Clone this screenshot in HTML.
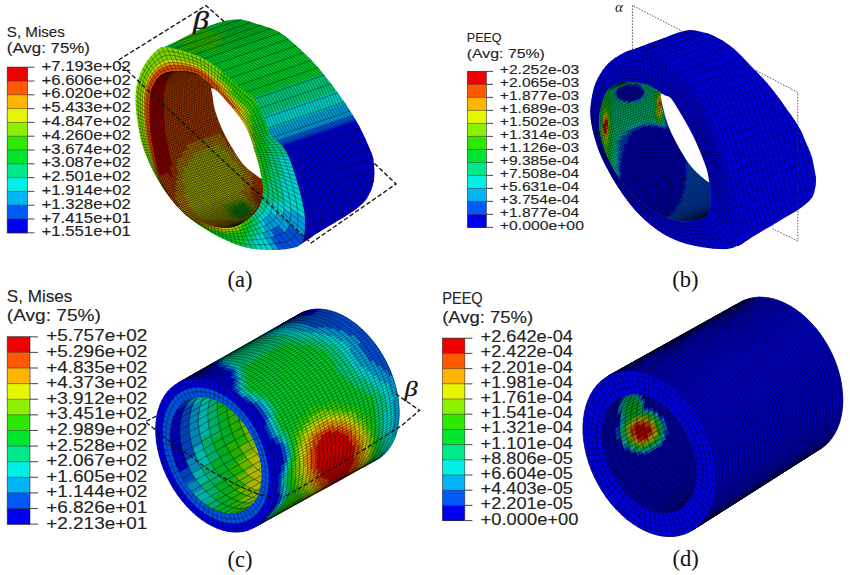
<!DOCTYPE html>
<html><head><meta charset="utf-8"><style>
html,body{margin:0;padding:0;background:#fff;}
svg{display:block;}
.ls{font-family:"Liberation Sans",sans-serif;}
.lsr{font-family:"Liberation Serif",serif;}
</style></head><body>
<svg width="850" height="575" viewBox="0 0 850 575">
<rect width="850" height="575" fill="#fff"/>
<g id="pa">
<defs><clipPath id="a_S"><path d="M135.5,100.0 C135.5,94.0 135.6,89.8 137.0,84.0 C138.4,78.2 141.0,70.8 144.0,65.5 C147.0,60.2 151.2,55.2 155.0,52.0 C158.8,48.8 162.7,47.9 166.5,46.0 C170.3,44.1 172.4,43.5 178.0,40.7 C183.6,38.0 192.5,32.7 200.0,29.5 C207.5,26.3 216.9,23.2 223.0,21.5 C229.1,19.8 232.7,19.7 236.5,19.5 C240.3,19.3 243.1,19.9 246.0,20.5 C248.9,21.1 250.5,21.9 254.0,23.0 C257.5,24.1 262.8,25.5 267.0,27.0 C271.2,28.5 275.0,29.7 279.0,32.0 C283.0,34.3 287.0,37.7 291.0,41.0 C295.0,44.3 299.0,48.2 303.0,52.0 C307.0,55.8 311.0,59.6 315.0,64.0 C319.0,68.4 322.3,72.5 327.0,78.5 C331.7,84.5 337.8,92.4 343.0,100.0 C348.2,107.6 353.4,115.7 358.0,124.0 C362.6,132.3 367.7,143.8 370.3,150.0 C372.9,156.2 373.1,156.7 373.7,161.5 C374.3,166.3 374.7,173.6 374.1,178.7 C373.5,183.8 372.2,187.9 370.3,192.0 C368.4,196.1 366.5,199.7 362.7,203.5 C358.9,207.3 353.1,211.2 347.4,215.0 C341.6,218.8 333.9,223.0 328.2,226.5 C322.5,230.0 317.4,233.1 313.0,236.0 C308.6,238.9 305.3,241.6 301.5,243.7 C297.7,245.8 294.6,247.4 290.0,248.5 C285.4,249.6 280.2,249.9 274.0,250.0 C267.8,250.1 259.6,249.9 253.0,248.9 C246.4,247.9 241.7,246.8 234.5,244.0 C227.3,241.2 218.1,236.8 210.0,232.0 C201.9,227.2 193.2,221.5 185.9,215.0 C178.6,208.5 172.1,200.7 166.4,193.0 C160.7,185.3 155.9,176.8 151.8,168.7 C147.7,160.6 144.4,152.4 142.0,144.3 C139.6,136.2 138.3,127.4 137.2,120.0 C136.1,112.6 135.5,106.0 135.5,100.0 Z"/></clipPath><clipPath id="a_F"><path d="M166.5,47.0 C174.0,47.8 190.4,52.7 200.0,57.0 C209.6,61.3 217.0,67.7 224.0,73.0 C231.0,78.3 236.7,84.5 242.0,89.0 C247.3,93.5 251.6,94.4 255.6,100.0 C259.6,105.6 263.4,116.8 266.0,122.6 C268.6,128.4 268.2,130.9 271.0,135.0 C273.8,139.1 279.8,142.8 283.0,147.0 C286.2,151.2 287.5,153.7 290.0,160.0 C292.5,166.3 295.7,176.7 298.0,185.0 C300.3,193.3 302.8,202.8 304.0,210.0 C305.2,217.2 305.4,222.4 305.0,228.0 C304.6,233.6 304.0,240.3 301.5,243.7 C299.0,247.1 294.6,247.4 290.0,248.5 C285.4,249.6 280.2,249.9 274.0,250.0 C267.8,250.1 259.6,249.9 253.0,248.9 C246.4,247.9 241.7,246.8 234.5,244.0 C227.3,241.2 218.1,236.8 210.0,232.0 C201.9,227.2 193.2,221.5 185.9,215.0 C178.6,208.5 172.1,200.7 166.4,193.0 C160.7,185.3 155.9,176.8 151.8,168.7 C147.7,160.6 144.4,152.4 142.0,144.3 C139.6,136.2 138.3,127.4 137.2,120.0 C136.1,112.6 135.5,106.0 135.5,100.0 C135.5,94.0 135.6,89.8 137.0,84.0 C138.4,78.2 141.0,70.8 144.0,65.5 C147.0,60.2 151.2,55.1 155.0,52.0 C158.8,48.9 159.0,46.2 166.5,47.0 Z"/></clipPath><clipPath id="a_E"><path d="M150.0,95.0 C151.1,88.3 153.5,83.7 156.0,80.0 C158.5,76.3 160.7,74.5 165.0,73.0 C169.3,71.5 176.7,70.8 182.0,71.0 C187.3,71.2 192.8,72.3 197.0,74.0 C201.2,75.7 204.2,78.7 207.0,81.0 C209.8,83.3 211.7,85.7 214.0,88.0 C216.3,90.3 218.2,92.0 221.0,95.0 C223.8,98.0 227.8,102.5 231.0,106.3 C234.2,110.1 237.3,113.8 240.0,117.6 C242.7,121.4 245.0,125.2 246.9,129.0 C248.8,132.8 250.1,136.4 251.4,140.2 C252.7,144.0 253.6,147.6 254.8,151.6 C256.0,155.6 257.4,159.6 258.5,164.0 C259.6,168.4 260.8,173.5 261.5,178.0 C262.2,182.5 263.4,186.2 263.0,191.0 C262.6,195.8 262.0,202.0 259.0,207.0 C256.0,212.0 250.3,217.5 245.0,221.0 C239.7,224.5 233.7,227.5 227.0,228.0 C220.3,228.5 212.7,227.0 205.0,224.0 C197.3,221.0 188.2,217.2 181.0,210.0 C173.8,202.8 166.3,192.0 161.5,181.0 C156.7,170.0 154.0,154.2 152.0,144.0 C150.0,133.8 149.8,128.2 149.5,120.0 C149.2,111.8 148.9,101.7 150.0,95.0 Z"/></clipPath></defs>
<g clip-path="url(#a_S)">
<path d="M134.8,42.9L141.6,44.8L255.6,5.8L248.8,3.9ZM141.6,44.8L148.5,46.7L262.5,7.7L255.6,5.8ZM148.5,46.7L155.3,48.6L186.4,38.0L179.6,36.1ZM200.3,29.0L207.1,30.9L269.3,9.6L262.5,7.7ZM155.3,48.6L162.1,50.5L182.9,43.4L176.0,41.5ZM207.1,30.9L214.0,32.8L276.1,11.5L269.3,9.6ZM162.1,50.5L169.0,52.2L189.7,45.2L182.9,43.4ZM214.0,32.8L220.8,34.5L283.0,13.2L276.1,11.5ZM169.0,52.2L175.9,54.1L186.2,50.5L179.4,48.7ZM220.8,34.5L227.7,36.3L289.9,15.1L283.0,13.2ZM175.9,54.1L182.7,56.1L193.0,52.5L186.2,50.5ZM217.3,39.9L224.1,41.9L296.7,17.1L289.9,15.1ZM182.7,56.1L189.4,58.3L210.1,51.3L203.4,49.0ZM213.8,45.4L220.5,47.7L303.4,19.3L296.7,17.1ZM189.4,58.3L195.8,61.3L309.8,22.3L303.4,19.3ZM195.8,61.3L201.9,64.9L315.9,25.9L309.8,22.3ZM201.9,64.9L207.7,68.9L321.7,29.9L315.9,25.9ZM207.7,68.9L213.4,73.3L327.4,34.3L321.7,29.9ZM213.4,73.3L218.9,77.6L332.9,38.6L327.4,34.3ZM218.9,77.6L224.3,82.3L338.3,43.3L332.9,38.6ZM224.3,82.3L229.5,87.1L343.5,48.1L338.3,43.3ZM229.5,87.1L234.7,91.9L348.7,52.9L343.5,48.1ZM234.7,91.9L240.5,95.9L354.5,56.9L348.7,52.9ZM240.5,95.9L246.1,100.3L360.1,61.3L354.5,56.9Z" fill="#00c327" stroke="#00c327" stroke-width="0.70"/>
<path d="M179.6,36.1L186.4,38.0L207.1,30.9L200.3,29.0ZM176.0,41.5L182.9,43.4L214.0,32.8L207.1,30.9ZM182.9,43.4L189.7,45.2L220.8,34.5L214.0,32.8ZM179.4,48.7L186.2,50.5L227.7,36.3L220.8,34.5ZM186.2,50.5L193.0,52.5L224.1,41.9L217.3,39.9ZM203.4,49.0L210.1,51.3L220.5,47.7L213.8,45.4Z" fill="#27c500" stroke="#27c500" stroke-width="0.70"/>
<path d="M246.1,100.3L250.1,106.1L364.1,67.1L360.1,61.3ZM250.1,106.1L253.2,112.5L367.2,73.5L364.1,67.1ZM253.2,112.5L255.9,119.1L369.9,80.1L367.2,73.5Z" fill="#00c577" stroke="#00c577" stroke-width="0.70"/>
<path d="M255.9,119.1L258.6,125.6L372.6,86.6L369.9,80.1ZM258.6,125.6L260.9,132.3L374.9,93.3L372.6,86.6Z" fill="#00ccc3" stroke="#00ccc3" stroke-width="0.70"/>
<path d="M260.9,132.3L264.1,138.6L378.1,99.6L374.9,93.3ZM264.1,138.6L269.2,143.5L383.2,104.5L378.1,99.6Z" fill="#0099d0" stroke="#0099d0" stroke-width="0.70"/>
<path d="M269.2,143.5L274.4,148.4L388.4,109.4L383.2,104.5Z" fill="#004cd0" stroke="#004cd0" stroke-width="0.70"/>
<path d="M274.4,148.4L278.5,154.1L392.5,115.1L388.4,109.4ZM278.5,154.1L281.6,160.5L395.6,121.5L392.5,115.1ZM281.6,160.5L284.1,167.1L398.1,128.1L395.6,121.5ZM284.1,167.1L286.3,173.8L400.3,134.8L398.1,128.1ZM286.3,173.8L288.4,180.6L402.4,141.6L400.3,134.8ZM288.4,180.6L290.4,187.4L404.4,148.4L402.4,141.6ZM290.4,187.4L292.2,194.3L406.2,155.3L404.4,148.4ZM292.2,194.3L294.0,201.1L408.0,162.1L406.2,155.3ZM294.0,201.1L295.6,208.1L409.6,169.1L408.0,162.1ZM295.6,208.1L296.8,215.0L410.8,176.0L409.6,169.1ZM296.8,215.0L297.5,222.1L411.5,183.1L410.8,176.0ZM297.5,222.1L297.5,229.2L411.5,190.2L411.5,183.1ZM297.5,229.2L296.5,236.2L410.5,197.2L411.5,190.2ZM296.5,236.2L294.8,243.1L408.8,204.1L410.5,197.2ZM294.8,243.1L293.0,249.9L407.0,210.9L408.8,204.1ZM293.0,249.9L291.3,256.8L405.3,217.8L407.0,210.9ZM291.3,256.8L289.6,263.7L403.6,224.7L405.3,217.8ZM289.6,263.7L287.9,270.6L401.9,231.6L403.6,224.7Z" fill="#0000cc" stroke="#0000cc" stroke-width="0.70"/>
<g fill="none" stroke="#000" stroke-opacity="0.75" stroke-width="0.50">
<path id="a_cr" d="M142.4,40.3l10.4,2.9l10.3,2.9l10.4,2.8l10.4,2.7l10.3,3.2l9.9,4.2l9.1,5.8l8.5,6.5l8.4,6.7l7.9,7.4l8.3,6.7l8.4,6.7l5.3,9.3l4.1,9.9l3.9,10.1l5,9.3l8,7.3l6.1,8.7l4.2,10l3.3,10.2l3.1,10.3l2.8,10.4l2.5,10.4l1.7,10.6l0.4,10.8l-1.7,10.6l-2.7,10.4l-2.6,10.4l-2.6,10.5"/>
<use href="#a_cr" transform="translate(-7.6 2.6)"/>
<use href="#a_cr" transform="translate(-5.1 1.7)"/>
<use href="#a_cr" transform="translate(-2.5 0.9)"/>
<use href="#a_cr" transform="translate(2.5 -0.9)"/>
<use href="#a_cr" transform="translate(5.1 -1.7)"/>
<use href="#a_cr" transform="translate(7.6 -2.6)"/>
<use href="#a_cr" transform="translate(10.1 -3.5)"/>
<use href="#a_cr" transform="translate(12.7 -4.3)"/>
<use href="#a_cr" transform="translate(15.2 -5.2)"/>
<use href="#a_cr" transform="translate(17.7 -6.1)"/>
<use href="#a_cr" transform="translate(20.3 -6.9)"/>
<use href="#a_cr" transform="translate(22.8 -7.8)"/>
<use href="#a_cr" transform="translate(25.3 -8.7)"/>
<use href="#a_cr" transform="translate(27.9 -9.5)"/>
<use href="#a_cr" transform="translate(30.4 -10.4)"/>
<use href="#a_cr" transform="translate(32.9 -11.3)"/>
<use href="#a_cr" transform="translate(35.5 -12.1)"/>
<use href="#a_cr" transform="translate(38.0 -13.0)"/>
<use href="#a_cr" transform="translate(40.5 -13.9)"/>
<use href="#a_cr" transform="translate(43.1 -14.7)"/>
<use href="#a_cr" transform="translate(45.6 -15.6)"/>
<use href="#a_cr" transform="translate(48.1 -16.5)"/>
<use href="#a_cr" transform="translate(50.7 -17.3)"/>
<use href="#a_cr" transform="translate(53.2 -18.2)"/>
<use href="#a_cr" transform="translate(55.7 -19.1)"/>
<use href="#a_cr" transform="translate(58.3 -19.9)"/>
<use href="#a_cr" transform="translate(60.8 -20.8)"/>
<use href="#a_cr" transform="translate(63.3 -21.7)"/>
<use href="#a_cr" transform="translate(65.9 -22.5)"/>
<use href="#a_cr" transform="translate(68.4 -23.4)"/>
<use href="#a_cr" transform="translate(70.9 -24.3)"/>
<use href="#a_cr" transform="translate(73.5 -25.1)"/>
<use href="#a_cr" transform="translate(76.0 -26.0)"/>
<use href="#a_cr" transform="translate(78.5 -26.9)"/>
<use href="#a_cr" transform="translate(81.1 -27.7)"/>
<use href="#a_cr" transform="translate(83.6 -28.6)"/>
<use href="#a_cr" transform="translate(86.1 -29.5)"/>
<use href="#a_cr" transform="translate(88.7 -30.3)"/>
<use href="#a_cr" transform="translate(91.2 -31.2)"/>
<use href="#a_cr" transform="translate(93.7 -32.1)"/>
<use href="#a_cr" transform="translate(96.3 -32.9)"/>
<use href="#a_cr" transform="translate(98.8 -33.8)"/>
<use href="#a_cr" transform="translate(101.3 -34.7)"/>
<use href="#a_cr" transform="translate(103.9 -35.5)"/>
<use href="#a_cr" transform="translate(106.4 -36.4)"/>
<path d="M134.8,42.9l114.0,-39.0M145.2,45.8l114.0,-39.0M155.5,48.7l114.0,-39.0M165.9,51.5l114.0,-39.0M176.3,54.2l114.0,-39.0M186.6,57.4l114.0,-39.0M196.5,61.6l114.0,-39.0M205.6,67.4l114.0,-39.0M214.1,73.9l114.0,-39.0M222.5,80.6l114.0,-39.0M230.4,88.0l114.0,-39.0M238.7,94.7l114.0,-39.0M247.1,101.4l114.0,-39.0M252.4,110.7l114.0,-39.0M256.5,120.6l114.0,-39.0M260.4,130.7l114.0,-39.0M265.4,140.0l114.0,-39.0M273.4,147.3l114.0,-39.0M279.5,156.0l114.0,-39.0M283.7,166.0l114.0,-39.0M287.0,176.2l114.0,-39.0M290.1,186.5l114.0,-39.0M292.9,196.9l114.0,-39.0M295.4,207.3l114.0,-39.0M297.1,217.9l114.0,-39.0M297.5,228.7l114.0,-39.0M295.8,239.3l114.0,-39.0M293.1,249.7l114.0,-39.0M290.5,260.1l114.0,-39.0M287.9,270.6l114.0,-39.0"/>
</g>
</g>
<g clip-path="url(#a_F)">
<path d="M254.3,150.0L254.9,151.9L258.7,152.0L258.0,150.0ZM254.9,151.9L255.5,153.8L259.5,154.2L258.7,152.0ZM255.5,153.8L256.1,155.8L260.2,156.3L259.5,154.2ZM256.1,155.8L256.8,157.9L260.9,158.6L260.2,156.3ZM256.8,157.9L257.4,160.1L261.7,161.0L260.9,158.6ZM257.4,160.1L258.1,162.3L262.4,163.4L261.7,161.0ZM258.1,162.3L258.7,164.7L263.1,166.0L262.4,163.4ZM258.7,164.7L259.3,167.2L263.8,168.7L263.1,166.0ZM259.3,167.2L259.9,169.7L264.4,171.6L263.8,168.7ZM249.2,217.9L246.6,219.9L248.4,223.5L251.4,221.7ZM246.6,219.9L243.8,221.8L245.3,225.1L248.4,223.5ZM243.8,221.8L240.9,223.5L243.4,229.5L246.9,228.4ZM242.2,226.5L238.9,227.7L240.9,233.2L244.7,232.6ZM239.9,230.5L236.4,231.1L238.1,236.3L242.1,236.4ZM236.4,231.1L232.7,231.5L234.0,236.0L238.1,236.3ZM232.7,231.5L229.1,231.5L230.0,235.4L234.0,236.0ZM229.5,233.3L225.8,232.7L226.1,234.5L230.0,235.4ZM225.8,232.7L222.1,232.0L222.3,233.5L226.1,234.5ZM222.1,232.0L218.5,231.0L218.7,232.3L222.3,233.5ZM218.5,231.0L215.0,229.9L215.2,232.3L218.8,233.8ZM215.1,231.0L211.7,229.6L211.7,230.7L215.2,232.3ZM211.7,229.6L208.4,228.1L208.3,230.0L211.7,231.9ZM208.4,228.1L205.2,226.5L205.0,229.0L208.3,231.0ZM205.2,226.5L202.1,225.0L201.9,227.0L205.0,229.0ZM202.1,225.0L199.2,223.4L198.9,225.0L201.9,227.0ZM199.2,223.4L196.3,221.7L196.1,223.0L198.9,225.0ZM196.3,221.7L193.6,220.0L193.3,221.0L196.1,223.0ZM193.6,220.0L190.9,218.3L190.7,219.0L193.3,221.0ZM190.9,218.3L188.4,216.5L188.2,217.0L190.7,219.0ZM188.4,216.5L186.0,214.6L185.8,214.9L188.2,217.0ZM186.0,214.6L183.7,212.7L183.6,212.9L185.8,214.9ZM183.7,212.7L181.5,210.6L181.4,210.7L183.6,212.9ZM181.5,210.6L179.4,208.5L179.4,208.6L181.4,210.7ZM179.4,208.5L177.4,206.4L177.4,206.5L179.4,208.6ZM177.4,206.4L175.5,204.3L175.5,204.4L177.4,206.5ZM175.5,204.3L173.8,202.1L173.7,202.3L175.5,204.4ZM173.8,202.1L172.1,200.0L171.9,200.2L173.7,202.3ZM172.1,200.0L170.4,197.9L170.2,198.0L171.9,200.2ZM170.4,197.9L168.8,195.7L168.6,196.0L170.2,198.0ZM220.6,78.4L223.2,80.6L224.6,73.5L221.6,71.2ZM223.2,80.6L225.8,82.8L227.4,75.7L224.6,73.5ZM225.8,82.8L228.1,85.1L230.1,78.1L227.4,75.7ZM228.1,85.1L230.4,87.2L232.6,80.4L230.1,78.1ZM230.4,87.2L232.5,89.4L235.1,82.6L232.6,80.4ZM231.4,92.5L233.3,94.5L237.4,84.8L235.1,82.6ZM233.3,94.5L235.2,96.5L239.7,86.9L237.4,84.8ZM235.2,96.5L237.0,98.3L241.9,88.9L239.7,86.9ZM237.0,98.3L238.9,100.0L244.2,90.7L241.9,88.9ZM238.9,100.0L240.7,101.6L246.6,92.4L244.2,90.7ZM240.7,101.6L242.5,103.2L249.0,93.9L246.6,92.4ZM242.5,103.2L244.3,104.8L251.3,95.6L249.0,93.9ZM244.3,104.8L246.0,106.5L253.5,97.5L251.3,95.6ZM246.0,106.5L247.5,108.4L255.3,99.7L253.5,97.5ZM247.5,108.4L248.8,110.4L256.9,102.1L255.3,99.7ZM248.8,110.4L250.0,112.4L258.3,104.6L256.9,102.1ZM250.0,112.4L251.2,114.5L253.9,112.1L252.7,109.9ZM248.8,116.5L249.8,118.4L254.9,114.4L253.9,112.1ZM249.8,118.4L250.8,120.3L256.0,116.6L254.9,114.4ZM250.8,120.3L251.8,122.3L257.0,118.8L256.0,116.6ZM251.8,122.3L252.7,124.2L257.9,121.0L257.0,118.8ZM250.6,125.4L251.4,127.2L258.8,123.2L257.9,121.0ZM251.4,127.2L252.2,129.0L256.9,126.7L256.0,124.7ZM252.2,129.0L253.0,130.9L257.7,128.7L256.9,126.7ZM253.0,130.9L253.7,132.7L258.5,130.8L257.7,128.7ZM251.5,133.6L252.2,135.3L259.2,132.9L258.5,130.8ZM252.2,135.3L252.8,137.1L259.9,134.9L259.2,132.9ZM252.8,137.1L253.5,138.8L260.9,136.9L259.9,134.9ZM253.5,138.8L254.2,140.6L259.2,139.5L258.2,137.6ZM254.2,140.6L255.0,142.4L260.4,141.5L259.2,139.5ZM255.0,142.4L255.8,144.2L261.7,143.5L260.4,141.5ZM255.8,144.2L256.5,146.1L259.8,145.8L258.7,143.8ZM253.3,146.4L253.8,148.2L260.8,147.9L259.8,145.8ZM253.8,148.2L254.3,150.0L258.0,150.0L257.3,148.0Z" fill="#28cc00" stroke="#28cc00" stroke-width="0.70"/>
<path d="M258.0,150.0L258.7,152.0L271.0,152.6L269.7,150.0ZM258.7,152.0L259.5,154.2L272.0,155.2L271.0,152.6ZM259.5,154.2L260.2,156.3L268.3,157.4L267.4,154.8ZM260.2,156.3L260.9,158.6L269.2,160.0L268.3,157.4ZM260.9,158.6L261.7,161.0L270.1,162.8L269.2,160.0ZM261.7,161.0L262.4,163.4L271.0,165.7L270.1,162.8ZM262.4,163.4L263.1,166.0L271.9,168.7L271.0,165.7ZM263.1,166.0L263.8,168.7L268.2,170.3L267.5,167.3ZM263.8,168.7L264.4,171.6L269.0,173.4L268.2,170.3ZM259.9,169.7L260.5,172.5L269.8,176.6L269.0,173.4ZM260.5,172.5L261.0,175.3L270.5,180.1L269.8,176.6ZM261.0,175.3L261.6,178.3L271.3,183.7L270.5,180.1ZM261.6,178.3L262.2,181.6L267.1,184.6L266.4,181.0ZM262.2,181.6L262.8,185.1L267.8,188.4L267.1,184.6ZM262.8,185.1L263.1,188.6L268.1,192.2L267.8,188.4ZM263.1,188.6L262.9,191.9L268.0,196.0L268.1,192.2ZM251.7,215.7L249.2,217.9L251.4,221.7L254.3,219.8ZM251.4,221.7L248.4,223.5L250.3,227.1L253.6,225.6ZM248.4,223.5L245.3,225.1L248.5,231.7L252.2,230.7ZM246.9,228.4L243.4,229.5L246.2,236.1L250.3,235.6ZM244.7,232.6L240.9,233.2L243.5,240.0L247.9,240.1ZM242.1,236.4L238.1,236.3L241.3,246.4L246.3,247.7ZM238.1,236.3L234.0,236.0L236.5,244.7L241.3,246.4ZM234.0,236.0L230.0,235.4L231.8,242.9L236.5,244.7ZM230.0,235.4L226.1,234.5L227.4,241.0L231.8,242.9ZM226.1,234.5L222.3,233.5L223.1,239.0L227.4,241.0ZM222.3,233.5L218.7,232.3L219.1,237.0L223.1,239.0ZM218.8,233.8L215.2,232.3L215.3,235.0L219.1,237.0ZM215.2,232.3L211.7,230.7L211.7,233.0L215.3,235.0ZM211.7,231.9L208.3,230.0L208.3,231.0L211.7,233.0ZM252.7,109.9L253.9,112.1L259.6,107.2L258.3,104.6ZM253.9,112.1L254.9,114.4L260.7,109.8L259.6,107.2ZM254.9,114.4L256.0,116.6L261.8,112.4L260.7,109.8ZM256.0,116.6L257.0,118.8L262.8,114.9L261.8,112.4ZM257.0,118.8L257.9,121.0L263.9,117.4L262.8,114.9ZM257.9,121.0L258.8,123.2L264.8,119.8L263.9,117.4ZM256.0,124.7L256.9,126.7L265.9,122.3L264.8,119.8ZM256.9,126.7L257.7,128.7L266.8,124.7L265.9,122.3ZM257.7,128.7L258.5,130.8L267.7,127.2L266.8,124.7ZM258.5,130.8L259.2,132.9L268.5,129.6L267.7,127.2ZM259.2,132.9L259.9,134.9L269.3,132.1L268.5,129.6ZM259.9,134.9L260.9,136.9L270.6,134.4L269.3,132.1ZM258.2,137.6L259.2,139.5L265.4,138.2L264.0,136.1ZM259.2,139.5L260.4,141.5L267.1,140.3L265.4,138.2ZM260.4,141.5L261.7,143.5L269.1,142.5L267.1,140.3ZM258.7,143.8L259.8,145.8L271.1,144.9L269.1,142.5ZM259.8,145.8L260.8,147.9L268.4,147.6L266.8,145.2ZM257.3,148.0L258.0,150.0L269.7,150.0L268.4,147.6Z" fill="#00ca28" stroke="#00ca28" stroke-width="0.70"/>
<path d="M269.7,150.0L271.0,152.6L287.0,153.2L285.1,150.0ZM271.0,152.6L272.0,155.2L288.6,156.6L287.0,153.2ZM267.4,154.8L268.3,157.4L278.5,158.7L277.3,155.7ZM268.3,157.4L269.2,160.0L279.6,161.8L278.5,158.7ZM269.2,160.0L270.1,162.8L280.7,165.0L279.6,161.8ZM270.1,162.8L271.0,165.7L281.8,168.4L280.7,165.0ZM271.0,165.7L271.9,168.7L282.8,172.0L281.8,168.4ZM267.5,167.3L268.2,170.3L283.9,175.7L282.8,172.0ZM268.2,170.3L269.0,173.4L285.0,179.7L283.9,175.7ZM269.0,173.4L269.8,176.6L279.9,181.1L278.9,177.3ZM269.8,176.6L270.5,180.1L280.9,185.2L279.9,181.1ZM270.5,180.1L271.3,183.7L281.8,189.5L280.9,185.2ZM266.4,181.0L267.1,184.6L282.8,194.1L281.8,189.5ZM267.1,184.6L267.8,188.4L283.6,198.9L282.8,194.1ZM267.8,188.4L268.1,192.2L284.1,203.8L283.6,198.9ZM268.1,192.2L268.0,196.0L278.1,204.0L278.2,199.5ZM262.9,191.9L262.6,195.4L272.7,204.1L273.1,200.0ZM262.6,195.4L262.0,198.8L267.0,203.5L267.6,199.7ZM262.0,198.8L261.1,202.2L266.0,207.2L267.0,203.5ZM261.1,202.2L259.9,205.4L264.3,210.3L266.0,207.2ZM259.9,205.4L258.2,208.3L262.2,213.1L264.3,210.3ZM256.2,210.9L254.0,213.4L257.1,217.7L259.7,215.5ZM254.0,213.4L251.7,215.7L256.9,223.9L260.1,222.1ZM254.3,219.8L251.4,221.7L258.5,233.9L262.6,232.9ZM253.6,225.6L250.3,227.1L254.4,234.9L258.5,233.9ZM252.2,230.7L248.5,231.7L252.3,240.0L256.9,239.6ZM250.3,235.6L246.2,236.1L251.5,248.7L256.8,249.4ZM247.9,240.1L243.5,240.0L246.3,247.7L251.5,248.7ZM264.0,136.1L265.4,138.2L272.4,136.7L270.6,134.4ZM265.4,138.2L267.1,140.3L274.7,139.1L272.4,136.7ZM267.1,140.3L269.1,142.5L277.5,141.5L274.7,139.1ZM269.1,142.5L271.1,144.9L280.3,144.1L277.5,141.5ZM266.8,145.2L268.4,147.6L283.0,146.9L280.3,144.1ZM268.4,147.6L269.7,150.0L285.1,150.0L283.0,146.9Z" fill="#00cc7b" stroke="#00cc7b" stroke-width="0.70"/>
<path d="M277.3,155.7L278.5,158.7L290.0,160.1L288.6,156.6ZM278.5,158.7L279.6,161.8L291.4,163.8L290.0,160.1ZM279.6,161.8L280.7,165.0L292.7,167.6L291.4,163.8ZM280.7,165.0L281.8,168.4L294.0,171.6L292.7,167.6ZM281.8,168.4L282.8,172.0L295.3,175.8L294.0,171.6ZM282.8,172.0L283.9,175.7L296.6,180.2L295.3,175.8ZM283.9,175.7L285.0,179.7L297.9,184.8L296.6,180.2ZM278.9,177.3L279.9,181.1L299.3,189.8L297.9,184.8ZM279.9,181.1L280.9,185.2L300.7,195.0L299.3,189.8ZM280.9,185.2L281.8,189.5L302.1,200.6L300.7,195.0ZM281.8,189.5L282.8,194.1L303.4,206.5L302.1,200.6ZM282.8,194.1L283.6,198.9L304.4,212.7L303.4,206.5ZM283.6,198.9L284.1,203.8L305.1,219.1L304.4,212.7ZM278.2,199.5L278.1,204.0L290.8,214.0L290.8,208.7ZM273.1,200.0L272.7,204.1L283.6,213.5L284.0,208.7ZM267.6,199.7L267.0,203.5L282.9,218.4L283.6,213.5ZM267.0,203.5L266.0,207.2L275.7,217.1L277.0,212.9ZM266.0,207.2L264.3,210.3L268.8,215.3L270.8,212.1ZM264.3,210.3L262.2,213.1L266.1,217.9L268.8,215.3ZM258.2,208.3L256.2,210.9L263.2,220.1L266.1,217.9ZM259.7,215.5L257.1,217.7L263.2,226.5L266.7,224.7ZM260.1,222.1L256.9,223.9L262.6,232.9L266.7,231.6ZM262.6,232.9L258.5,233.9L267.7,250.0L273.5,250.0ZM258.5,233.9L254.4,234.9L262.2,249.8L267.7,250.0ZM256.9,239.6L252.3,240.0L256.8,249.4L262.2,249.8Z" fill="#00d3ca" stroke="#00d3ca" stroke-width="0.70"/>
<path d="M290.8,208.7L290.8,214.0L305.1,225.4L305.1,219.1ZM284.0,208.7L283.6,213.5L304.7,231.7L305.1,225.4ZM283.6,213.5L282.9,218.4L303.8,238.0L304.7,231.7ZM277.0,212.9L275.7,217.1L287.8,229.5L289.6,224.7ZM270.8,212.1L268.8,215.3L284.5,232.7L287.8,229.5ZM268.8,215.3L266.1,217.9L274.7,228.2L278.5,226.1ZM266.1,217.9L263.2,220.1L270.8,230.1L274.7,228.2ZM266.7,224.7L263.2,226.5L270.8,237.4L275.5,236.3ZM266.7,231.6L262.6,232.9L273.5,250.0L279.4,249.8Z" fill="#009ed7" stroke="#009ed7" stroke-width="0.70"/>
<path d="M289.6,224.7L287.8,229.5L301.6,243.5L303.8,238.0ZM287.8,229.5L284.5,232.7L297.1,246.8L301.6,243.5ZM278.5,226.1L274.7,228.2L291.3,248.2L297.1,246.8ZM274.7,228.2L270.8,230.1L285.4,249.3L291.3,248.2ZM275.5,236.3L270.8,237.4L279.4,249.8L285.4,249.3Z" fill="#004fd7" stroke="#004fd7" stroke-width="0.70"/>
<path d="M240.9,223.5L237.9,225.0L238.9,227.7L242.2,226.5ZM237.9,225.0L234.8,226.3L236.4,231.1L239.9,230.5ZM234.8,226.3L231.6,227.3L232.7,231.5L236.4,231.1ZM232.2,229.4L228.7,229.7L229.1,231.5L232.7,231.5ZM228.7,229.7L225.2,229.6L225.8,232.7L229.5,233.3ZM225.5,231.2L221.9,230.6L222.1,232.0L225.8,232.7ZM221.9,230.6L218.4,229.9L218.5,231.0L222.1,232.0ZM218.4,229.9L215.0,228.9L215.0,229.9L218.5,231.0ZM215.0,228.9L211.6,227.8L211.7,229.6L215.1,231.0ZM211.6,228.7L208.4,227.3L208.4,228.1L211.7,229.6ZM208.4,227.3L205.2,225.9L205.2,226.5L208.4,228.1ZM205.2,225.9L202.2,224.4L202.1,225.0L205.2,226.5ZM202.2,224.4L199.2,222.9L199.2,223.4L202.1,225.0ZM199.2,222.9L196.4,221.4L196.3,221.7L199.2,223.4ZM196.4,221.4L193.6,219.8L193.6,220.0L196.3,221.7ZM193.6,219.8L191.0,218.1L190.9,218.3L193.6,220.0ZM191.0,218.1L188.4,216.4L188.4,216.5L190.9,218.3ZM188.4,216.4L186.0,214.5L186.0,214.6L188.4,216.5ZM186.0,214.5L183.7,212.6L183.7,212.7L186.0,214.6ZM183.7,212.6L181.5,210.6L181.5,210.6L183.7,212.7ZM181.5,210.6L179.4,208.5L179.4,208.5L181.5,210.6ZM179.4,208.5L177.5,206.4L177.4,206.4L179.4,208.5ZM177.5,206.4L175.6,204.2L175.5,204.3L177.4,206.4ZM175.6,204.2L173.8,202.0L173.8,202.1L175.5,204.3ZM173.8,202.1L172.1,199.9L172.1,200.0L173.8,202.1ZM172.1,199.9L170.5,197.8L170.4,197.9L172.1,200.0ZM170.5,197.8L168.9,195.6L168.8,195.7L170.4,197.9ZM168.9,195.6L167.4,193.5L167.0,193.9L168.6,196.0ZM167.4,193.5L166.0,191.3L165.5,191.8L167.0,193.9ZM166.0,191.3L164.7,189.1L164.0,189.7L165.5,191.8ZM164.7,189.1L163.3,187.0L162.6,187.6L164.0,189.7ZM163.3,187.0L162.1,184.8L161.2,185.4L162.6,187.6ZM162.1,184.8L160.9,182.6L159.9,183.3L161.2,185.4ZM160.9,182.6L159.8,180.4L158.6,181.1L159.9,183.3ZM159.8,180.4L158.7,178.2L157.3,179.0L158.6,181.1ZM158.7,178.2L157.7,176.0L156.1,176.8L157.3,179.0ZM157.7,176.0L156.7,173.7L154.8,174.6L156.1,176.8ZM156.7,173.7L155.8,171.5L153.7,172.3L154.8,174.6ZM155.8,171.5L154.9,169.2L152.5,170.0L153.7,172.3ZM154.9,169.2L154.0,166.9L151.3,167.7L152.5,170.0ZM154.0,166.9L153.1,164.6L150.2,165.4L151.3,167.7ZM153.1,164.6L152.3,162.3L149.1,163.0L150.2,165.4ZM152.3,162.3L151.5,159.9L148.0,160.5L149.1,163.0ZM151.5,159.9L150.7,157.5L146.9,158.0L148.0,160.5ZM150.7,157.5L150.0,155.0L145.8,155.4L146.9,158.0ZM150.0,155.0L149.2,152.5L144.8,152.7L145.8,155.4ZM149.2,152.5L148.5,150.0L143.9,150.0L144.8,152.7ZM148.5,150.0L147.8,147.4L142.9,147.2L143.9,150.0ZM147.8,147.4L147.1,144.7L142.0,144.3L142.9,147.2ZM147.1,144.7L146.5,142.0L141.2,141.3L142.0,144.3ZM146.5,142.0L145.8,139.1L140.4,138.2L141.2,141.3ZM145.8,139.1L145.3,136.2L139.7,135.1L140.4,138.2ZM145.3,136.2L144.8,133.3L139.1,131.8L139.7,135.1ZM144.8,133.3L144.3,130.2L138.5,128.4L139.1,131.8ZM144.3,130.2L143.9,127.0L137.9,124.9L138.5,128.4ZM143.9,127.0L143.6,123.7L137.4,121.2L137.9,124.9ZM143.6,123.7L143.2,120.3L136.8,117.4L137.4,121.2ZM143.2,120.3L142.9,116.7L136.4,113.4L136.8,117.4ZM142.9,116.7L142.7,113.0L135.9,109.3L136.4,113.4ZM142.7,113.0L142.5,109.1L135.6,105.0L135.9,109.3ZM142.5,109.1L142.4,105.1L135.5,100.5L135.6,105.0ZM142.4,105.1L142.4,100.9L135.5,95.9L135.5,100.5ZM142.4,100.9L142.6,96.5L135.8,91.2L135.5,95.9ZM142.6,96.5L143.0,92.2L136.4,86.5L135.8,91.2ZM143.0,92.2L143.9,87.9L137.5,82.0L136.4,86.5ZM143.9,87.9L145.0,83.7L138.9,77.4L137.5,82.0ZM145.0,83.7L146.6,79.5L140.6,72.9L138.9,77.4ZM146.6,79.5L148.4,75.5L142.5,68.4L140.6,72.9ZM148.4,75.5L150.6,71.8L144.8,64.1L142.5,68.4ZM150.6,71.8L153.2,68.3L147.5,60.1L144.8,64.1ZM153.2,68.3L156.3,65.3L150.6,56.3L147.5,60.1ZM156.3,65.3L159.7,62.9L153.9,52.9L150.6,56.3ZM159.7,62.9L163.4,60.8L157.5,49.6L153.9,52.9ZM163.4,60.8L167.3,59.2L161.6,47.1L157.5,49.6ZM167.3,59.2L171.8,59.1L166.7,47.0L161.6,47.1ZM171.8,59.1L176.3,59.5L172.1,48.0L166.7,47.0ZM176.3,59.5L180.8,60.2L177.3,49.2L172.1,48.0ZM180.8,60.2L185.2,61.1L182.3,50.6L177.3,49.2ZM185.2,61.1L189.4,62.2L187.0,52.1L182.3,50.6ZM189.4,62.2L193.5,63.5L191.6,53.7L187.0,52.1ZM193.5,63.5L197.5,65.1L196.0,55.3L191.6,53.7ZM197.5,65.1L201.3,67.1L200.2,57.1L196.0,55.3ZM201.3,67.1L204.9,69.5L204.3,59.1L200.2,57.1ZM204.9,69.5L208.4,71.9L208.1,61.4L204.3,59.1ZM208.4,71.9L211.6,74.5L211.8,63.8L208.1,61.4ZM211.6,74.5L214.6,77.1L215.3,66.3L211.8,63.8ZM214.6,77.1L217.4,79.5L218.5,68.8L215.3,66.3ZM217.4,79.5L220.1,81.8L221.6,71.2L218.5,68.8ZM220.1,81.8L222.6,84.0L223.2,80.6L220.6,78.4ZM222.6,84.0L225.0,86.2L225.8,82.8L223.2,80.6ZM225.0,86.2L227.2,88.4L228.1,85.1L225.8,82.8ZM226.4,91.2L228.4,93.3L230.4,87.2L228.1,85.1ZM228.4,93.3L230.3,95.3L232.5,89.4L230.4,87.2ZM230.3,95.3L232.2,97.2L233.3,94.5L231.4,92.5ZM232.2,97.2L233.9,99.1L235.2,96.5L233.3,94.5ZM233.9,99.1L235.7,100.9L237.0,98.3L235.2,96.5ZM235.7,100.9L237.4,102.6L238.9,100.0L237.0,98.3ZM237.4,102.6L239.1,104.2L240.7,101.6L238.9,100.0ZM239.1,104.2L240.7,105.8L242.5,103.2L240.7,101.6ZM240.7,105.8L242.4,107.4L244.3,104.8L242.5,103.2ZM242.4,107.4L243.9,109.0L246.0,106.5L244.3,104.8ZM243.9,109.0L245.3,110.8L247.5,108.4L246.0,106.5ZM243.4,112.9L244.6,114.7L248.8,110.4L247.5,108.4ZM244.6,114.7L245.7,116.4L250.0,112.4L248.8,110.4ZM245.7,116.4L246.8,118.2L251.2,114.5L250.0,112.4ZM244.8,120.0L245.8,121.7L249.8,118.4L248.8,116.5ZM245.8,121.7L246.7,123.3L250.8,120.3L249.8,118.4ZM246.7,123.3L247.6,125.0L251.8,122.3L250.8,120.3ZM247.6,125.0L248.5,126.7L252.7,124.2L251.8,122.3ZM248.5,126.7L249.3,128.4L251.4,127.2L250.6,125.4ZM249.3,128.4L250.1,130.1L252.2,129.0L251.4,127.2ZM247.9,131.2L248.6,132.8L253.0,130.9L252.2,129.0ZM248.6,132.8L249.3,134.4L253.7,132.7L253.0,130.9ZM249.3,134.4L249.9,136.1L252.2,135.3L251.5,133.6ZM249.9,136.1L250.5,137.8L252.8,137.1L252.2,135.3ZM250.5,137.8L251.1,139.4L253.5,138.8L252.8,137.1ZM251.1,139.4L251.7,141.1L254.2,140.6L253.5,138.8ZM251.7,141.1L252.3,142.9L255.0,142.4L254.2,140.6ZM252.3,142.9L252.8,144.6L255.8,144.2L255.0,142.4ZM252.8,144.6L253.3,146.4L256.5,146.1L255.8,144.2Z" fill="#7bd300" stroke="#7bd300" stroke-width="0.70"/>
<path d="M231.6,227.3L228.3,227.9L228.7,229.7L232.2,229.4ZM228.3,227.9L224.9,228.1L225.2,229.6L228.7,229.7ZM224.9,228.1L221.5,228.0L221.9,230.6L225.5,231.2ZM221.5,228.0L218.2,227.6L218.4,229.9L221.9,230.6ZM218.3,228.7L214.9,228.0L215.0,228.9L218.4,229.9ZM214.9,228.0L211.6,227.0L211.6,227.8L215.0,228.9ZM211.6,227.0L208.4,225.9L208.4,227.3L211.6,228.7ZM208.4,226.6L205.3,225.3L205.2,225.9L208.4,227.3ZM205.3,225.3L202.2,223.9L202.2,224.4L205.2,225.9ZM202.2,223.9L199.3,222.5L199.2,222.9L202.2,224.4ZM199.3,222.5L196.4,221.1L196.4,221.4L199.2,222.9ZM196.4,221.1L193.7,219.5L193.6,219.8L196.4,221.4ZM193.7,219.5L191.0,217.9L191.0,218.1L193.6,219.8ZM191.0,217.9L188.5,216.3L188.4,216.4L191.0,218.1ZM188.5,216.3L186.0,214.5L186.0,214.5L188.4,216.4ZM186.0,214.5L183.7,212.6L183.7,212.6L186.0,214.5ZM183.7,212.6L181.5,210.6L181.5,210.6L183.7,212.6ZM181.5,210.6L179.4,208.5L179.4,208.5L181.5,210.6ZM179.4,208.5L177.5,206.3L177.5,206.4L179.4,208.5ZM177.5,206.3L175.6,204.2L175.6,204.2L177.5,206.4ZM175.6,204.2L173.9,202.0L173.8,202.0L175.6,204.2ZM173.8,202.0L172.2,199.9L172.1,199.9L173.8,202.1ZM172.2,199.9L170.6,197.7L170.5,197.8L172.1,199.9ZM170.6,197.7L169.0,195.5L168.9,195.6L170.5,197.8ZM169.0,195.5L167.6,193.3L167.4,193.5L168.9,195.6ZM167.6,193.3L166.2,191.2L166.0,191.3L167.4,193.5ZM166.2,191.2L164.8,189.0L164.7,189.1L166.0,191.3ZM164.8,189.0L163.6,186.8L163.3,187.0L164.7,189.1ZM163.6,186.8L162.3,184.6L162.1,184.8L163.3,187.0ZM162.3,184.6L161.2,182.4L160.9,182.6L162.1,184.8ZM161.2,182.4L160.1,180.2L159.8,180.4L160.9,182.6ZM160.1,180.2L159.1,178.0L158.7,178.2L159.8,180.4ZM159.1,178.0L158.1,175.8L157.7,176.0L158.7,178.2ZM158.1,175.8L157.2,173.5L156.7,173.7L157.7,176.0ZM157.2,173.5L156.3,171.2L155.8,171.5L156.7,173.7ZM156.3,171.2L155.5,169.0L154.9,169.2L155.8,171.5ZM155.5,169.0L154.7,166.7L154.0,166.9L154.9,169.2ZM154.7,166.7L154.0,164.4L153.1,164.6L154.0,166.9ZM154.0,164.4L153.2,162.1L152.3,162.3L153.1,164.6ZM153.2,162.1L152.5,159.7L151.5,159.9L152.3,162.3ZM152.5,159.7L151.8,157.4L150.7,157.5L151.5,159.9ZM151.8,157.4L151.1,154.9L150.0,155.0L150.7,157.5ZM151.1,154.9L150.5,152.5L149.2,152.5L150.0,155.0ZM150.5,152.5L149.8,150.0L148.5,150.0L149.2,152.5ZM149.8,150.0L149.2,147.5L147.8,147.4L148.5,150.0ZM149.2,147.5L148.5,144.8L147.1,144.7L147.8,147.4ZM148.5,144.8L147.9,142.2L146.5,142.0L147.1,144.7ZM147.9,142.2L147.4,139.4L145.8,139.1L146.5,142.0ZM147.4,139.4L146.8,136.6L145.3,136.2L145.8,139.1ZM146.8,136.6L146.4,133.7L144.8,133.3L145.3,136.2ZM146.4,133.7L146.0,130.7L144.3,130.2L144.8,133.3ZM146.0,130.7L145.6,127.6L143.9,127.0L144.3,130.2ZM145.6,127.6L145.3,124.4L143.6,123.7L143.9,127.0ZM145.3,124.4L145.0,121.1L143.2,120.3L143.6,123.7ZM145.0,121.1L144.8,117.6L142.9,116.7L143.2,120.3ZM144.8,117.6L144.5,114.0L142.7,113.0L142.9,116.7ZM144.5,114.0L144.4,110.3L142.5,109.1L142.7,113.0ZM144.4,110.3L144.3,106.3L142.4,105.1L142.5,109.1ZM144.3,106.3L144.3,102.3L142.4,100.9L142.4,105.1ZM144.3,102.3L144.5,98.1L142.6,96.5L142.4,100.9ZM144.5,98.1L144.9,93.8L143.0,92.2L142.6,96.5ZM144.9,93.8L145.6,89.6L143.9,87.9L143.0,92.2ZM145.6,89.6L146.8,85.4L145.0,83.7L143.9,87.9ZM146.8,85.4L148.2,81.4L146.6,79.5L145.0,83.7ZM148.2,81.4L150.1,77.5L148.4,75.5L146.6,79.5ZM150.1,77.5L152.2,73.9L150.6,71.8L148.4,75.5ZM152.2,73.9L154.8,70.6L153.2,68.3L150.6,71.8ZM154.8,70.6L157.9,67.8L156.3,65.3L153.2,68.3ZM157.9,67.8L161.3,65.7L159.7,62.9L156.3,65.3ZM161.3,65.7L165.0,63.9L163.4,60.8L159.7,62.9ZM165.0,63.9L168.9,62.6L167.3,59.2L163.4,60.8ZM168.9,62.6L173.2,62.4L171.8,59.1L167.3,59.2ZM173.2,62.4L177.5,62.7L176.3,59.5L171.8,59.1ZM177.5,62.7L181.8,63.3L180.8,60.2L176.3,59.5ZM181.8,63.3L186.0,64.1L185.2,61.1L180.8,60.2ZM186.0,64.1L190.1,65.1L189.4,62.2L185.2,61.1ZM190.1,65.1L194.0,66.3L193.5,63.5L189.4,62.2ZM194.0,66.3L197.9,67.9L197.5,65.1L193.5,63.5ZM197.9,67.9L201.6,69.9L201.3,67.1L197.5,65.1ZM201.6,69.9L205.1,72.4L204.9,69.5L201.3,67.1ZM205.1,72.4L208.4,74.8L208.4,71.9L204.9,69.5ZM208.4,74.8L211.5,77.5L211.6,74.5L208.4,71.9ZM211.5,77.5L214.4,80.1L214.6,77.1L211.6,74.5ZM214.4,80.1L217.1,82.5L217.4,79.5L214.6,77.1ZM217.1,82.5L219.6,84.8L220.1,81.8L217.4,79.5ZM219.6,84.8L222.0,87.0L222.6,84.0L220.1,81.8ZM222.0,87.0L224.3,89.1L225.0,86.2L222.6,84.0ZM224.3,89.1L226.4,91.2L227.2,88.4L225.0,86.2ZM225.7,93.7L227.6,95.7L228.4,93.3L226.4,91.2ZM227.6,95.7L229.5,97.7L230.3,95.3L228.4,93.3ZM229.5,97.7L231.2,99.6L232.2,97.2L230.3,95.3ZM231.2,99.6L232.9,101.4L233.9,99.1L232.2,97.2ZM232.9,101.4L234.5,103.2L235.7,100.9L233.9,99.1ZM234.5,103.2L236.1,104.8L237.4,102.6L235.7,100.9ZM236.1,104.8L237.6,106.4L239.1,104.2L237.4,102.6ZM237.6,106.4L239.2,108.0L240.7,105.8L239.1,104.2ZM239.2,108.0L240.7,109.6L242.4,107.4L240.7,105.8ZM239.0,111.8L240.3,113.4L243.9,109.0L242.4,107.4ZM240.3,113.4L241.5,115.0L245.3,110.8L243.9,109.0ZM241.5,115.0L242.7,116.6L244.6,114.7L243.4,112.9ZM242.7,116.6L243.7,118.3L245.7,116.4L244.6,114.7ZM241.8,120.2L242.8,121.7L246.8,118.2L245.7,116.4ZM242.8,121.7L243.7,123.3L245.8,121.7L244.8,120.0ZM243.7,123.3L244.6,124.8L246.7,123.3L245.8,121.7ZM244.6,124.8L245.5,126.4L247.6,125.0L246.7,123.3ZM245.5,126.4L246.4,128.0L248.5,126.7L247.6,125.0ZM246.4,128.0L247.2,129.6L249.3,128.4L248.5,126.7ZM247.2,129.6L247.9,131.2L250.1,130.1L249.3,128.4Z" fill="#cad700" stroke="#cad700" stroke-width="0.70"/>
<path d="M218.2,227.6L214.8,227.0L214.9,228.0L218.3,228.7ZM214.8,227.0L211.6,226.2L211.6,227.0L214.9,228.0ZM211.6,226.2L208.4,225.2L208.4,225.9L211.6,227.0ZM208.4,225.2L205.3,224.1L205.3,225.3L208.4,226.6ZM205.3,224.1L202.3,222.9L202.2,223.9L205.3,225.3ZM202.3,222.9L199.4,221.7L199.3,222.5L202.2,223.9ZM199.4,221.7L196.6,220.4L196.4,221.1L199.3,222.5ZM196.6,220.4L193.8,219.1L193.7,219.5L196.4,221.1ZM193.8,219.1L191.1,217.6L191.0,217.9L193.7,219.5ZM191.1,217.6L188.5,216.0L188.5,216.3L191.0,217.9ZM188.5,216.0L186.1,214.3L186.0,214.5L188.5,216.3ZM186.1,214.4L183.7,212.5L183.7,212.6L186.0,214.5ZM183.7,212.5L181.5,210.5L181.5,210.6L183.7,212.6ZM181.5,210.5L179.4,208.4L179.4,208.5L181.5,210.6ZM179.4,208.4L177.5,206.3L177.5,206.3L179.4,208.5ZM177.5,206.3L175.6,204.1L175.6,204.2L177.5,206.3ZM175.6,204.1L173.9,201.9L173.9,202.0L175.6,204.2ZM173.9,201.9L172.2,199.7L172.2,199.9L173.8,202.0ZM172.2,199.7L170.7,197.5L170.6,197.7L172.2,199.9ZM170.7,197.5L169.2,195.3L169.0,195.5L170.6,197.7ZM169.1,195.4L167.7,193.2L167.6,193.3L169.0,195.5ZM167.7,193.2L166.3,191.1L166.2,191.2L167.6,193.3ZM166.3,191.1L165.0,188.9L164.8,189.0L166.2,191.2ZM165.0,188.9L163.7,186.7L163.6,186.8L164.8,189.0ZM163.7,186.7L162.6,184.5L162.3,184.6L163.6,186.8ZM162.6,184.5L161.4,182.3L161.2,182.4L162.3,184.6ZM161.4,182.3L160.4,180.0L160.1,180.2L161.2,182.4ZM160.4,180.0L159.4,177.8L159.1,178.0L160.1,180.2ZM159.4,177.8L158.5,175.6L158.1,175.8L159.1,178.0ZM158.5,175.6L157.7,173.3L157.2,173.5L158.1,175.8ZM157.7,173.3L156.9,171.0L156.3,171.2L157.2,173.5ZM156.9,171.0L156.1,168.8L155.5,169.0L156.3,171.2ZM156.1,168.8L155.4,166.5L154.7,166.7L155.5,169.0ZM155.4,166.5L154.7,164.2L154.0,164.4L154.7,166.7ZM154.7,164.2L154.0,161.9L153.2,162.1L154.0,164.4ZM154.0,161.9L153.3,159.6L152.5,159.7L153.2,162.1ZM153.3,159.6L152.7,157.2L151.8,157.4L152.5,159.7ZM152.7,157.2L152.1,154.9L151.1,154.9L151.8,157.4ZM152.1,154.9L151.5,152.5L150.5,152.5L151.1,154.9ZM151.5,152.5L150.9,150.0L149.8,150.0L150.5,152.5ZM150.9,150.0L150.3,147.5L149.2,147.5L149.8,150.0ZM150.3,147.5L149.8,144.9L148.5,144.8L149.2,147.5ZM149.8,144.9L149.2,142.3L147.9,142.2L148.5,144.8ZM149.2,142.3L148.7,139.6L147.4,139.4L147.9,142.2ZM148.7,139.6L148.2,136.9L146.8,136.6L147.4,139.4ZM148.2,136.9L147.8,134.0L146.4,133.7L146.8,136.6ZM147.8,134.0L147.4,131.1L146.0,130.7L146.4,133.7ZM147.4,131.1L147.1,128.1L145.6,127.6L146.0,130.7ZM147.1,128.1L146.8,125.0L145.3,124.4L145.6,127.6ZM146.8,125.0L146.6,121.8L145.0,121.1L145.3,124.4ZM146.6,121.8L146.3,118.4L144.8,117.6L145.0,121.1ZM146.3,118.4L146.2,114.9L144.5,114.0L144.8,117.6ZM146.2,114.9L146.0,111.2L144.4,110.3L144.5,114.0ZM146.0,111.2L145.9,107.4L144.3,106.3L144.4,110.3ZM145.9,107.4L145.9,103.5L144.3,102.3L144.3,106.3ZM145.9,103.5L146.1,99.3L144.5,98.1L144.3,102.3ZM146.1,99.3L146.5,95.2L144.9,93.8L144.5,98.1ZM146.5,95.2L147.2,91.0L145.6,89.6L144.9,93.8ZM147.2,91.0L148.2,86.9L146.8,85.4L145.6,89.6ZM148.2,86.9L149.7,83.0L148.2,81.4L146.8,85.4ZM149.7,83.0L151.5,79.3L150.1,77.5L148.2,81.4ZM151.5,79.3L153.6,75.7L152.2,73.9L150.1,77.5ZM153.6,75.7L156.2,72.6L154.8,70.6L152.2,73.9ZM156.2,72.6L159.2,70.0L157.9,67.8L154.8,70.6ZM159.2,70.0L162.7,68.1L161.3,65.7L157.9,67.8ZM162.7,68.1L166.4,66.6L165.0,63.9L161.3,65.7ZM166.4,66.6L170.3,65.6L168.9,62.6L165.0,63.9ZM170.3,65.6L174.4,65.3L173.2,62.4L168.9,62.6ZM174.4,65.3L178.6,65.5L177.5,62.7L173.2,62.4ZM178.6,65.5L182.7,65.9L181.8,63.3L177.5,62.7ZM182.7,65.9L186.7,66.6L186.0,64.1L181.8,63.3ZM186.7,66.6L190.6,67.5L190.1,65.1L186.0,64.1ZM190.6,67.5L194.5,68.7L194.0,66.3L190.1,65.1ZM194.5,68.7L198.2,70.2L197.9,67.9L194.0,66.3ZM198.2,70.2L201.8,72.3L201.6,69.9L197.9,67.9ZM201.8,72.3L205.3,74.8L205.1,72.4L201.6,69.9ZM205.3,74.8L208.5,77.4L208.4,74.8L205.1,72.4ZM208.5,77.4L211.5,80.1L211.5,77.5L208.4,74.8ZM211.5,80.1L214.2,82.7L214.4,80.1L211.5,77.5ZM214.2,82.7L216.8,85.1L217.1,82.5L214.4,80.1ZM216.8,85.1L219.3,87.3L219.6,84.8L217.1,82.5ZM218.9,89.9L221.1,92.0L222.0,87.0L219.6,84.8ZM221.1,92.0L223.1,94.1L224.3,89.1L222.0,87.0ZM223.1,94.1L225.0,96.2L226.4,91.2L224.3,89.1ZM225.0,96.2L226.8,98.2L227.6,95.7L225.7,93.7ZM226.8,98.2L228.6,100.1L229.5,97.7L227.6,95.7ZM228.6,100.1L230.2,101.9L231.2,99.6L229.5,97.7ZM230.2,101.9L231.8,103.7L232.9,101.4L231.2,99.6ZM231.8,103.7L233.3,105.4L234.5,103.2L232.9,101.4ZM233.3,105.4L234.8,107.1L236.1,104.8L234.5,103.2ZM233.5,109.3L234.8,110.9L237.6,106.4L236.1,104.8ZM234.8,110.9L236.1,112.4L239.2,108.0L237.6,106.4ZM236.1,112.4L237.3,114.0L240.7,109.6L239.2,108.0ZM237.3,114.0L238.5,115.5L240.3,113.4L239.0,111.8ZM238.5,115.5L239.6,117.1L241.5,115.0L240.3,113.4ZM239.6,117.1L240.7,118.6L242.7,116.6L241.5,115.0ZM240.7,118.6L241.8,120.2L243.7,118.3L242.7,116.6Z" fill="#e09e00" stroke="#e09e00" stroke-width="0.70"/>
<path d="M186.1,214.3L183.7,212.5L183.7,212.5L186.1,214.4ZM183.7,212.5L181.5,210.5L181.5,210.5L183.7,212.5ZM181.5,210.5L179.5,208.4L179.4,208.4L181.5,210.5ZM179.5,208.4L177.5,206.3L177.5,206.3L179.4,208.4ZM177.5,206.3L175.7,204.1L175.6,204.1L177.5,206.3ZM175.7,204.1L173.9,201.9L173.9,201.9L175.6,204.1ZM173.9,201.9L172.3,199.7L172.2,199.7L173.9,201.9ZM172.3,199.7L170.7,197.5L170.7,197.5L172.2,199.7ZM170.7,197.5L169.2,195.3L169.2,195.3L170.7,197.5ZM169.2,195.3L167.8,193.0L167.7,193.2L169.1,195.4ZM167.8,193.0L166.5,190.8L166.3,191.1L167.7,193.2ZM166.5,190.8L165.3,188.6L165.0,188.9L166.3,191.1ZM165.3,188.6L164.1,186.4L163.7,186.7L165.0,188.9ZM164.1,186.4L163.0,184.2L162.6,184.5L163.7,186.7ZM163.0,184.2L161.9,181.9L161.4,182.3L162.6,184.5ZM161.9,181.9L161.0,179.7L160.4,180.0L161.4,182.3ZM161.0,179.7L160.1,177.4L159.4,177.8L160.4,180.0ZM160.1,177.4L159.3,175.2L158.5,175.6L159.4,177.8ZM159.3,175.2L158.5,172.9L157.7,173.3L158.5,175.6ZM158.5,172.9L157.9,170.6L156.9,171.0L157.7,173.3ZM157.9,170.6L157.2,168.4L156.1,168.8L156.9,171.0ZM157.2,168.4L156.6,166.1L155.4,166.5L156.1,168.8ZM156.6,166.1L156.1,163.8L154.7,164.2L155.4,166.5ZM156.1,163.8L155.6,161.6L154.0,161.9L154.7,164.2ZM155.6,161.6L155.0,159.3L153.3,159.6L154.0,161.9ZM155.0,159.3L154.6,157.0L152.7,157.2L153.3,159.6ZM154.6,157.0L154.1,154.7L152.1,154.9L152.7,157.2ZM154.1,154.7L153.6,152.4L151.5,152.5L152.1,154.9ZM153.6,152.4L153.2,150.0L150.9,150.0L151.5,152.5ZM153.2,150.0L152.7,147.6L150.3,147.5L150.9,150.0ZM152.7,147.6L152.2,145.1L149.8,144.9L150.3,147.5ZM152.2,145.1L151.7,142.6L149.2,142.3L149.8,144.9ZM151.7,142.6L151.3,140.1L148.7,139.6L149.2,142.3ZM151.3,140.1L150.9,137.4L148.2,136.9L148.7,139.6ZM150.9,137.4L150.5,134.7L147.8,134.0L148.2,136.9ZM150.5,134.7L150.2,131.9L147.4,131.1L147.8,134.0ZM150.2,131.9L150.0,129.1L147.1,128.1L147.4,131.1ZM150.0,129.1L149.8,126.2L146.8,125.0L147.1,128.1ZM149.8,126.2L149.6,123.1L146.6,121.8L146.8,125.0ZM149.6,123.1L149.5,120.0L146.3,118.4L146.6,121.8ZM149.5,120.0L149.4,116.7L146.2,114.9L146.3,118.4ZM149.4,116.7L149.3,113.2L146.0,111.2L146.2,114.9ZM149.3,113.2L149.2,109.6L145.9,107.4L146.0,111.2ZM149.2,109.6L149.2,105.9L145.9,103.5L145.9,107.4ZM149.2,105.9L149.3,101.9L146.1,99.3L145.9,103.5ZM149.3,101.9L149.6,97.9L146.5,95.2L146.1,99.3ZM149.6,97.9L150.2,93.9L147.2,91.0L146.5,95.2ZM150.2,93.9L151.2,89.9L148.2,86.9L147.2,91.0ZM151.2,89.9L152.5,86.2L149.7,83.0L148.2,86.9ZM152.5,86.2L154.3,82.7L151.5,79.3L149.7,83.0ZM154.3,82.7L156.4,79.4L153.6,75.7L151.5,79.3ZM156.4,79.4L158.9,76.5L156.2,72.6L153.6,75.7ZM158.9,76.5L162.0,74.3L159.2,70.0L156.2,72.6ZM162.0,74.3L165.5,72.9L162.7,68.1L159.2,70.0ZM165.5,72.9L169.2,71.9L166.4,66.6L162.7,68.1ZM169.2,71.9L173.0,71.4L170.3,65.6L166.4,66.6ZM173.0,71.4L176.8,71.1L174.4,65.3L170.3,65.6ZM176.8,71.1L180.6,71.0L178.6,65.5L174.4,65.3ZM180.6,71.0L184.4,71.1L182.7,65.9L178.6,65.5ZM184.4,71.1L188.1,71.6L186.7,66.6L182.7,65.9ZM188.1,71.6L191.8,72.4L190.6,67.5L186.7,66.6ZM191.8,72.4L195.4,73.4L194.5,68.7L190.6,67.5ZM195.4,73.4L198.9,74.9L198.2,70.2L194.5,68.7ZM198.9,74.9L202.3,77.1L201.8,72.3L198.2,70.2ZM202.3,77.1L205.6,79.8L205.3,74.8L201.8,72.3ZM205.6,79.8L208.6,82.4L208.5,77.4L205.3,74.8ZM208.6,82.4L211.4,85.2L211.5,80.1L208.5,77.4ZM211.4,85.2L213.9,87.9L214.2,82.7L211.5,80.1ZM213.9,87.9L216.3,90.2L216.8,85.1L214.2,82.7ZM216.3,90.2L218.5,92.4L219.3,87.3L216.8,85.1ZM218.5,92.4L220.6,94.5L221.1,92.0L218.9,89.9ZM220.6,94.5L222.5,96.6L223.1,94.1L221.1,92.0ZM222.5,96.6L224.3,98.7L225.0,96.2L223.1,94.1ZM224.3,98.7L226.1,100.6L226.8,98.2L225.0,96.2ZM226.1,100.6L227.7,102.4L228.6,100.1L226.8,98.2ZM227.7,102.4L229.2,104.2L230.2,101.9L228.6,100.1ZM229.2,104.2L230.7,106.0L231.8,103.7L230.2,101.9ZM230.7,106.0L232.1,107.7L233.3,105.4L231.8,103.7ZM232.1,107.7L233.5,109.3L234.8,107.1L233.3,105.4Z" fill="#e04f00" stroke="#e04f00" stroke-width="0.70"/>
<g fill="none" stroke="#000" stroke-opacity="0.70" stroke-width="0.50">
<path d="M258.0,150.0l0.7,2l0.8,2.2l0.7,2.1l0.7,2.3l0.8,2.4l0.7,2.4l0.7,2.6l0.7,2.7l0.6,2.9l0.7,2.9l0.7,3.2l0.6,3.3l0.7,3.6l0.7,3.8l0.3,3.8l-0.1,3.8l-0.4,3.7l-0.6,3.8l-1,3.7l-1.7,3.1l-2.1,2.8l-2.5,2.4l-2.6,2.2l-2.8,2.1l-2.9,1.9l-3,1.8l-3.1,1.6l-3.1,1.4l-3.3,1.2l-3.3,1l-3.4,0.7l-3.5,0.3l-3.5,-0.1l-3.5,-0.3l-3.4,-0.6l-3.4,-0.7l-3.3,-1l-3.2,-1.1l-3.1,-1.2l-3,-1.3l-2.9,-1.3l-2.9,-1.4l-2.8,-1.4l-2.6,-1.5l-2.6,-1.7l-2.4,-1.7l-2.4,-1.9l-2.2,-2l-2.1,-2.1l-1.9,-2.1l-1.9,-2.2l-1.7,-2.2l-1.7,-2.2l-1.5,-2.2l-1.5,-2.2l-1.4,-2.2l-1.4,-2.2l-1.3,-2.2l-1.2,-2.2l-1.1,-2.2l-1.1,-2.2l-1,-2.2l-1,-2.3l-0.8,-2.2l-0.8,-2.3l-0.7,-2.3l-0.7,-2.2l-0.7,-2.3l-0.6,-2.3l-0.6,-2.3l-0.6,-2.3l-0.6,-2.3l-0.5,-2.3l-0.5,-2.4l-0.6,-2.4l-0.5,-2.5l-0.5,-2.5l-0.5,-2.5l-0.5,-2.7l-0.5,-2.7l-0.4,-2.7l-0.3,-2.9l-0.3,-2.9l-0.2,-3l-0.2,-3.2l-0.2,-3.2l-0.1,-3.4l-0.2,-3.6l0,-3.7l0,-3.8l0.1,-4.1l0.4,-4.1l0.6,-4.1l1,-4l1.4,-3.8l1.8,-3.6l2.1,-3.4l2.5,-3.1l3.1,-2.4l3.5,-1.6l3.7,-1.2l3.8,-0.8l4,-0.3l4,0l3.9,0.3l3.9,0.6l3.8,0.8l3.7,1.1l3.7,1.5l3.5,2.2l3.3,2.6l3.1,2.6l2.9,2.7l2.7,2.7l2.5,2.4l2.3,2.2l2.2,2.1l2,2.1l1.9,2.1l1.8,2l1.8,1.9l1.6,1.8l1.6,1.8l1.5,1.7l1.5,1.7l1.4,1.6l1.4,1.5l1.4,1.6l1.3,1.6l1.2,1.6l1.2,1.6l1,1.7l1.1,1.7l1,1.7l0.9,1.6l0.9,1.7l0.9,1.7l0.8,1.7l0.8,1.7l0.7,1.7l0.7,1.8l0.7,1.7l0.6,1.8l0.7,1.7l0.7,1.8l0.8,1.8l0.8,1.8l0.7,1.9l0.8,1.9l0.7,2M261.7,150.0l0.9,2.2l0.8,2.3l0.9,2.4l0.8,2.4l0.8,2.6l0.8,2.7l0.8,2.7l0.7,3l0.8,3.1l0.8,3.2l0.7,3.5l0.8,3.6l0.8,3.9l0.7,4.1l0.4,4.2l-0.1,4.1l-0.4,4.1l-0.7,4.1l-1.2,3.9l-2,3.2l-2.7,2.6l-2.9,2.2l-3.1,2l-3.2,1.8l-3.3,1.7l-3.3,1.5l-3.4,1.3l-3.5,1.1l-3.5,1l-3.5,0.6l-3.7,0.4l-3.6,0l-3.6,-0.3l-3.6,-0.6l-3.5,-0.7l-3.4,-1l-3.4,-1.1l-3.2,-1.2l-3.1,-1.3l-3.1,-1.4l-2.9,-1.4l-2.9,-1.4l-2.7,-1.6l-2.7,-1.6l-2.5,-1.6l-2.5,-1.8l-2.3,-1.9l-2.2,-2l-2.1,-2.1l-1.9,-2.2l-1.9,-2.1l-1.7,-2.2l-1.7,-2.2l-1.6,-2.2l-1.5,-2.2l-1.4,-2.2l-1.4,-2.1l-1.3,-2.2l-1.3,-2.2l-1.1,-2.2l-1.2,-2.2l-1,-2.3l-1,-2.2l-0.9,-2.2l-0.8,-2.3l-0.8,-2.3l-0.8,-2.2l-0.7,-2.3l-0.7,-2.3l-0.7,-2.3l-0.7,-2.3l-0.6,-2.4l-0.6,-2.3l-0.6,-2.4l-0.6,-2.5l-0.6,-2.5l-0.5,-2.6l-0.6,-2.6l-0.5,-2.7l-0.5,-2.7l-0.4,-2.9l-0.4,-2.9l-0.3,-3l-0.3,-3.1l-0.2,-3.2l-0.3,-3.4l-0.1,-3.5l-0.2,-3.7l-0.1,-3.8l0,-3.9l0.2,-4.2l0.4,-4.1l0.7,-4.2l1,-4.1l1.5,-3.9l1.8,-3.7l2.1,-3.6l2.6,-3.1l3,-2.6l3.5,-1.9l3.7,-1.5l3.9,-1l4.1,-0.3l4.2,0.2l4.1,0.4l4,0.7l3.9,0.9l3.9,1.2l3.7,1.5l3.6,2.1l3.5,2.5l3.2,2.6l3,2.7l2.7,2.6l2.6,2.4l2.5,2.2l2.2,2.2l2.2,2.1l2,2.1l1.9,2l1.9,2l1.7,1.9l1.7,1.8l1.6,1.8l1.6,1.6l1.5,1.6l1.6,1.6l1.5,1.6l1.4,1.6l1.3,1.7l1.2,1.8l1.1,1.7l1.1,1.8l1,1.8l1,1.8l0.9,1.8l0.9,1.8l0.8,1.8l0.8,1.8l0.8,1.9l0.7,1.8l0.7,1.8l0.7,1.9l0.7,1.8l0.9,1.9l1,1.8l1,1.9l1.1,2l1,2.1l0.9,2.1M265.4,150.0l1.1,2.4l0.9,2.4l0.9,2.6l0.9,2.6l0.9,2.8l0.9,2.9l0.9,3l0.8,3.1l0.9,3.4l0.8,3.5l0.9,3.7l0.8,4l0.9,4.2l0.8,4.4l0.4,4.5l-0.1,4.5l-0.4,4.5l-0.7,4.4l-1.3,4.2l-2.4,3.2l-3.2,2.3l-3.4,2.1l-3.5,1.8l-3.7,1.5l-3.6,1.4l-3.7,1.3l-3.7,1l-3.8,0.9l-3.8,0.6l-3.8,0.3l-3.8,0.1l-3.8,-0.3l-3.7,-0.6l-3.7,-0.7l-3.6,-1l-3.5,-1.1l-3.4,-1.2l-3.2,-1.4l-3.2,-1.4l-3,-1.5l-3,-1.5l-2.8,-1.5l-2.8,-1.6l-2.6,-1.7l-2.6,-1.7l-2.4,-1.9l-2.3,-1.9l-2.2,-2l-2.1,-2.1l-1.9,-2.1l-1.9,-2.2l-1.8,-2.2l-1.6,-2.1l-1.6,-2.2l-1.6,-2.2l-1.4,-2.2l-1.4,-2.1l-1.4,-2.2l-1.2,-2.2l-1.3,-2.2l-1.1,-2.2l-1.1,-2.2l-1,-2.2l-1,-2.2l-0.9,-2.3l-0.9,-2.3l-0.8,-2.2l-0.8,-2.3l-0.7,-2.3l-0.8,-2.3l-0.7,-2.4l-0.7,-2.3l-0.7,-2.5l-0.6,-2.4l-0.7,-2.5l-0.6,-2.5l-0.7,-2.7l-0.6,-2.6l-0.5,-2.8l-0.6,-2.8l-0.4,-2.9l-0.4,-3l-0.4,-3.1l-0.3,-3.2l-0.3,-3.3l-0.2,-3.5l-0.3,-3.6l-0.1,-3.7l-0.1,-4l0,-4l0.2,-4.2l0.4,-4.3l0.7,-4.2l1.2,-4.2l1.4,-4l1.9,-3.9l2.1,-3.6l2.6,-3.3l3.1,-2.8l3.4,-2.1l3.7,-1.8l3.9,-1.3l4.3,-0.2l4.3,0.3l4.3,0.6l4.2,0.8l4.1,1l3.9,1.2l3.9,1.6l3.7,2l3.5,2.5l3.3,2.4l3.1,2.7l2.9,2.6l2.7,2.4l2.5,2.3l2.4,2.2l2.3,2.1l2.1,2.1l2,2.1l1.9,2l1.9,1.9l1.7,1.9l1.8,1.8l1.7,1.7l1.7,1.6l1.6,1.6l1.7,1.6l1.5,1.6l1.4,1.8l1.3,1.9l1.1,1.9l1.1,1.9l1,1.9l1,1.9l1,2l0.9,1.9l0.8,1.9l0.9,1.9l0.8,1.9l0.7,1.9l0.7,2l0.7,1.9l0.9,1.9l1,1.9l1.2,2l1.3,2l1.3,2l1.3,2.2l1.1,2.3M269.7,150.0l1.3,2.6l1,2.6l1.1,2.8l1,2.8l1,3l0.9,3.2l1,3.2l0.9,3.5l1,3.6l1,3.8l1,4.1l0.9,4.3l1,4.6l0.8,4.8l0.5,4.9l-0.1,4.9l-0.4,4.8l-0.7,4.9l-1.5,4.5l-2.9,3.2l-3.8,2.1l-3.9,1.9l-4.1,1.5l-4.1,1.3l-4.1,1l-4.1,1l-4.1,0.7l-4.1,0.5l-4.1,0.3l-4,-0.1l-4.1,-0.3l-4,-0.6l-3.9,-0.9l-3.8,-1l-3.6,-1.2l-3.6,-1.3l-3.4,-1.4l-3.3,-1.5l-3.2,-1.6l-3.1,-1.5l-2.9,-1.6l-2.9,-1.7l-2.7,-1.7l-2.7,-1.7l-2.5,-1.8l-2.4,-1.9l-2.3,-1.9l-2.2,-2.1l-2.1,-2.1l-2,-2.1l-1.8,-2.2l-1.8,-2.1l-1.7,-2.2l-1.6,-2.1l-1.6,-2.2l-1.5,-2.1l-1.4,-2.2l-1.3,-2.2l-1.4,-2.1l-1.2,-2.2l-1.2,-2.2l-1.1,-2.2l-1.1,-2.2l-1,-2.2l-1,-2.3l-0.9,-2.2l-0.9,-2.3l-0.9,-2.3l-0.9,-2.3l-0.8,-2.3l-0.8,-2.4l-0.8,-2.4l-0.7,-2.5l-0.8,-2.5l-0.7,-2.5l-0.7,-2.6l-0.7,-2.7l-0.6,-2.7l-0.7,-2.9l-0.5,-2.9l-0.5,-2.9l-0.5,-3.1l-0.4,-3.2l-0.3,-3.3l-0.4,-3.4l-0.3,-3.6l-0.2,-3.7l-0.2,-3.9l-0.1,-4l0,-4.2l0.2,-4.4l0.4,-4.3l0.9,-4.3l1.1,-4.2l1.6,-4.2l1.8,-4l2.2,-3.7l2.6,-3.5l3.1,-3l3.4,-2.4l3.7,-2.1l3.9,-1.6l4.5,-0.1l4.5,0.4l4.5,0.7l4.4,0.9l4.2,1.1l4.1,1.3l4,1.6l3.8,2l3.6,2.4l3.5,2.4l3.2,2.6l3,2.6l2.8,2.4l2.7,2.3l2.5,2.2l2.4,2.2l2.2,2.2l2.1,2.1l2.1,2l1.9,2l1.9,2l1.8,1.8l1.9,1.7l1.8,1.6l1.8,1.6l1.8,1.6l1.7,1.7l1.5,1.9l1.3,2l1.2,2l1.2,2.1l1,2l1,2.1l1,2l0.9,2.1l0.9,2l0.9,2l0.8,2l0.8,2.1l0.7,2.1l0.7,2l1,2l1.2,2l1.4,2.1l1.6,2l1.7,2.2l1.6,2.4l1.3,2.4M274.7,150.0l1.4,2.8l1.2,2.9l1.2,3l1.1,3.1l1.1,3.2l1.1,3.4l1,3.6l1.1,3.7l1.1,4l1.1,4.2l1.1,4.4l1.1,4.7l1.1,5.1l0.9,5.2l0.5,5.4l0,5.3l-0.4,5.4l-0.8,5.3l-1.8,4.8l-3.3,3.2l-4.5,1.9l-4.5,1.7l-4.7,1.1l-4.7,0.9l-4.7,0.8l-4.5,0.5l-4.6,0.4l-4.4,0.1l-4.4,-0.1l-4.4,-0.4l-4.3,-0.8l-4.2,-1l-4.1,-1.2l-3.9,-1.3l-3.8,-1.5l-3.6,-1.5l-3.5,-1.6l-3.4,-1.7l-3.2,-1.7l-3,-1.7l-3,-1.7l-2.9,-1.8l-2.7,-1.7l-2.6,-1.9l-2.6,-1.8l-2.4,-2l-2.3,-2l-2.1,-2l-2.1,-2.1l-2,-2.2l-1.9,-2.1l-1.7,-2.2l-1.7,-2.1l-1.7,-2.1l-1.6,-2.2l-1.5,-2.1l-1.4,-2.1l-1.4,-2.2l-1.4,-2.1l-1.3,-2.2l-1.2,-2.2l-1.2,-2.1l-1.2,-2.3l-1,-2.2l-1.1,-2.2l-1,-2.3l-1,-2.2l-1,-2.3l-0.9,-2.4l-0.9,-2.3l-0.9,-2.4l-0.9,-2.5l-0.9,-2.4l-0.8,-2.6l-0.8,-2.6l-0.8,-2.7l-0.7,-2.7l-0.7,-2.8l-0.7,-2.9l-0.6,-3l-0.5,-3.1l-0.5,-3.2l-0.5,-3.3l-0.4,-3.4l-0.4,-3.5l-0.4,-3.7l-0.3,-3.9l-0.2,-4l-0.1,-4.2l0,-4.3l0.2,-4.5l0.5,-4.4l0.9,-4.4l1.3,-4.3l1.5,-4.3l1.9,-4.1l2.3,-4l2.6,-3.6l3,-3.3l3.5,-2.7l3.6,-2.5l4,-1.8l4.7,-0.2l4.8,0.6l4.7,0.9l4.5,1.1l4.5,1.2l4.2,1.4l4.1,1.6l4,1.9l3.7,2.3l3.6,2.3l3.4,2.6l3.1,2.5l3,2.5l2.8,2.3l2.6,2.2l2.6,2.2l2.3,2.3l2.3,2.1l2.1,2.2l2.1,2l2,2l2,1.9l2,1.7l2,1.7l2,1.5l2,1.6l1.8,1.8l1.6,2l1.4,2.1l1.3,2.2l1.2,2.2l1,2.3l1.1,2.2l1,2.2l0.9,2.2l0.9,2.2l1,2.1l0.9,2.1l0.7,2.2l0.8,2.2l0.8,2.2l1,2.1l1.4,2.1l1.7,2.1l2,2.2l2,2.4l1.9,2.5l1.7,2.6M279.9,150.0l1.7,3l1.4,3.1l1.3,3.3l1.2,3.4l1.2,3.5l1.2,3.7l1.2,3.9l1.2,4.1l1.2,4.3l1.2,4.5l1.3,4.9l1.2,5.1l1.2,5.5l0.9,5.7l0.6,5.9l0.1,5.8l-0.5,5.8l-0.8,5.9l-2,5.1l-3.9,3.2l-5.2,1.7l-5.2,1.4l-5.3,0.8l-5.3,0.6l-5.2,0.3l-5.1,0.2l-4.9,0l-4.9,-0.3l-4.8,-0.6l-4.7,-0.8l-4.6,-1.2l-4.4,-1.5l-4.3,-1.5l-4,-1.7l-3.9,-1.7l-3.7,-1.7l-3.6,-1.8l-3.4,-1.9l-3.2,-1.9l-3.1,-1.8l-3,-1.9l-2.8,-1.8l-2.8,-1.9l-2.6,-1.9l-2.5,-2l-2.4,-2l-2.3,-2l-2.2,-2.1l-2,-2.1l-2,-2.1l-1.9,-2.2l-1.8,-2.1l-1.7,-2.1l-1.7,-2.1l-1.6,-2.2l-1.5,-2.1l-1.5,-2.1l-1.5,-2.1l-1.3,-2.1l-1.4,-2.2l-1.3,-2.1l-1.2,-2.2l-1.2,-2.2l-1.2,-2.2l-1.1,-2.2l-1.1,-2.3l-1.1,-2.2l-1.1,-2.4l-1,-2.3l-1,-2.4l-1,-2.4l-1,-2.5l-1,-2.5l-0.9,-2.6l-0.9,-2.7l-0.8,-2.7l-0.9,-2.9l-0.7,-2.9l-0.7,-3l-0.7,-3l-0.6,-3.2l-0.5,-3.3l-0.5,-3.4l-0.5,-3.5l-0.5,-3.7l-0.4,-3.9l-0.4,-4l-0.2,-4.1l-0.2,-4.3l0.1,-4.5l0.2,-4.6l0.6,-4.6l1,-4.4l1.3,-4.5l1.6,-4.4l1.9,-4.3l2.3,-4.1l2.7,-3.8l3,-3.5l3.4,-3.1l3.6,-2.9l4,-2.2l4.9,-0.1l5.1,0.8l5,1.1l4.8,1.2l4.5,1.4l4.5,1.4l4.2,1.7l4.1,1.8l3.9,2.2l3.7,2.3l3.5,2.5l3.3,2.5l3.2,2.4l2.9,2.4l2.8,2.3l2.7,2.2l2.5,2.3l2.4,2.2l2.3,2.2l2.2,2.1l2.2,2.1l2.1,1.9l2.1,1.8l2.2,1.6l2.2,1.6l2.1,1.6l2,1.8l1.8,2.1l1.5,2.3l1.3,2.4l1.2,2.4l1.1,2.4l1.1,2.4l1,2.3l1,2.4l0.9,2.3l1,2.3l1,2.3l0.8,2.3l0.7,2.3l0.9,2.3l1.1,2.3l1.6,2.2l2,2.2l2.4,2.3l2.4,2.5l2.3,2.7l1.9,2.8"/>
</g>
<path d="M254.3,150.0l30.8,0.0M254.9,151.9l32.1,1.3M255.5,153.8l33.1,2.8M256.1,155.8l33.9,4.3M256.8,157.9l34.6,5.9M257.4,160.1l35.3,7.5M258.1,162.3l35.9,9.2M258.7,164.7l36.6,11.1M259.3,167.2l37.3,13.0M259.9,169.7l38.1,15.1M260.5,172.5l38.9,17.3M261.0,175.3l39.7,19.7M261.6,178.3l40.5,22.3M262.2,181.6l41.2,24.9M262.8,185.1l41.6,27.7M263.1,188.6l42.0,30.5M262.9,191.9l42.2,33.5M262.6,195.4l42.1,36.4M262.0,198.8l41.8,39.2M261.1,202.2l40.5,41.3M259.9,205.4l37.3,41.4M258.2,208.3l33.1,40.0M256.2,210.9l29.2,38.4M254.0,213.4l25.3,36.5M251.7,215.7l21.8,34.3M249.2,217.9l18.5,32.1M246.6,219.9l15.6,29.9M243.8,221.8l13.0,27.6M240.9,223.5l10.6,25.2M237.9,225.0l8.4,22.7M234.8,226.3l6.5,20.1M231.6,227.3l4.9,17.5M228.3,227.9l3.5,15.0M224.9,228.1l2.5,12.9M221.5,228.0l1.6,11.0M218.2,227.6l1.0,9.4M214.8,227.0l0.5,8.0M211.6,226.2l0.1,6.8M208.4,225.2l-0.1,5.7M205.3,224.1l-0.3,4.8M202.3,222.9l-0.4,4.0M199.4,221.7l-0.5,3.3M196.6,220.4l-0.5,2.6M193.8,219.1l-0.5,2.0M191.1,217.6l-0.4,1.4M188.5,216.0l-0.3,1.0M186.1,214.3l-0.2,0.6M183.7,212.5l-0.2,0.4M181.5,210.5l-0.1,0.2M179.5,208.4l-0.1,0.2M177.5,206.3l-0.1,0.2M175.7,204.1l-0.2,0.3M173.9,201.9l-0.2,0.4M172.3,199.7l-0.3,0.5M170.7,197.5l-0.5,0.6M169.2,195.3l-0.6,0.7M167.8,193.0l-0.8,0.8M166.5,190.8l-1.0,0.9M165.3,188.6l-1.2,1.1M164.1,186.4l-1.5,1.2M163.0,184.2l-1.7,1.3M161.9,181.9l-2.0,1.4M161.0,179.7l-2.4,1.4M160.1,177.4l-2.8,1.5M159.3,175.2l-3.2,1.6M158.5,172.9l-3.7,1.6M157.9,170.6l-4.2,1.7M157.2,168.4l-4.8,1.7M156.6,166.1l-5.3,1.6M156.1,163.8l-5.9,1.5M155.6,161.6l-6.5,1.4M155.0,159.3l-7.1,1.2M154.6,157.0l-7.7,1.0M154.1,154.7l-8.2,0.7M153.6,152.4l-8.8,0.4M153.2,150.0l-9.3,0.0M152.7,147.6l-9.8,-0.4M152.2,145.1l-10.2,-0.9M151.7,142.6l-10.6,-1.3M151.3,140.1l-10.9,-1.8M150.9,137.4l-11.1,-2.4M150.5,134.7l-11.4,-2.9M150.2,131.9l-11.7,-3.5M150.0,129.1l-12.0,-4.2M149.8,126.2l-12.4,-4.9M149.6,123.1l-12.8,-5.7M149.5,120.0l-13.1,-6.5M149.4,116.7l-13.4,-7.4M149.3,113.2l-13.6,-8.3M149.2,109.6l-13.7,-9.1M149.2,105.9l-13.7,-10.0M149.3,101.9l-13.6,-10.8M149.6,97.9l-13.2,-11.4M150.2,93.9l-12.7,-11.9M151.2,89.9l-12.3,-12.5M152.5,86.2l-12.0,-13.3M154.3,82.7l-11.8,-14.3M156.4,79.4l-11.6,-15.3M158.9,76.5l-11.4,-16.4M162.0,74.3l-11.4,-18.0M165.5,72.9l-11.5,-19.9M169.2,71.9l-11.7,-22.3M173.0,71.4l-11.4,-24.3M176.8,71.1l-10.1,-24.0M180.6,71.0l-8.6,-23.0M184.4,71.1l-7.1,-21.9M188.1,71.6l-5.9,-21.0M191.8,72.4l-4.7,-20.2M195.4,73.4l-3.8,-19.7M198.9,74.9l-2.9,-19.6M202.3,77.1l-2.1,-20.0M205.6,79.8l-1.3,-20.7M208.6,82.4l-0.4,-21.0M211.4,85.2l0.4,-21.4M213.9,87.9l1.4,-21.6M216.3,90.2l2.3,-21.5M218.5,92.4l3.1,-21.2M220.6,94.5l4.0,-21.1M222.5,96.6l4.9,-20.9M224.3,98.7l5.8,-20.6M226.1,100.6l6.6,-20.2M227.7,102.4l7.4,-19.8M229.2,104.2l8.2,-19.4M230.7,106.0l9.0,-19.0M232.1,107.7l9.8,-18.7M233.5,109.3l10.7,-18.6M234.8,110.9l11.8,-18.5M236.1,112.4l12.9,-18.5M237.3,114.0l14.0,-18.4M238.5,115.5l15.0,-18.1M239.6,117.1l15.7,-17.4M240.7,118.6l16.2,-16.6M241.8,120.2l16.6,-15.6M242.8,121.7l16.8,-14.5M243.7,123.3l17.0,-13.5M244.6,124.8l17.2,-12.5M245.5,126.4l17.3,-11.5M246.4,128.0l17.5,-10.6M247.2,129.6l17.7,-9.7M247.9,131.2l17.9,-8.9M248.6,132.8l18.2,-8.1M249.3,134.4l18.4,-7.3M249.9,136.1l18.5,-6.5M250.5,137.8l18.8,-5.7M251.1,139.4l19.5,-5.0M251.7,141.1l20.7,-4.4M252.3,142.9l22.5,-3.8M252.8,144.6l24.7,-3.1M253.3,146.4l27.0,-2.3M253.8,148.2l29.1,-1.2" fill="none" stroke="#000" stroke-opacity="0.70" stroke-width="0.50"/>
</g>
<g clip-path="url(#a_E)">
<path d="M214.6,78.6L209.5,77.3L224.5,72.2L229.5,73.5ZM283.4,55.0L278.4,53.8L308.3,43.5L313.4,44.8ZM209.5,77.3L204.5,76.1L219.5,71.0L224.5,72.2ZM278.4,53.8L273.3,52.5L303.3,42.3L308.3,43.5ZM204.5,76.1L199.5,74.9L214.4,69.7L219.5,71.0ZM273.3,52.5L268.3,51.3L298.3,41.1L303.3,42.3ZM199.5,74.9L194.4,73.5L209.4,68.4L214.4,69.7ZM268.3,51.3L263.3,50.0L293.2,39.7L298.3,41.1ZM194.4,73.5L189.4,72.2L204.4,67.1L209.4,68.4ZM263.3,50.0L258.3,48.7L288.2,38.4L293.2,39.7ZM189.4,72.2L184.3,71.2L199.3,66.1L204.4,67.1ZM258.3,48.7L253.2,47.7L283.1,37.4L288.2,38.4ZM184.3,71.2L179.1,70.9L194.1,65.8L199.3,66.1ZM253.2,47.7L248.0,47.4L277.9,37.1L283.1,37.4ZM179.1,70.9L174.0,71.2L188.9,66.1L194.1,65.8ZM248.0,47.4L242.8,47.6L272.8,37.4L277.9,37.1ZM174.0,71.2L168.8,72.0L183.8,66.9L188.9,66.1ZM242.8,47.6L237.7,48.4L267.6,38.2L272.8,37.4ZM168.8,72.0L163.9,73.4L178.8,68.3L183.8,66.9ZM237.7,48.4L232.7,49.9L262.7,39.6L267.6,38.2ZM163.9,73.4L159.4,76.0L174.4,70.9L178.8,68.3ZM232.7,49.9L228.3,52.5L258.2,42.2L262.7,39.6ZM159.4,76.0L156.0,80.0L171.0,74.8L174.4,70.9ZM228.3,52.5L224.9,56.4L254.8,46.2L258.2,42.2ZM156.0,80.0L153.4,84.4L168.4,79.3L171.0,74.8ZM224.9,56.4L222.3,60.9L252.2,50.6L254.8,46.2ZM153.4,84.4L151.4,89.2L166.4,84.1L168.4,79.3ZM222.3,60.9L220.3,65.6L250.2,55.4L252.2,50.6ZM151.4,89.2L150.1,94.2L165.1,89.1L166.4,84.1ZM220.3,65.6L219.0,70.7L248.9,60.4L250.2,55.4ZM150.1,94.2L149.5,99.4L164.5,94.3L165.1,89.1ZM219.0,70.7L218.4,75.8L248.3,65.6L248.9,60.4ZM149.5,99.4L149.3,104.6L164.2,99.4L164.5,94.3ZM218.4,75.8L218.1,81.0L248.1,70.8L248.3,65.6ZM149.3,104.6L149.2,109.7L164.2,104.6L164.2,99.4ZM218.1,81.0L218.1,86.2L248.0,75.9L248.1,70.8ZM149.2,109.7L149.3,114.9L164.3,109.8L164.2,104.6ZM218.1,86.2L218.2,91.4L248.1,81.1L248.0,75.9ZM149.3,114.9L149.5,120.1L164.5,115.0L164.3,109.8ZM218.2,91.4L218.4,96.6L248.3,86.3L248.1,81.1ZM149.5,120.1L149.7,125.3L164.7,120.2L164.5,115.0ZM218.4,96.6L218.6,101.7L248.5,91.5L248.3,86.3ZM149.7,125.3L150.1,130.5L165.0,125.4L164.7,120.2ZM218.6,101.7L218.9,106.9L248.9,96.7L248.5,91.5ZM150.1,130.5L150.6,135.6L165.6,130.5L165.0,125.4ZM218.9,106.9L219.5,112.1L249.4,101.8L248.9,96.7ZM150.6,135.6L151.4,140.8L166.4,135.6L165.6,130.5ZM219.5,112.1L220.3,117.2L250.2,107.0L249.4,101.8ZM151.4,140.8L152.4,145.9L167.3,140.7L166.4,135.6ZM220.3,117.2L221.2,122.3L251.2,112.1L250.2,107.0ZM152.4,145.9L153.3,151.0L168.3,145.8L167.3,140.7ZM221.2,122.3L222.2,127.4L252.1,117.2L251.2,112.1ZM153.3,151.0L154.4,156.0L169.3,150.9L168.3,145.8ZM222.2,127.4L223.2,132.5L253.2,122.2L252.1,117.2ZM154.4,156.0L155.5,161.1L170.4,156.0L169.3,150.9ZM226.2,131.5L227.3,136.5L254.3,127.3L253.2,122.2ZM155.5,161.1L156.6,166.2L171.6,161.0L170.4,156.0ZM230.3,135.5L231.5,140.6L255.4,132.4L254.3,127.3ZM156.6,166.2L158.0,171.2L173.0,166.0L171.6,161.0ZM234.5,139.5L235.9,144.5L256.8,137.4L255.4,132.4ZM158.0,171.2L159.6,176.1L171.6,172.0L170.0,167.1ZM238.9,143.5L240.4,148.5L258.4,142.3L256.8,137.4ZM168.6,173.0L170.5,177.9L173.5,176.8L171.6,172.0ZM240.4,148.5L242.3,153.3L260.3,147.1L258.4,142.3ZM245.3,152.3L247.5,157.0L262.5,151.8L260.3,147.1ZM256.5,153.9L259.0,158.4L265.0,156.4L262.5,151.8Z" fill="#9e0000" stroke="#9e0000" stroke-width="0.70"/>
<path d="M229.5,73.5L224.5,72.2L278.4,53.8L283.4,55.0ZM224.5,72.2L219.5,71.0L273.3,52.5L278.4,53.8ZM219.5,71.0L214.4,69.7L268.3,51.3L273.3,52.5ZM214.4,69.7L209.4,68.4L263.3,50.0L268.3,51.3ZM209.4,68.4L204.4,67.1L258.3,48.7L263.3,50.0ZM204.4,67.1L199.3,66.1L253.2,47.7L258.3,48.7ZM199.3,66.1L194.1,65.8L248.0,47.4L253.2,47.7ZM194.1,65.8L188.9,66.1L242.8,47.6L248.0,47.4ZM188.9,66.1L183.8,66.9L237.7,48.4L242.8,47.6ZM183.8,66.9L178.8,68.3L232.7,49.9L237.7,48.4ZM178.8,68.3L174.4,70.9L228.3,52.5L232.7,49.9ZM174.4,70.9L171.0,74.8L224.9,56.4L228.3,52.5ZM171.0,74.8L168.4,79.3L222.3,60.9L224.9,56.4ZM168.4,79.3L166.4,84.1L220.3,65.6L222.3,60.9ZM166.4,84.1L165.1,89.1L219.0,70.7L220.3,65.6ZM165.1,89.1L164.5,94.3L218.4,75.8L219.0,70.7ZM164.5,94.3L164.2,99.4L218.1,81.0L218.4,75.8ZM164.2,99.4L164.2,104.6L218.1,86.2L218.1,81.0ZM164.2,104.6L164.3,109.8L218.2,91.4L218.1,86.2ZM164.3,109.8L164.5,115.0L218.4,96.6L218.2,91.4ZM164.5,115.0L164.7,120.2L218.6,101.7L218.4,96.6ZM164.7,120.2L165.0,125.4L218.9,106.9L218.6,101.7ZM165.0,125.4L165.6,130.5L219.5,112.1L218.9,106.9ZM165.6,130.5L166.4,135.6L220.3,117.2L219.5,112.1ZM166.4,135.6L167.3,140.7L221.2,122.3L220.3,117.2ZM167.3,140.7L168.3,145.8L222.2,127.4L221.2,122.3ZM168.3,145.8L169.3,150.9L223.2,132.5L222.2,127.4ZM169.3,150.9L170.4,156.0L188.4,149.9L187.3,144.8ZM220.2,133.5L221.3,138.6L227.3,136.5L226.2,131.5ZM170.4,156.0L171.6,161.0L183.6,156.9L182.4,151.9ZM224.3,137.6L225.5,142.6L231.5,140.6L230.3,135.5ZM171.6,161.0L173.0,166.0L179.0,164.0L177.6,159.0ZM225.5,142.6L226.9,147.6L235.9,144.5L234.5,139.5ZM170.0,167.1L171.6,172.0L177.6,170.0L176.0,165.0ZM229.9,146.6L231.5,151.5L240.4,148.5L238.9,143.5ZM159.6,176.1L161.5,180.9L170.5,177.9L168.6,173.0ZM171.6,172.0L173.5,176.8L179.4,174.8L177.6,170.0ZM234.5,150.5L236.3,155.3L242.3,153.3L240.4,148.5ZM161.5,180.9L163.7,185.6L178.7,180.5L176.4,175.8ZM239.3,154.3L241.6,159.0L247.5,157.0L245.3,152.3ZM163.7,185.6L166.2,190.2L178.1,186.1L175.7,181.5ZM244.5,158.0L247.0,162.5L259.0,158.4L256.5,153.9ZM166.2,190.2L168.8,194.6L177.8,191.6L175.1,187.1ZM247.0,162.5L249.7,167.0L267.6,160.8L265.0,156.4ZM168.8,194.6L171.7,198.9L177.7,196.9L174.8,192.6ZM246.7,168.0L249.6,172.3L270.5,165.1L267.6,160.8ZM171.7,198.9L174.9,203.1L177.9,202.1L174.7,197.9ZM249.6,172.3L252.7,176.5L273.7,169.3L270.5,165.1ZM174.9,203.1L178.2,207.1L181.2,206.0L177.9,202.1ZM249.7,177.5L253.1,181.4L277.0,173.3L273.7,169.3ZM250.1,182.5L253.7,186.2L280.6,177.0L277.0,173.3ZM247.7,188.2L251.7,191.6L284.6,180.3L280.6,177.0ZM248.7,192.6L253.0,195.5L288.9,183.2L284.6,180.3ZM250.0,196.5L254.5,199.0L293.5,185.7L288.9,183.2ZM251.5,200.0L256.2,202.2L298.2,187.9L293.5,185.7ZM253.2,203.2L258.0,205.2L302.9,189.9L298.2,187.9ZM255.0,206.2L259.9,208.0L307.8,191.6L302.9,189.9ZM256.9,209.0L261.9,210.4L312.8,193.0L307.8,191.6ZM255.9,212.5L261.0,213.4L317.9,193.9L312.8,193.0ZM255.1,215.4L260.2,215.8L323.1,194.3L317.9,193.9ZM224.3,228.1L229.5,227.7L235.5,225.6L230.3,226.0ZM254.2,217.8L259.4,217.4L328.3,193.9L323.1,194.3ZM229.5,227.7L234.5,226.4L243.5,223.3L238.4,224.6ZM253.4,219.5L258.4,218.2L333.3,192.6L328.3,193.9ZM234.5,226.4L239.2,224.3L242.2,223.3L237.5,225.4ZM252.4,220.2L257.2,218.2L338.0,190.5L333.3,192.6ZM254.2,219.2L258.7,216.7L342.6,188.0L338.0,190.5ZM255.7,217.7L259.9,214.6L346.7,184.9L342.6,188.0ZM256.9,215.6L260.6,212.0L350.5,181.3L346.7,184.9ZM257.7,213.1L261.2,209.2L354.0,177.5L350.5,181.3ZM255.2,211.3L258.6,207.4L357.4,173.6L354.0,177.5ZM258.6,207.4L262.2,203.6L361.0,169.8L357.4,173.6ZM262.2,203.6L265.7,199.9L364.5,166.1L361.0,169.8ZM265.7,199.9L269.3,196.1L368.1,162.3L364.5,166.1Z" fill="#a83b00" stroke="#a83b00" stroke-width="0.70"/>
<path d="M187.3,144.8L188.4,149.9L221.3,138.6L220.2,133.5ZM182.4,151.9L183.6,156.9L225.5,142.6L224.3,137.6ZM177.6,159.0L179.0,164.0L194.0,158.9L192.6,153.9ZM219.5,144.7L220.9,149.7L226.9,147.6L225.5,142.6ZM176.0,165.0L177.6,170.0L189.5,165.9L188.0,160.9ZM223.9,148.6L225.5,153.6L231.5,151.5L229.9,146.6ZM177.6,170.0L179.4,174.8L185.4,172.8L183.6,167.9ZM228.5,152.5L230.3,157.4L236.3,155.3L234.5,150.5ZM176.4,175.8L178.7,180.5L184.7,178.5L182.4,173.8ZM230.3,157.4L232.6,162.1L241.6,159.0L239.3,154.3ZM175.7,181.5L178.1,186.1L184.1,184.1L181.7,179.5ZM235.6,161.0L238.0,165.6L247.0,162.5L244.5,158.0ZM175.1,187.1L177.8,191.6L186.8,188.5L184.1,184.1ZM238.0,165.6L240.7,170.1L249.7,167.0L247.0,162.5ZM174.8,192.6L177.7,196.9L186.7,193.8L183.8,189.5ZM240.7,170.1L243.6,174.4L249.6,172.3L246.7,168.0ZM174.7,197.9L177.9,202.1L186.8,199.0L183.7,194.8ZM240.6,175.4L243.7,179.5L252.7,176.5L249.6,172.3ZM177.9,202.1L181.2,206.0L190.2,203.0L186.8,199.0ZM240.7,180.6L244.1,184.5L253.1,181.4L249.7,177.5ZM178.2,207.1L181.8,210.8L190.8,207.7L187.2,204.0ZM241.1,185.5L244.7,189.3L253.7,186.2L250.1,182.5ZM181.8,210.8L185.8,214.1L194.8,211.0L190.8,207.7ZM238.7,191.3L242.7,194.6L251.7,191.6L247.7,188.2ZM185.8,214.1L190.1,217.0L199.1,213.9L194.8,211.0ZM242.7,194.6L247.0,197.5L253.0,195.5L248.7,192.6ZM190.1,217.0L194.7,219.5L200.6,217.4L196.1,214.9ZM244.0,198.6L248.5,201.1L254.5,199.0L250.0,196.5ZM194.7,219.5L199.4,221.7L205.3,219.6L200.6,217.4ZM248.5,201.1L253.2,203.2L256.2,202.2L251.5,200.0ZM199.4,221.7L204.1,223.7L213.1,220.6L208.3,218.6ZM250.2,204.3L255.0,206.2L258.0,205.2L253.2,203.2ZM204.1,223.7L209.0,225.4L224.0,220.3L219.1,218.5ZM252.1,207.3L256.9,209.0L259.9,208.0L255.0,206.2ZM209.0,225.4L214.0,226.8L232.0,220.7L227.0,219.3ZM250.9,211.1L255.9,212.5L261.9,210.4L256.9,209.0ZM214.0,226.8L219.1,227.7L237.1,221.6L232.0,220.7ZM249.9,214.5L255.1,215.4L261.0,213.4L255.9,212.5ZM219.1,227.7L224.3,228.1L245.3,220.9L240.1,220.6ZM246.1,218.5L251.2,218.9L260.2,215.8L255.1,215.4ZM230.3,226.0L235.5,225.6L259.4,217.4L254.2,217.8ZM238.4,224.6L243.5,223.3L258.4,218.2L253.4,219.5ZM237.5,225.4L242.2,223.3L257.2,218.2L252.4,220.2ZM239.2,224.3L243.8,221.8L258.7,216.7L254.2,219.2ZM243.8,221.8L247.9,218.7L259.9,214.6L255.7,217.7ZM250.9,217.7L254.7,214.1L260.6,212.0L256.9,215.6ZM251.7,215.1L255.2,211.3L261.2,209.2L257.7,213.1Z" fill="#a87600" stroke="#a87600" stroke-width="0.70"/>
<path d="M192.6,153.9L194.0,158.9L220.9,149.7L219.5,144.7ZM188.0,160.9L189.5,165.9L225.5,153.6L223.9,148.6ZM183.6,167.9L185.4,172.8L230.3,157.4L228.5,152.5ZM182.4,173.8L184.7,178.5L232.6,162.1L230.3,157.4ZM181.7,179.5L184.1,184.1L238.0,165.6L235.6,161.0ZM184.1,184.1L186.8,188.5L240.7,170.1L238.0,165.6ZM183.8,189.5L186.7,193.8L243.6,174.4L240.7,170.1ZM183.7,194.8L186.8,199.0L243.7,179.5L240.6,175.4ZM186.8,199.0L190.2,203.0L244.1,184.5L240.7,180.6ZM187.2,204.0L190.8,207.7L244.7,189.3L241.1,185.5ZM190.8,207.7L194.8,211.0L242.7,194.6L238.7,191.3ZM194.8,211.0L199.1,213.9L247.0,197.5L242.7,194.6ZM196.1,214.9L200.6,217.4L227.6,208.2L223.0,205.7ZM241.0,199.6L245.5,202.1L248.5,201.1L244.0,198.6ZM200.6,217.4L205.3,219.6L229.3,211.4L224.6,209.2ZM245.5,202.1L250.2,204.3L253.2,203.2L248.5,201.1ZM208.3,218.6L213.1,220.6L231.1,214.4L226.3,212.5ZM247.3,205.3L252.1,207.3L255.0,206.2L250.2,204.3ZM219.1,218.5L224.0,220.3L233.0,217.2L228.1,215.5ZM249.1,208.3L253.9,210.1L256.9,209.0L252.1,207.3ZM227.0,219.3L232.0,220.7L238.0,218.6L233.0,217.2ZM247.9,212.1L252.9,213.5L255.9,212.5L250.9,211.1ZM232.0,220.7L237.1,221.6L255.1,215.4L249.9,214.5ZM240.1,220.6L245.3,220.9L251.2,218.9L246.1,218.5ZM247.9,218.7L251.7,215.1L254.7,214.1L250.9,217.7Z" fill="#97a100" stroke="#97a100" stroke-width="0.70"/>
<path d="M223.0,205.7L227.6,208.2L245.5,202.1L241.0,199.6ZM224.6,209.2L229.3,211.4L235.3,209.4L230.6,207.2ZM242.6,203.1L247.3,205.3L250.2,204.3L245.5,202.1ZM226.3,212.5L231.1,214.4L234.1,213.4L229.3,211.4ZM244.3,206.3L249.1,208.3L252.1,207.3L247.3,205.3ZM228.1,215.5L233.0,217.2L236.0,216.2L231.1,214.4ZM246.1,209.3L250.9,211.1L253.9,210.1L249.1,208.3ZM233.0,217.2L238.0,218.6L241.0,217.6L236.0,216.2ZM245.0,213.1L249.9,214.5L252.9,213.5L247.9,212.1Z" fill="#5c9e00" stroke="#5c9e00" stroke-width="0.70"/>
<path d="M230.6,207.2L235.3,209.4L247.3,205.3L242.6,203.1ZM229.3,211.4L234.1,213.4L237.1,212.4L232.3,210.4ZM241.3,207.3L246.1,209.3L249.1,208.3L244.3,206.3ZM231.1,214.4L236.0,216.2L242.0,214.2L237.1,212.4ZM243.1,210.3L247.9,212.1L250.9,211.1L246.1,209.3ZM236.0,216.2L241.0,217.6L249.9,214.5L245.0,213.1Z" fill="#1e9900" stroke="#1e9900" stroke-width="0.70"/>
<path d="M232.3,210.4L237.1,212.4L246.1,209.3L241.3,207.3ZM237.1,212.4L242.0,214.2L247.9,212.1L243.1,210.3Z" fill="#00971e" stroke="#00971e" stroke-width="0.70"/>
<g fill="none" stroke="#000" stroke-opacity="0.80" stroke-width="0.50">
<path id="a_ir" d="M214.6,78.6l-2.3,-0.6l-2.3,-0.5l-2.3,-0.6l-2.4,-0.6l-2.3,-0.6l-2.3,-0.5l-2.3,-0.6l-2.3,-0.6l-2.2,-0.6l-2.3,-0.6l-2.3,-0.6l-2.4,-0.5l-2.3,-0.4l-2.4,-0.3l-2.3,-0.1l-2.4,0.1l-2.4,0.1l-2.3,0.2l-2.4,0.4l-2.3,0.4l-2.3,0.6l-2.2,0.8l-2.2,1.1l-1.9,1.4l-1.7,1.6l-1.4,1.9l-1.4,2l-1.1,2l-1.1,2.1l-0.9,2.2l-0.8,2.3l-0.6,2.3l-0.4,2.3l-0.4,2.4l-0.2,2.3l-0.1,2.4l-0.1,2.4l-0.1,2.3l0,2.4l0,2.4l0.1,2.3l0.1,2.4l0,2.4l0.1,2.4l0.1,2.3l0.1,2.4l0.2,2.4l0.1,2.3l0.3,2.4l0.2,2.4l0.3,2.3l0.4,2.4l0.4,2.3l0.5,2.3l0.4,2.4l0.5,2.3l0.4,2.3l0.5,2.3l0.4,2.4l0.5,2.3l0.5,2.3l0.6,2.3l0.5,2.3l0.6,2.3l0.6,2.3l0.7,2.3l0.7,2.3l0.8,2.2l0.8,2.2l0.9,2.2l1,2.2l1,2.1l1.1,2.1l1.2,2.1l1.2,2.1l1.2,2l1.3,2l1.3,2l1.3,1.9l1.5,1.9l1.4,1.9l1.5,1.8l1.6,1.8l1.6,1.7l1.7,1.7l1.7,1.6l1.8,1.5l1.9,1.4l2,1.4l2,1.2l2.1,1.2l2.1,1.1l2.1,1l2.2,1l2.2,0.9l2.2,0.9l2.2,0.8l2.2,0.8l2.3,0.8l2.3,0.6l2.3,0.5l2.3,0.5l2.4,0.3l2.3,0.2l2.4,0.1l2.4,-0.1l2.3,-0.3l2.4,-0.4l2.3,-0.7l2.2,-0.8l2.2,-0.9l2.1,-1.1l2.1,-1.2l2,-1.2l1.9,-1.4l1.8,-1.5l1.8,-1.6l1.7,-1.7l1.6,-1.7l1.6,-1.8l1.5,-1.7l1.6,-1.8l1.6,-1.8l1.7,-1.7l1.6,-1.7l1.6,-1.7l1.6,-1.8l1.7,-1.7l1.6,-1.7"/>
<use href="#a_ir" transform="translate(1.7 -0.6)"/>
<use href="#a_ir" transform="translate(3.3 -1.1)"/>
<use href="#a_ir" transform="translate(5.0 -1.7)"/>
<use href="#a_ir" transform="translate(6.7 -2.3)"/>
<use href="#a_ir" transform="translate(8.4 -2.9)"/>
<use href="#a_ir" transform="translate(10.0 -3.4)"/>
<use href="#a_ir" transform="translate(11.7 -4.0)"/>
<use href="#a_ir" transform="translate(13.4 -4.6)"/>
<use href="#a_ir" transform="translate(15.1 -5.2)"/>
<use href="#a_ir" transform="translate(16.7 -5.7)"/>
<use href="#a_ir" transform="translate(18.4 -6.3)"/>
<use href="#a_ir" transform="translate(20.1 -6.9)"/>
<use href="#a_ir" transform="translate(21.8 -7.4)"/>
<use href="#a_ir" transform="translate(23.4 -8.0)"/>
<use href="#a_ir" transform="translate(25.1 -8.6)"/>
<use href="#a_ir" transform="translate(26.8 -9.2)"/>
<use href="#a_ir" transform="translate(28.5 -9.7)"/>
<use href="#a_ir" transform="translate(30.1 -10.3)"/>
<use href="#a_ir" transform="translate(31.8 -10.9)"/>
<use href="#a_ir" transform="translate(33.5 -11.5)"/>
<use href="#a_ir" transform="translate(35.2 -12.0)"/>
<use href="#a_ir" transform="translate(36.8 -12.6)"/>
<use href="#a_ir" transform="translate(38.5 -13.2)"/>
<use href="#a_ir" transform="translate(40.2 -13.7)"/>
<use href="#a_ir" transform="translate(41.9 -14.3)"/>
<use href="#a_ir" transform="translate(43.5 -14.9)"/>
<use href="#a_ir" transform="translate(45.2 -15.5)"/>
<use href="#a_ir" transform="translate(46.9 -16.0)"/>
<use href="#a_ir" transform="translate(48.6 -16.6)"/>
<use href="#a_ir" transform="translate(50.2 -17.2)"/>
<use href="#a_ir" transform="translate(51.9 -17.8)"/>
<use href="#a_ir" transform="translate(53.6 -18.3)"/>
<use href="#a_ir" transform="translate(55.3 -18.9)"/>
<use href="#a_ir" transform="translate(56.9 -19.5)"/>
<use href="#a_ir" transform="translate(58.6 -20.1)"/>
<use href="#a_ir" transform="translate(60.3 -20.6)"/>
<use href="#a_ir" transform="translate(62.0 -21.2)"/>
<use href="#a_ir" transform="translate(63.6 -21.8)"/>
<use href="#a_ir" transform="translate(65.3 -22.3)"/>
<use href="#a_ir" transform="translate(67.0 -22.9)"/>
<use href="#a_ir" transform="translate(68.7 -23.5)"/>
<use href="#a_ir" transform="translate(70.3 -24.1)"/>
<use href="#a_ir" transform="translate(72.0 -24.6)"/>
<use href="#a_ir" transform="translate(73.7 -25.2)"/>
<use href="#a_ir" transform="translate(75.4 -25.8)"/>
<use href="#a_ir" transform="translate(77.0 -26.4)"/>
<use href="#a_ir" transform="translate(78.7 -26.9)"/>
<use href="#a_ir" transform="translate(80.4 -27.5)"/>
<use href="#a_ir" transform="translate(82.1 -28.1)"/>
<use href="#a_ir" transform="translate(83.7 -28.6)"/>
<use href="#a_ir" transform="translate(85.4 -29.2)"/>
<use href="#a_ir" transform="translate(87.1 -29.8)"/>
<use href="#a_ir" transform="translate(88.8 -30.4)"/>
<use href="#a_ir" transform="translate(90.4 -30.9)"/>
<use href="#a_ir" transform="translate(92.1 -31.5)"/>
<use href="#a_ir" transform="translate(93.8 -32.1)"/>
<use href="#a_ir" transform="translate(95.5 -32.7)"/>
<use href="#a_ir" transform="translate(97.1 -33.2)"/>
<use href="#a_ir" transform="translate(98.8 -33.8)"/>
<path d="M214.6,78.6l98.8,-33.8M212.3,78.0l98.8,-33.8M210.0,77.5l98.8,-33.8M207.7,76.9l98.8,-33.8M205.3,76.3l98.8,-33.8M203.0,75.7l98.8,-33.8M200.7,75.2l98.8,-33.8M198.4,74.6l98.8,-33.8M196.1,74.0l98.8,-33.8M193.9,73.4l98.8,-33.8M191.6,72.8l98.8,-33.8M189.3,72.2l98.8,-33.8M186.9,71.7l98.8,-33.8M184.6,71.3l98.8,-33.8M182.2,71.0l98.8,-33.8M179.9,70.9l98.8,-33.8M177.5,71.0l98.8,-33.8M175.1,71.1l98.8,-33.8M172.8,71.3l98.8,-33.8M170.4,71.7l98.8,-33.8M168.1,72.1l98.8,-33.8M165.8,72.7l98.8,-33.8M163.6,73.5l98.8,-33.8M161.4,74.6l98.8,-33.8M159.5,76.0l98.8,-33.8M157.8,77.6l98.8,-33.8M156.4,79.5l98.8,-33.8M155.0,81.5l98.8,-33.8M153.9,83.5l98.8,-33.8M152.8,85.6l98.8,-33.8M151.9,87.8l98.8,-33.8M151.1,90.1l98.8,-33.8M150.5,92.4l98.8,-33.8M150.1,94.7l98.8,-33.8M149.7,97.1l98.8,-33.8M149.5,99.4l98.8,-33.8M149.4,101.8l98.8,-33.8M149.3,104.2l98.8,-33.8M149.2,106.5l98.8,-33.8M149.2,108.9l98.8,-33.8M149.2,111.3l98.8,-33.8M149.3,113.6l98.8,-33.8M149.4,116.0l98.8,-33.8M149.4,118.4l98.8,-33.8M149.5,120.8l98.8,-33.8M149.6,123.1l98.8,-33.8M149.7,125.5l98.8,-33.8M149.9,127.9l98.8,-33.8M150.0,130.2l98.8,-33.8M150.3,132.6l98.8,-33.8M150.5,135.0l98.8,-33.8M150.8,137.3l98.8,-33.8M151.2,139.7l98.8,-33.8M151.6,142.0l98.8,-33.8M152.1,144.3l98.8,-33.8M152.5,146.7l98.8,-33.8M153.0,149.0l98.8,-33.8M153.4,151.3l98.8,-33.8M153.9,153.6l98.8,-33.8M154.3,156.0l98.8,-33.8M154.8,158.3l98.8,-33.8M155.3,160.6l98.8,-33.8M155.9,162.9l98.8,-33.8M156.4,165.2l98.8,-33.8M157.0,167.5l98.8,-33.8M157.6,169.8l98.8,-33.8M158.3,172.1l98.8,-33.8M159.0,174.4l98.8,-33.8M159.8,176.6l98.8,-33.8M160.6,178.8l98.8,-33.8M161.5,181.0l98.8,-33.8M162.5,183.2l98.8,-33.8M163.5,185.3l98.8,-33.8M164.6,187.4l98.8,-33.8M165.8,189.5l98.8,-33.8M167.0,191.6l98.8,-33.8M168.2,193.6l98.8,-33.8M169.5,195.6l98.8,-33.8M170.8,197.6l98.8,-33.8M172.1,199.5l98.8,-33.8M173.6,201.4l98.8,-33.8M175.0,203.3l98.8,-33.8M176.5,205.1l98.8,-33.8M178.1,206.9l98.8,-33.8M179.7,208.6l98.8,-33.8M181.4,210.3l98.8,-33.8M183.1,211.9l98.8,-33.8M184.9,213.4l98.8,-33.8M186.8,214.8l98.8,-33.8M188.8,216.2l98.8,-33.8M190.8,217.4l98.8,-33.8M192.9,218.6l98.8,-33.8M195.0,219.7l98.8,-33.8M197.1,220.7l98.8,-33.8M199.3,221.7l98.8,-33.8M201.5,222.6l98.8,-33.8M203.7,223.5l98.8,-33.8M205.9,224.3l98.8,-33.8M208.1,225.1l98.8,-33.8M210.4,225.9l98.8,-33.8M212.7,226.5l98.8,-33.8M215.0,227.0l98.8,-33.8M217.3,227.5l98.8,-33.8M219.7,227.8l98.8,-33.8M222.0,228.0l98.8,-33.8M224.4,228.1l98.8,-33.8M226.8,228.0l98.8,-33.8M229.1,227.7l98.8,-33.8M231.5,227.3l98.8,-33.8M233.8,226.6l98.8,-33.8M236.0,225.8l98.8,-33.8M238.2,224.9l98.8,-33.8M240.3,223.8l98.8,-33.8M242.4,222.6l98.8,-33.8M244.4,221.4l98.8,-33.8M246.3,220.0l98.8,-33.8M248.1,218.5l98.8,-33.8M249.9,216.9l98.8,-33.8M251.6,215.2l98.8,-33.8M253.2,213.5l98.8,-33.8M254.8,211.7l98.8,-33.8M256.3,210.0l98.8,-33.8M257.9,208.2l98.8,-33.8M259.5,206.4l98.8,-33.8M261.2,204.7l98.8,-33.8M262.8,203.0l98.8,-33.8M264.4,201.3l98.8,-33.8M266.0,199.5l98.8,-33.8M267.7,197.8l98.8,-33.8M269.3,196.1l98.8,-33.8"/>
</g>
</g>
<path d="M211.6,88.3 C212.4,87.6 215.4,89.9 217.0,91.0 C218.6,92.1 218.7,92.5 221.0,95.0 C223.3,97.5 227.8,102.5 231.0,106.3 C234.2,110.1 237.3,113.8 240.0,117.6 C242.7,121.4 245.0,125.2 246.9,129.0 C248.8,132.8 250.1,136.4 251.4,140.2 C252.7,144.0 253.6,147.6 254.8,151.6 C256.0,155.6 257.5,160.3 258.5,164.0 C259.5,167.7 260.3,171.6 260.8,174.0 C261.3,176.4 262.1,178.3 261.3,178.5 C260.5,178.7 258.1,176.6 255.9,175.0 C253.7,173.4 250.5,171.2 248.0,169.0 C245.5,166.8 243.3,164.4 241.0,161.5 C238.7,158.6 236.6,155.2 234.4,151.6 C232.2,148.0 229.7,144.0 227.6,140.2 C225.5,136.4 223.7,132.8 222.0,129.0 C220.3,125.2 218.7,121.4 217.4,117.6 C216.1,113.8 214.8,110.1 214.0,106.3 C213.2,102.5 212.8,98.0 212.4,95.0 C212.0,92.0 210.8,89.0 211.6,88.3 Z" fill="#fff"/>
<path d="M224,21.5 L206,5.6 L117,61 L311,243 L396,184 L374,163" fill="none" stroke="#111" stroke-width="1.35" stroke-dasharray="4.5 2.3"/>
<text x="0" y="0" transform="translate(193 28.5) scale(1.3 1)" class="lsr" font-style="italic" font-size="24.5" fill="#111" stroke="#111" stroke-width="0.35">β</text>
</g>
<g id="pb">
<defs><clipPath id="b_S"><path d="M590.2,114.0 C590.0,107.7 591.0,101.5 592.0,96.0 C593.0,90.5 594.1,86.1 596.3,81.3 C598.5,76.5 601.4,71.1 605.0,67.0 C608.6,62.9 613.3,59.4 618.0,56.5 C622.7,53.6 626.0,52.3 633.0,49.5 C640.0,46.7 651.2,42.7 660.0,39.5 C668.8,36.3 679.3,31.8 686.0,30.5 C692.7,29.2 695.0,30.4 700.0,31.5 C705.0,32.6 710.5,34.2 716.0,37.0 C721.5,39.8 727.3,43.3 733.0,48.0 C738.7,52.7 743.8,58.6 750.0,65.0 C756.2,71.4 763.4,78.4 770.0,86.4 C776.6,94.4 784.6,105.8 789.6,112.9 C794.6,120.0 797.3,124.0 800.0,129.0 C802.7,133.9 804.1,138.1 806.0,142.6 C807.9,147.1 810.1,151.6 811.5,156.0 C812.9,160.4 813.6,165.2 814.4,169.0 C815.1,172.8 815.9,175.7 816.0,179.0 C816.1,182.3 815.8,185.7 815.0,189.0 C814.2,192.3 813.8,195.5 811.2,198.8 C808.6,202.1 804.3,205.4 799.6,208.7 C794.9,212.0 788.5,215.4 783.0,218.7 C777.5,222.0 772.0,225.3 766.5,228.6 C761.0,231.9 754.4,235.8 750.0,238.5 C745.6,241.2 743.7,243.2 740.0,245.0 C736.3,246.8 732.2,248.4 728.0,249.0 C723.8,249.6 719.8,249.2 714.8,248.8 C709.8,248.4 703.5,247.5 698.0,246.5 C692.5,245.5 687.5,244.5 682.0,242.6 C676.5,240.7 670.4,238.1 665.0,235.0 C659.6,231.9 654.6,228.3 649.4,224.0 C644.2,219.7 638.8,214.4 634.0,209.0 C629.2,203.6 624.8,197.4 620.8,191.6 C616.8,185.8 613.4,180.1 610.0,174.0 C606.6,167.9 603.1,161.5 600.4,154.8 C597.6,148.1 595.2,140.8 593.5,134.0 C591.8,127.2 590.5,120.3 590.2,114.0 Z"/></clipPath><clipPath id="b_F"><path d="M633.0,49.5 C638.2,48.9 643.2,51.2 648.0,53.0 C652.8,54.8 657.2,57.0 662.0,60.0 C666.8,63.0 672.3,66.7 677.0,71.0 C681.7,75.3 685.7,80.2 690.0,86.0 C694.3,91.8 699.2,98.5 703.0,106.0 C706.8,113.5 710.2,123.7 713.0,131.0 C715.8,138.3 718.0,143.8 720.0,150.0 C722.0,156.2 723.3,161.3 725.0,168.0 C726.7,174.7 728.3,183.0 730.0,190.0 C731.7,197.0 733.3,203.7 735.0,210.0 C736.7,216.3 738.5,222.7 740.0,228.0 C741.5,233.3 744.7,238.9 744.0,242.0 C743.3,245.1 738.7,245.3 736.0,246.5 C733.3,247.7 731.5,248.6 728.0,249.0 C724.5,249.4 719.8,249.2 714.8,248.8 C709.8,248.4 703.5,247.5 698.0,246.5 C692.5,245.5 687.5,244.5 682.0,242.6 C676.5,240.7 670.4,238.1 665.0,235.0 C659.6,231.9 654.6,228.3 649.4,224.0 C644.2,219.7 638.8,214.4 634.0,209.0 C629.2,203.6 624.8,197.4 620.8,191.6 C616.8,185.8 613.4,180.1 610.0,174.0 C606.6,167.9 603.1,161.5 600.4,154.8 C597.6,148.1 595.2,140.8 593.5,134.0 C591.8,127.2 590.5,120.3 590.2,114.0 C590.0,107.7 591.0,101.5 592.0,96.0 C593.0,90.5 594.1,86.1 596.3,81.3 C598.5,76.5 601.6,71.1 605.0,67.0 C608.4,62.9 612.1,59.7 616.8,56.8 C621.5,53.9 627.8,50.1 633.0,49.5 Z"/></clipPath><clipPath id="b_E"><path d="M605.0,95.0 C606.7,90.2 606.0,91.2 609.0,89.0 C612.0,86.8 617.0,82.9 622.8,82.0 C628.6,81.1 638.0,82.4 643.7,83.7 C649.4,85.0 653.5,88.0 657.0,90.0 C660.5,92.0 662.6,94.0 665.0,95.5 C667.4,97.0 668.5,95.5 671.3,98.8 C674.1,102.1 678.3,109.6 681.8,115.5 C685.3,121.4 689.1,128.1 692.2,134.3 C695.3,140.6 698.2,147.1 700.6,153.0 C703.0,158.9 705.3,164.8 706.8,169.8 C708.3,174.8 708.9,178.6 709.5,183.0 C710.1,187.4 710.7,191.1 710.5,196.0 C710.3,200.9 710.8,208.5 708.4,212.5 C706.0,216.5 701.7,218.8 696.0,220.0 C690.3,221.2 681.8,222.0 674.0,220.0 C666.2,218.0 656.8,213.2 649.0,208.0 C641.2,202.8 633.3,196.3 627.0,189.0 C620.7,181.7 615.2,171.8 611.0,164.0 C606.8,156.2 604.0,149.7 602.0,142.0 C600.0,134.3 598.5,125.8 599.0,118.0 C599.5,110.2 603.3,99.8 605.0,95.0 Z"/></clipPath></defs>
<g clip-path="url(#b_S)">
<path d="M602.4,46.7L617.1,49.8L710.1,13.8L695.4,10.7ZM617.1,49.8L631.8,52.9L724.8,16.9L710.1,13.8ZM631.8,52.9L646.2,57.2L739.2,21.2L724.8,16.9ZM646.2,57.2L659.2,64.6L752.2,28.6L739.2,21.2ZM659.2,64.6L671.1,73.7L764.1,37.7L752.2,28.6ZM671.1,73.7L681.2,84.9L774.2,48.9L764.1,37.7ZM681.2,84.9L690.0,97.1L783.0,61.1L774.2,48.9ZM690.0,97.1L697.6,110.1L790.6,74.1L783.0,61.1ZM697.6,110.1L703.3,124.0L796.3,88.0L790.6,74.1ZM703.3,124.0L708.6,138.0L801.6,102.0L796.3,88.0ZM708.6,138.0L713.7,152.2L806.7,116.2L801.6,102.0ZM713.7,152.2L717.9,166.6L810.9,130.6L806.7,116.2ZM717.9,166.6L721.3,181.3L814.3,145.3L810.9,130.6ZM721.3,181.3L724.7,196.0L817.7,160.0L814.3,145.3ZM724.7,196.0L728.3,210.5L821.3,174.5L817.7,160.0ZM728.3,210.5L732.3,225.0L825.3,189.0L821.3,174.5ZM732.3,225.0L736.4,239.5L829.4,203.5L825.3,189.0ZM736.4,239.5L740.5,254.0L833.5,218.0L829.4,203.5ZM740.5,254.0L744.7,268.4L837.7,232.4L833.5,218.0Z" fill="#0000d3" stroke="#0000d3" stroke-width="0.70"/>
<g fill="none" stroke="#000" stroke-opacity="0.75" stroke-width="0.50">
<path id="b_cr" d="M608.6,44.3l8.4,1.8l8.5,1.8l8.5,1.8l8.4,1.7l8.3,2.6l7.7,3.9l7.4,4.5l7.1,5.1l6.4,5.7l5.8,6.5l5.3,6.8l5,7.1l4.7,7.2l4.1,7.7l3.4,8l3,8.1l3,8.1l3.1,8.1l2.9,8.1l2.6,8.3l2.2,8.4l2,8.4l1.9,8.4l1.9,8.5l2.1,8.4l2.1,8.4l2.2,8.4l2.4,8.3l2.3,8.3l2.4,8.4l2.4,8.3l2.4,8.3l2.4,8.3"/>
<use href="#b_cr" transform="translate(-6.2 2.4)"/>
<use href="#b_cr" transform="translate(-1.8 0.7)"/>
<use href="#b_cr" transform="translate(2.7 -1.0)"/>
<use href="#b_cr" transform="translate(7.1 -2.7)"/>
<use href="#b_cr" transform="translate(11.5 -4.5)"/>
<use href="#b_cr" transform="translate(15.9 -6.2)"/>
<use href="#b_cr" transform="translate(20.4 -7.9)"/>
<use href="#b_cr" transform="translate(24.8 -9.6)"/>
<use href="#b_cr" transform="translate(29.2 -11.3)"/>
<use href="#b_cr" transform="translate(33.7 -13.0)"/>
<use href="#b_cr" transform="translate(38.1 -14.7)"/>
<use href="#b_cr" transform="translate(42.5 -16.5)"/>
<use href="#b_cr" transform="translate(46.9 -18.2)"/>
<use href="#b_cr" transform="translate(51.4 -19.9)"/>
<use href="#b_cr" transform="translate(55.8 -21.6)"/>
<use href="#b_cr" transform="translate(60.2 -23.3)"/>
<use href="#b_cr" transform="translate(64.7 -25.0)"/>
<use href="#b_cr" transform="translate(69.1 -26.7)"/>
<use href="#b_cr" transform="translate(73.5 -28.5)"/>
<use href="#b_cr" transform="translate(77.9 -30.2)"/>
<use href="#b_cr" transform="translate(82.4 -31.9)"/>
<use href="#b_cr" transform="translate(86.8 -33.6)"/>
<path d="M602.4,46.7l93.0,-36.0M610.8,48.5l93.0,-36.0M619.3,50.3l93.0,-36.0M627.8,52.1l93.0,-36.0M636.2,53.8l93.0,-36.0M644.5,56.4l93.0,-36.0M652.2,60.3l93.0,-36.0M659.6,64.8l93.0,-36.0M666.7,69.9l93.0,-36.0M673.1,75.6l93.0,-36.0M678.9,82.1l93.0,-36.0M684.2,88.9l93.0,-36.0M689.2,96.0l93.0,-36.0M693.9,103.2l93.0,-36.0M698.0,110.9l93.0,-36.0M701.4,118.9l93.0,-36.0M704.4,127.0l93.0,-36.0M707.4,135.1l93.0,-36.0M710.5,143.2l93.0,-36.0M713.4,151.3l93.0,-36.0M716.0,159.6l93.0,-36.0M718.2,168.0l93.0,-36.0M720.2,176.4l93.0,-36.0M722.1,184.8l93.0,-36.0M724.0,193.3l93.0,-36.0M726.1,201.7l93.0,-36.0M728.2,210.1l93.0,-36.0M730.4,218.5l93.0,-36.0M732.8,226.8l93.0,-36.0M735.1,235.1l93.0,-36.0M737.5,243.5l93.0,-36.0M739.9,251.8l93.0,-36.0M742.3,260.1l93.0,-36.0M744.7,268.4l93.0,-36.0"/>
</g>
</g>
<g clip-path="url(#b_F)">
<path d="M699.4,150.0L700.2,152.0L720.9,153.0L720.0,150.0ZM700.2,152.0L701.1,154.1L721.8,156.0L720.9,153.0ZM701.1,154.1L702.0,156.4L722.7,159.2L721.8,156.0ZM702.0,156.4L702.9,158.7L723.6,162.4L722.7,159.2ZM702.9,158.7L703.8,161.1L724.5,165.9L723.6,162.4ZM703.8,161.1L704.8,163.7L725.3,169.4L724.5,165.9ZM704.8,163.7L705.7,166.5L726.2,173.1L725.3,169.4ZM705.7,166.5L706.7,169.4L727.1,177.1L726.2,173.1ZM706.7,169.4L707.5,172.5L728.0,181.2L727.1,177.1ZM707.5,172.5L708.3,175.7L729.0,185.6L728.0,181.2ZM708.3,175.7L708.9,179.0L730.1,190.4L729.0,185.6ZM708.9,179.0L709.4,182.5L731.4,195.6L730.1,190.4ZM709.4,182.5L710.0,186.3L732.8,201.3L731.4,195.6ZM710.0,186.3L710.4,190.2L734.4,207.7L732.8,201.3ZM710.4,190.2L710.5,194.3L736.3,214.8L734.4,207.7ZM710.5,194.3L710.5,198.4L738.6,223.0L736.3,214.8ZM710.5,198.4L710.4,202.9L741.7,232.9L738.6,223.0ZM710.4,202.9L710.0,207.5L743.7,242.8L741.7,232.9ZM710.0,207.5L708.8,211.6L738.6,245.7L743.7,242.8ZM708.8,211.6L706.6,214.8L733.0,247.8L738.6,245.7ZM706.6,214.8L703.7,217.1L727.0,249.1L733.0,247.8ZM703.7,217.1L700.4,218.7L720.5,249.2L727.0,249.1ZM700.4,218.7L696.7,219.8L714.0,248.7L720.5,249.2ZM696.7,219.8L693.0,220.6L707.8,248.0L714.0,248.7ZM693.0,220.6L689.2,221.0L701.8,247.2L707.8,248.0ZM689.2,221.0L685.4,221.2L696.1,246.1L701.8,247.2ZM685.4,221.2L681.7,221.2L690.7,245.0L696.1,246.1ZM681.7,221.2L678.0,220.8L685.4,243.7L690.7,245.0ZM678.0,220.8L674.3,220.1L680.4,242.0L685.4,243.7ZM674.3,220.1L670.8,219.0L675.6,240.1L680.4,242.0ZM670.8,219.0L667.3,217.8L671.0,238.1L675.6,240.1ZM667.3,217.8L664.0,216.4L666.6,235.9L671.0,238.1ZM664.0,216.4L660.8,214.9L662.5,233.5L666.6,235.9ZM660.8,214.9L657.8,213.3L658.6,231.0L662.5,233.5ZM657.8,213.3L655.0,211.7L655.0,228.4L658.6,231.0ZM655.0,211.7L652.3,210.1L651.6,225.8L655.0,228.4ZM652.3,210.1L649.7,208.5L648.4,223.2L651.6,225.8ZM649.7,208.5L647.3,206.9L645.4,220.5L648.4,223.2ZM647.3,206.9L645.0,205.2L642.7,218.0L645.4,220.5ZM645.0,205.2L642.8,203.6L640.1,215.4L642.7,218.0ZM642.8,203.6L640.7,202.0L637.6,212.9L640.1,215.4ZM640.7,202.0L638.6,200.3L635.3,210.5L637.6,212.9ZM638.6,200.3L636.7,198.7L633.2,208.1L635.3,210.5ZM636.7,198.7L634.9,197.1L631.2,205.7L633.2,208.1ZM634.9,197.1L633.1,195.4L629.3,203.3L631.2,205.7ZM633.1,195.4L631.4,193.8L627.5,201.0L629.3,203.3ZM631.4,193.8L629.8,192.1L625.9,198.8L627.5,201.0ZM629.8,192.1L628.3,190.5L624.3,196.6L625.9,198.8ZM628.3,190.5L626.8,188.8L622.7,194.4L624.3,196.6ZM626.8,188.8L625.4,187.1L621.3,192.3L622.7,194.4ZM625.4,187.1L624.1,185.4L619.9,190.2L621.3,192.3ZM624.1,185.4L622.8,183.7L618.5,188.2L619.9,190.2ZM622.8,183.7L621.6,181.9L617.2,186.1L618.5,188.2ZM621.6,181.9L620.4,180.2L615.9,184.1L617.2,186.1ZM620.4,180.2L619.3,178.5L614.7,182.1L615.9,184.1ZM619.3,178.5L618.2,176.7L613.5,180.1L614.7,182.1ZM618.2,176.7L617.2,175.0L612.3,178.2L613.5,180.1ZM617.2,175.0L616.1,173.2L611.2,176.2L612.3,178.2ZM616.1,173.2L615.1,171.5L610.1,174.2L611.2,176.2ZM615.1,171.5L614.1,169.7L609.0,172.2L610.1,174.2ZM614.1,169.7L613.1,167.9L607.9,170.1L609.0,172.2ZM613.1,167.9L612.1,166.1L606.8,168.1L607.9,170.1ZM612.1,166.1L611.1,164.3L605.7,166.0L606.8,168.1ZM611.1,164.3L610.1,162.4L604.6,163.9L605.7,166.0ZM610.1,162.4L609.2,160.5L603.5,161.7L604.6,163.9ZM609.2,160.5L608.2,158.5L602.5,159.5L603.5,161.7ZM608.2,158.5L607.2,156.5L601.5,157.3L602.5,159.5ZM607.2,156.5L606.3,154.4L600.4,154.9L601.5,157.3ZM606.3,154.4L605.4,152.2L599.5,152.5L600.4,154.9ZM605.4,152.2L604.5,150.0L598.5,150.0L599.5,152.5ZM604.5,150.0L603.7,147.7L597.6,147.4L598.5,150.0ZM603.7,147.7L602.9,145.3L596.7,144.7L597.6,147.4ZM602.9,145.3L602.2,142.9L595.8,142.0L596.7,144.7ZM602.2,142.9L601.6,140.3L594.9,139.1L595.8,142.0ZM601.6,140.3L601.0,137.7L594.0,136.1L594.9,139.1ZM601.0,137.7L600.4,134.9L593.2,133.0L594.0,136.1ZM600.4,134.9L599.9,132.1L592.5,129.7L593.2,133.0ZM599.9,132.1L599.4,129.2L591.8,126.3L592.5,129.7ZM599.4,129.2L599.1,126.1L591.1,122.7L591.8,126.3ZM599.1,126.1L598.9,123.0L590.6,119.0L591.1,122.7ZM598.9,123.0L598.9,119.8L590.3,115.2L590.6,119.0ZM598.9,119.8L599.1,116.6L590.2,111.3L590.3,115.2ZM599.1,116.6L599.6,113.4L590.4,107.3L590.2,111.3ZM599.6,113.4L600.3,110.2L590.8,103.3L590.4,107.3ZM600.3,110.2L601.1,107.0L591.4,99.3L590.8,103.3ZM601.1,107.0L602.1,103.7L592.2,95.1L591.4,99.3ZM602.1,103.7L603.1,100.4L593.1,90.8L592.2,95.1ZM603.1,100.4L604.3,97.0L594.3,86.5L593.1,90.8ZM604.3,97.0L605.5,93.4L595.9,82.3L594.3,86.5ZM605.5,93.4L607.3,90.2L597.8,78.2L595.9,82.3ZM607.3,90.2L610.1,88.2L600.0,74.2L597.8,78.2ZM610.1,88.2L612.9,86.2L602.4,70.4L600.0,74.2ZM612.9,86.2L615.8,84.5L605.2,66.7L602.4,70.4ZM615.8,84.5L619.0,83.0L608.4,63.4L605.2,66.7ZM619.0,83.0L622.3,82.1L611.8,60.3L608.4,63.4ZM622.3,82.1L625.8,81.7L615.5,57.6L611.8,60.3ZM625.8,81.7L629.4,81.7L619.4,55.2L615.5,57.6ZM629.4,81.7L632.9,82.0L623.5,52.9L619.4,55.2ZM632.9,82.0L636.3,82.4L627.7,51.0L623.5,52.9ZM636.3,82.4L639.7,82.9L632.1,49.7L627.7,51.0ZM639.7,82.9L642.9,83.5L636.8,49.5L632.1,49.7ZM642.9,83.5L646.1,84.4L641.5,50.6L636.8,49.5ZM646.1,84.4L649.2,85.6L646.2,52.3L641.5,50.6ZM649.2,85.6L652.2,87.2L650.7,54.0L646.2,52.3ZM652.2,87.2L655.0,88.8L655.0,56.0L650.7,54.0ZM655.0,88.8L657.7,90.4L659.1,58.3L655.0,56.0ZM657.7,90.4L660.2,92.0L663.0,60.7L659.1,58.3ZM660.2,92.0L662.6,93.8L666.8,63.1L663.0,60.7ZM662.6,93.8L664.9,95.4L670.3,65.6L666.8,63.1ZM664.9,95.4L667.3,96.3L673.7,68.1L670.3,65.6ZM667.3,96.3L669.6,97.2L676.8,70.9L673.7,68.1ZM669.6,97.2L671.5,99.1L679.8,73.7L676.8,70.9ZM671.5,99.1L673.2,101.4L682.5,76.7L679.8,73.7ZM673.2,101.4L674.8,103.7L685.1,79.7L682.5,76.7ZM674.8,103.7L676.2,106.0L687.4,82.6L685.1,79.7ZM676.2,106.0L677.5,108.2L689.7,85.6L687.4,82.6ZM677.5,108.2L678.7,110.3L691.8,88.4L689.7,85.6ZM678.7,110.3L679.9,112.3L693.8,91.2L691.8,88.4ZM679.9,112.3L681.0,114.2L695.7,94.0L693.8,91.2ZM681.0,114.2L682.1,116.0L697.5,96.7L695.7,94.0ZM682.1,116.0L683.1,117.8L699.2,99.4L697.5,96.7ZM683.1,117.8L684.1,119.5L700.8,102.0L699.2,99.4ZM684.1,119.5L685.1,121.2L702.3,104.7L700.8,102.0ZM685.1,121.2L686.1,122.9L703.7,107.4L702.3,104.7ZM686.1,122.9L687.0,124.5L705.0,110.2L703.7,107.4ZM687.0,124.5L687.9,126.1L706.1,112.9L705.0,110.2ZM687.9,126.1L688.8,127.7L707.2,115.5L706.1,112.9ZM688.8,127.7L689.6,129.3L708.2,118.2L707.2,115.5ZM689.6,129.3L690.5,130.9L709.2,120.8L708.2,118.2ZM690.5,130.9L691.3,132.5L710.2,123.4L709.2,120.8ZM691.3,132.5L692.1,134.1L711.1,126.0L710.2,123.4ZM692.1,134.1L692.9,135.8L712.1,128.6L711.1,126.0ZM692.9,135.8L693.7,137.4L713.1,131.1L712.1,128.6ZM693.7,137.4L694.5,139.1L714.0,133.7L713.1,131.1ZM694.5,139.1L695.3,140.8L715.0,136.3L714.0,133.7ZM695.3,140.8L696.1,142.5L716.1,138.9L715.0,136.3ZM696.1,142.5L696.9,144.3L717.1,141.6L716.1,138.9ZM696.9,144.3L697.7,146.2L718.1,144.3L717.1,141.6ZM697.7,146.2L698.5,148.0L719.0,147.1L718.1,144.3ZM698.5,148.0L699.4,150.0L720.0,150.0L719.0,147.1Z" fill="#0000cc" stroke="#0000cc" stroke-width="0.70"/>
<g fill="none" stroke="#000" stroke-opacity="0.75" stroke-width="0.50">
<path d="M701.8,150.0l0.9,2.1l0.9,2.3l0.9,2.3l0.9,2.4l0.9,2.6l1,2.7l0.9,2.9l0.9,3l0.9,3.2l0.8,3.4l0.6,3.5l0.7,3.7l0.6,4l0.6,4.2l0.3,4.5l0.2,4.6l0.3,5.1l-0.1,5.2l-1.6,4l-2.6,3l-3.3,2.2l-3.7,1.5l-4,0.9l-4.1,0.6l-4,0.3l-4,0l-3.9,-0.2l-3.9,-0.5l-3.8,-0.8l-3.8,-1.1l-3.6,-1.4l-3.4,-1.5l-3.3,-1.6l-3.1,-1.7l-2.9,-1.7l-2.8,-1.7l-2.6,-1.8l-2.5,-1.7l-2.4,-1.7l-2.3,-1.8l-2.1,-1.7l-2,-1.8l-2,-1.7l-1.9,-1.7l-1.7,-1.7l-1.7,-1.8l-1.6,-1.7l-1.6,-1.7l-1.5,-1.7l-1.4,-1.8l-1.3,-1.7l-1.3,-1.8l-1.2,-1.8l-1.2,-1.7l-1.1,-1.8l-1.2,-1.8l-1,-1.7l-1.1,-1.8l-1,-1.8l-1,-1.8l-1,-1.8l-1,-1.9l-1,-1.8l-1,-1.9l-1,-2l-1,-2l-1,-2l-0.9,-2.2l-0.9,-2.1l-0.9,-2.3l-0.8,-2.3l-0.8,-2.5l-0.7,-2.5l-0.7,-2.5l-0.7,-2.7l-0.6,-2.8l-0.5,-2.9l-0.5,-3l-0.3,-3.1l-0.3,-3.2l0,-3.2l0.2,-3.3l0.4,-3.3l0.6,-3.3l0.8,-3.3l1,-3.4l1,-3.4l1.2,-3.6l1.3,-3.6l1.8,-3.3l2.7,-2.3l2.7,-2.2l3,-2l3.1,-1.6l3.3,-1.2l3.6,-0.7l3.6,-0.2l3.6,-0.1l3.5,0.1l3.5,0.3l3.4,0.6l3.4,0.8l3.2,1.3l3.2,1.6l3,1.7l2.9,1.6l2.7,1.8l2.5,1.8l2.5,1.8l2.4,1l2.5,1.1l2,2.1l1.9,2.3l1.6,2.4l1.5,2.4l1.5,2.3l1.3,2.2l1.3,2l1.2,2.1l1.2,1.9l1.1,1.9l1,1.8l1.1,1.8l1,1.8l0.9,1.8l1,1.7l0.9,1.8l0.8,1.7l0.9,1.7l0.9,1.7l0.8,1.8l0.8,1.7l0.8,1.8l0.9,1.7l0.8,1.9l0.8,1.8l0.8,1.9l0.9,1.9l0.8,2l0.8,2.1M704.3,150.0l0.9,2.3l0.9,2.3l0.8,2.4l1,2.6l0.9,2.7l0.9,2.8l1,3l0.9,3.1l0.8,3.4l0.8,3.5l0.8,3.6l0.7,4l0.7,4.2l0.7,4.5l0.6,4.8l0.5,5.1l0.7,5.8l0.2,5.9l-2.1,3.8l-3,2.9l-3.7,2.1l-4.1,1.2l-4.3,0.8l-4.4,0.4l-4.3,0.1l-4.2,-0.1l-4.1,-0.3l-4.1,-0.6l-4,-1l-3.9,-1.2l-3.7,-1.5l-3.6,-1.6l-3.4,-1.7l-3.2,-1.7l-3,-1.9l-2.9,-1.8l-2.7,-1.9l-2.5,-1.9l-2.5,-1.8l-2.3,-1.9l-2.2,-1.8l-2,-1.8l-2,-1.9l-1.9,-1.8l-1.8,-1.8l-1.7,-1.8l-1.6,-1.8l-1.6,-1.8l-1.5,-1.8l-1.4,-1.8l-1.3,-1.8l-1.3,-1.8l-1.3,-1.8l-1.1,-1.8l-1.2,-1.8l-1.1,-1.8l-1.1,-1.8l-1.1,-1.8l-1,-1.8l-1,-1.8l-1,-1.9l-1.1,-1.8l-1,-1.9l-1,-2l-1,-1.9l-1,-2.1l-1,-2l-0.9,-2.2l-0.9,-2.2l-0.9,-2.3l-0.9,-2.4l-0.8,-2.4l-0.7,-2.6l-0.7,-2.6l-0.7,-2.7l-0.6,-2.8l-0.6,-3l-0.5,-3l-0.4,-3.2l-0.3,-3.3l-0.1,-3.3l0.2,-3.4l0.4,-3.3l0.6,-3.4l0.8,-3.4l0.9,-3.5l1,-3.6l1.2,-3.6l1.3,-3.8l1.8,-3.4l2.7,-2.5l2.7,-2.4l2.9,-2.2l3.1,-1.9l3.4,-1.4l3.5,-1l3.7,-0.5l3.6,-0.4l3.7,-0.2l3.6,0.1l3.6,0.5l3.5,0.9l3.5,1.3l3.3,1.6l3.2,1.8l3,1.7l2.9,1.8l2.7,1.9l2.6,1.9l2.6,1.2l2.5,1.4l2.2,2.1l2,2.5l1.7,2.5l1.7,2.4l1.5,2.4l1.5,2.2l1.3,2.2l1.4,2.1l1.2,2.1l1.2,2l1.2,1.9l1,2l1.1,1.9l1,1.9l1,1.8l0.9,1.9l0.9,1.8l0.9,1.9l0.8,1.8l0.9,1.9l0.8,1.8l0.9,1.9l0.8,1.9l0.9,1.9l0.8,2l0.8,2l0.9,2l0.8,2.1l0.9,2.2M706.8,150.0l0.9,2.4l0.8,2.4l0.9,2.6l0.9,2.6l1,2.8l0.9,3l0.9,3.1l0.9,3.3l0.9,3.4l0.8,3.6l0.8,3.9l0.8,4.1l0.9,4.5l0.8,4.8l0.8,5.2l0.8,5.6l1,6.4l0.5,6.5l-2.6,3.7l-3.4,2.8l-4,1.9l-4.5,1.1l-4.7,0.5l-4.6,0.3l-4.6,-0.1l-4.4,-0.2l-4.4,-0.5l-4.2,-0.7l-4.2,-1l-4,-1.4l-3.9,-1.5l-3.7,-1.7l-3.5,-1.8l-3.3,-1.9l-3.1,-2l-3,-2l-2.7,-1.9l-2.7,-2l-2.5,-2l-2.3,-1.9l-2.2,-2l-2.1,-1.9l-2,-1.9l-1.9,-1.9l-1.8,-1.9l-1.8,-1.9l-1.6,-1.9l-1.6,-1.8l-1.4,-1.9l-1.5,-1.8l-1.3,-1.9l-1.3,-1.8l-1.3,-1.9l-1.2,-1.8l-1.2,-1.8l-1.1,-1.8l-1.1,-1.9l-1,-1.8l-1.1,-1.9l-1,-1.8l-1.1,-1.9l-1,-1.9l-1,-1.9l-1,-2l-1.1,-2l-1,-2l-0.9,-2.1l-1,-2.2l-0.9,-2.3l-0.9,-2.3l-0.9,-2.4l-0.8,-2.5l-0.8,-2.6l-0.7,-2.6l-0.7,-2.8l-0.7,-2.9l-0.6,-3l-0.5,-3.1l-0.5,-3.2l-0.3,-3.3l-0.1,-3.5l0.1,-3.4l0.4,-3.5l0.6,-3.4l0.7,-3.6l0.9,-3.6l1,-3.6l1.2,-3.8l1.4,-3.8l1.8,-3.5l2.5,-2.7l2.7,-2.7l2.9,-2.4l3.2,-2.1l3.3,-1.7l3.6,-1.2l3.7,-0.9l3.7,-0.7l3.7,-0.4l3.8,-0.2l3.7,0.4l3.8,0.9l3.6,1.4l3.5,1.7l3.4,1.7l3.2,1.8l3,1.9l2.9,2.1l2.8,1.9l2.7,1.5l2.6,1.5l2.3,2.3l2.1,2.5l1.9,2.6l1.7,2.5l1.7,2.4l1.5,2.4l1.5,2.3l1.4,2.2l1.4,2.1l1.2,2.2l1.3,2l1.1,2.1l1.1,2l1.1,2l0.9,2l1,2l0.9,2l0.9,2l0.9,1.9l0.9,2l0.8,2l0.9,2l0.9,2l0.8,2l0.9,2l0.9,2.1l0.8,2.2l0.9,2.2l0.9,2.3M709.7,150.0l0.9,2.5l0.9,2.6l0.8,2.7l0.9,2.8l0.9,2.9l1,3.1l0.9,3.2l0.9,3.4l0.9,3.6l0.8,3.8l0.9,4.1l0.9,4.4l1,4.7l1,5.2l1,5.6l1.1,6.1l1.5,7.2l0.8,7.2l-3.1,3.5l-3.9,2.7l-4.4,1.8l-5,0.8l-5,0.4l-5,0l-4.9,-0.2l-4.7,-0.4l-4.6,-0.6l-4.5,-0.9l-4.3,-1.1l-4.2,-1.5l-4.1,-1.7l-3.8,-1.8l-3.6,-1.9l-3.5,-2l-3.2,-2.1l-3.1,-2.2l-2.8,-2.1l-2.7,-2.1l-2.6,-2.1l-2.4,-2.1l-2.3,-2l-2.1,-2.1l-2,-2l-2,-2l-1.8,-2l-1.7,-2l-1.7,-2l-1.5,-1.9l-1.5,-1.9l-1.5,-1.9l-1.3,-1.9l-1.3,-1.9l-1.3,-1.9l-1.2,-1.8l-1.2,-1.9l-1.1,-1.9l-1.1,-1.8l-1.1,-1.9l-1.1,-1.9l-1.1,-1.9l-1,-1.9l-1,-1.9l-1.1,-2l-1,-2l-1,-2l-1.1,-2.1l-1,-2.1l-0.9,-2.3l-1,-2.2l-0.9,-2.4l-0.9,-2.4l-0.8,-2.6l-0.8,-2.6l-0.8,-2.7l-0.7,-2.8l-0.7,-3l-0.6,-3l-0.6,-3.2l-0.5,-3.3l-0.3,-3.4l-0.2,-3.5l0.1,-3.6l0.3,-3.5l0.5,-3.6l0.8,-3.6l0.8,-3.8l1,-3.8l1.2,-3.9l1.4,-3.8l1.8,-3.7l2.5,-3l2.7,-2.9l2.8,-2.7l3.2,-2.4l3.4,-2l3.6,-1.5l3.7,-1.2l3.8,-1l3.8,-0.8l3.9,-0.4l4,0.2l3.9,1l3.9,1.5l3.7,1.6l3.6,1.8l3.4,1.9l3.2,2l3.1,2.1l2.9,2.1l2.9,1.7l2.7,1.8l2.5,2.4l2.2,2.6l2,2.7l1.9,2.6l1.8,2.6l1.7,2.4l1.6,2.4l1.5,2.4l1.4,2.2l1.4,2.3l1.3,2.2l1.2,2.2l1.2,2.2l1.1,2.1l1,2.2l1,2.1l0.9,2.2l0.9,2.1l0.9,2.1l0.9,2.1l0.9,2.1l0.9,2.1l0.9,2.1l0.9,2.1l0.9,2.2l0.9,2.3l0.9,2.2l0.9,2.4l0.9,2.4M713.0,150.0l0.9,2.6l0.9,2.8l0.9,2.8l0.9,3l0.8,3.1l1,3.2l0.9,3.4l0.9,3.6l0.8,3.7l1,4l0.9,4.3l1,4.7l1.1,5l1.2,5.6l1.3,6l1.5,6.9l2,8l1.2,8.1l-3.7,3.3l-4.5,2.5l-4.9,1.6l-5.5,0.6l-5.5,0.1l-5.4,-0.2l-5.2,-0.4l-5,-0.6l-4.9,-0.8l-4.7,-1l-4.6,-1.3l-4.4,-1.6l-4.2,-1.8l-4,-1.9l-3.8,-2.1l-3.5,-2.2l-3.4,-2.3l-3.2,-2.2l-2.9,-2.3l-2.8,-2.3l-2.6,-2.3l-2.5,-2.2l-2.3,-2.2l-2.2,-2.2l-2.1,-2.1l-1.9,-2.1l-1.9,-2.2l-1.7,-2l-1.7,-2.1l-1.6,-2l-1.5,-2l-1.4,-2l-1.4,-1.9l-1.3,-2l-1.3,-1.9l-1.2,-1.9l-1.2,-1.9l-1.2,-1.9l-1.1,-1.9l-1.1,-1.9l-1.1,-2l-1.1,-1.9l-1,-1.9l-1.1,-2l-1.1,-2l-1,-2l-1,-2.1l-1.1,-2.1l-1,-2.2l-1,-2.3l-0.9,-2.3l-0.9,-2.4l-0.9,-2.5l-0.9,-2.6l-0.8,-2.6l-0.8,-2.8l-0.8,-2.9l-0.7,-3l-0.7,-3.1l-0.6,-3.3l-0.6,-3.3l-0.4,-3.5l-0.2,-3.7l0,-3.6l0.3,-3.7l0.5,-3.7l0.7,-3.8l0.8,-3.9l1,-3.9l1.2,-4l1.5,-4l1.8,-3.8l2.4,-3.3l2.6,-3.2l2.8,-3l3.2,-2.8l3.4,-2.3l3.6,-1.9l3.8,-1.6l3.9,-1.4l3.9,-1.1l4.1,-0.7l4.2,0.1l4.2,1l4.1,1.6l4,1.6l3.8,1.9l3.6,2l3.5,2.1l3.3,2.2l3.1,2.2l3,2l2.9,2.1l2.6,2.6l2.4,2.7l2.2,2.7l2,2.8l1.9,2.7l1.9,2.6l1.7,2.5l1.6,2.4l1.6,2.4l1.5,2.4l1.4,2.4l1.3,2.3l1.2,2.4l1.1,2.3l1.1,2.4l1,2.3l1,2.3l0.9,2.3l1,2.2l0.9,2.3l0.9,2.2l0.9,2.3l0.9,2.2l0.9,2.3l1,2.4l0.9,2.3l0.9,2.4l1,2.5l0.9,2.6M716.5,150.0l0.9,2.8l0.9,2.9l0.9,3l0.9,3.1l0.9,3.3l0.9,3.3l0.8,3.6l0.9,3.8l0.9,3.9l1,4.2l1,4.6l1.1,4.9l1.3,5.4l1.4,5.9l1.6,6.6l1.9,7.6l2.6,8.9l1.6,9l-4.5,3.1l-5,2.3l-5.5,1.5l-6,0.3l-5.9,-0.2l-5.9,-0.4l-5.5,-0.7l-5.4,-0.8l-5.2,-0.9l-4.9,-1.2l-4.8,-1.5l-4.6,-1.7l-4.4,-2l-4.2,-2l-4,-2.2l-3.7,-2.4l-3.5,-2.4l-3.3,-2.5l-3.1,-2.4l-2.8,-2.5l-2.7,-2.4l-2.6,-2.4l-2.4,-2.3l-2.2,-2.3l-2.1,-2.3l-2,-2.3l-1.8,-2.2l-1.8,-2.2l-1.7,-2.2l-1.5,-2.1l-1.6,-2.1l-1.4,-2l-1.4,-2l-1.4,-2l-1.3,-2l-1.2,-1.9l-1.2,-2l-1.2,-1.9l-1.1,-2l-1.2,-1.9l-1.1,-2l-1,-2l-1.1,-1.9l-1.1,-2l-1.1,-2.1l-1.1,-2.1l-1,-2.1l-1,-2.1l-1.1,-2.3l-1,-2.3l-0.9,-2.4l-1,-2.4l-0.9,-2.5l-0.9,-2.7l-0.8,-2.7l-0.9,-2.8l-0.8,-2.9l-0.7,-3.1l-0.8,-3.2l-0.6,-3.3l-0.6,-3.5l-0.5,-3.6l-0.3,-3.7l0,-3.8l0.2,-3.8l0.5,-3.9l0.7,-3.9l0.8,-4l0.9,-4.2l1.2,-4.1l1.5,-4.1l1.9,-3.9l2.3,-3.7l2.5,-3.5l2.8,-3.4l3.2,-3l3.4,-2.7l3.7,-2.3l3.8,-2l4,-1.8l4,-1.6l4.3,-1l4.4,0l4.5,1.1l4.4,1.6l4.2,1.7l4.1,1.9l3.9,2.1l3.7,2.3l3.5,2.3l3.3,2.3l3.2,2.3l3,2.4l2.8,2.7l2.5,2.9l2.4,2.9l2.2,2.8l2.1,2.8l2,2.7l1.8,2.7l1.8,2.6l1.7,2.6l1.6,2.5l1.5,2.5l1.4,2.5l1.3,2.6l1.2,2.5l1.1,2.5l1.1,2.5l1,2.5l0.9,2.4l1,2.5l0.9,2.4l0.9,2.4l1,2.4l0.9,2.4l1,2.5l1,2.4l0.9,2.6l1,2.5l1,2.7l0.9,2.7"/>
</g>
<path d="M699.4,150.0l20.6,0.0M700.2,152.0l20.7,0.9M701.1,154.1l20.8,1.9M702.0,156.4l20.8,2.8M702.9,158.7l20.7,3.8M703.8,161.1l20.6,4.7M704.8,163.7l20.6,5.7M705.7,166.5l20.5,6.7M706.7,169.4l20.4,7.7M707.5,172.5l20.5,8.8M708.3,175.7l20.7,10.0M708.9,179.0l21.2,11.4M709.4,182.5l21.9,13.1M710.0,186.3l22.8,15.1M710.4,190.2l24.0,17.4M710.5,194.3l25.8,20.6M710.5,198.4l28.1,24.6M710.4,202.9l31.3,29.9M710.0,207.5l33.7,35.3M708.8,211.6l29.7,34.0M706.6,214.8l26.3,33.0M703.7,217.1l23.2,32.0M700.4,218.7l20.1,30.4M696.7,219.8l17.3,28.9M693.0,220.6l14.8,27.5M689.2,221.0l12.6,26.1M685.4,221.2l10.6,24.9M681.7,221.2l9.0,23.9M678.0,220.8l7.4,22.9M674.3,220.1l6.1,22.0M670.8,219.0l4.8,21.1M667.3,217.8l3.7,20.3M664.0,216.4l2.6,19.5M660.8,214.9l1.7,18.7M657.8,213.3l0.8,17.7M655.0,211.7l0.0,16.7M652.3,210.1l-0.7,15.7M649.7,208.5l-1.3,14.7M647.3,206.9l-1.9,13.7M645.0,205.2l-2.3,12.7M642.8,203.6l-2.7,11.8M640.7,202.0l-3.0,11.0M638.6,200.3l-3.3,10.2M636.7,198.7l-3.5,9.4M634.9,197.1l-3.7,8.6M633.1,195.4l-3.8,7.9M631.4,193.8l-3.9,7.3M629.8,192.1l-4.0,6.7M628.3,190.5l-4.0,6.1M626.8,188.8l-4.1,5.6M625.4,187.1l-4.1,5.2M624.1,185.4l-4.2,4.8M622.8,183.7l-4.3,4.5M621.6,181.9l-4.4,4.2M620.4,180.2l-4.5,3.9M619.3,178.5l-4.6,3.7M618.2,176.7l-4.7,3.4M617.2,175.0l-4.8,3.2M616.1,173.2l-4.9,2.9M615.1,171.5l-5.0,2.7M614.1,169.7l-5.1,2.5M613.1,167.9l-5.2,2.2M612.1,166.1l-5.3,2.0M611.1,164.3l-5.4,1.8M610.1,162.4l-5.5,1.5M609.2,160.5l-5.6,1.3M608.2,158.5l-5.7,1.0M607.2,156.5l-5.8,0.8M606.3,154.4l-5.9,0.5M605.4,152.2l-5.9,0.3M604.5,150.0l-6.0,0.0M603.7,147.7l-6.1,-0.3M602.9,145.3l-6.3,-0.6M602.2,142.9l-6.5,-0.9M601.6,140.3l-6.7,-1.2M601.0,137.7l-6.9,-1.6M600.4,134.9l-7.1,-2.0M599.9,132.1l-7.4,-2.4M599.4,129.2l-7.7,-2.9M599.1,126.1l-8.0,-3.4M598.9,123.0l-8.3,-4.0M598.9,119.8l-8.7,-4.7M599.1,116.6l-9.0,-5.4M599.6,113.4l-9.2,-6.1M600.3,110.2l-9.5,-6.9M601.1,107.0l-9.7,-7.7M602.1,103.7l-9.9,-8.6M603.1,100.4l-10.0,-9.6M604.3,97.0l-10.0,-10.5M605.5,93.4l-9.7,-11.1M607.3,90.2l-9.5,-12.0M610.1,88.2l-10.1,-14.0M612.9,86.2l-10.5,-15.9M615.8,84.5l-10.6,-17.7M619.0,83.0l-10.6,-19.7M622.3,82.1l-10.5,-21.8M625.8,81.7l-10.3,-24.1M629.4,81.7l-10.0,-26.6M632.9,82.0l-9.4,-29.1M636.3,82.4l-8.7,-31.4M639.7,82.9l-7.6,-33.2M642.9,83.5l-6.2,-34.0M646.1,84.4l-4.6,-33.8M649.2,85.6l-3.0,-33.3M652.2,87.2l-1.5,-33.1M655.0,88.8l0.0,-32.8M657.7,90.4l1.4,-32.1M660.2,92.0l2.8,-31.4M662.6,93.8l4.2,-30.8M664.9,95.4l5.4,-29.9M667.3,96.3l6.4,-28.2M669.6,97.2l7.3,-26.3M671.5,99.1l8.2,-25.4M673.2,101.4l9.3,-24.7M674.8,103.7l10.3,-24.1M676.2,106.0l11.3,-23.4M677.5,108.2l12.2,-22.6M678.7,110.3l13.1,-21.8M679.9,112.3l13.9,-21.1M681.0,114.2l14.7,-20.2M682.1,116.0l15.4,-19.4M683.1,117.8l16.1,-18.4M684.1,119.5l16.7,-17.5M685.1,121.2l17.2,-16.5M686.1,122.9l17.7,-15.4M687.0,124.5l18.0,-14.3M687.9,126.1l18.2,-13.3M688.8,127.7l18.5,-12.2M689.6,129.3l18.6,-11.1M690.5,130.9l18.8,-10.1M691.3,132.5l18.9,-9.1M692.1,134.1l19.0,-8.1M692.9,135.8l19.2,-7.2M693.7,137.4l19.3,-6.3M694.5,139.1l19.5,-5.4M695.3,140.8l19.7,-4.5M696.1,142.5l19.9,-3.6M696.9,144.3l20.2,-2.7M697.7,146.2l20.3,-1.8M698.5,148.0l20.5,-0.9" fill="none" stroke="#000" stroke-opacity="0.75" stroke-width="0.50"/>
</g>
<g clip-path="url(#b_E)">
<path d="M658.6,85.3L655.6,85.0L661.8,82.6L664.8,82.9ZM655.6,85.0L652.6,84.7L660.9,81.5L663.9,81.8ZM652.6,84.7L649.6,84.3L662.0,79.5L665.0,79.9ZM649.6,84.3L646.6,84.0L661.0,78.4L664.0,78.7ZM646.6,84.0L643.6,83.7L662.2,76.5L665.2,76.8ZM643.6,83.7L640.5,83.3L661.2,75.3L664.2,75.7ZM640.5,83.3L637.5,82.9L662.3,73.3L665.3,73.7ZM637.5,82.9L634.5,82.5L661.4,72.1L664.4,72.5ZM634.5,82.5L631.5,82.1L660.5,70.9L663.5,71.3ZM631.5,82.1L628.5,81.9L661.6,69.1L664.6,69.3ZM628.5,81.9L625.5,81.8L660.6,68.2L663.6,68.3ZM625.5,81.8L622.5,82.1L661.7,66.9L664.8,66.6ZM622.5,82.1L619.5,82.8L660.9,66.8L663.8,66.1ZM619.5,82.8L616.8,84.0L662.2,66.4L665.0,65.2ZM616.8,84.0L614.1,85.5L661.6,67.1L664.3,65.6ZM614.1,85.5L611.6,87.1L661.2,67.9L663.7,66.3ZM611.6,87.1L609.1,88.9L660.8,68.9L663.2,67.1ZM611.2,88.1L608.8,89.9L662.5,69.1L664.9,67.3ZM610.9,89.1L609.6,91.9L615.8,89.5L617.1,86.7ZM629.5,81.9L628.2,84.7L661.3,71.9L662.5,69.1ZM609.6,91.9L608.7,94.8L614.9,92.4L615.8,89.5ZM634.4,82.3L633.5,85.2L662.4,74.0L663.4,71.1ZM610.7,94.0L609.7,96.8L613.9,95.2L614.9,92.4ZM637.6,83.6L636.6,86.4L661.4,76.8L662.4,74.0ZM609.7,96.8L608.8,99.7L615.0,97.3L615.9,94.4ZM640.7,84.8L639.8,87.7L662.5,78.9L663.5,76.0ZM610.8,98.9L609.9,101.8L616.1,99.4L617.0,96.5ZM643.9,86.1L643.0,89.0L661.6,81.8L662.5,78.9ZM612.0,101.0L611.2,103.9L617.4,101.5L618.2,98.6ZM645.1,88.2L644.2,91.1L662.8,83.9L663.7,81.0ZM611.2,103.9L610.5,106.9L620.8,102.9L621.5,99.9ZM646.3,90.3L645.6,93.3L655.9,89.3L656.6,86.3ZM660.8,84.7L660.1,87.7L662.1,86.9L662.8,83.9ZM610.5,106.9L609.9,109.8L626.4,103.4L627.0,100.5ZM645.6,93.3L645.0,96.2L655.3,92.2L655.9,89.3ZM662.1,86.9L661.5,89.8L663.6,89.0L664.2,86.1ZM599.5,113.8L599.1,116.8L601.2,116.0L601.6,113.0ZM611.9,109.0L611.5,112.0L632.2,104.0L632.6,101.0ZM642.9,97.0L642.5,100.0L654.9,95.2L655.3,92.2ZM661.5,89.8L661.1,92.8L663.2,92.0L663.6,89.0ZM599.1,116.8L598.9,119.9L601.0,119.1L601.2,116.0ZM611.5,112.0L611.3,115.1L654.7,98.3L654.9,95.2ZM598.9,119.9L598.9,122.9L601.0,122.1L601.0,119.1ZM611.3,115.1L611.3,118.1L654.7,101.3L654.7,98.3ZM598.9,122.9L599.1,125.9L601.2,125.1L601.0,122.1ZM611.3,118.1L611.5,121.1L654.9,104.3L654.7,101.3ZM599.1,125.9L599.4,128.9L601.5,128.1L601.2,125.1ZM611.5,121.1L611.8,124.1L655.2,107.3L654.9,104.3ZM611.8,124.1L612.2,127.1L655.6,110.3L655.2,107.3ZM612.2,127.1L612.8,130.1L654.1,114.1L653.6,111.1ZM610.7,130.9L611.3,133.9L654.7,117.1L654.1,114.1ZM662.4,110.9L663.0,113.9L665.1,113.1L664.4,110.1ZM611.3,133.9L612.0,136.8L626.5,131.2L625.8,128.3ZM642.3,121.9L643.0,124.8L655.4,120.0L654.7,117.1ZM612.0,136.8L612.8,139.7L621.1,136.5L620.3,133.6ZM661.6,117.6L662.4,120.5L664.5,119.7L663.7,116.8ZM610.7,140.5L611.6,143.4L617.8,141.0L616.9,138.1ZM658.3,122.1L659.2,125.0L663.3,123.4L662.4,120.5ZM611.6,143.4L612.6,146.3L616.8,144.7L615.8,141.8ZM610.6,147.1L611.6,149.9L615.8,148.3L614.7,145.5ZM609.6,150.7L610.8,153.5L617.0,151.1L615.8,148.3ZM610.8,153.5L612.0,156.3L616.2,154.7L614.9,151.9ZM610.0,157.1L611.3,159.8L615.4,158.2L614.1,155.5ZM609.2,160.6L610.6,163.3L616.8,160.9L615.4,158.2ZM610.6,163.3L612.0,166.0L616.2,164.4L614.8,161.7ZM612.0,166.0L613.5,168.6L615.6,167.8L614.1,165.2ZM613.5,168.6L615.0,171.3L617.0,170.5L615.6,167.8Z" fill="#00b06a" stroke="#00b06a" stroke-width="0.70"/>
<path d="M664.8,82.9L661.8,82.6L663.9,81.8L666.9,82.1ZM663.9,81.8L660.9,81.5L662.9,80.7L665.9,81.0ZM664.0,78.7L661.0,78.4L663.1,77.6L666.1,77.9ZM664.2,75.7L661.2,75.3L663.3,74.5L666.3,74.9ZM664.4,72.5L661.4,72.1L663.5,71.3L666.5,71.7ZM663.5,71.3L660.5,70.9L662.5,70.1L665.5,70.5ZM664.6,69.3L661.6,69.1L663.6,68.3L666.7,68.5ZM663.6,68.3L660.6,68.2L662.7,67.4L665.7,67.5ZM664.8,66.6L661.7,66.9L663.8,66.1L666.8,65.8ZM663.8,66.1L660.9,66.8L662.9,66.0L665.9,65.3ZM664.3,65.6L661.6,67.1L663.7,66.3L666.4,64.8ZM663.7,66.3L661.2,67.9L663.2,67.1L665.8,65.5ZM663.2,67.1L660.8,68.9L662.9,68.1L665.3,66.3ZM617.1,86.7L615.8,89.5L617.9,88.7L619.1,85.9ZM627.4,82.7L626.2,85.5L628.2,84.7L629.5,81.9ZM662.5,69.1L661.3,71.9L663.4,71.1L664.6,68.3ZM663.4,71.1L662.4,74.0L664.5,73.2L665.4,70.3ZM662.4,74.0L661.4,76.8L663.5,76.0L664.5,73.2ZM663.5,76.0L662.5,78.9L664.6,78.1L665.5,75.2ZM641.8,86.9L640.9,89.8L643.0,89.0L643.9,86.1ZM662.5,78.9L661.6,81.8L663.7,81.0L664.6,78.1ZM618.2,98.6L617.4,101.5L619.4,100.7L620.3,97.8ZM663.7,81.0L662.8,83.9L664.9,83.1L665.7,80.2ZM621.5,99.9L620.8,102.9L622.9,102.1L623.6,99.1ZM644.2,91.1L643.5,94.1L645.6,93.3L646.3,90.3ZM662.8,83.9L662.1,86.9L664.2,86.1L664.9,83.1ZM632.6,101.0L632.2,104.0L634.3,103.2L634.7,100.2ZM640.9,97.8L640.5,100.8L642.5,100.0L642.9,97.0ZM663.6,89.0L663.2,92.0L665.3,91.2L665.7,88.2ZM663.2,92.0L663.0,95.1L665.1,94.3L665.3,91.2ZM663.0,95.1L663.0,98.1L665.1,97.3L665.1,94.3ZM663.0,98.1L663.2,101.1L665.2,100.3L665.1,97.3ZM663.2,101.1L663.5,104.1L665.6,103.3L665.2,100.3ZM625.8,128.3L626.5,131.2L643.0,124.8L642.3,121.9ZM663.0,113.9L663.7,116.8L665.8,116.0L665.1,113.1ZM620.3,133.6L621.1,136.5L623.1,135.7L622.4,132.8ZM651.3,121.6L652.1,124.5L656.2,122.9L655.4,120.0ZM616.9,138.1L617.8,141.0L619.9,140.2L619.0,137.3ZM656.2,122.9L657.1,125.8L659.2,125.0L658.3,122.1ZM662.4,120.5L663.3,123.4L665.4,122.6L664.5,119.7ZM661.2,124.2L662.2,127.1L664.3,126.3L663.3,123.4ZM614.7,145.5L615.8,148.3L617.8,147.5L616.8,144.7ZM614.9,151.9L616.2,154.7L618.2,153.9L617.0,151.1ZM614.1,155.5L615.4,158.2L617.5,157.4L616.2,154.7ZM615.4,158.2L616.8,160.9L618.9,160.1L617.5,157.4ZM614.8,161.7L616.2,164.4L618.2,163.6L616.8,160.9ZM614.1,165.2L615.6,167.8L617.6,167.0L616.2,164.4ZM615.0,171.3L616.5,173.9L618.6,173.1L617.0,170.5Z" fill="#00b6ae" stroke="#00b6ae" stroke-width="0.70"/>
<path d="M666.9,82.1L663.9,81.8L736.2,53.8L739.2,54.1ZM668.0,80.2L665.0,79.9L733.2,53.5L736.2,53.8ZM667.1,79.1L664.0,78.7L730.2,53.1L733.2,53.5ZM668.2,77.1L665.2,76.8L727.2,52.8L730.2,53.1ZM667.2,76.0L664.2,75.7L724.2,52.5L727.2,52.8ZM666.3,74.9L663.3,74.5L721.1,52.1L724.2,52.5ZM667.4,72.9L664.4,72.5L718.1,51.7L721.1,52.1ZM666.5,71.7L663.5,71.3L715.1,51.3L718.1,51.7ZM667.6,69.7L664.6,69.3L712.1,50.9L715.1,51.3ZM666.7,68.5L663.6,68.3L709.1,50.7L712.1,50.9ZM667.8,66.7L664.8,66.6L706.1,50.6L709.1,50.7ZM666.8,65.8L663.8,66.1L703.1,50.9L706.1,50.6ZM667.9,64.5L665.0,65.2L700.1,51.6L703.1,50.9ZM667.1,64.4L664.3,65.6L697.4,52.8L700.1,51.6ZM666.4,64.8L663.7,66.3L694.7,54.3L697.4,52.8ZM667.8,64.7L665.3,66.3L692.2,55.9L694.7,54.3ZM667.4,65.5L664.9,67.3L689.7,57.7L692.2,55.9ZM667.0,66.5L664.6,68.3L687.3,59.5L689.7,57.7ZM666.7,67.5L665.4,70.3L686.1,62.3L687.3,59.5ZM630.3,83.9L629.3,86.8L631.4,86.0L632.4,83.1ZM665.4,70.3L664.5,73.2L685.1,65.2L686.1,62.3ZM635.5,84.4L634.5,87.2L636.6,86.4L637.6,83.6ZM666.5,72.4L665.5,75.2L684.1,68.0L685.1,65.2ZM638.7,85.6L637.7,88.5L639.8,87.7L640.7,84.8ZM665.5,75.2L664.6,78.1L683.2,70.9L684.1,68.0ZM666.6,77.3L665.7,80.2L682.3,73.8L683.2,70.9ZM620.3,97.8L619.4,100.7L621.5,99.9L622.3,97.0ZM665.7,80.2L664.9,83.1L681.4,76.7L682.3,73.8ZM623.6,99.1L622.9,102.1L624.9,101.3L625.6,98.3ZM667.0,82.3L666.3,85.3L680.7,79.7L681.4,76.7ZM641.5,94.9L640.9,97.8L642.9,97.0L643.5,94.1ZM666.3,85.3L665.7,88.2L680.1,82.6L680.7,79.7ZM665.7,88.2L665.3,91.2L679.7,85.6L680.1,82.6ZM665.3,91.2L665.1,94.3L679.5,88.7L679.7,85.6ZM665.1,94.3L665.1,97.3L679.5,91.7L679.5,88.7ZM665.1,97.3L665.2,100.3L679.7,94.7L679.5,91.7ZM665.2,100.3L665.6,103.3L680.0,97.7L679.7,94.7ZM665.6,103.3L666.0,106.3L680.4,100.7L680.0,97.7ZM666.0,106.3L666.5,109.3L681.0,103.7L680.4,100.7ZM666.5,109.3L667.1,112.3L681.6,106.7L681.0,103.7ZM665.1,113.1L665.8,116.0L682.3,109.6L681.6,106.7ZM626.5,131.2L627.3,134.1L645.9,126.9L645.1,124.0ZM665.8,116.0L666.5,118.9L683.1,112.5L682.3,109.6ZM621.1,136.5L622.0,139.4L632.3,135.4L631.4,132.5ZM650.0,125.3L650.9,128.2L655.0,126.6L654.1,123.7ZM664.5,119.7L665.4,122.6L684.0,115.4L683.1,112.5ZM617.8,141.0L618.8,143.9L629.2,139.9L628.2,137.0ZM657.1,125.8L658.1,128.7L660.2,127.9L659.2,125.0ZM665.4,122.6L666.4,125.5L685.0,118.3L684.0,115.4ZM618.8,143.9L619.9,146.7L628.2,143.5L627.1,140.7ZM662.2,127.1L663.3,129.9L686.0,121.1L685.0,118.3ZM617.8,147.5L619.0,150.3L625.2,147.9L624.0,145.1ZM669.5,127.5L670.7,130.3L687.2,123.9L686.0,121.1ZM619.0,150.3L620.3,153.1L624.4,151.5L623.2,148.7ZM670.7,130.3L672.0,133.1L688.5,126.7L687.2,123.9ZM618.2,153.9L619.6,156.6L623.7,155.0L622.4,152.3ZM674.0,132.3L675.4,135.0L689.8,129.4L688.5,126.7ZM617.5,157.4L618.9,160.1L623.0,158.5L621.6,155.8ZM675.4,135.0L676.8,137.7L691.2,132.1L689.8,129.4ZM618.9,160.1L620.3,162.8L622.4,162.0L621.0,159.3ZM676.8,137.7L678.2,140.4L692.6,134.8L691.2,132.1ZM618.2,163.6L619.7,166.2L621.8,165.4L620.3,162.8ZM678.2,140.4L679.6,143.0L694.1,137.4L692.6,134.8ZM617.6,167.0L619.1,169.7L621.2,168.9L619.7,166.2ZM679.6,143.0L681.1,145.7L695.6,140.1L694.1,137.4ZM681.1,145.7L682.6,148.3L697.1,142.7L695.6,140.1ZM618.6,173.1L620.1,175.7L622.2,174.9L620.6,172.3ZM680.6,149.1L682.1,151.7L698.7,145.3L697.1,142.7ZM618.1,176.5L619.7,179.0L621.7,178.2L620.1,175.7ZM682.1,151.7L683.7,154.2L700.3,147.8L698.7,145.3ZM683.7,154.2L685.4,156.8L701.9,150.4L700.3,147.8ZM683.3,157.6L685.1,160.0L703.7,152.8L701.9,150.4ZM685.1,160.0L686.9,162.5L705.5,155.3L703.7,152.8ZM684.9,163.3L686.8,165.6L707.4,157.6L705.5,155.3ZM684.7,166.4L686.7,168.7L709.4,159.9L707.4,157.6ZM684.6,169.5L686.7,171.7L711.5,162.1L709.4,159.9ZM684.7,172.5L686.8,174.6L713.7,164.2L711.5,162.1ZM684.8,175.4L687.0,177.4L715.9,166.2L713.7,164.2ZM684.9,178.2L687.2,180.2L718.2,168.2L715.9,166.2ZM683.1,181.8L685.4,183.8L720.5,170.2L718.2,168.2ZM683.3,184.6L685.7,186.4L722.9,172.0L720.5,170.2ZM683.6,187.2L686.1,189.1L725.3,173.9L722.9,172.0ZM681.9,190.7L684.4,192.4L727.8,175.6L725.3,173.9ZM680.3,194.0L682.8,195.7L730.3,177.3L727.8,175.6ZM680.7,196.5L683.3,198.1L732.9,178.9L730.3,177.3ZM679.2,199.7L681.8,201.2L735.5,180.4L732.9,178.9ZM677.6,202.8L680.3,204.3L738.1,181.9L735.5,180.4ZM674.1,206.7L676.8,208.1L740.8,183.3L738.1,181.9ZM672.6,209.7L675.3,211.1L743.5,184.7L740.8,183.3ZM669.1,213.5L671.9,214.7L746.3,185.9L743.5,184.7ZM665.7,217.1L668.5,218.2L749.1,187.0L746.3,185.9ZM668.5,218.2L671.4,219.2L752.0,188.0L749.1,187.0ZM671.4,219.2L674.3,220.1L754.9,188.9L752.0,188.0ZM674.3,220.1L677.3,220.7L757.9,189.5L754.9,188.9ZM677.3,220.7L680.3,221.0L760.9,189.8L757.9,189.5ZM680.3,221.0L683.3,221.2L763.9,190.0L760.9,189.8ZM683.3,221.2L686.3,221.2L766.9,190.0L763.9,190.0ZM686.3,221.2L689.3,221.0L769.9,189.8L766.9,190.0ZM689.3,221.0L692.4,220.7L773.0,189.5L769.9,189.8ZM692.4,220.7L695.3,220.1L775.9,188.9L773.0,189.5ZM695.3,220.1L698.2,219.3L778.8,188.1L775.9,188.9ZM698.2,219.3L701.0,218.0L781.6,186.8L778.8,188.1ZM701.0,218.0L703.5,216.3L784.1,185.1L781.6,186.8ZM703.5,216.3L705.9,214.4L786.5,183.2L784.1,185.1ZM705.9,214.4L708.3,212.6L788.9,181.4L786.5,183.2ZM708.3,212.6L710.8,210.9L791.4,179.7L788.9,181.4ZM710.8,210.9L713.3,209.1L793.9,177.9L791.4,179.7ZM713.3,209.1L715.8,207.4L796.4,176.2L793.9,177.9ZM715.8,207.4L718.2,205.7L798.8,174.5L796.4,176.2ZM718.2,205.7L720.7,204.0L801.3,172.8L798.8,174.5Z" fill="#0044ba" stroke="#0044ba" stroke-width="0.70"/>
<path d="M665.9,81.0L662.9,80.7L665.0,79.9L668.0,80.2ZM665.0,79.9L662.0,79.5L664.0,78.7L667.1,79.1ZM666.1,77.9L663.1,77.6L665.2,76.8L668.2,77.1ZM665.2,76.8L662.2,76.5L664.2,75.7L667.2,76.0ZM665.3,73.7L662.3,73.3L664.4,72.5L667.4,72.9ZM665.5,70.5L662.5,70.1L664.6,69.3L667.6,69.7ZM665.7,67.5L662.7,67.4L664.8,66.6L667.8,66.7ZM665.9,65.3L662.9,66.0L665.0,65.2L667.9,64.5ZM665.0,65.2L662.2,66.4L664.3,65.6L667.1,64.4ZM665.8,65.5L663.2,67.1L665.3,66.3L667.8,64.7ZM665.3,66.3L662.9,68.1L664.9,67.3L667.4,65.5ZM664.9,67.3L662.5,69.1L664.6,68.3L667.0,66.5ZM619.1,85.9L617.9,88.7L626.2,85.5L627.4,82.7ZM664.6,68.3L663.4,71.1L665.4,70.3L666.7,67.5ZM615.8,89.5L614.9,92.4L616.9,91.6L617.9,88.7ZM632.4,83.1L631.4,86.0L633.5,85.2L634.4,82.3ZM614.9,92.4L613.9,95.2L615.9,94.4L616.9,91.6ZM664.5,73.2L663.5,76.0L665.5,75.2L666.5,72.4ZM615.9,94.4L615.0,97.3L617.0,96.5L618.0,93.6ZM617.0,96.5L616.1,99.4L618.2,98.6L619.1,95.7ZM664.6,78.1L663.7,81.0L665.7,80.2L666.6,77.3ZM643.0,89.0L642.2,91.9L644.2,91.1L645.1,88.2ZM664.9,83.1L664.2,86.1L666.3,85.3L667.0,82.3ZM627.0,100.5L626.4,103.4L628.5,102.6L629.1,99.7ZM643.5,94.1L642.9,97.0L645.0,96.2L645.6,93.3ZM664.2,86.1L663.6,89.0L665.7,88.2L666.3,85.3ZM634.7,100.2L634.3,103.2L640.5,100.8L640.9,97.8ZM663.5,104.1L663.9,107.1L666.0,106.3L665.6,103.3ZM663.9,107.1L664.4,110.1L666.5,109.3L666.0,106.3ZM664.4,110.1L665.1,113.1L667.1,112.3L666.5,109.3ZM622.4,132.8L623.1,135.7L627.3,134.1L626.5,131.2ZM645.1,124.0L645.9,126.9L652.1,124.5L651.3,121.6ZM663.7,116.8L664.5,119.7L666.5,118.9L665.8,116.0ZM619.0,137.3L619.9,140.2L622.0,139.4L621.1,136.5ZM654.1,123.7L655.0,126.6L657.1,125.8L656.2,122.9ZM615.8,141.8L616.8,144.7L618.8,143.9L617.8,141.0ZM659.2,125.0L660.2,127.9L662.2,127.1L661.2,124.2ZM663.3,123.4L664.3,126.3L666.4,125.5L665.4,122.6ZM616.8,144.7L617.8,147.5L619.9,146.7L618.8,143.9ZM615.8,148.3L617.0,151.1L619.0,150.3L617.8,147.5ZM617.0,151.1L618.2,153.9L620.3,153.1L619.0,150.3ZM616.2,154.7L617.5,157.4L619.6,156.6L618.2,153.9ZM616.8,160.9L618.2,163.6L620.3,162.8L618.9,160.1ZM616.2,164.4L617.6,167.0L619.7,166.2L618.2,163.6ZM615.6,167.8L617.0,170.5L619.1,169.7L617.6,167.0ZM617.0,170.5L618.6,173.1L620.6,172.3L619.1,169.7ZM616.5,173.9L618.1,176.5L620.1,175.7L618.6,173.1Z" fill="#0088ba" stroke="#0088ba" stroke-width="0.70"/>
<path d="M609.1,88.9L606.7,90.7L608.8,89.9L611.2,88.1ZM606.7,90.7L605.5,93.5L609.6,91.9L610.9,89.1ZM605.5,93.5L604.5,96.4L608.7,94.8L609.6,91.9ZM604.5,96.4L603.5,99.2L609.7,96.8L610.7,94.0ZM603.5,99.2L602.6,102.1L608.8,99.7L609.7,96.8ZM602.6,102.1L601.7,105.0L603.7,104.2L604.6,101.3ZM606.7,100.5L605.8,103.4L609.9,101.8L610.8,98.9ZM601.7,105.0L600.8,107.9L602.9,107.1L603.7,104.2ZM607.9,102.6L607.0,105.5L611.2,103.9L612.0,101.0ZM600.8,107.9L600.1,110.9L602.2,110.1L602.9,107.1ZM609.1,104.7L608.4,107.7L610.5,106.9L611.2,103.9ZM656.6,86.3L655.9,89.3L660.1,87.7L660.8,84.7ZM600.1,110.9L599.5,113.8L603.7,112.2L604.3,109.3ZM608.4,107.7L607.8,110.6L609.9,109.8L610.5,106.9ZM655.9,89.3L655.3,92.2L661.5,89.8L662.1,86.9ZM601.6,113.0L601.2,116.0L603.3,115.2L603.7,112.2ZM609.9,109.8L609.5,112.8L611.5,112.0L611.9,109.0ZM655.3,92.2L654.9,95.2L657.0,94.4L657.4,91.4ZM601.2,116.0L601.0,119.1L603.1,118.3L603.3,115.2ZM609.5,112.8L609.3,115.9L611.3,115.1L611.5,112.0ZM654.9,95.2L654.7,98.3L656.8,97.5L657.0,94.4ZM661.1,92.8L660.9,95.9L663.0,95.1L663.2,92.0ZM601.0,119.1L601.0,122.1L603.1,121.3L603.1,118.3ZM609.3,115.9L609.3,118.9L611.3,118.1L611.3,115.1ZM654.7,98.3L654.7,101.3L656.8,100.5L656.8,97.5ZM609.3,118.9L609.4,121.9L611.5,121.1L611.3,118.1ZM654.7,101.3L654.9,104.3L657.0,103.5L656.8,100.5ZM609.4,121.9L609.8,124.9L611.8,124.1L611.5,121.1ZM599.4,128.9L599.8,131.9L601.9,131.1L601.5,128.1ZM609.8,124.9L610.2,127.9L612.2,127.1L611.8,124.1ZM599.8,131.9L600.4,134.9L602.4,134.1L601.9,131.1ZM610.2,127.9L610.7,130.9L612.8,130.1L612.2,127.1ZM653.6,111.1L654.1,114.1L656.2,113.3L655.6,110.3ZM661.8,107.9L662.4,110.9L664.4,110.1L663.9,107.1ZM600.4,134.9L601.0,137.9L603.1,137.1L602.4,134.1ZM608.6,131.7L609.3,134.7L611.3,133.9L610.7,130.9ZM654.1,114.1L654.7,117.1L656.8,116.3L656.2,113.3ZM601.0,137.9L601.7,140.8L603.8,140.0L603.1,137.1ZM609.3,134.7L610.0,137.6L612.0,136.8L611.3,133.9ZM654.7,117.1L655.4,120.0L657.5,119.2L656.8,116.3ZM660.9,114.7L661.6,117.6L663.7,116.8L663.0,113.9ZM607.9,138.4L608.7,141.3L612.8,139.7L612.0,136.8ZM655.4,120.0L656.2,122.9L658.3,122.1L657.5,119.2ZM608.7,141.3L609.6,144.2L611.6,143.4L610.7,140.5ZM607.5,145.0L608.5,147.9L612.6,146.3L611.6,143.4ZM608.5,147.9L609.6,150.7L611.6,149.9L610.6,147.1ZM607.5,151.5L608.7,154.3L610.8,153.5L609.6,150.7ZM606.6,155.1L607.9,157.9L612.0,156.3L610.8,153.5ZM607.9,157.9L609.2,160.6L611.3,159.8L610.0,157.1Z" fill="#00ae22" stroke="#00ae22" stroke-width="0.70"/>
<path d="M617.9,88.7L616.9,91.6L629.3,86.8L630.3,83.9ZM616.9,91.6L615.9,94.4L634.5,87.2L635.5,84.4ZM618.0,93.6L617.0,96.5L637.7,88.5L638.7,85.6ZM619.1,95.7L618.2,98.6L640.9,89.8L641.8,86.9ZM622.3,97.0L621.5,99.9L642.2,91.9L643.0,89.0ZM625.6,98.3L624.9,101.3L643.5,94.1L644.2,91.1ZM629.1,99.7L628.5,102.6L640.9,97.8L641.5,94.9ZM631.4,132.5L632.3,135.4L650.9,128.2L650.0,125.3ZM628.2,137.0L629.2,139.9L658.1,128.7L657.1,125.8ZM627.1,140.7L628.2,143.5L663.3,129.9L662.2,127.1ZM624.0,145.1L625.2,147.9L670.7,130.3L669.5,127.5ZM623.2,148.7L624.4,151.5L672.0,133.1L670.7,130.3ZM622.4,152.3L623.7,155.0L675.4,135.0L674.0,132.3ZM621.6,155.8L623.0,158.5L676.8,137.7L675.4,135.0ZM621.0,159.3L622.4,162.0L678.2,140.4L676.8,137.7ZM620.3,162.8L621.8,165.4L679.6,143.0L678.2,140.4ZM619.7,166.2L621.2,168.9L681.1,145.7L679.6,143.0ZM619.1,169.7L620.6,172.3L682.6,148.3L681.1,145.7ZM620.6,172.3L622.2,174.9L682.1,151.7L680.6,149.1ZM620.1,175.7L621.7,178.2L683.7,154.2L682.1,151.7ZM619.7,179.0L621.3,181.6L685.4,156.8L683.7,154.2ZM621.3,181.6L623.1,184.0L685.1,160.0L683.3,157.6ZM623.1,184.0L624.9,186.5L686.9,162.5L685.1,160.0ZM624.9,186.5L626.8,188.8L686.8,165.6L684.9,163.3ZM626.8,188.8L628.8,191.1L686.7,168.7L684.7,166.4ZM628.8,191.1L630.9,193.3L686.7,171.7L684.6,169.5ZM630.9,193.3L633.1,195.4L686.8,174.6L684.7,172.5ZM633.1,195.4L635.3,197.4L687.0,177.4L684.8,175.4ZM635.3,197.4L637.6,199.4L687.2,180.2L684.9,178.2ZM637.6,199.4L639.9,201.4L685.4,183.8L683.1,181.8ZM639.9,201.4L642.3,203.2L685.7,186.4L683.3,184.6ZM642.3,203.2L644.7,205.1L686.1,189.1L683.6,187.2ZM644.7,205.1L647.2,206.8L684.4,192.4L681.9,190.7ZM647.2,206.8L649.7,208.5L682.8,195.7L680.3,194.0ZM649.7,208.5L652.3,210.1L683.3,198.1L680.7,196.5ZM652.3,210.1L654.9,211.6L681.8,201.2L679.2,199.7ZM654.9,211.6L657.5,213.1L680.3,204.3L677.6,202.8ZM657.5,213.1L660.2,214.5L676.8,208.1L674.1,206.7ZM660.2,214.5L662.9,215.9L675.3,211.1L672.6,209.7ZM662.9,215.9L665.7,217.1L671.9,214.7L669.1,213.5Z" fill="#0000b6" stroke="#0000b6" stroke-width="0.70"/>
<path d="M604.6,101.3L603.7,104.2L605.8,103.4L606.7,100.5ZM603.7,104.2L602.9,107.1L607.0,105.5L607.9,102.6ZM602.9,107.1L602.2,110.1L608.4,107.7L609.1,104.7ZM606.3,108.5L605.7,111.4L607.8,110.6L608.4,107.7ZM607.8,110.6L607.4,113.6L609.5,112.8L609.9,109.8ZM657.4,91.4L657.0,94.4L661.1,92.8L661.5,89.8ZM607.4,113.6L607.2,116.7L609.3,115.9L609.5,112.8ZM657.0,94.4L656.8,97.5L658.9,96.7L659.1,93.6ZM660.9,95.9L660.9,98.9L663.0,98.1L663.0,95.1ZM601.0,122.1L601.2,125.1L603.2,124.3L603.1,121.3ZM660.9,98.9L661.1,101.9L663.2,101.1L663.0,98.1ZM601.2,125.1L601.5,128.1L603.6,127.3L603.2,124.3ZM654.9,104.3L655.2,107.3L657.3,106.5L657.0,103.5ZM661.1,101.9L661.4,104.9L663.5,104.1L663.2,101.1ZM607.7,125.7L608.1,128.7L610.2,127.9L609.8,124.9ZM655.2,107.3L655.6,110.3L657.7,109.5L657.3,106.5ZM661.4,104.9L661.8,107.9L663.9,107.1L663.5,104.1ZM608.1,128.7L608.6,131.7L610.7,130.9L610.2,127.9ZM607.2,135.5L607.9,138.4L610.0,137.6L609.3,134.7ZM656.8,116.3L657.5,119.2L659.6,118.4L658.9,115.5ZM601.7,140.8L602.5,143.7L604.5,142.9L603.8,140.0ZM657.5,119.2L658.3,122.1L662.4,120.5L661.6,117.6ZM602.5,143.7L603.4,146.6L605.4,145.8L604.5,142.9ZM606.6,142.1L607.5,145.0L609.6,144.2L608.7,141.3ZM603.4,146.6L604.4,149.5L608.5,147.9L607.5,145.0ZM604.4,149.5L605.4,152.3L609.6,150.7L608.5,147.9ZM605.4,152.3L606.6,155.1L608.7,154.3L607.5,151.5Z" fill="#22b000" stroke="#22b000" stroke-width="0.70"/>
<path d="M604.3,109.3L603.7,112.2L605.7,111.4L606.3,108.5ZM603.7,112.2L603.3,115.2L607.4,113.6L607.8,110.6ZM659.1,93.6L658.9,96.7L660.9,95.9L661.1,92.8ZM607.2,116.7L607.2,119.7L609.3,118.9L609.3,115.9ZM656.8,97.5L656.8,100.5L658.9,99.7L658.9,96.7ZM607.2,119.7L607.4,122.7L609.4,121.9L609.3,118.9ZM607.4,122.7L607.7,125.7L609.8,124.9L609.4,121.9ZM601.5,128.1L601.9,131.1L604.0,130.3L603.6,127.3ZM601.9,131.1L602.4,134.1L604.5,133.3L604.0,130.3ZM655.6,110.3L656.2,113.3L658.2,112.5L657.7,109.5ZM602.4,134.1L603.1,137.1L605.1,136.3L604.5,133.3ZM606.6,132.5L607.2,135.5L609.3,134.7L608.6,131.7ZM656.2,113.3L656.8,116.3L658.9,115.5L658.2,112.5ZM660.3,111.7L660.9,114.7L663.0,113.9L662.4,110.9ZM603.1,137.1L603.8,140.0L605.8,139.2L605.1,136.3ZM658.9,115.5L659.6,118.4L661.6,117.6L660.9,114.7ZM603.8,140.0L604.5,142.9L608.7,141.3L607.9,138.4ZM604.5,142.9L605.4,145.8L607.5,145.0L606.6,142.1Z" fill="#6ab600" stroke="#6ab600" stroke-width="0.70"/>
<path d="M603.3,115.2L603.1,118.3L607.2,116.7L607.4,113.6ZM603.1,118.3L603.1,121.3L605.1,120.5L605.1,117.5ZM658.9,96.7L658.9,99.7L660.9,98.9L660.9,95.9ZM656.8,100.5L657.0,103.5L659.0,102.7L658.9,99.7ZM659.8,108.7L660.3,111.7L662.4,110.9L661.8,107.9ZM658.2,112.5L658.9,115.5L660.9,114.7L660.3,111.7ZM605.1,136.3L605.8,139.2L607.9,138.4L607.2,135.5Z" fill="#aeba00" stroke="#aeba00" stroke-width="0.70"/>
<path d="M605.1,117.5L605.1,120.5L607.2,119.7L607.2,116.7ZM603.1,121.3L603.2,124.3L605.3,123.5L605.1,120.5ZM658.9,99.7L659.0,102.7L661.1,101.9L660.9,98.9ZM657.0,103.5L657.3,106.5L659.4,105.7L659.0,102.7ZM657.3,106.5L657.7,109.5L661.8,107.9L661.4,104.9ZM606.0,129.5L606.6,132.5L608.6,131.7L608.1,128.7ZM657.7,109.5L658.2,112.5L660.3,111.7L659.8,108.7ZM604.5,133.3L605.1,136.3L607.2,135.5L606.6,132.5Z" fill="#c18800" stroke="#c18800" stroke-width="0.70"/>
<path d="M605.1,120.5L605.3,123.5L607.4,122.7L607.2,119.7ZM603.2,124.3L603.6,127.3L607.7,125.7L607.4,122.7ZM603.6,127.3L604.0,130.3L606.0,129.5L605.6,126.5ZM604.0,130.3L604.5,133.3L606.6,132.5L606.0,129.5Z" fill="#b60000" stroke="#b60000" stroke-width="0.70"/>
<path d="M659.0,102.7L659.4,105.7L661.4,104.9L661.1,101.9ZM605.6,126.5L606.0,129.5L608.1,128.7L607.7,125.7Z" fill="#c14400" stroke="#c14400" stroke-width="0.70"/>
<g fill="none" stroke="#000" stroke-opacity="0.80" stroke-width="0.45">
<path id="b_ir" d="M658.6,85.3l-2.4,-0.2l-2.5,-0.3l-2.5,-0.3l-2.4,-0.2l-2.5,-0.3l-2.4,-0.3l-2.5,-0.3l-2.4,-0.3l-2.5,-0.4l-2.5,-0.3l-2.4,-0.3l-2.5,-0.2l-2.4,-0.1l-2.5,0.1l-2.5,0.3l-2.3,0.7l-2.3,0.9l-2.2,1.2l-2.1,1.3l-2,1.4l-2,1.5l-2,1.5l-1.1,2.2l-0.8,2.3l-0.8,2.4l-0.8,2.3l-0.8,2.3l-0.7,2.4l-0.7,2.4l-0.6,2.4l-0.6,2.4l-0.4,2.4l-0.4,2.5l-0.1,2.4l-0.1,2.5l0.1,2.5l0.2,2.4l0.2,2.5l0.4,2.4l0.4,2.5l0.5,2.4l0.5,2.4l0.6,2.4l0.6,2.4l0.7,2.4l0.8,2.3l0.8,2.4l1,2.3l0.9,2.2l1.1,2.3l1,2.2l1.2,2.2l1.1,2.2l1.2,2.2l1.2,2.2l1.2,2.1l1.2,2.2l1.3,2.1l1.2,2.1l1.4,2.1l1.3,2.1l1.4,2l1.5,2l1.5,2l1.6,1.9l1.6,1.8l1.7,1.8l1.8,1.8l1.7,1.7l1.9,1.7l1.8,1.6l1.9,1.6l2,1.5l1.9,1.5l2,1.5l2.1,1.4l2,1.4l2.1,1.3l2.1,1.3l2.1,1.2l2.2,1.2l2.2,1.2l2.2,1.1l2.3,1l2.2,1l2.3,0.9l2.4,0.8l2.4,0.7l2.4,0.5l2.4,0.4l2.5,0.2l2.5,0.1l2.4,0l2.5,-0.1l2.5,-0.3l2.4,-0.3l2.4,-0.5l2.4,-0.7l2.2,-1.1l2.1,-1.3l2,-1.5l2,-1.5l1.9,-1.5l2.1,-1.4l2,-1.4l2,-1.4l2.1,-1.4l2,-1.4l2,-1.4"/>
<use href="#b_ir" transform="translate(1.6 -0.6)"/>
<use href="#b_ir" transform="translate(3.3 -1.3)"/>
<use href="#b_ir" transform="translate(4.9 -1.9)"/>
<use href="#b_ir" transform="translate(6.6 -2.5)"/>
<use href="#b_ir" transform="translate(8.2 -3.2)"/>
<use href="#b_ir" transform="translate(9.9 -3.8)"/>
<use href="#b_ir" transform="translate(11.5 -4.5)"/>
<use href="#b_ir" transform="translate(13.2 -5.1)"/>
<use href="#b_ir" transform="translate(14.8 -5.7)"/>
<use href="#b_ir" transform="translate(16.4 -6.4)"/>
<use href="#b_ir" transform="translate(18.1 -7.0)"/>
<use href="#b_ir" transform="translate(19.7 -7.6)"/>
<use href="#b_ir" transform="translate(21.4 -8.3)"/>
<use href="#b_ir" transform="translate(23.0 -8.9)"/>
<use href="#b_ir" transform="translate(24.7 -9.6)"/>
<use href="#b_ir" transform="translate(26.3 -10.2)"/>
<use href="#b_ir" transform="translate(28.0 -10.8)"/>
<use href="#b_ir" transform="translate(29.6 -11.5)"/>
<use href="#b_ir" transform="translate(31.3 -12.1)"/>
<use href="#b_ir" transform="translate(32.9 -12.7)"/>
<use href="#b_ir" transform="translate(34.5 -13.4)"/>
<use href="#b_ir" transform="translate(36.2 -14.0)"/>
<use href="#b_ir" transform="translate(37.8 -14.6)"/>
<use href="#b_ir" transform="translate(39.5 -15.3)"/>
<use href="#b_ir" transform="translate(41.1 -15.9)"/>
<use href="#b_ir" transform="translate(42.8 -16.6)"/>
<use href="#b_ir" transform="translate(44.4 -17.2)"/>
<use href="#b_ir" transform="translate(46.1 -17.8)"/>
<use href="#b_ir" transform="translate(47.7 -18.5)"/>
<use href="#b_ir" transform="translate(49.3 -19.1)"/>
<use href="#b_ir" transform="translate(51.0 -19.7)"/>
<use href="#b_ir" transform="translate(52.6 -20.4)"/>
<use href="#b_ir" transform="translate(54.3 -21.0)"/>
<use href="#b_ir" transform="translate(55.9 -21.6)"/>
<use href="#b_ir" transform="translate(57.6 -22.3)"/>
<use href="#b_ir" transform="translate(59.2 -22.9)"/>
<use href="#b_ir" transform="translate(60.9 -23.6)"/>
<use href="#b_ir" transform="translate(62.5 -24.2)"/>
<use href="#b_ir" transform="translate(64.2 -24.8)"/>
<use href="#b_ir" transform="translate(65.8 -25.5)"/>
<use href="#b_ir" transform="translate(67.4 -26.1)"/>
<use href="#b_ir" transform="translate(69.1 -26.7)"/>
<use href="#b_ir" transform="translate(70.7 -27.4)"/>
<use href="#b_ir" transform="translate(72.4 -28.0)"/>
<use href="#b_ir" transform="translate(74.0 -28.7)"/>
<use href="#b_ir" transform="translate(75.7 -29.3)"/>
<use href="#b_ir" transform="translate(77.3 -29.9)"/>
<use href="#b_ir" transform="translate(79.0 -30.6)"/>
<use href="#b_ir" transform="translate(80.6 -31.2)"/>
<path d="M658.6,85.3l80.6,-31.2M656.2,85.1l80.6,-31.2M653.7,84.8l80.6,-31.2M651.2,84.5l80.6,-31.2M648.8,84.3l80.6,-31.2M646.3,84.0l80.6,-31.2M643.9,83.7l80.6,-31.2M641.4,83.4l80.6,-31.2M639.0,83.1l80.6,-31.2M636.5,82.7l80.6,-31.2M634.0,82.4l80.6,-31.2M631.6,82.1l80.6,-31.2M629.1,81.9l80.6,-31.2M626.7,81.8l80.6,-31.2M624.2,81.9l80.6,-31.2M621.7,82.2l80.6,-31.2M619.4,82.9l80.6,-31.2M617.1,83.8l80.6,-31.2M614.9,85.0l80.6,-31.2M612.8,86.3l80.6,-31.2M610.8,87.7l80.6,-31.2M608.8,89.2l80.6,-31.2M606.8,90.7l80.6,-31.2M605.7,92.9l80.6,-31.2M604.9,95.2l80.6,-31.2M604.1,97.6l80.6,-31.2M603.3,99.9l80.6,-31.2M602.5,102.2l80.6,-31.2M601.8,104.6l80.6,-31.2M601.1,107.0l80.6,-31.2M600.5,109.4l80.6,-31.2M599.9,111.8l80.6,-31.2M599.5,114.2l80.6,-31.2M599.1,116.7l80.6,-31.2M599.0,119.1l80.6,-31.2M598.9,121.6l80.6,-31.2M599.0,124.1l80.6,-31.2M599.2,126.5l80.6,-31.2M599.4,129.0l80.6,-31.2M599.8,131.4l80.6,-31.2M600.2,133.9l80.6,-31.2M600.7,136.3l80.6,-31.2M601.2,138.7l80.6,-31.2M601.8,141.1l80.6,-31.2M602.4,143.5l80.6,-31.2M603.1,145.9l80.6,-31.2M603.9,148.2l80.6,-31.2M604.7,150.6l80.6,-31.2M605.7,152.9l80.6,-31.2M606.6,155.1l80.6,-31.2M607.7,157.4l80.6,-31.2M608.7,159.6l80.6,-31.2M609.9,161.8l80.6,-31.2M611.0,164.0l80.6,-31.2M612.2,166.2l80.6,-31.2M613.4,168.4l80.6,-31.2M614.6,170.5l80.6,-31.2M615.8,172.7l80.6,-31.2M617.1,174.8l80.6,-31.2M618.3,176.9l80.6,-31.2M619.7,179.0l80.6,-31.2M621.0,181.1l80.6,-31.2M622.4,183.1l80.6,-31.2M623.9,185.1l80.6,-31.2M625.4,187.1l80.6,-31.2M627.0,189.0l80.6,-31.2M628.6,190.8l80.6,-31.2M630.3,192.6l80.6,-31.2M632.1,194.4l80.6,-31.2M633.8,196.1l80.6,-31.2M635.7,197.8l80.6,-31.2M637.5,199.4l80.6,-31.2M639.4,201.0l80.6,-31.2M641.4,202.5l80.6,-31.2M643.3,204.0l80.6,-31.2M645.3,205.5l80.6,-31.2M647.4,206.9l80.6,-31.2M649.4,208.3l80.6,-31.2M651.5,209.6l80.6,-31.2M653.6,210.9l80.6,-31.2M655.7,212.1l80.6,-31.2M657.9,213.3l80.6,-31.2M660.1,214.5l80.6,-31.2M662.3,215.6l80.6,-31.2M664.6,216.6l80.6,-31.2M666.8,217.6l80.6,-31.2M669.1,218.5l80.6,-31.2M671.5,219.3l80.6,-31.2M673.9,220.0l80.6,-31.2M676.3,220.5l80.6,-31.2M678.7,220.9l80.6,-31.2M681.2,221.1l80.6,-31.2M683.7,221.2l80.6,-31.2M686.1,221.2l80.6,-31.2M688.6,221.1l80.6,-31.2M691.1,220.8l80.6,-31.2M693.5,220.5l80.6,-31.2M695.9,220.0l80.6,-31.2M698.3,219.3l80.6,-31.2M700.5,218.2l80.6,-31.2M702.6,216.9l80.6,-31.2M704.6,215.4l80.6,-31.2M706.6,213.9l80.6,-31.2M708.5,212.4l80.6,-31.2M710.6,211.0l80.6,-31.2M712.6,209.6l80.6,-31.2M714.6,208.2l80.6,-31.2M716.7,206.8l80.6,-31.2M718.7,205.4l80.6,-31.2M720.7,204.0l80.6,-31.2"/>
</g>
</g>
<path d="M660.9,94.6 C661.2,92.7 663.3,94.8 665.0,95.5 C666.7,96.2 668.5,95.5 671.3,98.8 C674.1,102.1 678.3,109.6 681.8,115.5 C685.3,121.4 689.1,128.1 692.2,134.3 C695.3,140.6 698.2,147.1 700.6,153.0 C703.0,158.9 705.4,165.3 706.8,169.8 C708.2,174.3 708.5,178.1 708.9,180.2 C709.2,182.3 709.6,182.5 708.9,182.3 C708.2,182.1 707.5,181.6 704.7,179.2 C701.9,176.8 696.4,172.8 692.2,167.7 C688.0,162.6 683.5,155.5 679.7,148.9 C675.9,142.3 672.0,135.0 669.2,128.0 C666.4,121.0 664.4,112.6 663.0,107.0 C661.6,101.4 660.6,96.5 660.9,94.6 Z" fill="#fff"/>
<path d="M632.4,49 L632.4,5.4 L682,31 M756.5,70.6 L797.8,92.5 L797.8,241 L772.6,228.8" fill="none" stroke="#333" stroke-width="0.8" stroke-dasharray="1.6 1.4"/>
<text x="615" y="12" class="lsr" font-style="italic" font-size="15" fill="#222">α</text>
</g>
<g id="pc">
<defs><clipPath id="c_in"><ellipse cx="215.80" cy="455.40" rx="62.06" ry="40.46" transform="rotate(63.197 215.80 455.40)"/></clipPath></defs>
<path d="M177.7,383.3L179.8,382.2L214.3,362.5L212.2,363.7ZM281.2,324.4L283.3,323.3L302.2,312.6L300.0,313.7ZM179.8,382.2L182.1,381.2L216.6,361.6L214.3,362.5ZM283.3,323.3L285.6,322.4L304.4,311.7L302.2,312.6ZM182.1,381.2L184.4,380.4L215.7,362.6L213.4,363.4ZM288.7,320.6L291.1,319.8L306.7,310.8L304.4,311.7ZM184.4,380.4L186.7,379.7L218.1,361.9L215.7,362.6ZM291.1,319.8L293.4,319.1L309.1,310.2L306.7,310.8ZM186.7,379.7L189.1,379.3L220.5,361.4L218.1,361.9ZM293.4,319.1L295.9,318.6L311.6,309.7L309.1,310.2ZM189.1,379.3L191.6,378.9L219.9,362.9L217.4,363.2ZM299.0,316.8L301.5,316.5L314.1,309.4L311.6,309.7ZM191.6,378.9L194.1,378.7L219.3,364.5L216.7,364.6ZM301.5,316.5L304.1,316.3L316.6,309.2L314.1,309.4ZM194.1,378.7L196.7,378.7L221.9,364.5L219.3,364.5ZM304.1,316.3L306.7,316.3L319.2,309.2L316.6,309.2ZM196.7,378.7L199.3,378.9L221.3,366.4L218.7,366.2ZM306.7,316.3L309.3,316.4L321.9,309.3L319.2,309.2ZM199.3,378.9L202.0,379.2L224.0,366.7L221.3,366.4ZM202.0,379.2L204.7,379.6L226.7,367.1L224.0,366.7ZM204.7,379.6L207.4,380.2L226.2,369.5L223.5,368.9ZM207.4,380.2L210.1,381.0L228.9,370.3L226.2,369.5ZM210.1,381.0L212.8,381.9L231.7,371.2L228.9,370.3ZM212.8,381.9L215.5,383.0L234.4,372.3L231.7,371.2ZM215.5,383.0L218.3,384.2L234.0,375.3L231.3,374.1ZM218.3,384.2L221.0,385.6L233.6,378.5L230.9,377.1ZM221.0,385.6L223.7,387.1L236.3,380.0L233.6,378.5ZM223.7,387.1L226.4,388.8L235.9,383.5L233.2,381.8ZM226.4,388.8L229.1,390.6L235.4,387.0L232.7,385.2ZM229.1,390.6L231.7,392.5L234.9,390.8L232.2,388.8ZM231.7,392.5L234.4,394.6L237.5,392.8L234.9,390.8ZM234.4,394.6L237.0,396.8L240.1,395.0L237.5,392.8ZM237.0,396.8L239.5,399.1L242.6,397.3L240.1,395.0ZM239.5,399.1L242.0,401.5L245.1,399.7L242.6,397.3ZM242.0,401.5L244.4,404.1L247.6,402.3L245.1,399.7ZM244.4,404.1L246.8,406.7L253.1,403.2L250.7,400.5ZM246.8,406.7L249.1,409.5L255.4,405.9L253.1,403.2ZM249.1,409.5L251.3,412.3L257.6,408.8L255.4,405.9ZM251.3,412.3L253.5,415.2L259.8,411.7L257.6,408.8ZM253.5,415.2L255.6,418.2L261.9,414.7L259.8,411.7ZM255.6,418.2L257.6,421.3L263.9,417.8L261.9,414.7ZM257.6,421.3L259.5,424.5L265.8,421.0L263.9,417.8ZM259.5,424.5L261.4,427.7L267.7,424.2L265.8,421.0ZM261.4,427.7L263.1,431.0L266.2,429.2L264.5,426.0ZM263.1,431.0L264.7,434.3L267.9,432.6L266.2,429.2ZM264.7,434.3L266.3,437.7L269.4,436.0L267.9,432.6ZM266.3,437.7L267.7,441.1L270.9,439.4L269.4,436.0ZM267.7,441.1L269.0,444.6L275.3,441.1L274.0,437.6ZM269.0,444.6L270.2,448.1L276.6,444.5L275.3,441.1ZM270.2,448.1L271.3,451.5L280.8,446.2L279.7,442.8ZM271.3,451.5L272.3,455.0L281.8,449.7L280.8,446.2ZM272.3,455.0L273.2,458.5L282.7,453.2L281.8,449.7ZM273.2,458.5L273.9,462.0L283.4,456.7L282.7,453.2ZM273.9,462.0L274.6,465.5L284.0,460.2L283.4,456.7ZM274.6,465.5L275.1,468.9L284.6,463.6L284.0,460.2ZM275.1,468.9L275.5,472.3L281.8,468.8L281.4,465.4ZM275.5,472.3L275.7,475.7L282.0,472.2L281.8,468.8ZM275.7,475.7L275.9,479.1L279.0,477.3L278.9,474.0ZM275.9,479.1L275.9,482.4L279.0,480.6L279.0,477.3ZM275.9,482.4L275.8,485.6L278.9,483.9L279.0,480.6ZM275.8,485.6L275.5,488.8L278.7,487.0L278.9,483.9ZM275.5,488.8L275.2,491.9L278.3,490.1L278.7,487.0ZM275.2,491.9L274.7,494.9L277.8,493.2L278.3,490.1ZM274.7,494.9L274.1,497.9L280.4,494.4L281.0,491.4ZM274.1,497.9L273.3,500.7L279.7,497.2L280.4,494.4ZM273.3,500.7L272.5,503.5L278.8,500.0L279.7,497.2ZM272.5,503.5L271.5,506.2L277.9,502.7L278.8,500.0ZM271.5,506.2L270.5,508.7L276.8,505.2L277.9,502.7ZM270.5,508.7L269.3,511.2L275.6,507.7L276.8,505.2ZM269.3,511.2L268.0,513.5L271.1,511.8L272.4,509.4ZM268.0,513.5L266.6,515.7L269.7,514.0L271.1,511.8ZM266.6,515.7L265.0,517.8L268.2,516.1L269.7,514.0ZM265.0,517.8L263.4,519.8L266.6,518.0L268.2,516.1ZM263.4,519.8L261.7,521.6L264.9,519.9L266.6,518.0ZM261.7,521.6L259.9,523.3L263.0,521.6L264.9,519.9ZM259.9,523.3L258.0,524.9L261.1,523.1L263.0,521.6ZM258.0,524.9L256.0,526.3L262.3,522.8L264.3,521.4ZM256.0,526.3L253.9,527.5L260.2,524.0L262.3,522.8Z" fill="#0000d3" stroke="#0000d3" stroke-width="0.70"/>
<path d="M212.2,363.7L214.3,362.5L217.5,360.8L215.3,361.9ZM271.8,329.8L273.9,328.7L283.3,323.3L281.2,324.4ZM214.3,362.5L216.6,361.6L219.7,359.8L217.5,360.8ZM273.9,328.7L276.2,327.7L285.6,322.4L283.3,323.3ZM213.4,363.4L215.7,362.6L222.0,359.0L219.7,359.8ZM276.2,327.7L278.5,326.9L291.1,319.8L288.7,320.6ZM215.7,362.6L218.1,361.9L221.2,360.1L218.9,360.8ZM278.5,326.9L280.9,326.2L293.4,319.1L291.1,319.8ZM218.1,361.9L220.5,361.4L223.7,359.6L221.2,360.1ZM284.0,324.5L286.5,324.0L295.9,318.6L293.4,319.1ZM217.4,363.2L219.9,362.9L223.0,361.1L220.5,361.4ZM286.5,324.0L289.0,323.6L301.5,316.5L299.0,316.8ZM216.7,364.6L219.3,364.5L222.4,362.7L219.9,362.9ZM289.0,323.6L291.5,323.4L304.1,316.3L301.5,316.5ZM219.3,364.5L221.9,364.5L225.0,362.7L222.4,362.7ZM291.5,323.4L294.1,323.4L306.7,316.3L304.1,316.3ZM218.7,366.2L221.3,366.4L224.5,364.6L221.9,364.5ZM294.1,323.4L296.7,323.6L309.3,316.4L306.7,316.3ZM221.3,366.4L224.0,366.7L227.1,364.9L224.5,364.6ZM296.7,323.6L299.4,323.9L324.5,309.6L321.9,309.3ZM224.0,366.7L226.7,367.1L229.8,365.4L227.1,364.9ZM299.4,323.9L302.1,324.3L327.2,310.1L324.5,309.6ZM223.5,368.9L226.2,369.5L229.4,367.8L226.7,367.1ZM302.1,324.3L304.8,325.0L330.0,310.7L327.2,310.1ZM226.2,369.5L228.9,370.3L232.1,368.5L229.4,367.8ZM304.8,325.0L307.6,325.7L332.7,311.5L330.0,310.7ZM228.9,370.3L231.7,371.2L234.8,369.5L232.1,368.5ZM307.6,325.7L310.3,326.7L335.5,312.4L332.7,311.5ZM231.7,371.2L234.4,372.3L237.6,370.5L234.8,369.5ZM310.3,326.7L313.1,327.8L338.2,313.5L335.5,312.4ZM231.3,374.1L234.0,375.3L237.1,373.5L234.4,372.3ZM313.1,327.8L315.8,329.0L341.0,314.7L338.2,313.5ZM230.9,377.1L233.6,378.5L236.7,376.7L234.0,375.3ZM319.0,327.2L321.7,328.6L343.7,316.1L341.0,314.7ZM233.6,378.5L236.3,380.0L239.5,378.2L236.7,376.7ZM324.9,326.8L327.6,328.3L346.5,317.7L343.7,316.1ZM233.2,381.8L235.9,383.5L239.0,381.7L236.3,380.0ZM327.6,328.3L330.3,330.0L349.2,319.3L346.5,317.7ZM232.7,385.2L235.4,387.0L238.5,385.3L235.9,383.5ZM333.5,328.2L336.2,330.1L351.9,321.2L349.2,319.3ZM232.2,388.8L234.9,390.8L238.1,389.0L235.4,387.0ZM336.2,330.1L338.9,332.0L354.6,323.1L351.9,321.2ZM234.9,390.8L237.5,392.8L240.7,391.0L238.1,389.0ZM342.0,330.2L344.7,332.3L357.3,325.2L354.6,323.1ZM344.7,332.3L347.3,334.5L359.9,327.4L357.3,325.2ZM347.3,334.5L349.8,336.8L362.4,329.7L359.9,327.4ZM242.6,397.3L245.1,399.7L248.3,398.0L245.8,395.5ZM353.0,335.1L355.5,337.5L364.9,332.2L362.4,329.7ZM245.1,399.7L247.6,402.3L250.7,400.5L248.3,398.0ZM355.5,337.5L357.9,340.1L367.4,334.8L364.9,332.2ZM357.9,340.1L360.3,342.8L369.8,337.4L367.4,334.8ZM253.1,403.2L255.4,405.9L258.6,404.1L256.2,401.4ZM357.2,344.5L359.5,347.3L372.1,340.2L369.8,337.4ZM255.4,405.9L257.6,408.8L260.8,407.0L258.6,404.1ZM359.5,347.3L361.8,350.2L374.4,343.1L372.1,340.2ZM257.6,408.8L259.8,411.7L263.0,409.9L260.8,407.0ZM361.8,350.2L364.0,353.1L376.6,346.0L374.4,343.1ZM259.8,411.7L261.9,414.7L265.1,412.9L263.0,409.9ZM364.0,353.1L366.1,356.2L378.7,349.1L376.6,346.0ZM261.9,414.7L263.9,417.8L267.1,416.0L265.1,412.9ZM366.1,356.2L368.1,359.3L380.7,352.2L378.7,349.1ZM263.9,417.8L265.8,421.0L269.0,419.2L267.1,416.0ZM368.1,359.3L370.0,362.5L382.7,355.4L380.7,352.2ZM373.2,360.7L375.0,364.0L384.5,358.7L382.7,355.4ZM264.5,426.0L266.2,429.2L269.4,427.5L267.7,424.2ZM375.0,364.0L376.8,367.3L386.3,362.0L384.5,358.7ZM266.2,429.2L267.9,432.6L271.0,430.8L269.4,427.5ZM379.9,365.5L381.6,368.9L387.9,365.3L386.3,362.0ZM267.9,432.6L269.4,436.0L272.6,434.2L271.0,430.8ZM381.6,368.9L383.1,372.3L389.5,368.7L387.9,365.3ZM269.4,436.0L270.9,439.4L274.0,437.6L272.6,434.2ZM386.3,370.5L387.8,374.0L390.9,372.2L389.5,368.7ZM274.0,437.6L275.3,441.1L278.5,439.3L277.2,435.8ZM387.8,374.0L389.1,377.4L392.2,375.7L390.9,372.2ZM275.3,441.1L276.6,444.5L279.7,442.8L278.5,439.3ZM279.7,442.8L280.8,446.2L284.0,444.5L282.9,441.0ZM280.8,446.2L281.8,449.7L285.0,448.0L284.0,444.5ZM281.8,449.7L282.7,453.2L285.8,451.5L285.0,448.0ZM282.7,453.2L283.4,456.7L286.6,454.9L285.8,451.5ZM283.4,456.7L284.0,460.2L287.2,458.4L286.6,454.9ZM284.0,460.2L284.6,463.6L287.7,461.9L287.2,458.4ZM281.4,465.4L281.8,468.8L284.9,467.1L284.6,463.6ZM281.8,468.8L282.0,472.2L285.2,470.5L284.9,467.1ZM278.9,474.0L279.0,477.3L282.2,475.6L282.0,472.2ZM279.0,477.3L279.0,480.6L282.2,478.9L282.2,475.6ZM279.0,480.6L278.9,483.9L282.1,482.1L282.2,478.9ZM278.9,483.9L278.7,487.0L281.8,485.3L282.1,482.1ZM278.7,487.0L278.3,490.1L281.5,488.4L281.8,485.3ZM278.3,490.1L277.8,493.2L281.0,491.4L281.5,488.4ZM280.4,494.4L279.7,497.2L282.8,495.5L283.6,492.6ZM279.7,497.2L278.8,500.0L282.0,498.2L282.8,495.5ZM278.8,500.0L277.9,502.7L281.0,500.9L282.0,498.2ZM277.9,502.7L276.8,505.2L279.9,503.5L281.0,500.9ZM272.4,509.4L271.1,511.8L274.3,510.0L275.6,507.7ZM271.1,511.8L269.7,514.0L272.9,512.2L274.3,510.0ZM269.7,514.0L268.2,516.1L271.4,514.3L272.9,512.2ZM266.6,518.0L264.9,519.9L268.0,518.1L269.7,516.3ZM264.9,519.9L263.0,521.6L266.2,519.8L268.0,518.1ZM263.0,521.6L261.1,523.1L264.3,521.4L266.2,519.8ZM264.3,521.4L262.3,522.8L265.5,521.0L267.5,519.6ZM262.3,522.8L260.2,524.0L263.4,522.3L265.5,521.0Z" fill="#004fd7" stroke="#004fd7" stroke-width="0.70"/>
<path d="M215.3,361.9L217.5,360.8L220.6,359.0L218.5,360.1ZM262.4,335.1L264.5,334.0L273.9,328.7L271.8,329.8ZM217.5,360.8L219.7,359.8L222.8,358.0L220.6,359.0ZM264.5,334.0L266.8,333.1L276.2,327.7L273.9,328.7ZM219.7,359.8L222.0,359.0L225.2,357.2L222.8,358.0ZM266.8,333.1L269.1,332.2L278.5,326.9L276.2,327.7ZM218.9,360.8L221.2,360.1L224.4,358.3L222.0,359.0ZM269.1,332.2L271.5,331.6L280.9,326.2L278.5,326.9ZM221.2,360.1L223.7,359.6L226.8,357.8L224.4,358.3ZM274.6,329.8L277.0,329.3L286.5,324.0L284.0,324.5ZM220.5,361.4L223.0,361.1L226.2,359.3L223.7,359.6ZM277.0,329.3L279.5,329.0L289.0,323.6L286.5,324.0ZM219.9,362.9L222.4,362.7L225.6,360.9L223.0,361.1ZM279.5,329.0L282.1,328.8L291.5,323.4L289.0,323.6ZM222.4,362.7L225.0,362.7L228.1,360.9L225.6,360.9ZM282.1,328.8L284.7,328.8L294.1,323.4L291.5,323.4ZM221.9,364.5L224.5,364.6L227.6,362.8L225.0,362.7ZM284.7,328.8L287.3,328.9L296.7,323.6L294.1,323.4ZM224.5,364.6L227.1,364.9L230.3,363.1L227.6,362.8ZM287.3,328.9L290.0,329.2L299.4,323.9L296.7,323.6ZM227.1,364.9L229.8,365.4L232.9,363.6L230.3,363.1ZM290.0,329.2L292.7,329.7L302.1,324.3L299.4,323.9ZM226.7,367.1L229.4,367.8L232.5,366.0L229.8,365.4ZM292.7,329.7L295.4,330.3L304.8,325.0L302.1,324.3ZM229.4,367.8L232.1,368.5L235.2,366.7L232.5,366.0ZM295.4,330.3L298.1,331.1L307.6,325.7L304.8,325.0ZM232.1,368.5L234.8,369.5L238.0,367.7L235.2,366.7ZM298.1,331.1L300.9,332.0L310.3,326.7L307.6,325.7ZM300.9,332.0L303.6,333.1L313.1,327.8L310.3,326.7ZM234.4,372.3L237.1,373.5L240.3,371.8L237.6,370.5ZM306.8,331.3L309.5,332.6L315.8,329.0L313.1,327.8ZM234.0,375.3L236.7,376.7L239.9,374.9L237.1,373.5ZM309.5,332.6L312.3,333.9L321.7,328.6L319.0,327.2ZM315.4,332.2L318.2,333.7L327.6,328.3L324.9,326.8ZM236.3,380.0L239.0,381.7L242.2,379.9L239.5,378.2ZM318.2,333.7L320.9,335.4L330.3,330.0L327.6,328.3ZM235.9,383.5L238.5,385.3L241.7,383.5L239.0,381.7ZM324.0,333.6L326.7,335.4L336.2,330.1L333.5,328.2ZM235.4,387.0L238.1,389.0L241.2,387.2L238.5,385.3ZM326.7,335.4L329.4,337.3L338.9,332.0L336.2,330.1ZM238.1,389.0L240.7,391.0L243.8,389.3L241.2,387.2ZM332.6,335.6L335.2,337.6L344.7,332.3L342.0,330.2ZM237.5,392.8L240.1,395.0L243.3,393.2L240.7,391.0ZM335.2,337.6L337.8,339.9L347.3,334.5L344.7,332.3ZM240.1,395.0L242.6,397.3L245.8,395.5L243.3,393.2ZM337.8,339.9L340.4,342.2L349.8,336.8L347.3,334.5ZM245.8,395.5L248.3,398.0L251.4,396.2L248.9,393.8ZM343.5,340.4L346.0,342.9L355.5,337.5L353.0,335.1ZM248.3,398.0L250.7,400.5L253.9,398.7L251.4,396.2ZM346.0,342.9L348.5,345.4L357.9,340.1L355.5,337.5ZM250.7,400.5L253.1,403.2L256.2,401.4L253.9,398.7ZM348.5,345.4L350.9,348.1L360.3,342.8L357.9,340.1ZM256.2,401.4L258.6,404.1L261.7,402.4L259.4,399.6ZM347.7,349.9L350.0,352.6L359.5,347.3L357.2,344.5ZM258.6,404.1L260.8,407.0L264.0,405.2L261.7,402.4ZM350.0,352.6L352.3,355.5L361.8,350.2L359.5,347.3ZM260.8,407.0L263.0,409.9L266.1,408.1L264.0,405.2ZM352.3,355.5L354.5,358.5L364.0,353.1L361.8,350.2ZM263.0,409.9L265.1,412.9L268.2,411.2L266.1,408.1ZM354.5,358.5L356.6,361.5L366.1,356.2L364.0,353.1ZM265.1,412.9L267.1,416.0L270.2,414.2L268.2,411.2ZM356.6,361.5L358.6,364.6L368.1,359.3L366.1,356.2ZM267.1,416.0L269.0,419.2L272.2,417.4L270.2,414.2ZM358.6,364.6L360.6,367.8L370.0,362.5L368.1,359.3ZM265.8,421.0L267.7,424.2L270.8,422.4L269.0,419.2ZM363.7,366.0L365.6,369.3L375.0,364.0L373.2,360.7ZM267.7,424.2L269.4,427.5L272.6,425.7L270.8,422.4ZM365.6,369.3L367.3,372.6L376.8,367.3L375.0,364.0ZM269.4,427.5L271.0,430.8L274.2,429.0L272.6,425.7ZM370.5,370.8L372.1,374.2L381.6,368.9L379.9,365.5ZM271.0,430.8L272.6,434.2L275.7,432.4L274.2,429.0ZM372.1,374.2L373.7,377.6L383.1,372.3L381.6,368.9ZM272.6,434.2L274.0,437.6L277.2,435.8L275.7,432.4ZM376.8,375.8L378.3,379.3L387.8,374.0L386.3,370.5ZM277.2,435.8L278.5,439.3L281.7,437.5L280.3,434.1ZM378.3,379.3L379.6,382.7L389.1,377.4L387.8,374.0ZM278.5,439.3L279.7,442.8L282.9,441.0L281.7,437.5ZM382.8,381.0L384.0,384.5L393.5,379.2L392.2,375.7ZM387.2,382.7L388.3,386.2L394.6,382.7L393.5,379.2ZM284.0,444.5L285.0,448.0L288.1,446.2L287.1,442.7ZM388.3,386.2L389.3,389.7L395.6,386.2L394.6,382.7ZM285.0,448.0L285.8,451.5L289.0,449.7L288.1,446.2ZM389.3,389.7L390.1,393.3L396.5,389.7L395.6,386.2ZM285.8,451.5L286.6,454.9L289.7,453.2L289.0,449.7ZM390.1,393.3L390.9,396.8L397.2,393.3L396.5,389.7ZM286.6,454.9L287.2,458.4L290.4,456.7L289.7,453.2ZM394.1,395.0L394.7,398.5L397.9,396.8L397.2,393.3ZM391.5,400.3L392.0,403.8L398.4,400.3L397.9,396.8ZM284.6,463.6L284.9,467.1L288.1,465.3L287.7,461.9ZM392.0,403.8L392.4,407.2L398.8,403.7L398.4,400.3ZM392.4,407.2L392.7,410.6L399.0,407.1L398.8,403.7ZM282.0,472.2L282.2,475.6L285.3,473.8L285.2,470.5ZM392.7,410.6L392.8,414.0L399.2,410.5L399.0,407.1ZM282.2,475.6L282.2,478.9L285.4,477.1L285.3,473.8ZM392.8,414.0L392.8,417.4L399.2,413.8L399.2,410.5ZM392.8,417.4L392.7,420.6L399.1,417.1L399.2,413.8ZM392.7,420.6L392.5,423.8L398.8,420.3L399.1,417.1ZM281.8,485.3L281.5,488.4L284.6,486.6L285.0,483.5ZM392.5,423.8L392.1,427.0L398.5,423.5L398.8,420.3ZM281.5,488.4L281.0,491.4L284.2,489.7L284.6,486.6ZM392.1,427.0L391.6,430.0L398.0,426.5L398.5,423.5ZM281.0,491.4L280.4,494.4L283.6,492.6L284.2,489.7ZM391.6,430.0L391.0,433.0L397.4,429.5L398.0,426.5ZM394.2,431.3L393.5,434.1L396.6,432.4L397.4,429.5ZM282.8,495.5L282.0,498.2L285.1,496.5L286.0,493.7ZM393.5,434.1L392.6,436.9L395.8,435.2L396.6,432.4ZM282.0,498.2L281.0,500.9L284.2,499.2L285.1,496.5ZM392.6,436.9L391.6,439.6L394.8,437.9L395.8,435.2ZM276.8,505.2L275.6,507.7L278.7,505.9L279.9,503.5ZM275.6,507.7L274.3,510.0L277.4,508.3L278.7,505.9ZM274.3,510.0L272.9,512.2L276.0,510.5L277.4,508.3ZM268.2,516.1L266.6,518.0L269.7,516.3L271.4,514.3ZM383.4,453.4L381.7,455.2L384.9,453.5L386.6,451.6ZM381.7,455.2L379.9,456.9L383.0,455.2L384.9,453.5ZM266.2,519.8L264.3,521.4L267.5,519.6L269.4,518.1ZM379.9,456.9L378.0,458.5L381.1,456.8L383.0,455.2ZM378.0,458.5L375.9,459.9L379.1,458.2L381.1,456.8ZM265.5,521.0L263.4,522.3L266.5,520.5L268.6,519.3ZM375.9,459.9L373.8,461.2L377.0,459.5L379.1,458.2Z" fill="#009ed7" stroke="#009ed7" stroke-width="0.70"/>
<path d="M218.5,360.1L220.6,359.0L264.5,334.0L262.4,335.1ZM220.6,359.0L222.8,358.0L266.8,333.1L264.5,334.0ZM222.8,358.0L225.2,357.2L269.1,332.2L266.8,333.1ZM222.0,359.0L224.4,358.3L271.5,331.6L269.1,332.2ZM224.4,358.3L226.8,357.8L277.0,329.3L274.6,329.8ZM223.7,359.6L226.2,359.3L232.4,355.7L230.0,356.1ZM261.3,338.2L263.8,337.9L279.5,329.0L277.0,329.3ZM223.0,361.1L225.6,360.9L231.8,357.3L229.3,357.5ZM263.8,337.9L266.4,337.7L282.1,328.8L279.5,329.0ZM225.6,360.9L228.1,360.9L231.3,359.1L228.7,359.1ZM269.5,335.9L272.1,335.9L284.7,328.8L282.1,328.8ZM225.0,362.7L227.6,362.8L230.8,361.0L228.1,360.9ZM272.1,335.9L274.7,336.1L287.3,328.9L284.7,328.8ZM227.6,362.8L230.3,363.1L233.4,361.3L230.8,361.0ZM274.7,336.1L277.4,336.4L290.0,329.2L287.3,328.9ZM230.3,363.1L232.9,363.6L236.1,361.8L233.4,361.3ZM280.5,334.6L283.2,335.0L292.7,329.7L290.0,329.2ZM229.8,365.4L232.5,366.0L235.6,364.2L232.9,363.6ZM283.2,335.0L286.0,335.7L295.4,330.3L292.7,329.7ZM232.5,366.0L235.2,366.7L238.4,365.0L235.6,364.2ZM286.0,335.7L288.7,336.4L298.1,331.1L295.4,330.3ZM235.2,366.7L238.0,367.7L241.1,365.9L238.4,365.0ZM288.7,336.4L291.4,337.4L300.9,332.0L298.1,331.1ZM234.8,369.5L237.6,370.5L240.7,368.8L238.0,367.7ZM291.4,337.4L294.2,338.4L303.6,333.1L300.9,332.0ZM237.6,370.5L240.3,371.8L243.4,370.0L240.7,368.8ZM297.3,336.7L300.1,337.9L309.5,332.6L306.8,331.3ZM237.1,373.5L239.9,374.9L243.0,373.1L240.3,371.8ZM300.1,337.9L302.8,339.3L312.3,333.9L309.5,332.6ZM236.7,376.7L239.5,378.2L242.6,376.4L239.9,374.9ZM306.0,337.5L308.7,339.0L318.2,333.7L315.4,332.2ZM311.9,337.3L314.6,338.9L320.9,335.4L318.2,333.7ZM239.0,381.7L241.7,383.5L244.8,381.7L242.2,379.9ZM314.6,338.9L317.3,340.7L326.7,335.4L324.0,333.6ZM238.5,385.3L241.2,387.2L244.4,385.4L241.7,383.5ZM320.4,339.0L323.1,340.9L329.4,337.3L326.7,335.4ZM323.1,340.9L325.7,343.0L335.2,337.6L332.6,335.6ZM240.7,391.0L243.3,393.2L246.4,391.4L243.8,389.3ZM325.7,343.0L328.3,345.2L337.8,339.9L335.2,337.6ZM243.3,393.2L245.8,395.5L248.9,393.8L246.4,391.4ZM331.5,343.4L334.1,345.7L340.4,342.2L337.8,339.9ZM334.1,345.7L336.6,348.2L346.0,342.9L343.5,340.4ZM251.4,396.2L253.9,398.7L257.0,397.0L254.6,394.4ZM336.6,348.2L339.0,350.7L348.5,345.4L346.0,342.9ZM253.9,398.7L256.2,401.4L259.4,399.6L257.0,397.0ZM339.0,350.7L341.4,353.4L350.9,348.1L348.5,345.4ZM259.4,399.6L261.7,402.4L264.9,400.6L262.6,397.8ZM341.4,353.4L343.7,356.2L350.0,352.6L347.7,349.9ZM261.7,402.4L264.0,405.2L267.1,403.4L264.9,400.6ZM343.7,356.2L346.0,359.0L352.3,355.5L350.0,352.6ZM264.0,405.2L266.1,408.1L269.3,406.4L267.1,403.4ZM346.0,359.0L348.2,362.0L354.5,358.5L352.3,355.5ZM266.1,408.1L268.2,411.2L271.4,409.4L269.3,406.4ZM348.2,362.0L350.3,365.0L356.6,361.5L354.5,358.5ZM268.2,411.2L270.2,414.2L273.4,412.5L271.4,409.4ZM350.3,365.0L352.3,368.2L358.6,364.6L356.6,361.5ZM352.3,368.2L354.2,371.3L360.6,367.8L358.6,364.6ZM269.0,419.2L270.8,422.4L274.0,420.6L272.2,417.4ZM354.2,371.3L356.1,374.6L365.6,369.3L363.7,366.0ZM270.8,422.4L272.6,425.7L275.7,423.9L274.0,420.6ZM356.1,374.6L357.8,377.9L367.3,372.6L365.6,369.3ZM272.6,425.7L274.2,429.0L277.4,427.3L275.7,423.9ZM361.0,376.1L362.6,379.5L372.1,374.2L370.5,370.8ZM274.2,429.0L275.7,432.4L278.9,430.7L277.4,427.3ZM365.8,377.7L367.4,381.1L373.7,377.6L372.1,374.2ZM275.7,432.4L277.2,435.8L280.3,434.1L278.9,430.7ZM367.4,381.1L368.8,384.6L378.3,379.3L376.8,375.8ZM372.0,382.8L373.3,386.3L379.6,382.7L378.3,379.3ZM281.7,437.5L282.9,441.0L286.0,439.2L284.8,435.8ZM373.3,386.3L374.5,389.8L384.0,384.5L382.8,381.0ZM282.9,441.0L284.0,444.5L287.1,442.7L286.0,439.2ZM377.7,388.0L378.8,391.5L388.3,386.2L387.2,382.7ZM378.8,391.5L379.8,395.0L389.3,389.7L388.3,386.2ZM382.9,393.3L383.8,396.8L390.1,393.3L389.3,389.7ZM383.8,396.8L384.6,400.3L390.9,396.8L390.1,393.3ZM384.6,400.3L385.2,403.8L394.7,398.5L394.1,395.0ZM287.2,458.4L287.7,461.9L290.9,460.1L290.4,456.7ZM385.2,403.8L385.7,407.3L392.0,403.8L391.5,400.3ZM385.7,407.3L386.1,410.7L392.4,407.2L392.0,403.8ZM284.9,467.1L285.2,470.5L288.4,468.7L288.1,465.3ZM382.9,412.5L383.2,415.9L392.7,410.6L392.4,407.2ZM285.2,470.5L285.3,473.8L288.5,472.0L288.4,468.7ZM383.2,415.9L383.3,419.3L392.8,414.0L392.7,410.6ZM383.3,419.3L383.4,422.6L392.8,417.4L392.8,414.0ZM282.2,478.9L282.1,482.1L285.2,480.3L285.4,477.1ZM383.4,422.6L383.2,425.9L392.7,420.6L392.8,417.4ZM282.1,482.1L281.8,485.3L285.0,483.5L285.2,480.3ZM383.2,425.9L383.0,429.1L392.5,423.8L392.7,420.6ZM383.0,429.1L382.6,432.2L392.1,427.0L392.5,423.8ZM284.6,486.6L284.2,489.7L287.3,487.9L287.8,484.9ZM382.6,432.2L382.2,435.3L391.6,430.0L392.1,427.0ZM284.2,489.7L283.6,492.6L286.7,490.9L287.3,487.9ZM385.3,433.5L384.7,436.5L391.0,433.0L391.6,430.0ZM283.6,492.6L282.8,495.5L286.0,493.7L286.7,490.9ZM384.7,436.5L384.0,439.4L393.5,434.1L394.2,431.3ZM384.0,439.4L383.1,442.2L392.6,436.9L393.5,434.1ZM386.3,440.4L385.3,443.1L391.6,439.6L392.6,436.9ZM281.0,500.9L279.9,503.5L283.1,501.7L284.2,499.2ZM385.3,443.1L384.2,445.7L393.7,440.5L394.8,437.9ZM279.9,503.5L278.7,505.9L281.9,504.2L283.1,501.7ZM384.2,445.7L383.0,448.2L392.5,442.9L393.7,440.5ZM278.7,505.9L277.4,508.3L280.6,506.5L281.9,504.2ZM383.0,448.2L381.7,450.6L391.2,445.3L392.5,442.9ZM381.7,450.6L380.3,452.8L389.8,447.5L391.2,445.3ZM272.9,512.2L271.4,514.3L274.5,512.6L276.0,510.5ZM383.4,451.0L381.9,453.2L388.2,449.7L389.8,447.5ZM271.4,514.3L269.7,516.3L272.9,514.6L274.5,512.6ZM381.9,453.2L380.3,455.1L386.6,451.6L388.2,449.7ZM269.7,516.3L268.0,518.1L271.2,516.4L272.9,514.6ZM380.3,455.1L378.5,457.0L381.7,455.2L383.4,453.4ZM268.0,518.1L266.2,519.8L269.4,518.1L271.2,516.4ZM378.5,457.0L376.7,458.7L379.9,456.9L381.7,455.2ZM269.4,518.1L267.5,519.6L270.6,517.9L272.5,516.3ZM376.7,458.7L374.8,460.3L378.0,458.5L379.9,456.9ZM267.5,519.6L265.5,521.0L268.6,519.3L270.6,517.9ZM371.6,462.0L369.6,463.4L375.9,459.9L378.0,458.5ZM268.6,519.3L266.5,520.5L269.7,518.8L271.8,517.5ZM369.6,463.4L367.5,464.7L373.8,461.2L375.9,459.9Z" fill="#00d3ca" stroke="#00d3ca" stroke-width="0.70"/>
<path d="M230.0,356.1L232.4,355.7L263.8,337.9L261.3,338.2ZM229.3,357.5L231.8,357.3L266.4,337.7L263.8,337.9ZM228.7,359.1L231.3,359.1L272.1,335.9L269.5,335.9ZM228.1,360.9L230.8,361.0L274.7,336.1L272.1,335.9ZM230.8,361.0L233.4,361.3L277.4,336.4L274.7,336.1ZM233.4,361.3L236.1,361.8L283.2,335.0L280.5,334.6ZM232.9,363.6L235.6,364.2L286.0,335.7L283.2,335.0ZM235.6,364.2L238.4,365.0L288.7,336.4L286.0,335.7ZM238.4,365.0L241.1,365.9L291.4,337.4L288.7,336.4ZM238.0,367.7L240.7,368.8L294.2,338.4L291.4,337.4ZM240.7,368.8L243.4,370.0L246.6,368.2L243.8,367.0ZM284.7,343.8L287.5,345.0L300.1,337.9L297.3,336.7ZM240.3,371.8L243.0,373.1L246.2,371.4L243.4,370.0ZM290.6,343.2L293.4,344.6L302.8,339.3L300.1,337.9ZM239.9,374.9L242.6,376.4L245.8,374.7L243.0,373.1ZM296.5,342.9L299.3,344.4L308.7,339.0L306.0,337.5ZM239.5,378.2L242.2,379.9L248.5,376.3L245.8,374.7ZM299.3,344.4L302.0,346.1L314.6,338.9L311.9,337.3ZM242.2,379.9L244.8,381.7L248.0,379.9L245.3,378.1ZM305.1,344.3L307.8,346.1L317.3,340.7L314.6,338.9ZM241.7,383.5L244.4,385.4L247.5,383.6L244.8,381.7ZM311.0,344.3L313.7,346.2L323.1,340.9L320.4,339.0ZM241.2,387.2L243.8,389.3L250.1,385.7L247.5,383.6ZM313.7,346.2L316.3,348.3L325.7,343.0L323.1,340.9ZM243.8,389.3L246.4,391.4L249.6,389.7L247.0,387.5ZM316.3,348.3L318.9,350.5L328.3,345.2L325.7,343.0ZM246.4,391.4L248.9,393.8L252.1,392.0L249.6,389.7ZM322.0,348.8L324.6,351.1L334.1,345.7L331.5,343.4ZM248.9,393.8L251.4,396.2L257.7,392.6L255.2,390.2ZM324.6,351.1L327.1,353.5L336.6,348.2L334.1,345.7ZM254.6,394.4L257.0,397.0L260.2,395.2L257.7,392.6ZM327.1,353.5L329.6,356.1L339.0,350.7L336.6,348.2ZM257.0,397.0L259.4,399.6L262.6,397.8L260.2,395.2ZM329.6,356.1L331.9,358.7L341.4,353.4L339.0,350.7ZM262.6,397.8L264.9,400.6L268.0,398.8L265.7,396.1ZM331.9,358.7L334.3,361.5L343.7,356.2L341.4,353.4ZM264.9,400.6L267.1,403.4L270.3,401.7L268.0,398.8ZM334.3,361.5L336.5,364.4L346.0,359.0L343.7,356.2ZM267.1,403.4L269.3,406.4L272.4,404.6L270.3,401.7ZM333.4,366.1L335.6,369.1L348.2,362.0L346.0,359.0ZM269.3,406.4L271.4,409.4L274.5,407.6L272.4,404.6ZM335.6,369.1L337.7,372.1L350.3,365.0L348.2,362.0ZM271.4,409.4L273.4,412.5L276.5,410.7L274.5,407.6ZM337.7,372.1L339.7,375.2L352.3,368.2L350.3,365.0ZM270.2,414.2L272.2,417.4L278.5,413.9L276.5,410.7ZM342.8,373.5L344.8,376.7L354.2,371.3L352.3,368.2ZM272.2,417.4L274.0,420.6L277.1,418.9L275.3,415.6ZM344.8,376.7L346.6,379.9L356.1,374.6L354.2,371.3ZM274.0,420.6L275.7,423.9L278.9,422.2L277.1,418.9ZM346.6,379.9L348.4,383.2L357.8,377.9L356.1,374.6ZM275.7,423.9L277.4,427.3L280.5,425.5L278.9,422.2ZM351.5,381.4L353.2,384.8L362.6,379.5L361.0,376.1ZM277.4,427.3L278.9,430.7L282.1,428.9L280.5,425.5ZM353.2,384.8L354.7,388.2L367.4,381.1L365.8,377.7ZM278.9,430.7L280.3,434.1L283.5,432.3L282.1,428.9ZM357.9,386.4L359.3,389.9L368.8,384.6L367.4,381.1ZM280.3,434.1L281.7,437.5L288.0,434.0L286.7,430.5ZM362.5,388.1L363.8,391.6L373.3,386.3L372.0,382.8ZM284.8,435.8L286.0,439.2L289.2,437.5L288.0,434.0ZM363.8,391.6L365.0,395.1L374.5,389.8L373.3,386.3ZM286.0,439.2L287.1,442.7L290.3,440.9L289.2,437.5ZM368.2,393.3L369.3,396.8L378.8,391.5L377.7,388.0ZM287.1,442.7L288.1,446.2L291.3,444.4L290.3,440.9ZM372.5,395.1L373.5,398.6L379.8,395.0L378.8,391.5ZM288.1,446.2L289.0,449.7L292.2,447.9L291.3,444.4ZM373.5,398.6L374.3,402.1L383.8,396.8L382.9,393.3ZM289.0,449.7L289.7,453.2L292.9,451.4L292.2,447.9ZM374.3,402.1L375.1,405.6L384.6,400.3L383.8,396.8ZM289.7,453.2L290.4,456.7L293.5,454.9L292.9,451.4ZM375.1,405.6L375.7,409.1L385.2,403.8L384.6,400.3ZM375.7,409.1L376.2,412.6L385.7,407.3L385.2,403.8ZM287.7,461.9L288.1,465.3L291.3,463.5L290.9,460.1ZM376.2,412.6L376.6,416.0L386.1,410.7L385.7,407.3ZM288.1,465.3L288.4,468.7L291.5,466.9L291.3,463.5ZM376.6,416.0L376.9,419.4L383.2,415.9L382.9,412.5ZM376.9,419.4L377.0,422.8L383.3,419.3L383.2,415.9ZM285.3,473.8L285.4,477.1L288.5,475.3L288.5,472.0ZM377.0,422.8L377.0,426.1L383.4,422.6L383.3,419.3ZM285.4,477.1L285.2,480.3L288.4,478.6L288.5,475.3ZM377.0,426.1L376.9,429.4L383.2,425.9L383.4,422.6ZM285.2,480.3L285.0,483.5L288.2,481.8L288.4,478.6ZM376.9,429.4L376.7,432.6L383.0,429.1L383.2,425.9ZM285.0,483.5L284.6,486.6L287.8,484.9L288.2,481.8ZM376.7,432.6L376.3,435.7L382.6,432.2L383.0,429.1ZM379.5,434.0L379.0,437.0L382.2,435.3L382.6,432.2ZM287.3,487.9L286.7,490.9L289.9,489.1L290.5,486.2ZM379.0,437.0L378.4,440.0L384.7,436.5L385.3,433.5ZM286.7,490.9L286.0,493.7L289.1,492.0L289.9,489.1ZM378.4,440.0L377.7,442.9L384.0,439.4L384.7,436.5ZM286.0,493.7L285.1,496.5L288.3,494.7L289.1,492.0ZM380.8,441.2L380.0,443.9L383.1,442.2L384.0,439.4ZM285.1,496.5L284.2,499.2L287.3,497.4L288.3,494.7ZM380.0,443.9L379.0,446.6L385.3,443.1L386.3,440.4ZM284.2,499.2L283.1,501.7L286.3,500.0L287.3,497.4ZM379.0,446.6L377.9,449.2L384.2,445.7L385.3,443.1ZM283.1,501.7L281.9,504.2L285.1,502.4L286.3,500.0ZM381.1,447.5L379.9,449.9L383.0,448.2L384.2,445.7ZM379.9,449.9L378.5,452.3L381.7,450.6L383.0,448.2ZM277.4,508.3L276.0,510.5L279.2,508.7L280.6,506.5ZM378.5,452.3L377.1,454.5L380.3,452.8L381.7,450.6ZM276.0,510.5L274.5,512.6L277.7,510.8L279.2,508.7ZM377.1,454.5L375.6,456.6L381.9,453.2L383.4,451.0ZM274.5,512.6L272.9,514.6L276.1,512.8L277.7,510.8ZM375.6,456.6L374.0,458.6L380.3,455.1L381.9,453.2ZM272.9,514.6L271.2,516.4L274.3,514.6L276.1,512.8ZM374.0,458.6L372.2,460.5L378.5,457.0L380.3,455.1ZM271.2,516.4L269.4,518.1L272.5,516.3L274.3,514.6ZM372.2,460.5L370.4,462.2L376.7,458.7L378.5,457.0ZM370.4,462.2L368.5,463.7L374.8,460.3L376.7,458.7ZM270.6,517.9L268.6,519.3L271.8,517.5L273.8,516.1ZM368.5,463.7L366.5,465.2L369.6,463.4L371.6,462.0ZM366.5,465.2L364.4,466.4L367.5,464.7L369.6,463.4Z" fill="#00cc7b" stroke="#00cc7b" stroke-width="0.70"/>
<path d="M243.8,367.0L246.6,368.2L287.5,345.0L284.7,343.8ZM243.4,370.0L246.2,371.4L293.4,344.6L290.6,343.2ZM243.0,373.1L245.8,374.7L299.3,344.4L296.5,342.9ZM245.8,374.7L248.5,376.3L302.0,346.1L299.3,344.4ZM245.3,378.1L248.0,379.9L307.8,346.1L305.1,344.3ZM244.8,381.7L247.5,383.6L313.7,346.2L311.0,344.3ZM247.5,383.6L250.1,385.7L316.3,348.3L313.7,346.2ZM247.0,387.5L249.6,389.7L318.9,350.5L316.3,348.3ZM249.6,389.7L252.1,392.0L324.6,351.1L322.0,348.8ZM255.2,390.2L257.7,392.6L327.1,353.5L324.6,351.1ZM257.7,392.6L260.2,395.2L329.6,356.1L327.1,353.5ZM260.2,395.2L262.6,397.8L331.9,358.7L329.6,356.1ZM265.7,396.1L268.0,398.8L334.3,361.5L331.9,358.7ZM268.0,398.8L270.3,401.7L336.5,364.4L334.3,361.5ZM270.3,401.7L272.4,404.6L335.6,369.1L333.4,366.1ZM272.4,404.6L274.5,407.6L337.7,372.1L335.6,369.1ZM274.5,407.6L276.5,410.7L339.7,375.2L337.7,372.1ZM276.5,410.7L278.5,413.9L344.8,376.7L342.8,373.5ZM275.3,415.6L277.1,418.9L346.6,379.9L344.8,376.7ZM277.1,418.9L278.9,422.2L348.4,383.2L346.6,379.9ZM278.9,422.2L280.5,425.5L353.2,384.8L351.5,381.4ZM280.5,425.5L282.1,428.9L307.3,414.7L305.8,411.3ZM318.4,404.3L320.0,407.7L354.7,388.2L353.2,384.8ZM282.1,428.9L283.5,432.3L299.3,423.5L297.9,420.0ZM332.6,400.6L334.0,404.0L359.3,389.9L357.9,386.4ZM286.7,430.5L288.0,434.0L297.5,428.7L296.1,425.2ZM337.2,402.2L338.5,405.7L363.8,391.6L362.5,388.1ZM288.0,434.0L289.2,437.5L292.4,435.7L291.1,432.2ZM344.9,402.2L346.1,405.7L365.0,395.1L363.8,391.6ZM289.2,437.5L290.3,440.9L293.5,439.2L292.4,435.7ZM349.2,403.9L350.3,407.4L369.3,396.8L368.2,393.3ZM290.3,440.9L291.3,444.4L294.4,442.7L293.5,439.2ZM353.5,405.6L354.5,409.2L373.5,398.6L372.5,395.1ZM291.3,444.4L292.2,447.9L295.3,446.2L294.4,442.7ZM357.7,407.4L358.5,410.9L374.3,402.1L373.5,398.6ZM292.2,447.9L292.9,451.4L296.1,449.7L295.3,446.2ZM361.7,409.1L362.4,412.7L375.1,405.6L374.3,402.1ZM362.4,412.7L363.1,416.1L375.7,409.1L375.1,405.6ZM290.4,456.7L290.9,460.1L294.0,458.4L293.5,454.9ZM366.2,414.4L366.8,417.9L376.2,412.6L375.7,409.1ZM290.9,460.1L291.3,463.5L294.4,461.8L294.0,458.4ZM369.9,416.1L370.3,419.5L376.6,416.0L376.2,412.6ZM370.3,419.5L370.6,423.0L376.9,419.4L376.6,416.0ZM288.4,468.7L288.5,472.0L291.7,470.3L291.5,466.9ZM370.6,423.0L370.7,426.3L377.0,422.8L376.9,419.4ZM288.5,472.0L288.5,475.3L291.7,473.6L291.7,470.3ZM373.9,424.6L373.9,427.9L377.0,426.1L377.0,422.8ZM288.5,475.3L288.4,478.6L291.6,476.8L291.7,473.6ZM373.9,427.9L373.8,431.2L376.9,429.4L377.0,426.1ZM288.4,478.6L288.2,481.8L291.3,480.0L291.6,476.8ZM373.8,431.2L373.5,434.4L376.7,432.6L376.9,429.4ZM288.2,481.8L287.8,484.9L291.0,483.1L291.3,480.0ZM373.5,434.4L373.2,437.5L376.3,435.7L376.7,432.6ZM287.8,484.9L287.3,487.9L290.5,486.2L291.0,483.1ZM376.3,435.7L375.8,438.8L379.0,437.0L379.5,434.0ZM290.5,486.2L289.9,489.1L293.0,487.4L293.6,484.4ZM375.8,438.8L375.2,441.8L378.4,440.0L379.0,437.0ZM289.9,489.1L289.1,492.0L292.3,490.2L293.0,487.4ZM375.2,441.8L374.5,444.7L377.7,442.9L378.4,440.0ZM289.1,492.0L288.3,494.7L291.5,493.0L292.3,490.2ZM374.5,444.7L373.6,447.4L380.0,443.9L380.8,441.2ZM288.3,494.7L287.3,497.4L290.5,495.7L291.5,493.0ZM376.8,445.7L375.8,448.4L379.0,446.6L380.0,443.9ZM287.3,497.4L286.3,500.0L289.4,498.2L290.5,495.7ZM375.8,448.4L374.7,451.0L377.9,449.2L379.0,446.6ZM286.3,500.0L285.1,502.4L288.2,500.7L289.4,498.2ZM374.7,451.0L373.5,453.4L379.9,449.9L381.1,447.5ZM281.9,504.2L280.6,506.5L286.9,503.0L288.2,500.7ZM376.7,451.7L375.4,454.1L378.5,452.3L379.9,449.9ZM280.6,506.5L279.2,508.7L282.3,507.0L283.8,504.8ZM375.4,454.1L374.0,456.3L377.1,454.5L378.5,452.3ZM279.2,508.7L277.7,510.8L280.8,509.1L282.3,507.0ZM374.0,456.3L372.4,458.4L375.6,456.6L377.1,454.5ZM277.7,510.8L276.1,512.8L279.2,511.1L280.8,509.1ZM372.4,458.4L370.8,460.4L374.0,458.6L375.6,456.6ZM276.1,512.8L274.3,514.6L277.5,512.9L279.2,511.1ZM370.8,460.4L369.1,462.2L372.2,460.5L374.0,458.6ZM274.3,514.6L272.5,516.3L275.7,514.6L277.5,512.9ZM369.1,462.2L367.2,463.9L370.4,462.2L372.2,460.5ZM272.5,516.3L270.6,517.9L276.9,514.4L278.8,512.8ZM367.2,463.9L365.3,465.5L368.5,463.7L370.4,462.2ZM273.8,516.1L271.8,517.5L274.9,515.8L276.9,514.4ZM365.3,465.5L363.3,466.9L366.5,465.2L368.5,463.7ZM271.8,517.5L269.7,518.8L276.0,515.3L278.1,514.1ZM363.3,466.9L361.2,468.2L364.4,466.4L366.5,465.2Z" fill="#00ca28" stroke="#00ca28" stroke-width="0.70"/>
<path d="M305.8,411.3L307.3,414.7L320.0,407.7L318.4,404.3ZM297.9,420.0L299.3,423.5L334.0,404.0L332.6,400.6ZM296.1,425.2L297.5,428.7L310.1,421.6L308.8,418.2ZM324.6,409.3L325.9,412.8L338.5,405.7L337.2,402.2ZM291.1,432.2L292.4,435.7L305.0,428.6L303.8,425.1ZM332.2,409.2L333.4,412.7L346.1,405.7L344.9,402.2ZM292.4,435.7L293.5,439.2L299.8,435.6L298.7,432.2ZM339.8,409.2L340.9,412.7L350.3,407.4L349.2,403.9ZM293.5,439.2L294.4,442.7L297.6,440.9L296.6,437.4ZM344.0,410.9L345.0,414.4L354.5,409.2L353.5,405.6ZM294.4,442.7L295.3,446.2L298.5,444.4L297.6,440.9ZM351.3,410.9L352.2,414.4L358.5,410.9L357.7,407.4ZM355.4,412.7L356.1,416.2L362.4,412.7L361.7,409.1ZM292.9,451.4L293.5,454.9L296.7,453.1L296.1,449.7ZM356.1,416.2L356.8,419.7L363.1,416.1L362.4,412.7ZM293.5,454.9L294.0,458.4L297.2,456.6L296.7,453.1ZM359.9,417.9L360.4,421.4L366.8,417.9L366.2,414.4ZM294.0,458.4L294.4,461.8L297.6,460.0L297.2,456.6ZM363.6,419.6L364.0,423.1L370.3,419.5L369.9,416.1ZM291.3,463.5L291.5,466.9L294.7,465.2L294.4,461.8ZM364.0,423.1L364.2,426.5L370.6,423.0L370.3,419.5ZM291.5,466.9L291.7,470.3L294.8,468.5L294.7,465.2ZM367.4,424.7L367.5,428.1L370.7,426.3L370.6,423.0ZM291.7,470.3L291.7,473.6L294.8,471.8L294.8,468.5ZM367.5,428.1L367.6,431.4L373.9,427.9L373.9,424.6ZM291.7,473.6L291.6,476.8L294.7,475.1L294.8,471.8ZM370.7,429.7L370.6,432.9L373.8,431.2L373.9,427.9ZM291.6,476.8L291.3,480.0L294.5,478.3L294.7,475.1ZM370.6,432.9L370.4,436.1L373.5,434.4L373.8,431.2ZM291.3,480.0L291.0,483.1L297.3,479.6L297.6,476.5ZM370.4,436.1L370.0,439.2L373.2,437.5L373.5,434.4ZM291.0,483.1L290.5,486.2L296.8,482.6L297.3,479.6ZM373.2,437.5L372.7,440.6L375.8,438.8L376.3,435.7ZM293.6,484.4L293.0,487.4L296.2,485.6L296.8,482.6ZM372.7,440.6L372.1,443.5L375.2,441.8L375.8,438.8ZM293.0,487.4L292.3,490.2L298.6,486.7L299.4,483.8ZM372.1,443.5L371.3,446.4L374.5,444.7L375.2,441.8ZM292.3,490.2L291.5,493.0L297.8,489.5L298.6,486.7ZM371.3,446.4L370.5,449.2L373.6,447.4L374.5,444.7ZM291.5,493.0L290.5,495.7L300.0,490.4L300.9,487.7ZM373.6,447.4L372.7,450.1L375.8,448.4L376.8,445.7ZM290.5,495.7L289.4,498.2L298.9,493.0L300.0,490.4ZM372.7,450.1L371.6,452.7L374.7,451.0L375.8,448.4ZM289.4,498.2L288.2,500.7L300.9,493.7L302.1,491.2ZM371.6,452.7L370.4,455.2L373.5,453.4L374.7,451.0ZM288.2,500.7L286.9,503.0L302.7,494.3L304.0,491.9ZM370.4,455.2L369.1,457.6L375.4,454.1L376.7,451.7ZM283.8,504.8L282.3,507.0L301.3,496.5L302.7,494.3ZM372.2,455.8L370.8,458.0L374.0,456.3L375.4,454.1ZM282.3,507.0L280.8,509.1L302.9,496.9L304.5,494.8ZM370.8,458.0L369.3,460.1L372.4,458.4L374.0,456.3ZM280.8,509.1L279.2,511.1L304.5,497.1L306.1,495.1ZM369.3,460.1L367.6,462.1L370.8,460.4L372.4,458.4ZM279.2,511.1L277.5,512.9L302.8,498.9L304.5,497.1ZM367.6,462.1L365.9,464.0L369.1,462.2L370.8,460.4ZM277.5,512.9L275.7,514.6L304.1,498.9L305.9,497.2ZM365.9,464.0L364.1,465.7L367.2,463.9L369.1,462.2ZM278.8,512.8L276.9,514.4L305.3,498.7L307.3,497.1ZM364.1,465.7L362.2,467.2L365.3,465.5L367.2,463.9ZM276.9,514.4L274.9,515.8L303.3,500.1L305.3,498.7ZM362.2,467.2L360.2,468.7L363.3,466.9L365.3,465.5ZM278.1,514.1L276.0,515.3L304.4,499.6L306.5,498.3ZM360.2,468.7L358.1,469.9L361.2,468.2L363.3,466.9Z" fill="#28cc00" stroke="#28cc00" stroke-width="0.70"/>
<path d="M308.8,418.2L310.1,421.6L325.9,412.8L324.6,409.3ZM303.8,425.1L305.0,428.6L333.4,412.7L332.2,409.2ZM298.7,432.2L299.8,435.6L309.3,430.4L308.2,426.9ZM330.3,414.5L331.4,418.0L340.9,412.7L339.8,409.2ZM296.6,437.4L297.6,440.9L303.9,437.4L302.9,433.9ZM337.7,414.5L338.7,418.0L345.0,414.4L344.0,410.9ZM297.6,440.9L298.5,444.4L304.8,440.9L303.9,437.4ZM345.0,414.4L345.9,418.0L352.2,414.4L351.3,410.9ZM295.3,446.2L296.1,449.7L302.4,446.1L301.6,442.6ZM349.0,416.2L349.8,419.7L356.1,416.2L355.4,412.7ZM296.1,449.7L296.7,453.1L299.9,451.4L299.2,447.9ZM353.0,417.9L353.6,421.4L356.8,419.7L356.1,416.2ZM296.7,453.1L297.2,456.6L300.4,454.8L299.9,451.4ZM353.6,421.4L354.1,424.9L360.4,421.4L359.9,417.9ZM297.2,456.6L297.6,460.0L300.7,458.3L300.4,454.8ZM357.3,423.1L357.7,426.6L364.0,423.1L363.6,419.6ZM294.4,461.8L294.7,465.2L301.0,461.7L300.7,458.3ZM360.8,424.8L361.1,428.2L364.2,426.5L364.0,423.1ZM294.7,465.2L294.8,468.5L301.1,465.0L301.0,461.7ZM361.1,428.2L361.2,431.6L367.5,428.1L367.4,424.7ZM294.8,468.5L294.8,471.8L301.2,468.3L301.1,465.0ZM364.4,429.8L364.4,433.2L367.6,431.4L367.5,428.1ZM294.8,471.8L294.7,475.1L301.0,471.6L301.2,468.3ZM364.4,433.2L364.3,436.4L370.6,432.9L370.7,429.7ZM294.7,475.1L294.5,478.3L300.8,474.7L301.0,471.6ZM367.4,434.7L367.2,437.9L370.4,436.1L370.6,432.9ZM297.6,476.5L297.3,479.6L303.6,476.1L304.0,473.0ZM367.2,437.9L366.8,441.0L370.0,439.2L370.4,436.1ZM297.3,479.6L296.8,482.6L303.1,479.1L303.6,476.1ZM366.8,441.0L366.4,444.1L372.7,440.6L373.2,437.5ZM296.8,482.6L296.2,485.6L302.5,482.1L303.1,479.1ZM369.5,442.3L368.9,445.3L372.1,443.5L372.7,440.6ZM299.4,483.8L298.6,486.7L305.0,483.2L305.7,480.3ZM368.9,445.3L368.2,448.2L371.3,446.4L372.1,443.5ZM298.6,486.7L297.8,489.5L304.1,486.0L305.0,483.2ZM368.2,448.2L367.3,451.0L370.5,449.2L371.3,446.4ZM300.9,487.7L300.0,490.4L306.3,486.9L307.3,484.2ZM370.5,449.2L369.5,451.9L372.7,450.1L373.6,447.4ZM300.0,490.4L298.9,493.0L305.2,489.5L306.3,486.9ZM369.5,451.9L368.4,454.5L371.6,452.7L372.7,450.1ZM302.1,491.2L300.9,493.7L307.2,490.2L308.4,487.7ZM368.4,454.5L367.2,456.9L370.4,455.2L371.6,452.7ZM304.0,491.9L302.7,494.3L309.0,490.8L310.3,488.4ZM367.2,456.9L365.9,459.3L369.1,457.6L370.4,455.2ZM302.7,494.3L301.3,496.5L307.6,493.0L309.0,490.8ZM369.1,457.6L367.6,459.8L370.8,458.0L372.2,455.8ZM304.5,494.8L302.9,496.9L309.3,493.4L310.8,491.3ZM367.6,459.8L366.1,461.9L369.3,460.1L370.8,458.0ZM306.1,495.1L304.5,497.1L310.8,493.6L312.4,491.6ZM366.1,461.9L364.5,463.9L367.6,462.1L369.3,460.1ZM304.5,497.1L302.8,498.9L309.1,495.4L310.8,493.6ZM364.5,463.9L362.8,465.7L365.9,464.0L367.6,462.1ZM305.9,497.2L304.1,498.9L310.4,495.4L312.2,493.7ZM362.8,465.7L360.9,467.4L364.1,465.7L365.9,464.0ZM307.3,497.1L305.3,498.7L311.7,495.2L313.6,493.6ZM360.9,467.4L359.0,469.0L362.2,467.2L364.1,465.7ZM305.3,498.7L303.3,500.1L309.7,496.6L311.7,495.2ZM359.0,469.0L357.0,470.4L360.2,468.7L362.2,467.2ZM306.5,498.3L304.4,499.6L310.7,496.1L312.8,494.8ZM357.0,470.4L354.9,471.7L358.1,469.9L360.2,468.7Z" fill="#7bd300" stroke="#7bd300" stroke-width="0.70"/>
<path d="M308.2,426.9L309.3,430.4L331.4,418.0L330.3,414.5ZM302.9,433.9L303.9,437.4L316.6,430.3L315.6,426.8ZM328.2,419.8L329.2,423.3L338.7,418.0L337.7,414.5ZM303.9,437.4L304.8,440.9L311.1,437.4L310.2,433.9ZM335.5,419.7L336.4,423.2L345.9,418.0L345.0,414.4ZM301.6,442.6L302.4,446.1L308.7,442.6L308.0,439.1ZM342.7,419.7L343.5,423.2L349.8,419.7L349.0,416.2ZM299.2,447.9L299.9,451.4L306.2,447.9L305.5,444.4ZM346.6,421.5L347.3,425.0L353.6,421.4L353.0,417.9ZM299.9,451.4L300.4,454.8L306.7,451.3L306.2,447.9ZM350.4,423.2L350.9,426.7L354.1,424.9L353.6,421.4ZM300.4,454.8L300.7,458.3L307.1,454.7L306.7,451.3ZM354.1,424.9L354.5,428.3L357.7,426.6L357.3,423.1ZM300.7,458.3L301.0,461.7L304.2,459.9L303.9,456.5ZM354.5,428.3L354.8,431.8L361.1,428.2L360.8,424.8ZM301.0,461.7L301.1,465.0L304.3,463.2L304.2,459.9ZM357.9,430.0L358.1,433.4L361.2,431.6L361.1,428.2ZM301.1,465.0L301.2,468.3L304.3,466.6L304.3,463.2ZM358.1,433.4L358.1,436.7L364.4,433.2L364.4,429.8ZM301.2,468.3L301.0,471.6L307.4,468.0L307.5,464.8ZM361.2,434.9L361.1,438.2L364.3,436.4L364.4,433.2ZM301.0,471.6L300.8,474.7L307.1,471.2L307.4,468.0ZM361.1,438.2L360.9,441.4L367.2,437.9L367.4,434.7ZM304.0,473.0L303.6,476.1L306.8,474.3L307.1,471.2ZM364.0,439.6L363.7,442.8L366.8,441.0L367.2,437.9ZM303.6,476.1L303.1,479.1L306.3,477.4L306.8,474.3ZM363.7,442.8L363.2,445.8L366.4,444.1L366.8,441.0ZM303.1,479.1L302.5,482.1L308.8,478.6L309.4,475.6ZM363.2,445.8L362.6,448.8L368.9,445.3L369.5,442.3ZM305.7,480.3L305.0,483.2L308.1,481.5L308.8,478.6ZM365.7,447.0L365.0,449.9L368.2,448.2L368.9,445.3ZM305.0,483.2L304.1,486.0L310.4,482.5L311.3,479.7ZM365.0,449.9L364.2,452.7L367.3,451.0L368.2,448.2ZM307.3,484.2L306.3,486.9L312.6,483.4L313.6,480.7ZM364.2,452.7L363.2,455.4L369.5,451.9L370.5,449.2ZM306.3,486.9L305.2,489.5L311.5,486.0L312.6,483.4ZM363.2,455.4L362.1,458.0L368.4,454.5L369.5,451.9ZM308.4,487.7L307.2,490.2L313.5,486.7L314.7,484.2ZM365.3,456.2L364.1,458.7L367.2,456.9L368.4,454.5ZM310.3,488.4L309.0,490.8L312.2,489.0L313.5,486.7ZM364.1,458.7L362.7,461.0L365.9,459.3L367.2,456.9ZM309.0,490.8L307.6,493.0L313.9,489.5L315.4,487.3ZM362.7,461.0L361.3,463.3L367.6,459.8L369.1,457.6ZM310.8,491.3L309.3,493.4L315.6,489.9L317.1,487.8ZM364.5,461.5L363.0,463.6L366.1,461.9L367.6,459.8ZM312.4,491.6L310.8,493.6L317.1,490.1L318.7,488.1ZM363.0,463.6L361.3,465.6L364.5,463.9L366.1,461.9ZM310.8,493.6L309.1,495.4L315.4,491.9L317.1,490.1ZM361.3,465.6L359.6,467.5L362.8,465.7L364.5,463.9ZM312.2,493.7L310.4,495.4L316.7,491.9L318.5,490.2ZM359.6,467.5L357.8,469.2L360.9,467.4L362.8,465.7ZM313.6,493.6L311.7,495.2L318.0,491.7L319.9,490.1ZM357.8,469.2L355.9,470.7L359.0,469.0L360.9,467.4ZM311.7,495.2L309.7,496.6L316.0,493.1L318.0,491.7ZM355.9,470.7L353.8,472.1L357.0,470.4L359.0,469.0ZM312.8,494.8L310.7,496.1L317.0,492.6L319.1,491.4ZM353.8,472.1L351.8,473.4L354.9,471.7L357.0,470.4Z" fill="#cad700" stroke="#cad700" stroke-width="0.70"/>
<path d="M315.6,426.8L316.6,430.3L329.2,423.3L328.2,419.8ZM310.2,433.9L311.1,437.4L336.4,423.2L335.5,419.7ZM308.0,439.1L308.7,442.6L315.0,439.1L314.3,435.6ZM333.2,425.0L334.0,428.5L343.5,423.2L342.7,419.7ZM305.5,444.4L306.2,447.9L312.5,444.3L311.9,440.8ZM340.3,425.0L341.0,428.5L347.3,425.0L346.6,421.5ZM306.2,447.9L306.7,451.3L313.0,447.8L312.5,444.3ZM344.1,426.7L344.6,430.2L350.9,426.7L350.4,423.2ZM306.7,451.3L307.1,454.7L310.2,453.0L309.8,449.6ZM347.8,428.4L348.2,431.9L354.5,428.3L354.1,424.9ZM303.9,456.5L304.2,459.9L310.5,456.4L310.2,453.0ZM351.3,430.1L351.6,433.5L354.8,431.8L354.5,428.3ZM304.2,459.9L304.3,463.2L310.6,459.7L310.5,456.4ZM351.6,433.5L351.7,436.9L358.1,433.4L357.9,430.0ZM304.3,463.2L304.3,466.6L310.6,463.0L310.6,459.7ZM354.9,435.1L354.9,438.4L358.1,436.7L358.1,433.4ZM307.5,464.8L307.4,468.0L310.5,466.3L310.6,463.0ZM354.9,438.4L354.8,441.7L361.1,438.2L361.2,434.9ZM307.4,468.0L307.1,471.2L310.3,469.5L310.5,466.3ZM358.0,439.9L357.7,443.1L360.9,441.4L361.1,438.2ZM307.1,471.2L306.8,474.3L313.1,470.8L313.5,467.7ZM357.7,443.1L357.4,446.3L363.7,442.8L364.0,439.6ZM306.8,474.3L306.3,477.4L312.6,473.9L313.1,470.8ZM360.5,444.5L360.0,447.6L363.2,445.8L363.7,442.8ZM309.4,475.6L308.8,478.6L315.2,475.1L315.8,472.1ZM360.0,447.6L359.4,450.5L362.6,448.8L363.2,445.8ZM308.8,478.6L308.1,481.5L314.4,478.0L315.2,475.1ZM359.4,450.5L358.7,453.4L365.0,449.9L365.7,447.0ZM311.3,479.7L310.4,482.5L316.7,479.0L317.6,476.2ZM358.7,453.4L357.8,456.2L364.2,452.7L365.0,449.9ZM313.6,480.7L312.6,483.4L315.8,481.7L316.7,479.0ZM357.8,456.2L356.9,458.9L363.2,455.4L364.2,452.7ZM312.6,483.4L311.5,486.0L317.9,482.5L318.9,479.9ZM360.0,457.1L358.9,459.7L362.1,458.0L363.2,455.4ZM314.7,484.2L313.5,486.7L319.8,483.2L321.0,480.7ZM358.9,459.7L357.7,462.2L364.1,458.7L365.3,456.2ZM313.5,486.7L312.2,489.0L318.5,485.5L319.8,483.2ZM357.7,462.2L356.4,464.5L362.7,461.0L364.1,458.7ZM315.4,487.3L313.9,489.5L320.3,486.0L321.7,483.8ZM359.6,462.8L358.2,465.0L361.3,463.3L362.7,461.0ZM317.1,487.8L315.6,489.9L321.9,486.4L323.4,484.3ZM358.2,465.0L356.6,467.1L363.0,463.6L364.5,461.5ZM318.7,488.1L317.1,490.1L323.4,486.6L325.1,484.6ZM356.6,467.1L355.0,469.1L361.3,465.6L363.0,463.6ZM317.1,490.1L315.4,491.9L321.7,488.4L323.4,486.6ZM358.2,467.4L356.4,469.2L359.6,467.5L361.3,465.6ZM318.5,490.2L316.7,491.9L323.0,488.4L324.9,486.7ZM356.4,469.2L354.6,470.9L357.8,469.2L359.6,467.5ZM319.9,490.1L318.0,491.7L324.3,488.2L326.2,486.6ZM354.6,470.9L352.7,472.5L355.9,470.7L357.8,469.2ZM318.0,491.7L316.0,493.1L325.4,487.9L327.4,486.4ZM352.7,472.5L350.7,473.9L353.8,472.1L355.9,470.7ZM319.1,491.4L317.0,492.6L323.4,489.1L325.4,487.9ZM350.7,473.9L348.6,475.2L351.8,473.4L353.8,472.1Z" fill="#e09e00" stroke="#e09e00" stroke-width="0.70"/>
<path d="M314.3,435.6L315.0,439.1L334.0,428.5L333.2,425.0ZM311.9,440.8L312.5,444.3L322.0,439.0L321.4,435.6ZM330.8,430.3L331.5,433.8L341.0,428.5L340.3,425.0ZM312.5,444.3L313.0,447.8L319.3,444.3L318.8,440.8ZM337.8,430.2L338.3,433.7L344.6,430.2L344.1,426.7ZM309.8,449.6L310.2,453.0L316.6,449.5L316.2,446.0ZM341.5,431.9L341.8,435.4L348.2,431.9L347.8,428.4ZM310.2,453.0L310.5,456.4L316.8,452.9L316.6,449.5ZM345.0,433.6L345.3,437.0L351.6,433.5L351.3,430.1ZM310.5,456.4L310.6,459.7L317.0,456.2L316.8,452.9ZM348.4,435.3L348.6,438.6L351.7,436.9L351.6,433.5ZM310.6,459.7L310.6,463.0L317.0,459.5L317.0,456.2ZM348.6,438.6L348.6,442.0L354.9,438.4L354.9,435.1ZM310.6,463.0L310.5,466.3L316.9,462.8L317.0,459.5ZM351.7,440.2L351.6,443.5L354.8,441.7L354.9,438.4ZM310.5,466.3L310.3,469.5L316.6,466.0L316.9,462.8ZM351.6,443.5L351.4,446.7L357.7,443.1L358.0,439.9ZM313.5,467.7L313.1,470.8L316.3,469.1L316.6,466.0ZM354.6,444.9L354.2,448.0L357.4,446.3L357.7,443.1ZM313.1,470.8L312.6,473.9L318.9,470.4L319.4,467.3ZM354.2,448.0L353.7,451.1L360.0,447.6L360.5,444.5ZM315.8,472.1L315.2,475.1L318.3,473.3L318.9,470.4ZM353.7,451.1L353.1,454.0L359.4,450.5L360.0,447.6ZM315.2,475.1L314.4,478.0L320.8,474.4L321.5,471.6ZM353.1,454.0L352.4,456.9L358.7,453.4L359.4,450.5ZM317.6,476.2L316.7,479.0L319.9,477.2L320.8,474.4ZM352.4,456.9L351.5,459.7L357.8,456.2L358.7,453.4ZM316.7,479.0L315.8,481.7L322.1,478.2L323.1,475.5ZM354.7,458.0L353.7,460.6L356.9,458.9L357.8,456.2ZM318.9,479.9L317.9,482.5L324.2,479.0L325.3,476.4ZM353.7,460.6L352.6,463.2L358.9,459.7L360.0,457.1ZM321.0,480.7L319.8,483.2L326.1,479.7L327.3,477.2ZM352.6,463.2L351.4,465.7L357.7,462.2L358.9,459.7ZM319.8,483.2L318.5,485.5L328.0,480.3L329.3,477.9ZM351.4,465.7L350.1,468.0L356.4,464.5L357.7,462.2ZM321.7,483.8L320.3,486.0L329.7,480.8L331.2,478.5ZM350.1,468.0L348.7,470.3L358.2,465.0L359.6,462.8ZM323.4,484.3L321.9,486.4L328.2,482.9L329.7,480.8ZM348.7,470.3L347.2,472.4L356.6,467.1L358.2,465.0ZM325.1,484.6L323.4,486.6L329.7,483.1L331.4,481.1ZM347.2,472.4L345.5,474.4L355.0,469.1L356.6,467.1ZM323.4,486.6L321.7,488.4L331.2,483.2L332.9,481.3ZM348.7,472.6L347.0,474.5L356.4,469.2L358.2,467.4ZM324.9,486.7L323.0,488.4L332.5,483.1L334.3,481.4ZM347.0,474.5L345.1,476.2L354.6,470.9L356.4,469.2ZM326.2,486.6L324.3,488.2L333.8,483.0L335.7,481.4ZM345.1,476.2L343.2,477.7L352.7,472.5L354.6,470.9ZM327.4,486.4L325.4,487.9L334.9,482.6L336.9,481.2ZM343.2,477.7L341.2,479.1L350.7,473.9L352.7,472.5ZM325.4,487.9L323.4,489.1L336.0,482.1L338.1,480.9ZM344.4,477.4L342.3,478.7L348.6,475.2L350.7,473.9Z" fill="#e04f00" stroke="#e04f00" stroke-width="0.70"/>
<path d="M321.4,435.6L322.0,439.0L331.5,433.8L330.8,430.3ZM318.8,440.8L319.3,444.3L338.3,433.7L337.8,430.2ZM316.2,446.0L316.6,449.5L341.8,435.4L341.5,431.9ZM316.6,449.5L316.8,452.9L345.3,437.0L345.0,433.6ZM316.8,452.9L317.0,456.2L348.6,438.6L348.4,435.3ZM317.0,456.2L317.0,459.5L348.6,442.0L348.6,438.6ZM317.0,459.5L316.9,462.8L351.6,443.5L351.7,440.2ZM316.9,462.8L316.6,466.0L351.4,446.7L351.6,443.5ZM316.6,466.0L316.3,469.1L354.2,448.0L354.6,444.9ZM319.4,467.3L318.9,470.4L353.7,451.1L354.2,448.0ZM318.9,470.4L318.3,473.3L353.1,454.0L353.7,451.1ZM321.5,471.6L320.8,474.4L352.4,456.9L353.1,454.0ZM320.8,474.4L319.9,477.2L351.5,459.7L352.4,456.9ZM323.1,475.5L322.1,478.2L353.7,460.6L354.7,458.0ZM325.3,476.4L324.2,479.0L352.6,463.2L353.7,460.6ZM327.3,477.2L326.1,479.7L351.4,465.7L352.6,463.2ZM329.3,477.9L328.0,480.3L350.1,468.0L351.4,465.7ZM331.2,478.5L329.7,480.8L348.7,470.3L350.1,468.0ZM329.7,480.8L328.2,482.9L347.2,472.4L348.7,470.3ZM331.4,481.1L329.7,483.1L345.5,474.4L347.2,472.4ZM332.9,481.3L331.2,483.2L347.0,474.5L348.7,472.6ZM334.3,481.4L332.5,483.1L345.1,476.2L347.0,474.5ZM335.7,481.4L333.8,483.0L343.2,477.7L345.1,476.2ZM336.9,481.2L334.9,482.6L341.2,479.1L343.2,477.7ZM338.1,480.9L336.0,482.1L342.3,478.7L344.4,477.4Z" fill="#d30000" stroke="#d30000" stroke-width="0.70"/>
<g fill="none" stroke="#000" stroke-opacity="0.72" stroke-width="0.50">
<path id="c_r" d="M177.7,383.3l1.6,-0.9l1.7,-0.8l1.8,-0.7l1.8,-0.6l1.8,-0.5l1.9,-0.4l1.9,-0.3l1.9,-0.2l2,-0.2l2,0l2,0.1l2,0.1l2.1,0.3l2.1,0.3l2.1,0.5l2.1,0.5l2.1,0.7l2.1,0.7l2.1,0.8l2.1,0.9l2.1,1l2.1,1.1l2.2,1.2l2.1,1.2l2,1.4l2.1,1.4l2.1,1.5l2,1.6l2,1.6l2,1.8l2,1.8l1.9,1.9l1.9,1.9l1.9,2l1.8,2.1l1.8,2.1l1.7,2.2l1.7,2.2l1.7,2.3l1.6,2.4l1.6,2.4l1.5,2.4l1.4,2.5l1.5,2.5l1.3,2.5l1.3,2.6l1.2,2.6l1.2,2.7l1.1,2.6l1,2.7l1,2.7l0.9,2.6l0.8,2.7l0.8,2.8l0.7,2.7l0.6,2.7l0.6,2.7l0.4,2.7l0.5,2.6l0.3,2.7l0.2,2.6l0.2,2.7l0.1,2.5l0.1,2.6l-0.1,2.5l-0.1,2.5l-0.2,2.5l-0.2,2.4l-0.4,2.4l-0.4,2.3l-0.5,2.3l-0.5,2.2l-0.6,2.2l-0.7,2.1l-0.8,2.1l-0.9,1.9l-0.9,2l-0.9,1.8l-1.1,1.8l-1.1,1.7l-1.1,1.6l-1.3,1.6l-1.3,1.4l-1.3,1.4l-1.4,1.4l-1.5,1.2l-1.5,1.1l-1.6,1.1l-1.6,0.9"/>
<use href="#c_r" transform="matrix(1.0003 0 0 1.0003 3.9 -2.4)" stroke-width="0.50"/>
<use href="#c_r" transform="matrix(1.0006 0 0 1.0006 7.8 -4.7)" stroke-width="0.50"/>
<use href="#c_r" transform="matrix(1.0010 0 0 1.0010 11.7 -7.1)" stroke-width="0.50"/>
<use href="#c_r" transform="matrix(1.0013 0 0 1.0013 15.6 -9.5)" stroke-width="0.50"/>
<use href="#c_r" transform="matrix(1.0016 0 0 1.0016 19.4 -11.8)" stroke-width="0.50"/>
<use href="#c_r" transform="matrix(1.0019 0 0 1.0019 23.3 -14.2)" stroke-width="0.50"/>
<use href="#c_r" transform="matrix(1.0023 0 0 1.0023 27.2 -16.6)" stroke-width="0.50"/>
<use href="#c_r" transform="matrix(1.0026 0 0 1.0026 31.1 -18.9)" stroke-width="0.50"/>
<use href="#c_r" transform="matrix(1.0029 0 0 1.0029 35.0 -21.3)" stroke-width="0.50"/>
<use href="#c_r" transform="matrix(1.0032 0 0 1.0032 38.9 -23.7)" stroke-width="0.50"/>
<use href="#c_r" transform="matrix(1.0035 0 0 1.0035 42.8 -26.0)" stroke-width="0.50"/>
<use href="#c_r" transform="matrix(1.0039 0 0 1.0039 46.7 -28.4)" stroke-width="0.50"/>
<use href="#c_r" transform="matrix(1.0042 0 0 1.0042 50.5 -30.8)" stroke-width="0.50"/>
<use href="#c_r" transform="matrix(1.0045 0 0 1.0045 54.4 -33.1)" stroke-width="0.50"/>
<use href="#c_r" transform="matrix(1.0048 0 0 1.0048 58.3 -35.5)" stroke-width="0.50"/>
<use href="#c_r" transform="matrix(1.0052 0 0 1.0052 62.2 -37.9)" stroke-width="0.50"/>
<use href="#c_r" transform="matrix(1.0055 0 0 1.0055 66.1 -40.2)" stroke-width="0.50"/>
<use href="#c_r" transform="matrix(1.0058 0 0 1.0058 70.0 -42.6)" stroke-width="0.50"/>
<use href="#c_r" transform="matrix(1.0061 0 0 1.0061 73.9 -45.0)" stroke-width="0.50"/>
<use href="#c_r" transform="matrix(1.0065 0 0 1.0065 77.8 -47.3)" stroke-width="0.50"/>
<use href="#c_r" transform="matrix(1.0068 0 0 1.0068 81.7 -49.7)" stroke-width="0.50"/>
<use href="#c_r" transform="matrix(1.0071 0 0 1.0071 85.5 -52.1)" stroke-width="0.50"/>
<use href="#c_r" transform="matrix(1.0074 0 0 1.0074 89.4 -54.4)" stroke-width="0.50"/>
<use href="#c_r" transform="matrix(1.0077 0 0 1.0077 93.3 -56.8)" stroke-width="0.50"/>
<use href="#c_r" transform="matrix(1.0081 0 0 1.0081 97.2 -59.2)" stroke-width="0.50"/>
<use href="#c_r" transform="matrix(1.0084 0 0 1.0084 101.1 -61.5)" stroke-width="0.50"/>
<use href="#c_r" transform="matrix(1.0087 0 0 1.0087 105.0 -63.9)" stroke-width="0.50"/>
<use href="#c_r" transform="matrix(1.0090 0 0 1.0090 108.9 -66.3)" stroke-width="0.50"/>
<use href="#c_r" transform="matrix(1.0094 0 0 1.0094 112.8 -68.6)" stroke-width="0.50"/>
<use href="#c_r" transform="matrix(1.0097 0 0 1.0097 116.7 -71.0)" stroke-width="0.50"/>
<use href="#c_r" transform="matrix(1.0100 0 0 1.0100 120.5 -73.4)" stroke-width="0.50"/>
<path d="M177.7,383.3l122.3,-69.5M179.3,382.4l122.3,-69.5M181.0,381.6l122.4,-69.5M182.8,380.9l122.4,-69.5M184.6,380.3l122.4,-69.6M186.4,379.8l122.4,-69.6M188.3,379.4l122.4,-69.6M190.2,379.1l122.4,-69.6M192.1,378.9l122.5,-69.6M194.1,378.7l122.5,-69.6M196.1,378.7l122.5,-69.6M198.1,378.8l122.5,-69.6M200.1,378.9l122.5,-69.6M202.2,379.2l122.6,-69.6M204.3,379.5l122.6,-69.6M206.4,380.0l122.6,-69.6M208.5,380.5l122.6,-69.5M210.6,381.2l122.6,-69.5M212.7,381.9l122.7,-69.5M214.8,382.7l122.7,-69.5M216.9,383.6l122.7,-69.5M219.0,384.6l122.7,-69.5M221.1,385.7l122.8,-69.5M223.3,386.9l122.8,-69.5M225.4,388.1l122.8,-69.5M227.4,389.5l122.8,-69.5M229.5,390.9l122.8,-69.4M231.6,392.4l122.9,-69.4M233.6,394.0l122.9,-69.4M235.6,395.6l122.9,-69.4M237.6,397.4l122.9,-69.4M239.6,399.2l122.9,-69.4M241.5,401.1l123.0,-69.3M243.4,403.0l123.0,-69.3M245.3,405.0l123.0,-69.3M247.1,407.1l123.0,-69.3M248.9,409.2l123.0,-69.3M250.6,411.4l123.0,-69.2M252.3,413.6l123.1,-69.2M254.0,415.9l123.1,-69.2M255.6,418.3l123.1,-69.2M257.2,420.7l123.1,-69.1M258.7,423.1l123.1,-69.1M260.1,425.6l123.1,-69.1M261.6,428.1l123.2,-69.1M262.9,430.6l123.2,-69.0M264.2,433.2l123.2,-69.0M265.4,435.8l123.2,-69.0M266.6,438.5l123.2,-69.0M267.7,441.1l123.2,-68.9M268.7,443.8l123.2,-68.9M269.7,446.5l123.2,-68.9M270.6,449.1l123.2,-68.9M271.4,451.8l123.3,-68.8M272.2,454.6l123.3,-68.8M272.9,457.3l123.3,-68.8M273.5,460.0l123.3,-68.8M274.1,462.7l123.3,-68.7M274.5,465.4l123.3,-68.7M275.0,468.0l123.3,-68.7M275.3,470.7l123.3,-68.6M275.5,473.3l123.3,-68.6M275.7,476.0l123.3,-68.6M275.8,478.5l123.3,-68.6M275.9,481.1l123.3,-68.5M275.8,483.6l123.3,-68.5M275.7,486.1l123.3,-68.5M275.5,488.6l123.3,-68.5M275.3,491.0l123.3,-68.4M274.9,493.4l123.3,-68.4M274.5,495.7l123.3,-68.4M274.0,498.0l123.3,-68.4M273.5,500.2l123.3,-68.4M272.9,502.4l123.3,-68.3M272.2,504.5l123.3,-68.3M271.4,506.6l123.3,-68.3M270.5,508.5l123.2,-68.3M269.6,510.5l123.2,-68.2M268.7,512.3l123.2,-68.2M267.6,514.1l123.2,-68.2M266.5,515.8l123.2,-68.2M265.4,517.4l123.2,-68.2M264.1,519.0l123.2,-68.2M262.8,520.4l123.2,-68.1M261.5,521.8l123.2,-68.1M260.1,523.2l123.1,-68.1M258.6,524.4l123.1,-68.1M257.1,525.5l123.1,-68.1M255.5,526.6l123.1,-68.1M253.9,527.5l123.1,-68.1"/>
</g>
<path d="M243.8,510.8L240.4,512.2L244.7,522.0L248.6,520.4ZM240.4,512.2L236.9,513.2L240.5,523.2L244.7,522.0ZM236.9,513.2L233.2,513.6L236.2,523.7L240.5,523.2ZM233.2,513.6L229.3,513.7L231.6,523.8L236.2,523.7ZM229.3,513.7L225.3,513.2L227.0,523.2L231.6,523.8ZM225.3,513.2L221.3,512.3L222.3,522.2L227.0,523.2ZM221.3,512.3L217.2,510.9L217.5,520.6L222.3,522.2ZM217.2,510.9L213.1,509.1L212.6,518.4L217.5,520.6ZM213.1,509.1L209.0,506.9L207.9,515.8L212.6,518.4ZM209.0,506.9L205.0,504.2L203.1,512.7L207.9,515.8ZM205.0,504.2L201.1,501.1L198.5,509.1L203.1,512.7ZM201.1,501.1L197.3,497.7L194.0,505.0L198.5,509.1ZM197.3,497.7L193.6,493.9L189.7,500.6L194.0,505.0ZM193.6,493.9L190.1,489.9L185.6,495.8L189.7,500.6ZM190.1,489.9L186.8,485.5L181.8,490.7L185.6,495.8ZM186.8,485.5L183.8,480.9L178.2,485.3L181.8,490.7ZM183.8,480.9L181.0,476.1L174.9,479.7L178.2,485.3ZM181.0,476.1L178.5,471.1L172.0,473.9L174.9,479.7ZM178.5,471.1L176.3,466.0L169.4,467.9L172.0,473.9ZM176.3,466.0L174.4,460.9L167.2,461.8L169.4,467.9ZM174.4,460.9L172.8,455.6L165.4,455.7L167.2,461.8ZM172.8,455.6L171.6,450.4L163.9,449.5L165.4,455.7ZM171.6,450.4L170.7,445.2L162.9,443.5L163.9,449.5ZM170.7,445.2L170.2,440.1L162.4,437.5L162.9,443.5ZM170.2,440.1L170.1,435.1L162.2,431.6L162.4,437.5ZM170.1,435.1L170.4,430.3L162.5,426.0L162.2,431.6ZM170.4,430.3L171.0,425.7L163.2,420.5L162.5,426.0ZM171.0,425.7L171.9,421.3L164.3,415.4L163.2,420.5ZM171.9,421.3L173.3,417.2L165.9,410.6L164.3,415.4ZM173.3,417.2L174.9,413.4L167.8,406.1L165.9,410.6ZM174.9,413.4L176.9,410.0L170.2,402.1L167.8,406.1ZM176.9,410.0L179.2,406.9L172.9,398.5L170.2,402.1ZM179.2,406.9L181.8,404.2L175.9,395.3L172.9,398.5ZM181.8,404.2L184.7,401.9L179.3,392.6L175.9,395.3ZM184.7,401.9L187.8,400.0L183.0,390.4L179.3,392.6ZM187.8,400.0L191.2,398.6L186.9,388.8L183.0,390.4ZM191.2,398.6L194.7,397.6L191.1,387.6L186.9,388.8ZM194.7,397.6L198.4,397.2L195.4,387.1L191.1,387.6ZM198.4,397.2L202.3,397.1L200.0,387.0L195.4,387.1ZM202.3,397.1L206.3,397.6L204.6,387.6L200.0,387.0ZM206.3,397.6L210.3,398.5L209.3,388.6L204.6,387.6ZM210.3,398.5L214.4,399.9L214.1,390.2L209.3,388.6ZM214.4,399.9L218.5,401.7L219.0,392.4L214.1,390.2ZM218.5,401.7L222.6,403.9L223.7,395.0L219.0,392.4ZM222.6,403.9L226.6,406.6L228.5,398.1L223.7,395.0ZM226.6,406.6L230.5,409.7L233.1,401.7L228.5,398.1ZM230.5,409.7L234.3,413.1L237.6,405.8L233.1,401.7ZM234.3,413.1L238.0,416.9L241.9,410.2L237.6,405.8ZM238.0,416.9L241.5,420.9L246.0,415.0L241.9,410.2ZM241.5,420.9L244.8,425.3L249.8,420.1L246.0,415.0ZM244.8,425.3L247.8,429.9L253.4,425.5L249.8,420.1ZM247.8,429.9L250.6,434.7L256.7,431.1L253.4,425.5ZM250.6,434.7L253.1,439.7L259.6,436.9L256.7,431.1ZM253.1,439.7L255.3,444.8L262.2,442.9L259.6,436.9ZM255.3,444.8L257.2,449.9L264.4,449.0L262.2,442.9ZM257.2,449.9L258.8,455.2L266.2,455.1L264.4,449.0ZM258.8,455.2L260.0,460.4L267.7,461.3L266.2,455.1ZM260.0,460.4L260.9,465.6L268.7,467.3L267.7,461.3ZM260.9,465.6L261.4,470.7L269.2,473.3L268.7,467.3ZM261.4,470.7L261.5,475.7L269.4,479.2L269.2,473.3ZM261.5,475.7L261.2,480.5L269.1,484.8L269.4,479.2ZM261.2,480.5L260.6,485.1L268.4,490.3L269.1,484.8ZM260.6,485.1L259.7,489.5L267.3,495.4L268.4,490.3ZM259.7,489.5L258.3,493.6L265.7,500.2L267.3,495.4ZM258.3,493.6L256.7,497.4L263.8,504.7L265.7,500.2ZM256.7,497.4L254.7,500.8L261.4,508.7L263.8,504.7ZM254.7,500.8L252.4,503.9L258.7,512.3L261.4,508.7ZM252.4,503.9L249.8,506.6L255.7,515.5L258.7,512.3ZM249.8,506.6L246.9,508.9L252.3,518.2L255.7,515.5ZM246.9,508.9L243.8,510.8L248.6,520.4L252.3,518.2Z" fill="#0052e1" stroke="#0052e1" stroke-width="0.70"/>
<path d="M248.6,520.4L244.7,522.0L248.2,530.1L252.6,528.2ZM244.7,522.0L240.5,523.2L243.5,531.4L248.2,530.1ZM240.5,523.2L236.2,523.7L238.6,532.0L243.5,531.4ZM236.2,523.7L231.6,523.8L233.6,532.0L238.6,532.0ZM231.6,523.8L227.0,523.2L228.3,531.4L233.6,532.0ZM227.0,523.2L222.3,522.2L223.0,530.2L228.3,531.4ZM222.3,522.2L217.5,520.6L217.7,528.4L223.0,530.2ZM217.5,520.6L212.6,518.4L212.3,526.0L217.7,528.4ZM212.6,518.4L207.9,515.8L206.9,523.1L212.3,526.0ZM207.9,515.8L203.1,512.7L201.6,519.6L206.9,523.1ZM203.1,512.7L198.5,509.1L196.4,515.5L201.6,519.6ZM198.5,509.1L194.0,505.0L191.4,511.0L196.4,515.5ZM194.0,505.0L189.7,500.6L186.6,506.1L191.4,511.0ZM189.7,500.6L185.6,495.8L182.0,500.7L186.6,506.1ZM185.6,495.8L181.8,490.7L177.7,495.0L182.0,500.7ZM181.8,490.7L178.2,485.3L173.7,489.0L177.7,495.0ZM178.2,485.3L174.9,479.7L170.0,482.6L173.7,489.0ZM174.9,479.7L172.0,473.9L166.7,476.1L170.0,482.6ZM172.0,473.9L169.4,467.9L163.8,469.4L166.7,476.1ZM169.4,467.9L167.2,461.8L161.3,462.6L163.8,469.4ZM167.2,461.8L165.4,455.7L159.3,455.7L161.3,462.6ZM165.4,455.7L163.9,449.5L157.7,448.8L159.3,455.7ZM163.9,449.5L162.9,443.5L156.5,442.0L157.7,448.8ZM162.9,443.5L162.4,437.5L155.9,435.3L156.5,442.0ZM162.4,437.5L162.2,431.6L155.7,428.7L155.9,435.3ZM162.2,431.6L162.5,426.0L156.0,422.4L155.7,428.7ZM162.5,426.0L163.2,420.5L156.8,416.3L156.0,422.4ZM163.2,420.5L164.3,415.4L158.1,410.6L156.8,416.3ZM164.3,415.4L165.9,410.6L159.9,405.2L158.1,410.6ZM165.9,410.6L167.8,406.1L162.0,400.2L159.9,405.2ZM167.8,406.1L170.2,402.1L164.7,395.6L162.0,400.2ZM170.2,402.1L172.9,398.5L167.7,391.6L164.7,395.6ZM172.9,398.5L175.9,395.3L171.1,388.0L167.7,391.6ZM175.9,395.3L179.3,392.6L174.9,385.0L171.1,388.0ZM179.3,392.6L183.0,390.4L179.0,382.6L174.9,385.0ZM183.0,390.4L186.9,388.8L183.4,380.7L179.0,382.6ZM186.9,388.8L191.1,387.6L188.1,379.4L183.4,380.7ZM191.1,387.6L195.4,387.1L193.0,378.8L188.1,379.4ZM195.4,387.1L200.0,387.0L198.0,378.8L193.0,378.8ZM200.0,387.0L204.6,387.6L203.3,379.4L198.0,378.8ZM204.6,387.6L209.3,388.6L208.6,380.6L203.3,379.4ZM209.3,388.6L214.1,390.2L213.9,382.4L208.6,380.6ZM214.1,390.2L219.0,392.4L219.3,384.8L213.9,382.4ZM219.0,392.4L223.7,395.0L224.7,387.7L219.3,384.8ZM223.7,395.0L228.5,398.1L230.0,391.2L224.7,387.7ZM228.5,398.1L233.1,401.7L235.2,395.3L230.0,391.2ZM233.1,401.7L237.6,405.8L240.2,399.8L235.2,395.3ZM237.6,405.8L241.9,410.2L245.0,404.7L240.2,399.8ZM241.9,410.2L246.0,415.0L249.6,410.1L245.0,404.7ZM246.0,415.0L249.8,420.1L253.9,415.8L249.6,410.1ZM249.8,420.1L253.4,425.5L257.9,421.8L253.9,415.8ZM253.4,425.5L256.7,431.1L261.6,428.2L257.9,421.8ZM256.7,431.1L259.6,436.9L264.9,434.7L261.6,428.2ZM259.6,436.9L262.2,442.9L267.8,441.4L264.9,434.7ZM262.2,442.9L264.4,449.0L270.3,448.2L267.8,441.4ZM264.4,449.0L266.2,455.1L272.3,455.1L270.3,448.2ZM266.2,455.1L267.7,461.3L273.9,462.0L272.3,455.1ZM267.7,461.3L268.7,467.3L275.1,468.8L273.9,462.0ZM268.7,467.3L269.2,473.3L275.7,475.5L275.1,468.8ZM269.2,473.3L269.4,479.2L275.9,482.1L275.7,475.5ZM269.4,479.2L269.1,484.8L275.6,488.4L275.9,482.1ZM269.1,484.8L268.4,490.3L274.8,494.5L275.6,488.4ZM268.4,490.3L267.3,495.4L273.5,500.2L274.8,494.5ZM267.3,495.4L265.7,500.2L271.7,505.6L273.5,500.2ZM265.7,500.2L263.8,504.7L269.6,510.6L271.7,505.6ZM263.8,504.7L261.4,508.7L266.9,515.2L269.6,510.6ZM261.4,508.7L258.7,512.3L263.9,519.2L266.9,515.2ZM258.7,512.3L255.7,515.5L260.5,522.8L263.9,519.2ZM255.7,515.5L252.3,518.2L256.7,525.8L260.5,522.8ZM252.3,518.2L248.6,520.4L252.6,528.2L256.7,525.8Z" fill="#0000dc" stroke="#0000dc" stroke-width="0.70"/>
<g fill="none" stroke="#000" stroke-opacity="0.72" stroke-width="0.50">
<path d="M243.8,510.8l-3.4,1.4l-3.5,1l-3.7,0.4l-3.9,0.1l-4,-0.5l-4,-0.9l-4.1,-1.4l-4.1,-1.8l-4.1,-2.2l-4,-2.7l-3.9,-3.1l-3.8,-3.4l-3.7,-3.8l-3.5,-4l-3.3,-4.4l-3,-4.6l-2.8,-4.8l-2.5,-5l-2.2,-5.1l-1.9,-5.1l-1.6,-5.3l-1.2,-5.2l-0.9,-5.2l-0.5,-5.1l-0.1,-5l0.3,-4.8l0.6,-4.6l0.9,-4.4l1.4,-4.1l1.6,-3.8l2,-3.4l2.3,-3.1l2.6,-2.7l2.9,-2.3l3.1,-1.9l3.4,-1.4l3.5,-1l3.7,-0.4l3.9,-0.1l4,0.5l4,0.9l4.1,1.4l4.1,1.8l4.1,2.2l4,2.7l3.9,3.1l3.8,3.4l3.7,3.8l3.5,4l3.3,4.4l3,4.6l2.8,4.8l2.5,5l2.2,5.1l1.9,5.1l1.6,5.3l1.2,5.2l0.9,5.2l0.5,5.1l0.1,5l-0.3,4.8l-0.6,4.6l-0.9,4.4l-1.4,4.1l-1.6,3.8l-2,3.4l-2.3,3.1l-2.6,2.7l-2.9,2.3l-3.1,1.9M246.4,516.0l-3.6,1.6l-3.9,1l-4.1,0.6l-4.2,0l-4.4,-0.5l-4.4,-1l-4.5,-1.5l-4.4,-2l-4.5,-2.5l-4.4,-2.9l-4.3,-3.3l-4.2,-3.8l-4,-4.1l-3.8,-4.5l-3.6,-4.7l-3.4,-5.1l-3,-5.2l-2.8,-5.5l-2.4,-5.6l-2.1,-5.6l-1.7,-5.7l-1.3,-5.8l-0.9,-5.6l-0.6,-5.6l-0.1,-5.5l0.3,-5.3l0.6,-5l1.1,-4.8l1.4,-4.5l1.9,-4.2l2.1,-3.7l2.6,-3.4l2.8,-3l3.2,-2.5l3.4,-2l3.6,-1.6l3.9,-1l4.1,-0.6l4.2,0l4.4,0.5l4.4,1l4.5,1.5l4.4,2l4.5,2.5l4.4,2.9l4.3,3.3l4.2,3.8l4,4.1l3.8,4.5l3.6,4.7l3.4,5.1l3,5.2l2.8,5.5l2.4,5.6l2.1,5.6l1.7,5.7l1.3,5.8l0.9,5.6l0.6,5.6l0.1,5.5l-0.3,5.3l-0.6,5l-1.1,4.8l-1.4,4.5l-1.9,4.2l-2.1,3.7l-2.6,3.4l-2.8,3l-3.2,2.5l-3.4,2M248.6,520.4l-3.9,1.6l-4.2,1.2l-4.3,0.5l-4.6,0.1l-4.6,-0.6l-4.7,-1l-4.8,-1.6l-4.9,-2.2l-4.7,-2.6l-4.8,-3.1l-4.6,-3.6l-4.5,-4.1l-4.3,-4.4l-4.1,-4.8l-3.8,-5.1l-3.6,-5.4l-3.3,-5.6l-2.9,-5.8l-2.6,-6l-2.2,-6.1l-1.8,-6.1l-1.5,-6.2l-1,-6l-0.5,-6l-0.2,-5.9l0.3,-5.6l0.7,-5.5l1.1,-5.1l1.6,-4.8l1.9,-4.5l2.4,-4l2.7,-3.6l3,-3.2l3.4,-2.7l3.7,-2.2l3.9,-1.6l4.2,-1.2l4.3,-0.5l4.6,-0.1l4.6,0.6l4.7,1l4.8,1.6l4.9,2.2l4.7,2.6l4.8,3.1l4.6,3.6l4.5,4.1l4.3,4.4l4.1,4.8l3.8,5.1l3.6,5.4l3.3,5.6l2.9,5.8l2.6,6l2.2,6.1l1.8,6.1l1.5,6.2l1,6l0.5,6l0.2,5.9l-0.3,5.6l-0.7,5.5l-1.1,5.1l-1.6,4.8l-1.9,4.5l-2.4,4l-2.7,3.6l-3,3.2l-3.4,2.7l-3.7,2.2M250.8,524.7l-4.2,1.8l-4.4,1.2l-4.7,0.6l-4.8,0.1l-5,-0.6l-5,-1.2l-5.1,-1.7l-5.2,-2.2l-5.1,-2.9l-5,-3.3l-4.9,-3.8l-4.8,-4.3l-4.6,-4.7l-4.4,-5.1l-4.1,-5.5l-3.8,-5.8l-3.5,-6l-3.1,-6.2l-2.8,-6.4l-2.4,-6.5l-1.9,-6.5l-1.5,-6.6l-1.1,-6.4l-0.6,-6.4l-0.2,-6.3l0.3,-6l0.8,-5.8l1.2,-5.5l1.6,-5.1l2.1,-4.8l2.5,-4.3l2.9,-3.9l3.3,-3.4l3.6,-2.8l3.9,-2.3l4.2,-1.8l4.4,-1.2l4.7,-0.6l4.8,-0.1l5,0.6l5,1.2l5.1,1.7l5.2,2.2l5.1,2.9l5,3.3l4.9,3.8l4.8,4.3l4.6,4.7l4.4,5.1l4.1,5.5l3.8,5.8l3.5,6l3.1,6.2l2.8,6.4l2.4,6.5l1.9,6.5l1.5,6.6l1.1,6.4l0.6,6.4l0.2,6.3l-0.3,6l-0.8,5.8l-1.2,5.5l-1.6,5.1l-2.1,4.8l-2.5,4.3l-2.9,3.9l-3.3,3.4l-3.6,2.8l-3.9,2.3M252.6,528.2l-4.4,1.9l-4.7,1.3l-4.9,0.6l-5,0l-5.3,-0.6l-5.3,-1.2l-5.3,-1.8l-5.4,-2.4l-5.4,-2.9l-5.3,-3.5l-5.2,-4.1l-5,-4.5l-4.8,-4.9l-4.6,-5.4l-4.3,-5.7l-4,-6l-3.7,-6.4l-3.3,-6.5l-2.9,-6.7l-2.5,-6.8l-2,-6.9l-1.6,-6.9l-1.2,-6.8l-0.6,-6.7l-0.2,-6.6l0.3,-6.3l0.8,-6.1l1.3,-5.7l1.8,-5.4l2.1,-5l2.7,-4.6l3,-4l3.4,-3.6l3.8,-3l4.1,-2.4l4.4,-1.9l4.7,-1.3l4.9,-0.6l5,0l5.3,0.6l5.3,1.2l5.3,1.8l5.4,2.4l5.4,2.9l5.3,3.5l5.2,4.1l5,4.5l4.8,4.9l4.6,5.4l4.3,5.7l4,6l3.7,6.4l3.3,6.5l2.9,6.7l2.5,6.8l2,6.9l1.6,6.9l1.2,6.8l0.6,6.7l0.2,6.6l-0.3,6.3l-0.8,6.1l-1.3,5.7l-1.8,5.4l-2.1,5l-2.7,4.6l-3,4l-3.4,3.6l-3.8,3l-4.1,2.4"/>
</g>
<path d="M243.8,510.8l8.8,17.4M240.4,512.2l7.8,17.9M236.9,513.2l6.6,18.2M233.2,513.6l5.5,18.3M229.3,513.7l4.3,18.4M225.3,513.2l3.0,18.2M221.3,512.3l1.7,17.9M217.2,510.9l0.4,17.5M213.1,509.1l-0.8,16.9M209.0,506.9l-2.1,16.2M205.0,504.2l-3.4,15.4M201.1,501.1l-4.6,14.4M197.3,497.7l-5.8,13.3M193.6,493.9l-7.0,12.1M190.1,489.9l-8.1,10.9M186.8,485.5l-9.1,9.5M183.8,480.9l-10.1,8.0M181.0,476.1l-11.0,6.5M178.5,471.1l-11.8,5.0M176.3,466.0l-12.5,3.4M174.4,460.9l-13.1,1.7M172.8,455.6l-13.5,0.1M171.6,450.4l-13.9,-1.6M170.7,445.2l-14.2,-3.2M170.2,440.1l-14.3,-4.8M170.1,435.1l-14.4,-6.4M170.4,430.3l-14.3,-7.9M171.0,425.7l-14.1,-9.4M171.9,421.3l-13.8,-10.7M173.3,417.2l-13.4,-12.0M174.9,413.4l-12.9,-13.2M176.9,410.0l-12.2,-14.3M179.2,406.9l-11.5,-15.3M181.8,404.2l-10.7,-16.1M184.7,401.9l-9.8,-16.9M187.8,400.0l-8.8,-17.4M191.2,398.6l-7.8,-17.9M194.7,397.6l-6.6,-18.2M198.4,397.2l-5.5,-18.3M202.3,397.1l-4.3,-18.4M206.3,397.6l-3.0,-18.2M210.3,398.5l-1.7,-17.9M214.4,399.9l-0.4,-17.5M218.5,401.7l0.8,-16.9M222.6,403.9l2.1,-16.2M226.6,406.6l3.4,-15.4M230.5,409.7l4.6,-14.4M234.3,413.1l5.8,-13.3M238.0,416.9l7.0,-12.1M241.5,420.9l8.1,-10.9M244.8,425.3l9.1,-9.5M247.8,429.9l10.1,-8.0M250.6,434.7l11.0,-6.5M253.1,439.7l11.8,-5.0M255.3,444.8l12.5,-3.4M257.2,449.9l13.1,-1.7M258.8,455.2l13.5,-0.1M260.0,460.4l13.9,1.6M260.9,465.6l14.2,3.2M261.4,470.7l14.3,4.8M261.5,475.7l14.4,6.4M261.2,480.5l14.3,7.9M260.6,485.1l14.1,9.4M259.7,489.5l13.8,10.7M258.3,493.6l13.4,12.0M256.7,497.4l12.9,13.2M254.7,500.8l12.2,14.3M252.4,503.9l11.5,15.3M249.8,506.6l10.7,16.1M246.9,508.9l9.8,16.9" fill="none" stroke="#000" stroke-opacity="0.72" stroke-width="0.50"/>
<g clip-path="url(#c_in)">
<path d="M244.8,510.3L240.8,512.1L250.3,506.8L254.3,505.0ZM250.3,506.8L246.0,508.0L255.4,502.7L259.7,501.6ZM246.0,508.0L241.4,508.5L250.9,503.2L255.4,502.7ZM241.4,508.5L236.7,508.2L255.6,497.8L260.4,498.0ZM246.2,503.0L241.3,502.1L250.8,496.9L255.6,497.8ZM241.3,502.1L236.4,500.6L255.3,490.1L260.2,491.6ZM245.8,495.3L240.9,493.1L250.3,487.8L255.3,490.1ZM240.9,493.1L236.0,490.2L245.4,485.0L250.3,487.8ZM245.4,485.0L240.6,481.5L250.0,476.3L254.8,479.7ZM240.6,481.5L235.9,477.5L245.3,472.3L250.0,476.3ZM245.3,472.3L240.8,467.8L250.3,462.5L254.7,467.0ZM240.8,467.8L236.6,462.8L246.0,457.6L250.3,462.5ZM246.0,457.6L242.1,452.2L251.6,446.9L255.5,452.3ZM242.1,452.2L238.6,446.5L257.4,435.9L261.0,441.6ZM248.0,441.2L244.8,435.2L254.3,430.0L257.4,435.9ZM244.8,435.2L242.1,429.1L251.5,423.8L254.3,430.0ZM242.1,429.1L239.9,422.8L258.7,412.2L260.9,418.5ZM249.3,417.5L247.5,411.1L256.9,405.8L258.7,412.2ZM247.5,411.1L246.3,404.8L255.7,399.5L256.9,405.8ZM246.3,404.8L245.5,398.6L254.9,393.3L255.7,399.5ZM245.5,398.6L245.3,392.5L254.8,387.2L254.9,393.3ZM245.3,392.5L245.7,386.7L255.1,381.4L254.8,387.2ZM245.7,386.7L246.6,381.2L256.0,375.9L255.1,381.4ZM246.6,381.2L248.0,376.0L257.4,370.7L256.0,375.9ZM238.6,381.4L240.5,376.7L259.3,366.0L257.4,370.7ZM240.5,376.7L242.9,372.4L261.7,361.8L259.3,366.0ZM242.9,372.4L245.8,368.8L255.2,363.4L252.3,367.1ZM245.8,368.8L249.1,365.7L258.5,360.3L255.2,363.4ZM239.6,371.0L243.3,368.5L262.1,357.9L258.5,360.3Z" fill="#69b400" stroke="#69b400" stroke-width="0.70"/>
<path d="M254.3,505.0L250.3,506.8L363.8,443.8L367.8,442.0ZM259.7,501.6L255.4,502.7L359.4,445.0L363.8,443.8ZM255.4,502.7L250.9,503.2L354.9,445.5L359.4,445.0ZM260.4,498.0L255.6,497.8L350.1,445.3L354.9,445.5ZM255.6,497.8L250.8,496.9L345.2,444.4L350.1,445.3ZM260.2,491.6L255.3,490.1L340.2,442.8L345.2,444.4ZM255.3,490.1L250.3,487.8L335.2,440.6L340.2,442.8ZM250.3,487.8L245.4,485.0L330.3,437.7L335.2,440.6ZM254.8,479.7L250.0,476.3L325.4,434.2L330.3,437.7ZM250.0,476.3L245.3,472.3L320.7,430.2L325.4,434.2ZM254.7,467.0L250.3,462.5L316.2,425.7L320.7,430.2ZM250.3,462.5L246.0,457.6L312.0,420.7L316.2,425.7ZM255.5,452.3L251.6,446.9L308.0,415.3L312.0,420.7ZM261.0,441.6L257.4,435.9L304.5,409.6L308.0,415.3ZM257.4,435.9L254.3,430.0L301.3,403.6L304.5,409.6ZM254.3,430.0L251.5,423.8L298.6,397.4L301.3,403.6ZM260.9,418.5L258.7,412.2L296.3,391.0L298.6,397.4ZM258.7,412.2L256.9,405.8L294.5,384.7L296.3,391.0ZM256.9,405.8L255.7,399.5L293.3,378.3L294.5,384.7ZM255.7,399.5L254.9,393.3L292.6,372.1L293.3,378.3ZM254.9,393.3L254.8,387.2L292.4,366.0L292.6,372.1ZM254.8,387.2L255.1,381.4L292.7,360.1L292.4,366.0ZM255.1,381.4L256.0,375.9L293.6,354.6L292.7,360.1ZM256.0,375.9L257.4,370.7L295.0,349.4L293.6,354.6ZM257.4,370.7L259.3,366.0L297.0,344.7L295.0,349.4ZM259.3,366.0L261.7,361.8L299.4,340.5L297.0,344.7ZM252.3,367.1L255.2,363.4L302.2,336.8L299.4,340.5ZM255.2,363.4L258.5,360.3L305.5,333.7L302.2,336.8ZM258.5,360.3L262.1,357.9L309.2,331.2L305.5,333.7Z" fill="#acb700" stroke="#acb700" stroke-width="0.70"/>
<path d="M240.8,512.1L236.5,513.2L246.0,508.0L250.3,506.8ZM236.5,513.2L232.0,513.7L241.4,508.5L246.0,508.0ZM232.0,513.7L227.3,513.5L236.7,508.2L241.4,508.5ZM236.7,508.2L231.9,507.4L241.3,502.1L246.2,503.0ZM231.9,507.4L226.9,505.8L236.4,500.6L241.3,502.1ZM236.4,500.6L231.4,498.3L240.9,493.1L245.8,495.3ZM231.4,498.3L226.5,495.5L236.0,490.2L240.9,493.1ZM236.0,490.2L231.1,486.8L240.6,481.5L245.4,485.0ZM231.1,486.8L226.5,482.8L235.9,477.5L240.6,481.5ZM235.9,477.5L231.4,473.0L240.8,467.8L245.3,472.3ZM231.4,473.0L227.2,468.1L236.6,462.8L240.8,467.8ZM236.6,462.8L232.7,457.5L242.1,452.2L246.0,457.6ZM232.7,457.5L229.2,451.8L238.6,446.5L242.1,452.2ZM229.2,451.8L226.0,445.8L244.8,435.2L248.0,441.2ZM235.4,440.5L232.7,434.4L242.1,429.1L244.8,435.2ZM232.7,434.4L230.5,428.1L239.9,422.8L242.1,429.1ZM230.5,428.1L228.7,421.7L247.5,411.1L249.3,417.5ZM228.7,421.7L227.4,415.4L246.3,404.8L247.5,411.1ZM227.4,415.4L226.7,409.2L245.5,398.6L246.3,404.8ZM226.7,409.2L226.5,403.1L245.3,392.5L245.5,398.6ZM226.5,403.1L226.9,397.3L245.7,386.7L245.3,392.5ZM226.9,397.3L227.8,391.8L246.6,381.2L245.7,386.7ZM227.8,391.8L229.2,386.7L248.0,376.0L246.6,381.2ZM229.2,386.7L231.1,382.0L240.5,376.7L238.6,381.4ZM231.1,382.0L233.5,377.8L242.9,372.4L240.5,376.7ZM224.1,383.1L227.0,379.4L245.8,368.8L242.9,372.4ZM227.0,379.4L230.2,376.3L249.1,365.7L245.8,368.8ZM230.2,376.3L233.9,373.9L243.3,368.5L239.6,371.0Z" fill="#22ae00" stroke="#22ae00" stroke-width="0.70"/>
<path d="M227.3,513.5L222.4,512.6L231.9,507.4L236.7,508.2ZM222.4,512.6L217.5,511.1L226.9,505.8L231.9,507.4ZM217.5,511.1L212.6,508.8L231.4,498.3L236.4,500.6ZM222.0,503.6L217.1,500.7L226.5,495.5L231.4,498.3ZM217.1,500.7L212.3,497.3L231.1,486.8L236.0,490.2ZM221.7,492.1L217.0,488.1L226.5,482.8L231.1,486.8ZM217.0,488.1L212.6,483.6L231.4,473.0L235.9,477.5ZM222.0,478.3L217.8,473.4L227.2,468.1L231.4,473.0ZM217.8,473.4L213.9,468.0L232.7,457.5L236.6,462.8ZM213.9,468.0L210.3,462.3L229.2,451.8L232.7,457.5ZM219.8,457.0L216.6,451.1L226.0,445.8L229.2,451.8ZM216.6,451.1L213.9,444.9L232.7,434.4L235.4,440.5ZM213.9,444.9L211.6,438.6L230.5,428.1L232.7,434.4ZM221.1,433.4L219.3,427.0L228.7,421.7L230.5,428.1ZM219.3,427.0L218.0,420.7L227.4,415.4L228.7,421.7ZM218.0,420.7L217.3,414.5L226.7,409.2L227.4,415.4ZM217.3,414.5L217.1,408.4L226.5,403.1L226.7,409.2ZM217.1,408.4L217.5,402.6L226.9,397.3L226.5,403.1ZM217.5,402.6L218.4,397.1L227.8,391.8L226.9,397.3ZM218.4,397.1L219.8,392.0L229.2,386.7L227.8,391.8ZM219.8,392.0L221.7,387.3L231.1,382.0L229.2,386.7ZM212.3,392.6L214.7,388.4L233.5,377.8L231.1,382.0ZM214.7,388.4L217.5,384.8L227.0,379.4L224.1,383.1ZM217.5,384.8L220.8,381.7L230.2,376.3L227.0,379.4ZM211.4,387.0L215.1,384.5L233.9,373.9L230.2,376.3Z" fill="#00ac22" stroke="#00ac22" stroke-width="0.70"/>
<path d="M212.6,508.8L207.7,506.0L217.1,500.7L222.0,503.6ZM207.7,506.0L202.8,502.6L212.3,497.3L217.1,500.7ZM212.3,497.3L207.6,493.3L217.0,488.1L221.7,492.1ZM207.6,493.3L203.1,488.8L212.6,483.6L217.0,488.1ZM203.1,488.8L199.0,483.9L217.8,473.4L222.0,478.3ZM208.4,478.6L204.5,473.3L213.9,468.0L217.8,473.4ZM204.5,473.3L200.9,467.6L210.3,462.3L213.9,468.0ZM210.3,462.3L207.2,456.4L216.6,451.1L219.8,457.0ZM207.2,456.4L204.5,450.2L213.9,444.9L216.6,451.1ZM204.5,450.2L202.2,443.9L211.6,438.6L213.9,444.9ZM202.2,443.9L200.5,437.6L219.3,427.0L221.1,433.4ZM209.9,432.3L208.6,426.0L218.0,420.7L219.3,427.0ZM208.6,426.0L207.9,419.8L217.3,414.5L218.0,420.7ZM207.9,419.8L207.7,413.7L217.1,408.4L217.3,414.5ZM207.7,413.7L208.1,407.9L217.5,402.6L217.1,408.4ZM208.1,407.9L209.0,402.4L218.4,397.1L217.5,402.6ZM209.0,402.4L210.4,397.3L219.8,392.0L218.4,397.1ZM201.0,402.6L202.9,398.0L221.7,387.3L219.8,392.0ZM202.9,398.0L205.3,393.8L214.7,388.4L212.3,392.6ZM205.3,393.8L208.1,390.1L217.5,384.8L214.7,388.4ZM208.1,390.1L211.4,387.0L220.8,381.7L217.5,384.8ZM202.0,392.3L205.6,389.9L215.1,384.5L211.4,387.0Z" fill="#00ae69" stroke="#00ae69" stroke-width="0.70"/>
<path d="M202.8,502.6L198.2,498.6L207.6,493.3L212.3,497.3ZM198.2,498.6L193.7,494.1L203.1,488.8L207.6,493.3ZM199.0,483.9L195.1,478.5L204.5,473.3L208.4,478.6ZM195.1,478.5L191.5,472.9L200.9,467.6L204.5,473.3ZM200.9,467.6L197.8,461.6L207.2,456.4L210.3,462.3ZM197.8,461.6L195.1,455.5L204.5,450.2L207.2,456.4ZM195.1,455.5L192.8,449.2L202.2,443.9L204.5,450.2ZM200.5,437.6L199.2,431.3L208.6,426.0L209.9,432.3ZM199.2,431.3L198.5,425.1L207.9,419.8L208.6,426.0ZM198.5,425.1L198.3,419.1L207.7,413.7L207.9,419.8ZM198.3,419.1L198.7,413.3L208.1,407.9L207.7,413.7ZM198.7,413.3L199.6,407.8L209.0,402.4L208.1,407.9ZM199.6,407.8L201.0,402.6L210.4,397.3L209.0,402.4ZM191.6,408.0L193.5,403.3L202.9,398.0L201.0,402.6ZM193.5,403.3L195.9,399.1L205.3,393.8L202.9,398.0ZM195.9,399.1L198.7,395.4L208.1,390.1L205.3,393.8ZM198.7,395.4L202.0,392.3L211.4,387.0L208.1,390.1ZM192.6,397.7L196.2,395.2L205.6,389.9L202.0,392.3Z" fill="#00b4ac" stroke="#00b4ac" stroke-width="0.70"/>
<path d="M193.7,494.1L189.5,489.2L199.0,483.9L203.1,488.8ZM189.5,489.2L185.6,483.8L195.1,478.5L199.0,483.9ZM191.5,472.9L188.4,466.9L197.8,461.6L200.9,467.6ZM188.4,466.9L185.7,460.8L195.1,455.5L197.8,461.6ZM192.8,449.2L191.1,442.9L200.5,437.6L202.2,443.9ZM191.1,442.9L189.8,436.6L199.2,431.3L200.5,437.6ZM189.8,436.6L189.1,430.4L198.5,425.1L199.2,431.3ZM189.1,430.4L188.9,424.4L198.3,419.1L198.5,425.1ZM188.9,424.4L189.3,418.6L198.7,413.3L198.3,419.1ZM189.3,418.6L190.2,413.1L199.6,407.8L198.7,413.3ZM190.2,413.1L191.6,408.0L201.0,402.6L199.6,407.8ZM184.1,408.6L186.5,404.4L195.9,399.1L193.5,403.3ZM186.5,404.4L189.3,400.8L198.7,395.4L195.9,399.1ZM189.3,400.8L192.6,397.7L202.0,392.3L198.7,395.4Z" fill="#0087b7" stroke="#0087b7" stroke-width="0.70"/>
<path d="M185.6,483.8L182.1,478.1L191.5,472.9L195.1,478.5ZM182.1,478.1L179.0,472.2L188.4,466.9L191.5,472.9ZM185.7,460.8L183.4,454.5L192.8,449.2L195.1,455.5ZM183.4,454.5L181.7,448.2L191.1,442.9L192.8,449.2ZM181.7,448.2L180.4,441.9L189.8,436.6L191.1,442.9ZM180.4,441.9L179.7,435.7L189.1,430.4L189.8,436.6ZM179.7,435.7L179.5,429.7L188.9,424.4L189.1,430.4ZM179.5,429.7L179.9,423.9L189.3,418.6L188.9,424.4ZM179.9,423.9L180.8,418.4L190.2,413.1L189.3,418.6ZM180.8,418.4L182.2,413.3L191.6,408.0L190.2,413.1ZM182.2,413.3L184.1,408.6L193.5,403.3L191.6,408.0ZM177.1,409.7L179.9,406.1L189.3,400.8L186.5,404.4ZM179.9,406.1L183.2,403.0L192.6,397.7L189.3,400.8ZM183.2,403.0L186.8,400.5L196.2,395.2L192.6,397.7Z" fill="#0043b7" stroke="#0043b7" stroke-width="0.70"/>
<path d="M179.0,472.2L176.3,466.1L185.7,460.8L188.4,466.9ZM176.3,466.1L174.0,459.8L183.4,454.5L185.7,460.8ZM174.0,459.8L172.3,453.5L181.7,448.2L183.4,454.5ZM172.3,453.5L171.0,447.2L180.4,441.9L181.7,448.2ZM171.0,447.2L170.3,441.0L179.7,435.7L180.4,441.9ZM170.3,441.0L170.1,435.0L179.5,429.7L179.7,435.7ZM170.1,435.0L170.5,429.2L179.9,423.9L179.5,429.7ZM170.5,429.2L171.4,423.7L180.8,418.4L179.9,423.9ZM171.4,423.7L172.8,418.6L182.2,413.3L180.8,418.4ZM172.8,418.6L174.7,413.9L184.1,408.6L182.2,413.3ZM174.7,413.9L177.1,409.7L186.5,404.4L184.1,408.6Z" fill="#0000b4" stroke="#0000b4" stroke-width="0.70"/>
<g fill="none" stroke="#000" stroke-opacity="0.80" stroke-width="0.55">
<path id="c_i" d="M244.8,510.3l-4.7,2l-5,1.2l-5.3,0.2l-5.6,-0.7l-5.7,-1.6l-5.7,-2.5l-5.7,-3.3l-5.6,-4.1l-5.3,-4.8l-5,-5.5l-4.7,-6.1l-4.1,-6.5l-3.7,-6.9l-3,-7.1l-2.4,-7.3l-1.8,-7.3l-1,-7.3l-0.4,-7l0.4,-6.7l1.1,-6.3l1.8,-5.8l2.4,-5.2l3.1,-4.5l3.7,-3.7l4.2,-3"/>
<use href="#c_i" transform="matrix(1.0008 0 0 1.0008 9.3 -5.6)" stroke-width="0.55"/>
<use href="#c_i" transform="matrix(1.0015 0 0 1.0015 18.5 -11.3)" stroke-width="0.55"/>
<use href="#c_i" transform="matrix(1.0023 0 0 1.0023 27.8 -16.9)" stroke-width="0.55"/>
<use href="#c_i" transform="matrix(1.0031 0 0 1.0031 37.1 -22.6)" stroke-width="0.55"/>
<use href="#c_i" transform="matrix(1.0038 0 0 1.0038 46.4 -28.2)" stroke-width="0.55"/>
<use href="#c_i" transform="matrix(1.0046 0 0 1.0046 55.6 -33.9)" stroke-width="0.55"/>
<use href="#c_i" transform="matrix(1.0054 0 0 1.0054 64.9 -39.5)" stroke-width="0.55"/>
<use href="#c_i" transform="matrix(1.0062 0 0 1.0062 74.2 -45.1)" stroke-width="0.55"/>
<use href="#c_i" transform="matrix(1.0069 0 0 1.0069 83.5 -50.8)" stroke-width="0.55"/>
<use href="#c_i" transform="matrix(1.0077 0 0 1.0077 92.7 -56.4)" stroke-width="0.55"/>
<use href="#c_i" transform="matrix(1.0085 0 0 1.0085 102.0 -62.1)" stroke-width="0.55"/>
<use href="#c_i" transform="matrix(1.0092 0 0 1.0092 111.3 -67.7)" stroke-width="0.54"/>
<use href="#c_i" transform="matrix(1.0100 0 0 1.0100 120.5 -73.4)" stroke-width="0.54"/>
<path d="M244.8,510.3l123.0,-68.3M240.1,512.3l122.9,-68.2M235.1,513.5l122.9,-68.2M229.8,513.7l122.8,-68.2M224.2,513.0l122.8,-68.2M218.5,511.4l122.7,-68.2M212.8,508.9l122.7,-68.3M207.1,505.6l122.6,-68.3M201.5,501.5l122.6,-68.3M196.2,496.7l122.5,-68.4M191.2,491.2l122.5,-68.4M186.5,485.1l122.4,-68.5M182.4,478.6l122.4,-68.6M178.7,471.7l122.3,-68.6M175.7,464.6l122.3,-68.7M173.3,457.3l122.3,-68.8M171.5,450.0l122.3,-68.9M170.5,442.7l122.2,-68.9M170.1,435.7l122.2,-69.0M170.5,429.0l122.2,-69.1M171.6,422.7l122.3,-69.1M173.4,416.9l122.3,-69.2M175.8,411.7l122.3,-69.2M178.9,407.2l122.3,-69.3M182.6,403.5l122.4,-69.3M186.8,400.5l122.4,-69.3"/>
</g>
</g>
<path d="M156.4,416 L145.3,421.8 L155.7,430 L162,435 L174.5,446 L190,455.6 L208,469.5 L239,486 L260,495 L274,496.5 M286,496 L320,476 L360,452 L401,426 L419.6,410.4 L396,394" fill="none" stroke="#111" stroke-width="1.3" stroke-dasharray="4.5 2.3"/>
<text x="0" y="0" transform="translate(404.5 395.5) scale(1.25 1)" class="lsr" font-style="italic" font-size="21" fill="#111" stroke="#111" stroke-width="0.3">β</text>
</g>
<g id="pd">
<defs><clipPath id="d_in"><ellipse cx="649.50" cy="453.60" rx="62.70" ry="42.61" transform="rotate(63.083 649.50 453.60)"/></clipPath></defs>
<path d="M607.3,376.6L611.1,374.5L743.2,300.9L739.5,302.8ZM611.1,374.5L615.2,372.9L747.0,299.3L743.2,300.9ZM615.2,372.9L619.5,371.7L751.1,298.2L747.0,299.3ZM619.5,371.7L623.9,371.0L755.3,297.5L751.1,298.2ZM623.9,371.0L628.4,370.7L759.6,297.2L755.3,297.5ZM628.4,370.7L633.1,370.8L764.0,297.4L759.6,297.2ZM633.1,370.8L637.8,371.4L768.5,297.9L764.0,297.4ZM637.8,371.4L642.6,372.4L773.1,298.9L768.5,297.9ZM642.6,372.4L647.5,373.9L777.7,300.3L773.1,298.9ZM647.5,373.9L652.3,375.8L782.3,302.1L777.7,300.3ZM652.3,375.8L657.2,378.1L786.9,304.2L782.3,302.1ZM657.2,378.1L662.0,380.8L791.5,306.8L786.9,304.2ZM662.0,380.8L666.7,383.9L796.0,309.7L791.5,306.8ZM666.7,383.9L671.4,387.3L800.4,313.0L796.0,309.7ZM671.4,387.3L675.9,391.1L804.7,316.6L800.4,313.0ZM675.9,391.1L680.3,395.3L808.8,320.6L804.7,316.6ZM680.3,395.3L684.5,399.7L812.8,324.8L808.8,320.6ZM684.5,399.7L688.5,404.5L816.7,329.3L812.8,324.8ZM688.5,404.5L692.3,409.5L820.3,334.1L816.7,329.3ZM692.3,409.5L695.9,414.7L823.7,339.1L820.3,334.1ZM695.9,414.7L699.3,420.2L826.9,344.2L823.7,339.1ZM699.3,420.2L702.4,425.8L829.8,349.6L826.9,344.2ZM702.4,425.8L705.2,431.6L832.5,355.1L829.8,349.6ZM705.2,431.6L707.7,437.5L834.9,360.7L832.5,355.1ZM707.7,437.5L709.9,443.4L837.0,366.4L834.9,360.7ZM709.9,443.4L711.7,449.5L838.7,372.1L837.0,366.4ZM711.7,449.5L713.3,455.5L840.2,377.8L838.7,372.1ZM713.3,455.5L714.5,461.6L841.3,383.6L840.2,377.8ZM714.5,461.6L715.3,467.6L842.1,389.3L841.3,383.6ZM715.3,467.6L715.8,473.5L842.6,394.9L842.1,389.3ZM715.8,473.5L716.0,479.3L842.8,400.4L842.6,394.9ZM716.0,479.3L715.8,485.0L842.6,405.8L842.8,400.4ZM715.8,485.0L715.2,490.5L842.0,411.1L842.6,405.8ZM715.2,490.5L714.3,495.9L841.2,416.1L842.0,411.1ZM714.3,495.9L713.1,501.0L840.0,421.0L841.2,416.1ZM713.1,501.0L711.5,505.8L838.5,425.6L840.0,421.0ZM711.5,505.8L709.5,510.4L836.6,429.9L838.5,425.6ZM709.5,510.4L707.3,514.6L834.5,434.0L836.6,429.9ZM707.3,514.6L704.7,518.6L832.1,437.7L834.5,434.0ZM704.7,518.6L701.9,522.1L829.4,441.1L832.1,437.7ZM701.9,522.1L698.7,525.4L826.4,444.2L829.4,441.1ZM698.7,525.4L695.4,528.2L823.2,446.9L826.4,444.2ZM695.4,528.2L691.7,530.6L819.7,449.2L823.2,446.9Z" fill="#0000c4" stroke="#0000c4" stroke-width="0.70"/>
<g fill="none" stroke="#000" stroke-opacity="0.80" stroke-width="0.50">
<path id="d_r" d="M607.3,376.6l1.8,-1.1l1.9,-0.9l1.9,-0.9l2,-0.7l2.1,-0.6l2,-0.6l2.1,-0.4l2.2,-0.3l2.1,-0.3l2.2,-0.1l2.3,0l2.2,0.1l2.3,0.2l2.3,0.2l2.3,0.4l2.3,0.5l2.4,0.6l2.3,0.7l2.4,0.8l2.3,0.9l2.3,1l2.4,1.1l2.3,1.1l2.3,1.3l2.4,1.4l2.2,1.5l2.3,1.5l2.3,1.6l2.2,1.8l2.2,1.8l2.2,1.8l2.1,2l2.1,2l2.1,2.1l2,2.2l2,2.3l1.9,2.3l1.9,2.3l1.9,2.5l1.7,2.5l1.8,2.5l1.6,2.6l1.7,2.6l1.5,2.7l1.5,2.7l1.4,2.8l1.4,2.8l1.3,2.8l1.2,2.8l1.1,2.9l1.1,2.9l1,2.9l0.9,2.9l0.9,2.9l0.8,2.9l0.7,3l0.6,2.9l0.5,2.9l0.5,2.9l0.3,2.9l0.3,2.9l0.2,2.8l0.1,2.9l0.1,2.8l-0.1,2.8l-0.1,2.7l-0.2,2.7l-0.3,2.6l-0.3,2.7l-0.5,2.5l-0.5,2.5l-0.7,2.5l-0.6,2.4l-0.8,2.3l-0.9,2.3l-0.9,2.2l-1,2.1l-1.1,2.1l-1.1,2l-1.3,1.9l-1.2,1.9l-1.4,1.7l-1.4,1.7l-1.5,1.6l-1.6,1.5l-1.6,1.4l-1.7,1.3l-1.7,1.2l-1.8,1.1"/>
<use href="#d_r" transform="matrix(0.9987 0 0 0.9987 4.2 -1.4)" stroke-width="0.50"/>
<use href="#d_r" transform="matrix(0.9974 0 0 0.9974 8.3 -2.8)" stroke-width="0.50"/>
<use href="#d_r" transform="matrix(0.9962 0 0 0.9962 12.5 -4.2)" stroke-width="0.50"/>
<use href="#d_r" transform="matrix(0.9949 0 0 0.9949 16.7 -5.6)" stroke-width="0.50"/>
<use href="#d_r" transform="matrix(0.9936 0 0 0.9936 20.8 -7.0)" stroke-width="0.50"/>
<use href="#d_r" transform="matrix(0.9923 0 0 0.9923 25.0 -8.4)" stroke-width="0.50"/>
<use href="#d_r" transform="matrix(0.9910 0 0 0.9910 29.2 -9.9)" stroke-width="0.50"/>
<use href="#d_r" transform="matrix(0.9897 0 0 0.9897 33.3 -11.3)" stroke-width="0.51"/>
<use href="#d_r" transform="matrix(0.9885 0 0 0.9885 37.5 -12.7)" stroke-width="0.51"/>
<use href="#d_r" transform="matrix(0.9872 0 0 0.9872 41.7 -14.1)" stroke-width="0.51"/>
<use href="#d_r" transform="matrix(0.9859 0 0 0.9859 45.9 -15.5)" stroke-width="0.51"/>
<use href="#d_r" transform="matrix(0.9846 0 0 0.9846 50.0 -16.9)" stroke-width="0.51"/>
<use href="#d_r" transform="matrix(0.9833 0 0 0.9833 54.2 -18.3)" stroke-width="0.51"/>
<use href="#d_r" transform="matrix(0.9821 0 0 0.9821 58.4 -19.7)" stroke-width="0.51"/>
<use href="#d_r" transform="matrix(0.9808 0 0 0.9808 62.5 -21.1)" stroke-width="0.51"/>
<use href="#d_r" transform="matrix(0.9795 0 0 0.9795 66.7 -22.5)" stroke-width="0.51"/>
<use href="#d_r" transform="matrix(0.9782 0 0 0.9782 70.9 -23.9)" stroke-width="0.51"/>
<use href="#d_r" transform="matrix(0.9769 0 0 0.9769 75.0 -25.3)" stroke-width="0.51"/>
<use href="#d_r" transform="matrix(0.9756 0 0 0.9756 79.2 -26.8)" stroke-width="0.51"/>
<use href="#d_r" transform="matrix(0.9744 0 0 0.9744 83.4 -28.2)" stroke-width="0.51"/>
<use href="#d_r" transform="matrix(0.9731 0 0 0.9731 87.5 -29.6)" stroke-width="0.51"/>
<use href="#d_r" transform="matrix(0.9718 0 0 0.9718 91.7 -31.0)" stroke-width="0.51"/>
<use href="#d_r" transform="matrix(0.9705 0 0 0.9705 95.9 -32.4)" stroke-width="0.52"/>
<use href="#d_r" transform="matrix(0.9692 0 0 0.9692 100.0 -33.8)" stroke-width="0.52"/>
<use href="#d_r" transform="matrix(0.9679 0 0 0.9679 104.2 -35.2)" stroke-width="0.52"/>
<use href="#d_r" transform="matrix(0.9667 0 0 0.9667 108.4 -36.6)" stroke-width="0.52"/>
<use href="#d_r" transform="matrix(0.9654 0 0 0.9654 112.6 -38.0)" stroke-width="0.52"/>
<use href="#d_r" transform="matrix(0.9641 0 0 0.9641 116.7 -39.4)" stroke-width="0.52"/>
<use href="#d_r" transform="matrix(0.9628 0 0 0.9628 120.9 -40.8)" stroke-width="0.52"/>
<use href="#d_r" transform="matrix(0.9615 0 0 0.9615 125.1 -42.2)" stroke-width="0.52"/>
<use href="#d_r" transform="matrix(0.9603 0 0 0.9603 129.2 -43.7)" stroke-width="0.52"/>
<use href="#d_r" transform="matrix(0.9590 0 0 0.9590 133.4 -45.1)" stroke-width="0.52"/>
<use href="#d_r" transform="matrix(0.9577 0 0 0.9577 137.6 -46.5)" stroke-width="0.52"/>
<use href="#d_r" transform="matrix(0.9564 0 0 0.9564 141.7 -47.9)" stroke-width="0.52"/>
<use href="#d_r" transform="matrix(0.9551 0 0 0.9551 145.9 -49.3)" stroke-width="0.52"/>
<use href="#d_r" transform="matrix(0.9538 0 0 0.9538 150.1 -50.7)" stroke-width="0.52"/>
<use href="#d_r" transform="matrix(0.9526 0 0 0.9526 154.2 -52.1)" stroke-width="0.52"/>
<use href="#d_r" transform="matrix(0.9513 0 0 0.9513 158.4 -53.5)" stroke-width="0.53"/>
<use href="#d_r" transform="matrix(0.9500 0 0 0.9500 162.6 -54.9)" stroke-width="0.53"/>
<path d="M607.3,376.6l132.2,-73.7M609.1,375.5l132.1,-73.7M611.0,374.6l132.0,-73.6M612.9,373.7l131.9,-73.6M614.9,373.0l131.8,-73.6M617.0,372.4l131.7,-73.5M619.0,371.8l131.6,-73.5M621.1,371.4l131.5,-73.5M623.3,371.1l131.4,-73.5M625.4,370.8l131.3,-73.5M627.6,370.7l131.2,-73.5M629.9,370.7l131.1,-73.5M632.1,370.8l131.0,-73.5M634.4,371.0l130.9,-73.5M636.7,371.2l130.7,-73.5M639.0,371.6l130.6,-73.5M641.3,372.1l130.5,-73.5M643.7,372.7l130.4,-73.6M646.0,373.4l130.3,-73.6M648.4,374.2l130.2,-73.6M650.7,375.1l130.0,-73.7M653.0,376.1l129.9,-73.7M655.4,377.2l129.8,-73.8M657.7,378.3l129.7,-73.8M660.0,379.6l129.6,-73.9M662.4,381.0l129.5,-74.0M664.6,382.5l129.3,-74.0M666.9,384.0l129.2,-74.1M669.2,385.6l129.1,-74.2M671.4,387.4l129.0,-74.3M673.6,389.2l128.9,-74.4M675.8,391.0l128.8,-74.5M677.9,393.0l128.7,-74.6M680.0,395.0l128.6,-74.7M682.1,397.1l128.5,-74.8M684.1,399.3l128.4,-74.9M686.1,401.6l128.3,-75.0M688.0,403.9l128.2,-75.1M689.9,406.2l128.1,-75.2M691.8,408.7l128.0,-75.4M693.5,411.2l127.9,-75.5M695.3,413.7l127.8,-75.6M696.9,416.3l127.7,-75.7M698.6,418.9l127.6,-75.9M700.1,421.6l127.6,-76.0M701.6,424.3l127.5,-76.1M703.0,427.1l127.4,-76.3M704.4,429.9l127.4,-76.4M705.7,432.7l127.3,-76.6M706.9,435.5l127.2,-76.7M708.0,438.4l127.2,-76.8M709.1,441.3l127.1,-77.0M710.1,444.2l127.1,-77.1M711.0,447.1l127.0,-77.3M711.9,450.0l127.0,-77.4M712.7,452.9l126.9,-77.6M713.4,455.9l126.9,-77.7M714.0,458.8l126.9,-77.9M714.5,461.7l126.8,-78.0M715.0,464.6l126.8,-78.2M715.3,467.5l126.8,-78.3M715.6,470.4l126.8,-78.4M715.8,473.2l126.8,-78.6M715.9,476.1l126.8,-78.7M716.0,478.9l126.8,-78.9M715.9,481.7l126.8,-79.0M715.8,484.4l126.8,-79.1M715.6,487.1l126.8,-79.3M715.3,489.7l126.8,-79.4M715.0,492.4l126.8,-79.5M714.5,494.9l126.9,-79.7M714.0,497.4l126.9,-79.8M713.3,499.9l126.9,-79.9M712.7,502.3l126.9,-80.0M711.9,504.6l127.0,-80.2M711.0,506.9l127.0,-80.3M710.1,509.1l127.1,-80.4M709.1,511.2l127.1,-80.5M708.0,513.3l127.2,-80.6M706.9,515.3l127.2,-80.7M705.6,517.2l127.3,-80.8M704.4,519.1l127.4,-80.9M703.0,520.8l127.4,-81.0M701.6,522.5l127.5,-81.0M700.1,524.1l127.6,-81.1M698.5,525.6l127.6,-81.2M696.9,527.0l127.7,-81.3M695.2,528.3l127.8,-81.3M693.5,529.5l127.9,-81.4M691.7,530.6l128.0,-81.5"/>
</g>
<path d="M677.9,509.5L674.4,511.0L684.4,534.1L689.3,532.0ZM674.4,511.0L670.6,512.1L679.1,535.6L684.4,534.1ZM670.6,512.1L666.8,512.6L673.7,536.4L679.1,535.6ZM666.8,512.6L662.7,512.7L668.0,536.5L673.7,536.4ZM662.7,512.7L658.6,512.3L662.2,536.0L668.0,536.5ZM658.6,512.3L654.4,511.5L656.3,534.8L662.2,536.0ZM654.4,511.5L650.1,510.2L650.4,532.9L656.3,534.8ZM650.1,510.2L645.9,508.4L644.4,530.4L650.4,532.9ZM645.9,508.4L641.7,506.2L638.5,527.3L644.4,530.4ZM641.7,506.2L637.5,503.5L632.7,523.6L638.5,527.3ZM637.5,503.5L633.4,500.5L627.0,519.4L632.7,523.6ZM633.4,500.5L629.5,497.1L621.5,514.6L627.0,519.4ZM629.5,497.1L625.7,493.3L616.2,509.3L621.5,514.6ZM625.7,493.3L622.1,489.2L611.1,503.5L616.2,509.3ZM622.1,489.2L618.8,484.8L606.4,497.4L611.1,503.5ZM618.8,484.8L615.7,480.2L602.1,490.9L606.4,497.4ZM615.7,480.2L612.8,475.4L598.1,484.1L602.1,490.9ZM612.8,475.4L610.3,470.4L594.5,477.1L598.1,484.1ZM610.3,470.4L608.0,465.2L591.4,469.9L594.5,477.1ZM608.0,465.2L606.1,460.0L588.7,462.5L591.4,469.9ZM606.1,460.0L604.6,454.7L586.5,455.1L588.7,462.5ZM604.6,454.7L603.4,449.4L584.9,447.7L586.5,455.1ZM603.4,449.4L602.6,444.1L583.7,440.3L584.9,447.7ZM602.6,444.1L602.2,438.9L583.1,433.0L583.7,440.3ZM602.2,438.9L602.1,433.8L583.0,425.9L583.1,433.0ZM602.1,433.8L602.4,428.9L583.5,419.0L583.0,425.9ZM602.4,428.9L603.1,424.2L584.5,412.4L583.5,419.0ZM603.1,424.2L604.2,419.7L586.0,406.1L584.5,412.4ZM604.2,419.7L605.6,415.5L588.0,400.2L586.0,406.1ZM605.6,415.5L607.4,411.6L590.5,394.7L588.0,400.2ZM607.4,411.6L609.6,408.0L593.5,389.7L590.5,394.7ZM609.6,408.0L612.0,404.8L597.0,385.2L593.5,389.7ZM612.0,404.8L614.8,402.0L600.8,381.3L597.0,385.2ZM614.8,402.0L617.8,399.6L605.1,378.0L600.8,381.3ZM617.8,399.6L621.1,397.7L609.7,375.2L605.1,378.0ZM621.1,397.7L624.6,396.2L614.6,373.1L609.7,375.2ZM624.6,396.2L628.4,395.1L619.9,371.6L614.6,373.1ZM628.4,395.1L632.2,394.6L625.3,370.8L619.9,371.6ZM632.2,394.6L636.3,394.5L631.0,370.7L625.3,370.8ZM636.3,394.5L640.4,394.9L636.8,371.2L631.0,370.7ZM640.4,394.9L644.6,395.7L642.7,372.4L636.8,371.2ZM644.6,395.7L648.9,397.0L648.6,374.3L642.7,372.4ZM648.9,397.0L653.1,398.8L654.6,376.8L648.6,374.3ZM653.1,398.8L657.3,401.0L660.5,379.9L654.6,376.8ZM657.3,401.0L661.5,403.7L666.3,383.6L660.5,379.9ZM661.5,403.7L665.6,406.7L672.0,387.8L666.3,383.6ZM665.6,406.7L669.5,410.1L677.5,392.6L672.0,387.8ZM669.5,410.1L673.3,413.9L682.8,397.9L677.5,392.6ZM673.3,413.9L676.9,418.0L687.9,403.7L682.8,397.9ZM676.9,418.0L680.2,422.4L692.6,409.8L687.9,403.7ZM680.2,422.4L683.3,427.0L696.9,416.3L692.6,409.8ZM683.3,427.0L686.2,431.8L700.9,423.1L696.9,416.3ZM686.2,431.8L688.7,436.8L704.5,430.1L700.9,423.1ZM688.7,436.8L691.0,442.0L707.6,437.3L704.5,430.1ZM691.0,442.0L692.9,447.2L710.3,444.7L707.6,437.3ZM692.9,447.2L694.4,452.5L712.5,452.1L710.3,444.7ZM694.4,452.5L695.6,457.8L714.1,459.5L712.5,452.1ZM695.6,457.8L696.4,463.1L715.3,466.9L714.1,459.5ZM696.4,463.1L696.8,468.3L715.9,474.2L715.3,466.9ZM696.8,468.3L696.9,473.4L716.0,481.3L715.9,474.2ZM696.9,473.4L696.6,478.3L715.5,488.2L716.0,481.3ZM696.6,478.3L695.9,483.0L714.5,494.8L715.5,488.2ZM695.9,483.0L694.8,487.5L713.0,501.1L714.5,494.8ZM694.8,487.5L693.4,491.7L711.0,507.0L713.0,501.1ZM693.4,491.7L691.6,495.6L708.5,512.5L711.0,507.0ZM691.6,495.6L689.4,499.2L705.5,517.5L708.5,512.5ZM689.4,499.2L687.0,502.4L702.0,522.0L705.5,517.5ZM687.0,502.4L684.2,505.2L698.2,525.9L702.0,522.0ZM684.2,505.2L681.2,507.6L693.9,529.2L698.2,525.9ZM681.2,507.6L677.9,509.5L689.3,532.0L693.9,529.2Z" fill="#0000d8" stroke="#0000d8" stroke-width="0.70"/>
<g fill="none" stroke="#000" stroke-opacity="0.80" stroke-width="0.50">
<path d="M677.9,509.5l-3.5,1.5l-3.8,1.1l-3.8,0.5l-4.1,0.1l-4.1,-0.4l-4.2,-0.8l-4.3,-1.3l-4.2,-1.8l-4.2,-2.2l-4.2,-2.7l-4.1,-3l-3.9,-3.4l-3.8,-3.8l-3.6,-4.1l-3.3,-4.4l-3.1,-4.6l-2.9,-4.8l-2.5,-5l-2.3,-5.2l-1.9,-5.2l-1.5,-5.3l-1.2,-5.3l-0.8,-5.3l-0.4,-5.2l-0.1,-5.1l0.3,-4.9l0.7,-4.7l1.1,-4.5l1.4,-4.2l1.8,-3.9l2.2,-3.6l2.4,-3.2l2.8,-2.8l3,-2.4l3.3,-1.9l3.5,-1.5l3.8,-1.1l3.8,-0.5l4.1,-0.1l4.1,0.4l4.2,0.8l4.3,1.3l4.2,1.8l4.2,2.2l4.2,2.7l4.1,3l3.9,3.4l3.8,3.8l3.6,4.1l3.3,4.4l3.1,4.6l2.9,4.8l2.5,5l2.3,5.2l1.9,5.2l1.5,5.3l1.2,5.3l0.8,5.3l0.4,5.2l0.1,5.1l-0.3,4.9l-0.7,4.7l-1.1,4.5l-1.4,4.2l-1.8,3.9l-2.2,3.6l-2.4,3.2l-2.8,2.8l-3,2.4l-3.3,1.9M681.3,516.3l-3.9,1.6l-4.2,1.2l-4.4,0.6l-4.5,0.2l-4.6,-0.5l-4.7,-0.9l-4.8,-1.5l-4.8,-2l-4.7,-2.5l-4.7,-2.9l-4.5,-3.4l-4.4,-3.9l-4.2,-4.2l-4.1,-4.6l-3.7,-4.9l-3.5,-5.2l-3.2,-5.4l-2.9,-5.6l-2.5,-5.8l-2.1,-5.9l-1.7,-5.9l-1.3,-5.9l-1,-6l-0.5,-5.8l0,-5.7l0.3,-5.5l0.8,-5.3l1.2,-5l1.7,-4.7l2,-4.4l2.4,-4l2.7,-3.5l3.1,-3.2l3.4,-2.7l3.7,-2.2l3.9,-1.6l4.2,-1.2l4.4,-0.6l4.5,-0.2l4.6,0.5l4.7,0.9l4.8,1.5l4.8,2l4.7,2.5l4.7,2.9l4.5,3.4l4.4,3.9l4.2,4.2l4.1,4.6l3.7,4.9l3.5,5.2l3.2,5.4l2.9,5.6l2.5,5.8l2.1,5.9l1.7,5.9l1.3,5.9l1,6l0.5,5.8l0,5.7l-0.3,5.5l-0.8,5.3l-1.2,5l-1.7,4.7l-2,4.4l-2.4,4l-2.7,3.5l-3.1,3.2l-3.4,2.7l-3.7,2.2M684.2,521.9l-4.3,1.8l-4.6,1.3l-4.7,0.7l-5,0.1l-5,-0.5l-5.1,-1l-5.2,-1.6l-5.2,-2.2l-5.2,-2.7l-5.1,-3.2l-4.9,-3.7l-4.8,-4.2l-4.6,-4.6l-4.4,-5l-4.1,-5.3l-3.8,-5.7l-3.5,-5.9l-3.1,-6.1l-2.7,-6.3l-2.3,-6.4l-1.9,-6.5l-1.5,-6.5l-1,-6.4l-0.5,-6.4l-0.1,-6.2l0.4,-6l0.9,-5.7l1.3,-5.5l1.8,-5.1l2.1,-4.8l2.6,-4.3l3,-3.9l3.4,-3.5l3.7,-2.9l4,-2.4l4.3,-1.8l4.6,-1.3l4.7,-0.7l5,-0.1l5,0.5l5.1,1l5.2,1.6l5.2,2.2l5.2,2.7l5.1,3.2l4.9,3.7l4.8,4.2l4.6,4.6l4.4,5l4.1,5.3l3.8,5.7l3.5,5.9l3.1,6.1l2.7,6.3l2.3,6.4l1.9,6.5l1.5,6.5l1,6.4l0.5,6.4l0.1,6.2l-0.4,6l-0.9,5.7l-1.3,5.5l-1.8,5.1l-2.1,4.8l-2.6,4.3l-3,3.9l-3.4,3.5l-3.7,2.9l-4,2.4M687.0,527.5l-4.6,2l-5,1.4l-5.1,0.7l-5.3,0.1l-5.5,-0.5l-5.5,-1.1l-5.7,-1.7l-5.6,-2.4l-5.6,-2.9l-5.5,-3.5l-5.3,-4l-5.2,-4.5l-5,-5l-4.8,-5.4l-4.4,-5.8l-4.1,-6.1l-3.8,-6.4l-3.3,-6.6l-3,-6.9l-2.5,-6.9l-2,-7l-1.6,-7l-1.1,-7l-0.6,-6.8l0,-6.7l0.4,-6.5l0.9,-6.3l1.4,-5.9l1.9,-5.6l2.4,-5.1l2.8,-4.7l3.3,-4.2l3.6,-3.7l4,-3.2l4.4,-2.6l4.6,-2l5,-1.4l5.1,-0.7l5.3,-0.1l5.5,0.5l5.5,1.1l5.7,1.7l5.6,2.4l5.6,2.9l5.5,3.5l5.3,4l5.2,4.5l5,5l4.8,5.4l4.4,5.8l4.1,6.1l3.8,6.4l3.3,6.6l3,6.9l2.5,6.9l2,7l1.6,7l1.1,7l0.6,6.8l0,6.7l-0.4,6.5l-0.9,6.3l-1.4,5.9l-1.9,5.6l-2.4,5.1l-2.8,4.7l-3.3,4.2l-3.6,3.7l-4,3.2l-4.4,2.6M689.3,532.0l-4.9,2.1l-5.3,1.5l-5.4,0.8l-5.7,0.1l-5.8,-0.5l-5.9,-1.2l-5.9,-1.9l-6,-2.5l-5.9,-3.1l-5.8,-3.7l-5.7,-4.2l-5.5,-4.8l-5.3,-5.3l-5.1,-5.8l-4.7,-6.1l-4.3,-6.5l-4,-6.8l-3.6,-7l-3.1,-7.2l-2.7,-7.4l-2.2,-7.4l-1.6,-7.4l-1.2,-7.4l-0.6,-7.3l-0.1,-7.1l0.5,-6.9l1,-6.6l1.5,-6.3l2,-5.9l2.5,-5.5l3,-5l3.5,-4.5l3.8,-3.9l4.3,-3.3l4.6,-2.8l4.9,-2.1l5.3,-1.5l5.4,-0.8l5.7,-0.1l5.8,0.5l5.9,1.2l5.9,1.9l6,2.5l5.9,3.1l5.8,3.7l5.7,4.2l5.5,4.8l5.3,5.3l5.1,5.8l4.7,6.1l4.3,6.5l4,6.8l3.6,7l3.1,7.2l2.7,7.4l2.2,7.4l1.6,7.4l1.2,7.4l0.6,7.3l0.1,7.1l-0.5,6.9l-1,6.6l-1.5,6.3l-2,5.9l-2.5,5.5l-3,5l-3.5,4.5l-3.8,3.9l-4.3,3.3l-4.6,2.8"/>
</g>
<path d="M677.9,509.5l11.4,22.5M674.4,511.0l10.0,23.1M670.6,512.1l8.5,23.5M666.8,512.6l6.9,23.7M662.7,512.7l5.3,23.8M658.6,512.3l3.7,23.6M654.4,511.5l2.0,23.3M650.1,510.2l0.3,22.7M645.9,508.4l-1.5,22.0M641.7,506.2l-3.2,21.1M637.5,503.5l-4.8,20.1M633.4,500.5l-6.5,18.9M629.5,497.1l-8.0,17.5M625.7,493.3l-9.6,16.0M622.1,489.2l-11.0,14.3M618.8,484.8l-12.4,12.6M615.7,480.2l-13.6,10.7M612.8,475.4l-14.7,8.8M610.3,470.4l-15.8,6.7M608.0,465.2l-16.7,4.7M606.1,460.0l-17.4,2.6M604.6,454.7l-18.1,0.4M603.4,449.4l-18.5,-1.7M602.6,444.1l-18.9,-3.8M602.2,438.9l-19.0,-5.9M602.1,433.8l-19.1,-8.0M602.4,428.9l-18.9,-9.9M603.1,424.2l-18.6,-11.8M604.2,419.7l-18.2,-13.6M605.6,415.5l-17.6,-15.3M607.4,411.6l-16.9,-16.9M609.6,408.0l-16.0,-18.3M612.0,404.8l-15.1,-19.6M614.8,402.0l-14.0,-20.7M617.8,399.6l-12.7,-21.7M621.1,397.7l-11.4,-22.5M624.6,396.2l-10.0,-23.1M628.4,395.1l-8.5,-23.5M632.2,394.6l-6.9,-23.7M636.3,394.5l-5.3,-23.8M640.4,394.9l-3.7,-23.6M644.6,395.7l-2.0,-23.3M648.9,397.0l-0.3,-22.7M653.1,398.8l1.5,-22.0M657.3,401.0l3.2,-21.1M661.5,403.7l4.8,-20.1M665.6,406.7l6.5,-18.9M669.5,410.1l8.0,-17.5M673.3,413.9l9.6,-16.0M676.9,418.0l11.0,-14.3M680.2,422.4l12.4,-12.6M683.3,427.0l13.6,-10.7M686.2,431.8l14.7,-8.8M688.7,436.8l15.8,-6.7M691.0,442.0l16.7,-4.7M692.9,447.2l17.4,-2.6M694.4,452.5l18.1,-0.4M695.6,457.8l18.5,1.7M696.4,463.1l18.9,3.8M696.8,468.3l19.0,5.9M696.9,473.4l19.1,8.0M696.6,478.3l18.9,9.9M695.9,483.0l18.6,11.8M694.8,487.5l18.2,13.6M693.4,491.7l17.6,15.3M691.6,495.6l16.9,16.9M689.4,499.2l16.0,18.3M687.0,502.4l15.1,19.6M684.2,505.2l14.0,20.7M681.2,507.6l12.7,21.7" fill="none" stroke="#000" stroke-opacity="0.80" stroke-width="0.50"/>
<g clip-path="url(#d_in)">
<path d="M679.6,508.6L677.9,509.5L806.6,429.1L808.2,428.2ZM677.9,509.5L676.2,510.3L804.9,429.9L806.6,429.1ZM676.2,510.3L674.3,511.0L803.2,430.5L804.9,429.9ZM674.3,511.0L672.5,511.6L801.4,431.1L803.2,430.5ZM672.5,511.6L670.6,512.1L799.6,431.5L801.4,431.1ZM670.6,512.1L668.6,512.4L797.8,431.9L799.6,431.5ZM668.6,512.4L666.6,512.6L795.9,432.1L797.8,431.9ZM666.6,512.6L664.6,512.7L793.9,432.2L795.9,432.1ZM664.6,512.7L662.5,512.7L792.0,432.2L793.9,432.2ZM662.5,512.7L660.4,512.6L790.0,432.0L792.0,432.2ZM660.4,512.6L658.3,512.3L788.0,431.8L790.0,432.0ZM658.3,512.3L656.2,511.9L786.0,431.4L788.0,431.8ZM656.2,511.9L654.0,511.4L783.9,430.9L786.0,431.4ZM654.0,511.4L651.9,510.8L781.9,430.3L783.9,430.9ZM651.9,510.8L649.7,510.0L779.8,429.6L781.9,430.3ZM649.7,510.0L647.6,509.2L777.8,428.8L779.8,429.6ZM647.6,509.2L645.4,508.2L775.7,427.8L777.8,428.8ZM645.4,508.2L643.3,507.1L773.7,426.8L775.7,427.8ZM643.3,507.1L641.1,505.9L771.7,425.7L773.7,426.8ZM641.1,505.9L639.0,504.6L769.7,424.4L771.7,425.7ZM639.0,504.6L636.9,503.1L767.7,423.1L769.7,424.4ZM636.9,503.1L634.9,501.6L765.7,421.6L767.7,423.1ZM634.9,501.6L632.8,500.0L763.8,420.1L765.7,421.6ZM632.8,500.0L630.8,498.3L761.9,418.5L763.8,420.1ZM630.8,498.3L628.9,496.5L760.0,416.7L761.9,418.5ZM628.9,496.5L626.9,494.6L758.2,414.9L760.0,416.7ZM626.9,494.6L625.1,492.6L756.4,413.0L758.2,414.9ZM625.1,492.6L623.2,490.5L754.6,411.1L756.4,413.0ZM623.2,490.5L621.5,488.4L753.0,409.1L754.6,411.1ZM621.5,488.4L619.8,486.2L751.3,406.9L753.0,409.1ZM619.8,486.2L618.1,483.9L749.8,404.8L751.3,406.9ZM618.1,483.9L616.5,481.6L748.3,402.6L749.8,404.8ZM616.5,481.6L615.0,479.2L746.8,400.3L748.3,402.6ZM615.0,479.2L613.6,476.7L745.5,397.9L746.8,400.3ZM613.6,476.7L612.2,474.2L744.2,395.6L745.5,397.9ZM612.2,474.2L610.9,471.7L642.8,452.7L644.0,455.2ZM662.2,444.4L661.0,441.9L742.9,393.1L744.2,395.6ZM610.9,471.7L609.7,469.1L637.0,452.9L638.2,455.4ZM665.5,439.2L664.3,436.6L741.8,390.7L742.9,393.1ZM609.7,469.1L608.5,466.5L635.9,450.3L637.0,452.9ZM668.9,433.9L667.8,431.4L740.7,388.2L741.8,390.7ZM608.5,466.5L607.5,463.8L630.3,450.3L631.3,453.0ZM667.8,431.4L666.8,428.8L739.7,385.7L740.7,388.2ZM607.5,463.8L606.5,461.2L629.3,447.7L630.3,450.3ZM666.8,428.8L665.8,426.2L738.8,383.2L739.7,385.7ZM606.5,461.2L605.7,458.5L623.9,447.7L624.8,450.4ZM665.8,426.2L665.0,423.6L738.0,380.6L738.8,383.2ZM605.7,458.5L604.9,455.8L623.1,445.1L623.9,447.7ZM665.0,423.6L664.2,421.0L737.2,378.1L738.0,380.6ZM604.9,455.8L604.2,453.1L622.5,442.4L623.1,445.1ZM664.2,421.0L663.5,418.3L736.6,375.5L737.2,378.1ZM604.2,453.1L603.6,450.4L621.9,439.7L622.5,442.4ZM663.5,418.3L663.0,415.7L736.0,373.0L736.6,375.5ZM603.6,450.4L603.1,447.7L621.4,437.1L621.9,439.7ZM658.4,418.4L657.9,415.7L735.5,370.4L736.0,373.0ZM603.1,447.7L602.7,445.0L616.4,437.1L616.8,439.7ZM657.9,415.7L657.5,413.1L735.2,367.9L735.5,370.4ZM602.7,445.0L602.4,442.4L616.1,434.4L616.4,437.1ZM657.5,413.1L657.2,410.5L734.9,365.4L735.2,367.9ZM602.4,442.4L602.2,439.8L615.9,431.8L616.1,434.4ZM652.7,413.2L652.4,410.6L734.7,362.9L734.9,365.4ZM602.2,439.8L602.1,437.2L615.8,429.2L615.9,431.8ZM652.4,410.6L652.3,408.0L734.6,360.4L734.7,362.9ZM602.1,437.2L602.1,434.6L620.4,424.0L620.4,426.6ZM647.8,410.7L647.8,408.2L734.6,357.9L734.6,360.4ZM602.1,434.6L602.2,432.1L620.4,421.5L620.4,424.0ZM643.2,410.8L643.3,408.3L734.6,355.5L734.6,357.9ZM602.2,432.1L602.4,429.6L620.6,419.0L620.4,421.5ZM643.3,408.3L643.5,405.9L734.8,353.2L734.6,355.5ZM602.4,429.6L602.6,427.1L620.9,416.6L620.6,419.0ZM643.5,405.9L643.7,403.5L735.1,350.9L734.8,353.2ZM602.6,427.1L603.0,424.8L621.3,414.3L620.9,416.6ZM643.7,403.5L644.1,401.1L735.4,348.6L735.1,350.9ZM603.0,424.8L603.5,422.4L621.8,412.0L621.3,414.3ZM644.1,401.1L644.6,398.8L735.9,346.4L735.4,348.6ZM603.5,422.4L604.1,420.2L617.8,412.3L617.2,414.6ZM640.0,401.5L640.6,399.2L736.4,344.3L735.9,346.4ZM604.1,420.2L604.7,418.0L618.4,410.2L617.8,412.3ZM640.6,399.2L641.2,397.1L737.1,342.2L736.4,344.3ZM604.7,418.0L605.5,415.9L619.2,408.1L618.4,410.2ZM641.2,397.1L642.0,395.0L737.8,340.2L737.1,342.2ZM605.5,415.9L606.3,413.9L620.0,406.0L619.2,408.1ZM637.4,397.6L638.3,395.6L738.6,338.2L737.8,340.2ZM606.3,413.9L607.3,411.9L621.0,404.1L620.0,406.0ZM638.3,395.6L639.2,393.7L739.5,336.4L738.6,338.2ZM607.3,411.9L608.3,410.0L622.0,402.2L621.0,404.1ZM639.2,393.7L640.2,391.8L740.5,334.6L739.5,336.4ZM608.3,410.0L609.4,408.3L623.1,400.5L622.0,402.2ZM635.7,394.4L636.8,392.7L741.5,332.9L740.5,334.6ZM609.4,408.3L610.6,406.6L619.7,401.4L618.5,403.1ZM636.8,392.7L637.9,391.0L742.7,331.3L741.5,332.9ZM610.6,406.6L611.9,405.0L621.0,399.8L619.7,401.4ZM633.4,393.6L634.7,392.0L743.9,329.8L742.7,331.3ZM611.9,405.0L613.3,403.5L622.3,398.3L621.0,399.8ZM634.7,392.0L636.0,390.6L745.2,328.4L743.9,329.8ZM613.3,403.5L614.7,402.1L623.8,397.0L622.3,398.3ZM631.4,393.2L632.9,391.8L746.5,327.1L745.2,328.4ZM614.7,402.1L616.2,400.9L625.3,395.7L623.8,397.0ZM632.9,391.8L634.4,390.5L747.9,325.9L746.5,327.1ZM616.2,400.9L617.8,399.7L622.3,397.1L620.7,398.3ZM629.8,393.1L631.4,391.9L749.4,324.8L747.9,325.9ZM617.8,399.7L619.4,398.6L623.9,396.1L622.3,397.1ZM631.4,391.9L633.0,390.9L751.0,323.8L749.4,324.8Z" fill="#000094" stroke="#000094" stroke-width="0.70"/>
<path d="M644.0,455.2L642.8,452.7L647.3,450.0L648.6,452.5ZM638.2,455.4L637.0,452.9L641.6,450.2L642.8,452.7ZM664.3,436.6L663.2,434.1L667.8,431.4L668.9,433.9ZM663.2,434.1L662.2,431.5L666.8,428.8L667.8,431.4ZM624.8,450.4L623.9,447.7L628.5,445.1L629.3,447.7ZM659.0,421.0L658.4,418.4L663.0,415.7L663.5,418.3ZM616.8,439.7L616.4,437.1L621.0,434.4L621.4,437.1ZM616.4,437.1L616.1,434.4L620.7,431.8L621.0,434.4ZM652.9,415.8L652.7,413.2L657.2,410.5L657.5,413.1ZM616.1,434.4L615.9,431.8L620.5,429.2L620.7,431.8ZM615.9,431.8L615.8,429.2L620.4,426.6L620.5,429.2ZM647.9,413.2L647.8,410.7L652.3,408.0L652.4,410.6ZM617.2,414.6L617.8,412.3L622.3,409.7L621.8,412.0ZM634.6,396.3L635.7,394.4L640.2,391.8L639.2,393.7ZM618.5,403.1L619.7,401.4L624.3,398.8L623.1,400.5ZM632.2,395.3L633.4,393.6L637.9,391.0L636.8,392.7ZM619.7,401.4L621.0,399.8L625.5,397.2L624.3,398.8ZM630.1,394.6L631.4,393.2L636.0,390.6L634.7,392.0ZM628.3,394.4L629.8,393.1L634.4,390.5L632.9,391.8ZM620.7,398.3L622.3,397.1L631.4,391.9L629.8,393.1ZM622.3,397.1L623.9,396.1L633.0,390.9L631.4,391.9Z" fill="#003797" stroke="#003797" stroke-width="0.70"/>
<path d="M648.6,452.5L647.3,450.0L661.0,441.9L662.2,444.4ZM661.0,441.9L659.8,439.3L664.3,436.6L665.5,439.2ZM631.3,453.0L630.3,450.3L634.9,447.7L635.9,450.3ZM662.2,431.5L661.3,428.9L665.8,426.2L666.8,428.8ZM661.3,428.9L660.4,426.3L665.0,423.6L665.8,426.2ZM623.9,447.7L623.1,445.1L627.7,442.4L628.5,445.1ZM660.4,426.3L659.7,423.6L664.2,421.0L665.0,423.6ZM659.7,423.6L659.0,421.0L663.5,418.3L664.2,421.0ZM643.2,413.3L643.2,410.8L647.8,408.2L647.8,410.7ZM620.4,424.0L620.4,421.5L625.0,418.9L624.9,421.4ZM620.4,421.5L620.6,419.0L625.2,416.4L625.0,418.9ZM639.6,403.8L640.0,401.5L644.6,398.8L644.1,401.1ZM617.8,412.3L618.4,410.2L623.0,407.5L622.3,409.7ZM618.4,410.2L619.2,408.1L623.7,405.4L623.0,407.5ZM636.7,399.7L637.4,397.6L642.0,395.0L641.2,397.1ZM628.8,396.2L630.1,394.6L634.7,392.0L633.4,393.6ZM621.0,399.8L622.3,398.3L631.4,393.2L630.1,394.6ZM622.3,398.3L623.8,397.0L632.9,391.8L631.4,393.2ZM623.8,397.0L625.3,395.7L629.8,393.1L628.3,394.4Z" fill="#006f97" stroke="#006f97" stroke-width="0.70"/>
<path d="M642.8,452.7L641.6,450.2L646.1,447.4L647.3,450.0ZM656.4,444.6L655.2,442.0L659.8,439.3L661.0,441.9ZM637.0,452.9L635.9,450.3L640.4,447.6L641.6,450.2ZM659.8,439.3L658.7,436.8L663.2,434.1L664.3,436.6ZM630.3,450.3L629.3,447.7L633.9,445.0L634.9,447.7ZM623.1,445.1L622.5,442.4L627.0,439.7L627.7,442.4ZM622.5,442.4L621.9,439.7L626.4,437.1L627.0,439.7ZM653.3,418.4L652.9,415.8L657.5,413.1L657.9,415.7ZM648.1,415.8L647.9,413.2L652.4,410.6L652.7,413.2ZM620.5,429.2L620.4,426.6L624.9,423.9L625.0,426.5ZM620.4,426.6L620.4,424.0L624.9,421.4L624.9,423.9ZM620.6,419.0L620.9,416.6L625.5,414.0L625.2,416.4ZM639.2,406.1L639.6,403.8L644.1,401.1L643.7,403.5ZM636.0,401.9L636.7,399.7L641.2,397.1L640.6,399.2ZM619.2,408.1L620.0,406.0L624.6,403.4L623.7,405.4ZM620.0,406.0L621.0,404.1L625.5,401.5L624.6,403.4ZM633.7,398.2L634.6,396.3L639.2,393.7L638.3,395.6ZM621.0,404.1L622.0,402.2L626.5,399.6L625.5,401.5ZM622.0,402.2L623.1,400.5L627.6,397.9L626.5,399.6ZM631.1,397.0L632.2,395.3L636.8,392.7L635.7,394.4ZM623.1,400.5L624.3,398.8L633.4,393.6L632.2,395.3ZM624.3,398.8L625.5,397.2L630.1,394.6L628.8,396.2Z" fill="#00948e" stroke="#00948e" stroke-width="0.70"/>
<path d="M647.3,450.0L646.1,447.4L655.2,442.0L656.4,444.6ZM658.7,436.8L657.6,434.2L662.2,431.5L663.2,434.1ZM629.3,447.7L628.5,445.1L633.0,442.4L633.9,445.0ZM621.9,439.7L621.4,437.1L625.9,434.4L626.4,437.1ZM653.8,421.0L653.3,418.4L657.9,415.7L658.4,418.4ZM621.4,437.1L621.0,434.4L625.5,431.7L625.9,434.4ZM621.0,434.4L620.7,431.8L625.2,429.1L625.5,431.7ZM620.7,431.8L620.5,429.2L625.0,426.5L625.2,429.1ZM643.3,415.9L643.2,413.3L647.8,410.7L647.9,413.2ZM638.6,416.0L638.6,413.4L643.2,410.8L643.2,413.3ZM624.9,421.4L625.0,418.9L629.6,416.2L629.5,418.7ZM638.6,413.4L638.7,411.0L643.3,408.3L643.2,410.8ZM638.7,411.0L638.9,408.5L643.5,405.9L643.3,408.3ZM638.9,408.5L639.2,406.1L643.7,403.5L643.5,405.9ZM620.9,416.6L621.3,414.3L625.9,411.6L625.5,414.0ZM621.3,414.3L621.8,412.0L626.3,409.3L625.9,411.6ZM621.8,412.0L622.3,409.7L626.9,407.1L626.3,409.3ZM635.5,404.1L636.0,401.9L640.6,399.2L640.0,401.5ZM622.3,409.7L623.0,407.5L627.6,404.9L626.9,407.1ZM623.0,407.5L623.7,405.4L628.3,402.8L627.6,404.9ZM632.1,402.3L632.9,400.2L637.4,397.6L636.7,399.7ZM623.7,405.4L624.6,403.4L629.1,400.8L628.3,402.8ZM632.9,400.2L633.7,398.2L638.3,395.6L637.4,397.6ZM624.6,403.4L625.5,401.5L634.6,396.3L633.7,398.2ZM625.5,401.5L626.5,399.6L635.7,394.4L634.6,396.3ZM626.5,399.6L627.6,397.9L632.2,395.3L631.1,397.0Z" fill="#008f56" stroke="#008f56" stroke-width="0.70"/>
<path d="M641.6,450.2L640.4,447.6L645.0,444.9L646.1,447.4ZM655.2,442.0L654.1,439.5L658.7,436.8L659.8,439.3ZM635.9,450.3L634.9,447.7L639.4,445.0L640.4,447.6ZM657.6,434.2L656.7,431.6L661.3,428.9L662.2,431.5ZM654.4,423.7L653.8,421.0L658.4,418.4L659.0,421.0ZM648.4,418.4L648.1,415.8L652.7,413.2L652.9,415.8ZM624.9,423.9L624.9,421.4L629.5,418.7L629.5,421.3ZM629.5,418.7L629.6,416.2L638.7,411.0L638.6,413.4ZM625.0,418.9L625.2,416.4L638.9,408.5L638.7,411.0ZM625.2,416.4L625.5,414.0L639.2,406.1L638.9,408.5ZM625.5,414.0L625.9,411.6L639.6,403.8L639.2,406.1ZM625.9,411.6L626.3,409.3L640.0,401.5L639.6,403.8ZM626.3,409.3L626.9,407.1L636.0,401.9L635.5,404.1ZM626.9,407.1L627.6,404.9L636.7,399.7L636.0,401.9ZM627.6,404.9L628.3,402.8L632.9,400.2L632.1,402.3ZM628.3,402.8L629.1,400.8L633.7,398.2L632.9,400.2Z" fill="#008e1c" stroke="#008e1c" stroke-width="0.70"/>
<path d="M646.1,447.4L645.0,444.9L654.1,439.5L655.2,442.0ZM634.9,447.7L633.9,445.0L638.5,442.3L639.4,445.0ZM656.7,431.6L655.9,428.9L660.4,426.3L661.3,428.9ZM628.5,445.1L627.7,442.4L632.3,439.7L633.0,442.4ZM655.9,428.9L655.1,426.3L659.7,423.6L660.4,426.3ZM627.7,442.4L627.0,439.7L631.6,437.0L632.3,439.7ZM655.1,426.3L654.4,423.7L659.0,421.0L659.7,423.6ZM648.8,421.1L648.4,418.4L652.9,415.8L653.3,418.4ZM643.5,418.5L643.3,415.9L647.9,413.2L648.1,415.8ZM625.0,426.5L624.9,423.9L629.5,421.3L629.6,423.8ZM638.7,418.5L638.6,416.0L643.2,413.3L643.3,415.9ZM629.5,421.3L629.5,418.7L638.6,413.4L638.6,416.0Z" fill="#1c8f00" stroke="#1c8f00" stroke-width="0.70"/>
<path d="M640.4,447.6L639.4,445.0L644.0,442.3L645.0,444.9ZM654.1,439.5L653.1,436.9L657.6,434.2L658.7,436.8ZM627.0,439.7L626.4,437.1L631.0,434.4L631.6,437.0ZM626.4,437.1L625.9,434.4L630.5,431.7L631.0,434.4ZM649.3,423.7L648.8,421.1L653.3,418.4L653.8,421.0ZM625.9,434.4L625.5,431.7L630.1,429.1L630.5,431.7ZM625.5,431.7L625.2,429.1L629.8,426.5L630.1,429.1ZM643.8,421.1L643.5,418.5L648.1,415.8L648.4,418.4ZM625.2,429.1L625.0,426.5L629.6,423.8L629.8,426.5ZM629.6,423.8L629.5,421.3L638.6,416.0L638.7,418.5Z" fill="#569400" stroke="#569400" stroke-width="0.70"/>
<path d="M645.0,444.9L644.0,442.3L653.1,436.9L654.1,439.5ZM653.1,436.9L652.1,434.3L656.7,431.6L657.6,434.2ZM633.9,445.0L633.0,442.4L637.6,439.7L638.5,442.3ZM649.8,426.3L649.3,423.7L653.8,421.0L654.4,423.7ZM629.8,426.5L629.6,423.8L634.2,421.2L634.4,423.8ZM638.9,421.1L638.7,418.5L643.3,415.9L643.5,418.5Z" fill="#8e9700" stroke="#8e9700" stroke-width="0.70"/>
<path d="M639.4,445.0L638.5,442.3L643.0,439.6L644.0,442.3ZM648.5,439.6L647.6,437.0L652.1,434.3L653.1,436.9ZM652.1,434.3L651.3,431.6L655.9,428.9L656.7,431.6ZM633.0,442.4L632.3,439.7L636.8,437.0L637.6,439.7ZM651.3,431.6L650.5,429.0L655.1,426.3L655.9,428.9ZM632.3,439.7L631.6,437.0L636.2,434.4L636.8,437.0ZM650.5,429.0L649.8,426.3L654.4,423.7L655.1,426.3ZM644.2,423.7L643.8,421.1L648.4,418.4L648.8,421.1ZM630.1,429.1L629.8,426.5L634.4,423.8L634.7,426.4ZM639.2,423.8L638.9,421.1L643.5,418.5L643.8,421.1ZM634.4,423.8L634.2,421.2L638.7,418.5L638.9,421.1Z" fill="#9e6f00" stroke="#9e6f00" stroke-width="0.70"/>
<path d="M644.0,442.3L643.0,439.6L647.6,437.0L648.5,439.6ZM638.5,442.3L637.6,439.7L642.2,437.0L643.0,439.6ZM647.6,437.0L646.7,434.3L651.3,431.6L652.1,434.3ZM631.6,437.0L631.0,434.4L635.6,431.7L636.2,434.4ZM645.3,429.0L644.7,426.4L649.3,423.7L649.8,426.3ZM631.0,434.4L630.5,431.7L635.1,429.1L635.6,431.7ZM644.7,426.4L644.2,423.7L648.8,421.1L649.3,423.7ZM630.5,431.7L630.1,429.1L634.7,426.4L635.1,429.1ZM639.6,426.4L639.2,423.8L643.8,421.1L644.2,423.7ZM634.7,426.4L634.4,423.8L638.9,421.1L639.2,423.8Z" fill="#9e3700" stroke="#9e3700" stroke-width="0.70"/>
<path d="M643.0,439.6L642.2,437.0L646.7,434.3L647.6,437.0ZM637.6,439.7L636.8,437.0L650.5,429.0L651.3,431.6ZM636.8,437.0L636.2,434.4L649.8,426.3L650.5,429.0ZM636.2,434.4L635.6,431.7L644.7,426.4L645.3,429.0ZM635.6,431.7L635.1,429.1L644.2,423.7L644.7,426.4ZM635.1,429.1L634.7,426.4L639.2,423.8L639.6,426.4Z" fill="#940000" stroke="#940000" stroke-width="0.70"/>
<g fill="none" stroke="#000" stroke-opacity="0.75" stroke-width="0.55">
<path id="d_i" d="M679.6,508.6l-2.7,1.4l-2.9,1.2l-3.1,0.8l-3.1,0.5l-3.3,0.2l-3.3,-0.1l-3.4,-0.4l-3.4,-0.7l-3.5,-1l-3.4,-1.4l-3.5,-1.6l-3.4,-1.9l-3.4,-2.2l-3.3,-2.5l-3.2,-2.7l-3.1,-3l-3.1,-3.2l-2.8,-3.4l-2.8,-3.5l-2.5,-3.8l-2.4,-3.9l-2.2,-4l-2,-4.1l-1.8,-4.2l-1.6,-4.3l-1.3,-4.3l-1.1,-4.3l-0.9,-4.3l-0.6,-4.3l-0.3,-4.2l-0.1,-4.2l0.1,-4l0.4,-3.9l0.7,-3.8l0.9,-3.7l1.1,-3.4l1.4,-3.3l1.6,-3l1.8,-2.8l2,-2.6l2.3,-2.3l2.4,-2l2.6,-1.8"/>
<use href="#d_i" transform="matrix(0.9978 0 0 0.9978 7.1 -2.4)" stroke-width="0.55"/>
<use href="#d_i" transform="matrix(0.9957 0 0 0.9957 14.1 -4.8)" stroke-width="0.55"/>
<use href="#d_i" transform="matrix(0.9935 0 0 0.9935 21.2 -7.2)" stroke-width="0.55"/>
<use href="#d_i" transform="matrix(0.9913 0 0 0.9913 28.3 -9.6)" stroke-width="0.55"/>
<use href="#d_i" transform="matrix(0.9891 0 0 0.9891 35.3 -11.9)" stroke-width="0.56"/>
<use href="#d_i" transform="matrix(0.9870 0 0 0.9870 42.4 -14.3)" stroke-width="0.56"/>
<use href="#d_i" transform="matrix(0.9848 0 0 0.9848 49.5 -16.7)" stroke-width="0.56"/>
<use href="#d_i" transform="matrix(0.9826 0 0 0.9826 56.5 -19.1)" stroke-width="0.56"/>
<use href="#d_i" transform="matrix(0.9804 0 0 0.9804 63.6 -21.5)" stroke-width="0.56"/>
<use href="#d_i" transform="matrix(0.9783 0 0 0.9783 70.7 -23.9)" stroke-width="0.56"/>
<use href="#d_i" transform="matrix(0.9761 0 0 0.9761 77.8 -26.3)" stroke-width="0.56"/>
<use href="#d_i" transform="matrix(0.9739 0 0 0.9739 84.8 -28.7)" stroke-width="0.56"/>
<use href="#d_i" transform="matrix(0.9717 0 0 0.9717 91.9 -31.0)" stroke-width="0.57"/>
<use href="#d_i" transform="matrix(0.9696 0 0 0.9696 99.0 -33.4)" stroke-width="0.57"/>
<use href="#d_i" transform="matrix(0.9674 0 0 0.9674 106.0 -35.8)" stroke-width="0.57"/>
<use href="#d_i" transform="matrix(0.9652 0 0 0.9652 113.1 -38.2)" stroke-width="0.57"/>
<use href="#d_i" transform="matrix(0.9630 0 0 0.9630 120.2 -40.6)" stroke-width="0.57"/>
<use href="#d_i" transform="matrix(0.9609 0 0 0.9609 127.2 -43.0)" stroke-width="0.57"/>
<use href="#d_i" transform="matrix(0.9587 0 0 0.9587 134.3 -45.4)" stroke-width="0.57"/>
<use href="#d_i" transform="matrix(0.9565 0 0 0.9565 141.4 -47.8)" stroke-width="0.58"/>
<use href="#d_i" transform="matrix(0.9543 0 0 0.9543 148.4 -50.1)" stroke-width="0.58"/>
<use href="#d_i" transform="matrix(0.9522 0 0 0.9522 155.5 -52.5)" stroke-width="0.58"/>
<use href="#d_i" transform="matrix(0.9500 0 0 0.9500 162.6 -54.9)" stroke-width="0.58"/>
<path d="M679.6,508.6l128.6,-80.3M676.9,510.0l128.7,-80.4M674.0,511.2l128.9,-80.5M670.9,512.0l129.0,-80.5M667.8,512.5l129.2,-80.5M664.5,512.7l129.3,-80.6M661.2,512.6l129.5,-80.6M657.8,512.2l129.7,-80.5M654.4,511.5l129.9,-80.5M650.9,510.5l130.0,-80.4M647.5,509.1l130.2,-80.4M644.0,507.5l130.4,-80.3M640.6,505.6l130.5,-80.2M637.2,503.4l130.7,-80.1M633.9,500.9l130.9,-80.0M630.7,498.2l131.0,-79.8M627.6,495.2l131.2,-79.7M624.5,492.0l131.3,-79.5M621.7,488.6l131.5,-79.4M618.9,485.1l131.6,-79.2M616.4,481.3l131.8,-79.0M614.0,477.4l131.9,-78.8M611.8,473.4l132.0,-78.6M609.8,469.3l132.1,-78.4M608.0,465.1l132.2,-78.2M606.4,460.8l132.3,-78.0M605.1,456.5l132.3,-77.7M604.0,452.2l132.4,-77.5M603.1,447.9l132.4,-77.3M602.5,443.6l132.4,-77.1M602.2,439.4l132.5,-76.9M602.1,435.2l132.5,-76.7M602.2,431.2l132.5,-76.5M602.6,427.3l132.4,-76.3M603.3,423.5l132.4,-76.1M604.2,419.8l132.4,-75.9M605.3,416.4l132.3,-75.7M606.7,413.1l132.2,-75.6M608.3,410.1l132.2,-75.4M610.1,407.3l132.1,-75.3M612.1,404.7l132.0,-75.2M614.4,402.4l131.9,-75.0M616.8,400.4l131.7,-74.9M619.4,398.6l131.6,-74.9"/>
</g>
</g>
</g>
<g class="ls" fill="#222" stroke="#222" stroke-width="0.12">
<text x="6.8" y="36.6" font-size="14.20" textLength="58.0" lengthAdjust="spacingAndGlyphs">S, Mises</text>
<text x="6.8" y="53.4" font-size="14.20" textLength="83.2" lengthAdjust="spacingAndGlyphs">(Avg: 75%)</text>
<rect x="7.2" y="67.20" width="20.4" height="14.10" fill="#f00000"/>
<rect x="7.2" y="81.00" width="20.4" height="14.10" fill="#ff5a00"/>
<rect x="7.2" y="94.80" width="20.4" height="14.10" fill="#ffb400"/>
<rect x="7.2" y="108.60" width="20.4" height="14.10" fill="#e6f500"/>
<rect x="7.2" y="122.40" width="20.4" height="14.10" fill="#8cf000"/>
<rect x="7.2" y="136.20" width="20.4" height="14.10" fill="#2ee800"/>
<rect x="7.2" y="150.00" width="20.4" height="14.10" fill="#00e62e"/>
<rect x="7.2" y="163.80" width="20.4" height="14.10" fill="#00e88c"/>
<rect x="7.2" y="177.60" width="20.4" height="14.10" fill="#00f0e6"/>
<rect x="7.2" y="191.40" width="20.4" height="14.10" fill="#00b4f5"/>
<rect x="7.2" y="205.20" width="20.4" height="14.10" fill="#005af5"/>
<rect x="7.2" y="219.00" width="20.4" height="14.10" fill="#0000f0"/>
<line x1="7.2" y1="67.20" x2="27.6" y2="67.20" stroke="#333" stroke-opacity="0.5" stroke-width="0.8"/>
<line x1="27.6" y1="67.20" x2="34.4" y2="67.20" stroke="#555" stroke-width="1.1"/>
<line x1="7.2" y1="81.00" x2="27.6" y2="81.00" stroke="#333" stroke-opacity="0.5" stroke-width="0.8"/>
<line x1="27.6" y1="81.00" x2="34.4" y2="81.00" stroke="#555" stroke-width="1.1"/>
<line x1="7.2" y1="94.80" x2="27.6" y2="94.80" stroke="#333" stroke-opacity="0.5" stroke-width="0.8"/>
<line x1="27.6" y1="94.80" x2="34.4" y2="94.80" stroke="#555" stroke-width="1.1"/>
<line x1="7.2" y1="108.60" x2="27.6" y2="108.60" stroke="#333" stroke-opacity="0.5" stroke-width="0.8"/>
<line x1="27.6" y1="108.60" x2="34.4" y2="108.60" stroke="#555" stroke-width="1.1"/>
<line x1="7.2" y1="122.40" x2="27.6" y2="122.40" stroke="#333" stroke-opacity="0.5" stroke-width="0.8"/>
<line x1="27.6" y1="122.40" x2="34.4" y2="122.40" stroke="#555" stroke-width="1.1"/>
<line x1="7.2" y1="136.20" x2="27.6" y2="136.20" stroke="#333" stroke-opacity="0.5" stroke-width="0.8"/>
<line x1="27.6" y1="136.20" x2="34.4" y2="136.20" stroke="#555" stroke-width="1.1"/>
<line x1="7.2" y1="150.00" x2="27.6" y2="150.00" stroke="#333" stroke-opacity="0.5" stroke-width="0.8"/>
<line x1="27.6" y1="150.00" x2="34.4" y2="150.00" stroke="#555" stroke-width="1.1"/>
<line x1="7.2" y1="163.80" x2="27.6" y2="163.80" stroke="#333" stroke-opacity="0.5" stroke-width="0.8"/>
<line x1="27.6" y1="163.80" x2="34.4" y2="163.80" stroke="#555" stroke-width="1.1"/>
<line x1="7.2" y1="177.60" x2="27.6" y2="177.60" stroke="#333" stroke-opacity="0.5" stroke-width="0.8"/>
<line x1="27.6" y1="177.60" x2="34.4" y2="177.60" stroke="#555" stroke-width="1.1"/>
<line x1="7.2" y1="191.40" x2="27.6" y2="191.40" stroke="#333" stroke-opacity="0.5" stroke-width="0.8"/>
<line x1="27.6" y1="191.40" x2="34.4" y2="191.40" stroke="#555" stroke-width="1.1"/>
<line x1="7.2" y1="205.20" x2="27.6" y2="205.20" stroke="#333" stroke-opacity="0.5" stroke-width="0.8"/>
<line x1="27.6" y1="205.20" x2="34.4" y2="205.20" stroke="#555" stroke-width="1.1"/>
<line x1="7.2" y1="219.00" x2="27.6" y2="219.00" stroke="#333" stroke-opacity="0.5" stroke-width="0.8"/>
<line x1="27.6" y1="219.00" x2="34.4" y2="219.00" stroke="#555" stroke-width="1.1"/>
<line x1="7.2" y1="232.80" x2="27.6" y2="232.80" stroke="#333" stroke-opacity="0.5" stroke-width="0.8"/>
<line x1="27.6" y1="232.80" x2="34.4" y2="232.80" stroke="#555" stroke-width="1.1"/>
<rect x="7.2" y="67.20" width="20.4" height="165.60" fill="none" stroke="#222" stroke-opacity="0.6" stroke-width="0.8"/>
<text x="41.4" y="70.70" font-size="14.20" textLength="89.5" lengthAdjust="spacingAndGlyphs">+7.193e+02</text>
<text x="41.4" y="84.50" font-size="14.20" textLength="89.5" lengthAdjust="spacingAndGlyphs">+6.606e+02</text>
<text x="41.4" y="98.30" font-size="14.20" textLength="89.5" lengthAdjust="spacingAndGlyphs">+6.020e+02</text>
<text x="41.4" y="112.10" font-size="14.20" textLength="89.5" lengthAdjust="spacingAndGlyphs">+5.433e+02</text>
<text x="41.4" y="125.90" font-size="14.20" textLength="89.5" lengthAdjust="spacingAndGlyphs">+4.847e+02</text>
<text x="41.4" y="139.70" font-size="14.20" textLength="89.5" lengthAdjust="spacingAndGlyphs">+4.260e+02</text>
<text x="41.4" y="153.50" font-size="14.20" textLength="89.5" lengthAdjust="spacingAndGlyphs">+3.674e+02</text>
<text x="41.4" y="167.30" font-size="14.20" textLength="89.5" lengthAdjust="spacingAndGlyphs">+3.087e+02</text>
<text x="41.4" y="181.10" font-size="14.20" textLength="89.5" lengthAdjust="spacingAndGlyphs">+2.501e+02</text>
<text x="41.4" y="194.90" font-size="14.20" textLength="89.5" lengthAdjust="spacingAndGlyphs">+1.914e+02</text>
<text x="41.4" y="208.70" font-size="14.20" textLength="89.5" lengthAdjust="spacingAndGlyphs">+1.328e+02</text>
<text x="41.4" y="222.50" font-size="14.20" textLength="89.5" lengthAdjust="spacingAndGlyphs">+7.415e+01</text>
<text x="41.4" y="236.30" font-size="14.20" textLength="89.5" lengthAdjust="spacingAndGlyphs">+1.551e+01</text>
<text x="466.8" y="42.3" font-size="13.40" textLength="34.8" lengthAdjust="spacingAndGlyphs">PEEQ</text>
<text x="466.8" y="57.9" font-size="13.40" textLength="78.1" lengthAdjust="spacingAndGlyphs">(Avg: 75%)</text>
<rect x="467.4" y="71.40" width="19.0" height="13.30" fill="#f00000"/>
<rect x="467.4" y="84.40" width="19.0" height="13.30" fill="#ff5a00"/>
<rect x="467.4" y="97.40" width="19.0" height="13.30" fill="#ffb400"/>
<rect x="467.4" y="110.40" width="19.0" height="13.30" fill="#e6f500"/>
<rect x="467.4" y="123.40" width="19.0" height="13.30" fill="#8cf000"/>
<rect x="467.4" y="136.40" width="19.0" height="13.30" fill="#2ee800"/>
<rect x="467.4" y="149.40" width="19.0" height="13.30" fill="#00e62e"/>
<rect x="467.4" y="162.40" width="19.0" height="13.30" fill="#00e88c"/>
<rect x="467.4" y="175.40" width="19.0" height="13.30" fill="#00f0e6"/>
<rect x="467.4" y="188.40" width="19.0" height="13.30" fill="#00b4f5"/>
<rect x="467.4" y="201.40" width="19.0" height="13.30" fill="#005af5"/>
<rect x="467.4" y="214.40" width="19.0" height="13.30" fill="#0000f0"/>
<line x1="467.4" y1="71.40" x2="486.4" y2="71.40" stroke="#333" stroke-opacity="0.5" stroke-width="0.8"/>
<line x1="486.4" y1="71.40" x2="493.0" y2="71.40" stroke="#555" stroke-width="1.1"/>
<line x1="467.4" y1="84.40" x2="486.4" y2="84.40" stroke="#333" stroke-opacity="0.5" stroke-width="0.8"/>
<line x1="486.4" y1="84.40" x2="493.0" y2="84.40" stroke="#555" stroke-width="1.1"/>
<line x1="467.4" y1="97.40" x2="486.4" y2="97.40" stroke="#333" stroke-opacity="0.5" stroke-width="0.8"/>
<line x1="486.4" y1="97.40" x2="493.0" y2="97.40" stroke="#555" stroke-width="1.1"/>
<line x1="467.4" y1="110.40" x2="486.4" y2="110.40" stroke="#333" stroke-opacity="0.5" stroke-width="0.8"/>
<line x1="486.4" y1="110.40" x2="493.0" y2="110.40" stroke="#555" stroke-width="1.1"/>
<line x1="467.4" y1="123.40" x2="486.4" y2="123.40" stroke="#333" stroke-opacity="0.5" stroke-width="0.8"/>
<line x1="486.4" y1="123.40" x2="493.0" y2="123.40" stroke="#555" stroke-width="1.1"/>
<line x1="467.4" y1="136.40" x2="486.4" y2="136.40" stroke="#333" stroke-opacity="0.5" stroke-width="0.8"/>
<line x1="486.4" y1="136.40" x2="493.0" y2="136.40" stroke="#555" stroke-width="1.1"/>
<line x1="467.4" y1="149.40" x2="486.4" y2="149.40" stroke="#333" stroke-opacity="0.5" stroke-width="0.8"/>
<line x1="486.4" y1="149.40" x2="493.0" y2="149.40" stroke="#555" stroke-width="1.1"/>
<line x1="467.4" y1="162.40" x2="486.4" y2="162.40" stroke="#333" stroke-opacity="0.5" stroke-width="0.8"/>
<line x1="486.4" y1="162.40" x2="493.0" y2="162.40" stroke="#555" stroke-width="1.1"/>
<line x1="467.4" y1="175.40" x2="486.4" y2="175.40" stroke="#333" stroke-opacity="0.5" stroke-width="0.8"/>
<line x1="486.4" y1="175.40" x2="493.0" y2="175.40" stroke="#555" stroke-width="1.1"/>
<line x1="467.4" y1="188.40" x2="486.4" y2="188.40" stroke="#333" stroke-opacity="0.5" stroke-width="0.8"/>
<line x1="486.4" y1="188.40" x2="493.0" y2="188.40" stroke="#555" stroke-width="1.1"/>
<line x1="467.4" y1="201.40" x2="486.4" y2="201.40" stroke="#333" stroke-opacity="0.5" stroke-width="0.8"/>
<line x1="486.4" y1="201.40" x2="493.0" y2="201.40" stroke="#555" stroke-width="1.1"/>
<line x1="467.4" y1="214.40" x2="486.4" y2="214.40" stroke="#333" stroke-opacity="0.5" stroke-width="0.8"/>
<line x1="486.4" y1="214.40" x2="493.0" y2="214.40" stroke="#555" stroke-width="1.1"/>
<line x1="467.4" y1="227.40" x2="486.4" y2="227.40" stroke="#333" stroke-opacity="0.5" stroke-width="0.8"/>
<line x1="486.4" y1="227.40" x2="493.0" y2="227.40" stroke="#555" stroke-width="1.1"/>
<rect x="467.4" y="71.40" width="19.0" height="156.00" fill="none" stroke="#222" stroke-opacity="0.6" stroke-width="0.8"/>
<text x="499.8" y="74.20" font-size="13.40" textLength="79.3" lengthAdjust="spacingAndGlyphs">+2.252e-03</text>
<text x="499.8" y="87.20" font-size="13.40" textLength="79.3" lengthAdjust="spacingAndGlyphs">+2.065e-03</text>
<text x="499.8" y="100.20" font-size="13.40" textLength="79.3" lengthAdjust="spacingAndGlyphs">+1.877e-03</text>
<text x="499.8" y="113.20" font-size="13.40" textLength="79.3" lengthAdjust="spacingAndGlyphs">+1.689e-03</text>
<text x="499.8" y="126.20" font-size="13.40" textLength="79.3" lengthAdjust="spacingAndGlyphs">+1.502e-03</text>
<text x="499.8" y="139.20" font-size="13.40" textLength="79.3" lengthAdjust="spacingAndGlyphs">+1.314e-03</text>
<text x="499.8" y="152.20" font-size="13.40" textLength="79.3" lengthAdjust="spacingAndGlyphs">+1.126e-03</text>
<text x="499.8" y="165.20" font-size="13.40" textLength="79.3" lengthAdjust="spacingAndGlyphs">+9.385e-04</text>
<text x="499.8" y="178.20" font-size="13.40" textLength="79.3" lengthAdjust="spacingAndGlyphs">+7.508e-04</text>
<text x="499.8" y="191.20" font-size="13.40" textLength="79.3" lengthAdjust="spacingAndGlyphs">+5.631e-04</text>
<text x="499.8" y="204.20" font-size="13.40" textLength="79.3" lengthAdjust="spacingAndGlyphs">+3.754e-04</text>
<text x="499.8" y="217.20" font-size="13.40" textLength="79.3" lengthAdjust="spacingAndGlyphs">+1.877e-04</text>
<text x="499.8" y="230.20" font-size="13.40" textLength="84.1" lengthAdjust="spacingAndGlyphs">+0.000e+00</text>
<text x="6.8" y="302.2" font-size="15.70" textLength="65.6" lengthAdjust="spacingAndGlyphs">S, Mises</text>
<text x="6.8" y="320.6" font-size="15.70" textLength="94.1" lengthAdjust="spacingAndGlyphs">(Avg: 75%)</text>
<rect x="7.2" y="336.80" width="22.8" height="15.91" fill="#f00000"/>
<rect x="7.2" y="352.41" width="22.8" height="15.91" fill="#ff5a00"/>
<rect x="7.2" y="368.02" width="22.8" height="15.91" fill="#ffb400"/>
<rect x="7.2" y="383.63" width="22.8" height="15.91" fill="#e6f500"/>
<rect x="7.2" y="399.24" width="22.8" height="15.91" fill="#8cf000"/>
<rect x="7.2" y="414.85" width="22.8" height="15.91" fill="#2ee800"/>
<rect x="7.2" y="430.46" width="22.8" height="15.91" fill="#00e62e"/>
<rect x="7.2" y="446.07" width="22.8" height="15.91" fill="#00e88c"/>
<rect x="7.2" y="461.68" width="22.8" height="15.91" fill="#00f0e6"/>
<rect x="7.2" y="477.29" width="22.8" height="15.91" fill="#00b4f5"/>
<rect x="7.2" y="492.90" width="22.8" height="15.91" fill="#005af5"/>
<rect x="7.2" y="508.51" width="22.8" height="15.91" fill="#0000f0"/>
<line x1="7.2" y1="336.80" x2="30.0" y2="336.80" stroke="#333" stroke-opacity="0.5" stroke-width="0.8"/>
<line x1="30.0" y1="336.80" x2="38.0" y2="336.80" stroke="#555" stroke-width="1.1"/>
<line x1="7.2" y1="352.41" x2="30.0" y2="352.41" stroke="#333" stroke-opacity="0.5" stroke-width="0.8"/>
<line x1="30.0" y1="352.41" x2="38.0" y2="352.41" stroke="#555" stroke-width="1.1"/>
<line x1="7.2" y1="368.02" x2="30.0" y2="368.02" stroke="#333" stroke-opacity="0.5" stroke-width="0.8"/>
<line x1="30.0" y1="368.02" x2="38.0" y2="368.02" stroke="#555" stroke-width="1.1"/>
<line x1="7.2" y1="383.63" x2="30.0" y2="383.63" stroke="#333" stroke-opacity="0.5" stroke-width="0.8"/>
<line x1="30.0" y1="383.63" x2="38.0" y2="383.63" stroke="#555" stroke-width="1.1"/>
<line x1="7.2" y1="399.24" x2="30.0" y2="399.24" stroke="#333" stroke-opacity="0.5" stroke-width="0.8"/>
<line x1="30.0" y1="399.24" x2="38.0" y2="399.24" stroke="#555" stroke-width="1.1"/>
<line x1="7.2" y1="414.85" x2="30.0" y2="414.85" stroke="#333" stroke-opacity="0.5" stroke-width="0.8"/>
<line x1="30.0" y1="414.85" x2="38.0" y2="414.85" stroke="#555" stroke-width="1.1"/>
<line x1="7.2" y1="430.46" x2="30.0" y2="430.46" stroke="#333" stroke-opacity="0.5" stroke-width="0.8"/>
<line x1="30.0" y1="430.46" x2="38.0" y2="430.46" stroke="#555" stroke-width="1.1"/>
<line x1="7.2" y1="446.07" x2="30.0" y2="446.07" stroke="#333" stroke-opacity="0.5" stroke-width="0.8"/>
<line x1="30.0" y1="446.07" x2="38.0" y2="446.07" stroke="#555" stroke-width="1.1"/>
<line x1="7.2" y1="461.68" x2="30.0" y2="461.68" stroke="#333" stroke-opacity="0.5" stroke-width="0.8"/>
<line x1="30.0" y1="461.68" x2="38.0" y2="461.68" stroke="#555" stroke-width="1.1"/>
<line x1="7.2" y1="477.29" x2="30.0" y2="477.29" stroke="#333" stroke-opacity="0.5" stroke-width="0.8"/>
<line x1="30.0" y1="477.29" x2="38.0" y2="477.29" stroke="#555" stroke-width="1.1"/>
<line x1="7.2" y1="492.90" x2="30.0" y2="492.90" stroke="#333" stroke-opacity="0.5" stroke-width="0.8"/>
<line x1="30.0" y1="492.90" x2="38.0" y2="492.90" stroke="#555" stroke-width="1.1"/>
<line x1="7.2" y1="508.51" x2="30.0" y2="508.51" stroke="#333" stroke-opacity="0.5" stroke-width="0.8"/>
<line x1="30.0" y1="508.51" x2="38.0" y2="508.51" stroke="#555" stroke-width="1.1"/>
<line x1="7.2" y1="524.12" x2="30.0" y2="524.12" stroke="#333" stroke-opacity="0.5" stroke-width="0.8"/>
<line x1="30.0" y1="524.12" x2="38.0" y2="524.12" stroke="#555" stroke-width="1.1"/>
<rect x="7.2" y="336.80" width="22.8" height="187.32" fill="none" stroke="#222" stroke-opacity="0.6" stroke-width="0.8"/>
<text x="46.2" y="341.30" font-size="15.70" textLength="101.2" lengthAdjust="spacingAndGlyphs">+5.757e+02</text>
<text x="46.2" y="356.91" font-size="15.70" textLength="101.2" lengthAdjust="spacingAndGlyphs">+5.296e+02</text>
<text x="46.2" y="372.52" font-size="15.70" textLength="101.2" lengthAdjust="spacingAndGlyphs">+4.835e+02</text>
<text x="46.2" y="388.13" font-size="15.70" textLength="101.2" lengthAdjust="spacingAndGlyphs">+4.373e+02</text>
<text x="46.2" y="403.74" font-size="15.70" textLength="101.2" lengthAdjust="spacingAndGlyphs">+3.912e+02</text>
<text x="46.2" y="419.35" font-size="15.70" textLength="101.2" lengthAdjust="spacingAndGlyphs">+3.451e+02</text>
<text x="46.2" y="434.96" font-size="15.70" textLength="101.2" lengthAdjust="spacingAndGlyphs">+2.989e+02</text>
<text x="46.2" y="450.57" font-size="15.70" textLength="101.2" lengthAdjust="spacingAndGlyphs">+2.528e+02</text>
<text x="46.2" y="466.18" font-size="15.70" textLength="101.2" lengthAdjust="spacingAndGlyphs">+2.067e+02</text>
<text x="46.2" y="481.79" font-size="15.70" textLength="101.2" lengthAdjust="spacingAndGlyphs">+1.605e+02</text>
<text x="46.2" y="497.40" font-size="15.70" textLength="101.2" lengthAdjust="spacingAndGlyphs">+1.144e+02</text>
<text x="46.2" y="513.01" font-size="15.70" textLength="101.2" lengthAdjust="spacingAndGlyphs">+6.826e+01</text>
<text x="46.2" y="528.62" font-size="15.70" textLength="101.2" lengthAdjust="spacingAndGlyphs">+2.213e+01</text>
<text x="442.2" y="303.9" font-size="16.00" textLength="40.5" lengthAdjust="spacingAndGlyphs">PEEQ</text>
<text x="442.2" y="322.7" font-size="16.00" textLength="91.0" lengthAdjust="spacingAndGlyphs">(Avg: 75%)</text>
<rect x="442.4" y="338.20" width="22.4" height="15.50" fill="#f00000"/>
<rect x="442.4" y="353.40" width="22.4" height="15.50" fill="#ff5a00"/>
<rect x="442.4" y="368.60" width="22.4" height="15.50" fill="#ffb400"/>
<rect x="442.4" y="383.80" width="22.4" height="15.50" fill="#e6f500"/>
<rect x="442.4" y="399.00" width="22.4" height="15.50" fill="#8cf000"/>
<rect x="442.4" y="414.20" width="22.4" height="15.50" fill="#2ee800"/>
<rect x="442.4" y="429.40" width="22.4" height="15.50" fill="#00e62e"/>
<rect x="442.4" y="444.60" width="22.4" height="15.50" fill="#00e88c"/>
<rect x="442.4" y="459.80" width="22.4" height="15.50" fill="#00f0e6"/>
<rect x="442.4" y="475.00" width="22.4" height="15.50" fill="#00b4f5"/>
<rect x="442.4" y="490.20" width="22.4" height="15.50" fill="#005af5"/>
<rect x="442.4" y="505.40" width="22.4" height="15.50" fill="#0000f0"/>
<line x1="442.4" y1="338.20" x2="464.8" y2="338.20" stroke="#333" stroke-opacity="0.5" stroke-width="0.8"/>
<line x1="464.8" y1="338.20" x2="472.4" y2="338.20" stroke="#555" stroke-width="1.1"/>
<line x1="442.4" y1="353.40" x2="464.8" y2="353.40" stroke="#333" stroke-opacity="0.5" stroke-width="0.8"/>
<line x1="464.8" y1="353.40" x2="472.4" y2="353.40" stroke="#555" stroke-width="1.1"/>
<line x1="442.4" y1="368.60" x2="464.8" y2="368.60" stroke="#333" stroke-opacity="0.5" stroke-width="0.8"/>
<line x1="464.8" y1="368.60" x2="472.4" y2="368.60" stroke="#555" stroke-width="1.1"/>
<line x1="442.4" y1="383.80" x2="464.8" y2="383.80" stroke="#333" stroke-opacity="0.5" stroke-width="0.8"/>
<line x1="464.8" y1="383.80" x2="472.4" y2="383.80" stroke="#555" stroke-width="1.1"/>
<line x1="442.4" y1="399.00" x2="464.8" y2="399.00" stroke="#333" stroke-opacity="0.5" stroke-width="0.8"/>
<line x1="464.8" y1="399.00" x2="472.4" y2="399.00" stroke="#555" stroke-width="1.1"/>
<line x1="442.4" y1="414.20" x2="464.8" y2="414.20" stroke="#333" stroke-opacity="0.5" stroke-width="0.8"/>
<line x1="464.8" y1="414.20" x2="472.4" y2="414.20" stroke="#555" stroke-width="1.1"/>
<line x1="442.4" y1="429.40" x2="464.8" y2="429.40" stroke="#333" stroke-opacity="0.5" stroke-width="0.8"/>
<line x1="464.8" y1="429.40" x2="472.4" y2="429.40" stroke="#555" stroke-width="1.1"/>
<line x1="442.4" y1="444.60" x2="464.8" y2="444.60" stroke="#333" stroke-opacity="0.5" stroke-width="0.8"/>
<line x1="464.8" y1="444.60" x2="472.4" y2="444.60" stroke="#555" stroke-width="1.1"/>
<line x1="442.4" y1="459.80" x2="464.8" y2="459.80" stroke="#333" stroke-opacity="0.5" stroke-width="0.8"/>
<line x1="464.8" y1="459.80" x2="472.4" y2="459.80" stroke="#555" stroke-width="1.1"/>
<line x1="442.4" y1="475.00" x2="464.8" y2="475.00" stroke="#333" stroke-opacity="0.5" stroke-width="0.8"/>
<line x1="464.8" y1="475.00" x2="472.4" y2="475.00" stroke="#555" stroke-width="1.1"/>
<line x1="442.4" y1="490.20" x2="464.8" y2="490.20" stroke="#333" stroke-opacity="0.5" stroke-width="0.8"/>
<line x1="464.8" y1="490.20" x2="472.4" y2="490.20" stroke="#555" stroke-width="1.1"/>
<line x1="442.4" y1="505.40" x2="464.8" y2="505.40" stroke="#333" stroke-opacity="0.5" stroke-width="0.8"/>
<line x1="464.8" y1="505.40" x2="472.4" y2="505.40" stroke="#555" stroke-width="1.1"/>
<line x1="442.4" y1="520.60" x2="464.8" y2="520.60" stroke="#333" stroke-opacity="0.5" stroke-width="0.8"/>
<line x1="464.8" y1="520.60" x2="472.4" y2="520.60" stroke="#555" stroke-width="1.1"/>
<rect x="442.4" y="338.20" width="22.4" height="182.40" fill="none" stroke="#222" stroke-opacity="0.6" stroke-width="0.8"/>
<text x="480.6" y="342.10" font-size="16.00" textLength="92.3" lengthAdjust="spacingAndGlyphs">+2.642e-04</text>
<text x="480.6" y="357.30" font-size="16.00" textLength="92.3" lengthAdjust="spacingAndGlyphs">+2.422e-04</text>
<text x="480.6" y="372.50" font-size="16.00" textLength="92.3" lengthAdjust="spacingAndGlyphs">+2.201e-04</text>
<text x="480.6" y="387.70" font-size="16.00" textLength="92.3" lengthAdjust="spacingAndGlyphs">+1.981e-04</text>
<text x="480.6" y="402.90" font-size="16.00" textLength="92.3" lengthAdjust="spacingAndGlyphs">+1.761e-04</text>
<text x="480.6" y="418.10" font-size="16.00" textLength="92.3" lengthAdjust="spacingAndGlyphs">+1.541e-04</text>
<text x="480.6" y="433.30" font-size="16.00" textLength="92.3" lengthAdjust="spacingAndGlyphs">+1.321e-04</text>
<text x="480.6" y="448.50" font-size="16.00" textLength="92.3" lengthAdjust="spacingAndGlyphs">+1.101e-04</text>
<text x="480.6" y="463.70" font-size="16.00" textLength="92.3" lengthAdjust="spacingAndGlyphs">+8.806e-05</text>
<text x="480.6" y="478.90" font-size="16.00" textLength="92.3" lengthAdjust="spacingAndGlyphs">+6.604e-05</text>
<text x="480.6" y="494.10" font-size="16.00" textLength="92.3" lengthAdjust="spacingAndGlyphs">+4.403e-05</text>
<text x="480.6" y="509.30" font-size="16.00" textLength="92.3" lengthAdjust="spacingAndGlyphs">+2.201e-05</text>
<text x="480.6" y="524.50" font-size="16.00" textLength="97.8" lengthAdjust="spacingAndGlyphs">+0.000e+00</text>
</g>
<g class="lsr" font-size="22.5" fill="#111">
<text x="227.6" y="286.6">(a)</text>
<text x="672.2" y="286.6">(b)</text>
<text x="227.6" y="566.6">(c)</text>
<text x="672.4" y="566.4">(d)</text>
</g>
</svg></body></html>
